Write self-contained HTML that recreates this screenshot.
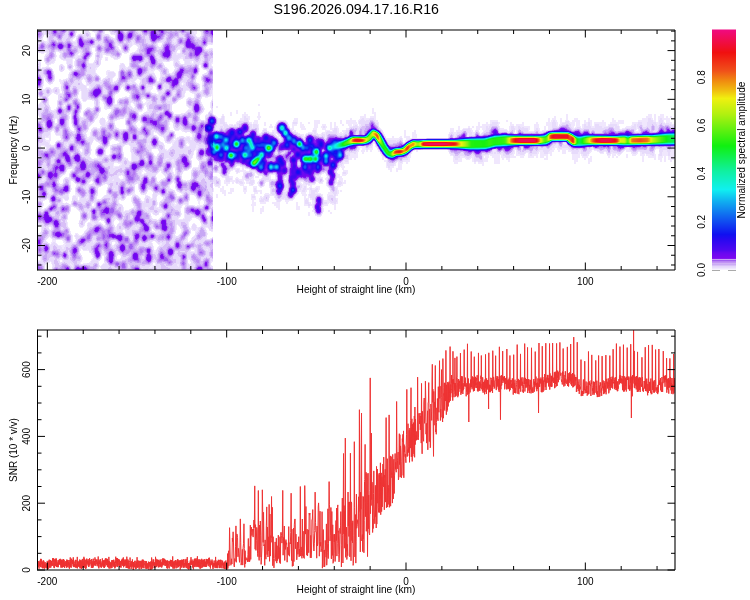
<!DOCTYPE html><html><head><meta charset="utf-8"><style>html,body{margin:0;padding:0;background:#fff;width:750px;height:600px;overflow:hidden}svg{display:block}text{font-family:'Liberation Sans',Arial,Helvetica,sans-serif;font-size:10px;fill:#000}</style></head><body>
<svg xmlns="http://www.w3.org/2000/svg" width="750" height="600" viewBox="0 0 750 600">
<rect width="750" height="600" fill="#fff"/>
<text transform="translate(356.2,13.9) scale(1,1.07)" text-anchor="middle" style="font-size:14.2px">S196.2026.094.17.16.R16</text>
<g clip-path="url(#c1)"><defs><filter id="fn" filterUnits="userSpaceOnUse" x="30" y="24" width="186" height="252" color-interpolation-filters="sRGB"><feGaussianBlur stdDeviation="0.8"/><feComponentTransfer><feFuncR type="table" tableValues="1 1 1 1 1 1 1 1 1 1 1 1 1 1 1 1 1 0.9412 0.9412 0.9412 0.9412 0.9412 0.9412 0.9098 0.9098 0.9098 0.9098 0.9098 0.9098 0.9098 0.9098 0.9098 0.9098 0.9098 0.9098 0.9098 0.9098 0.9098 0.9098 0.9098 0.9098 0.9098 0.8471 0.8471 0.8471 0.8471 0.8471 0.8471 0.8471 0.8471 0.8471 0.8471 0.8471 0.8471 0.8471 0.8471 0.8471 0.7843 0.7843 0.7843 0.7843 0.7843 0.7843 0.7843 0.7843 0.7843 0.7843 0.7843 0.7843 0.7843 0.7843 0.7529 0.7529 0.7529 0.7529 0.7529 0.7529 0.7529 0.7529 0.7529 0.7529 0.7529 0.7529 0.7529 0.7529 0.7059 0.7059 0.7059 0.7059 0.7059 0.7059 0.7059 0.7059 0.7059 0.6275 0.6275 0.6275 0.6275 0.6275 0.6275 0.6275 0.6275 0.6275 0.6275 0.6275 0.6275 0.6275 0.6275 0.6275 0.6275 0.6275 0.5451 0.5412 0.5373 0.5333 0.5294 0.5255 0.5216 0.5176 0.5137 0.5098 0.5059 0.502 0.498 0.498 0.4941 0.4902 0.4863 0.4824 0.4784 0.4745 0.4745 0.4745 0.4706 0.4706 0.4667 0.4667 0.4667 0.4627 0.4627 0.4588 0.4588 0.4588 0.4549 0.4549 0.451 0.451 0.451 0.4471 0.4471 0.4431 0.4431 0.4392 0.4392 0.4392 0.4353 0.4353 0.4314 0.4314 0.4314 0.4275 0.4275 0.4235 0.4235 0.4235 0.4196 0.4196 0.4157 0.4157 0.4157 0.4118 0.4118 0.4078 0.4078 0.4039 0.4 0.3961 0.3922 0.3882 0.3843 0.3804 0.3765 0.3725 0.3686 0.3647 0.3608 0.3569 0.3569 0.3529 0.349 0.3451 0.3412 0.3373 0.3333 0.3294 0.3255 0.3216 0.3176 0.3137 0.3137 0.3098 0.3098 0.3098 0.3059 0.3059 0.302 0.302 0.302 0.298 0.298 0.2941 0.2941 0.2941 0.2902 0.2902 0.2902 0.2863 0.2863 0.2824 0.2824 0.2824 0.2784 0.2784 0.2745 0.2745 0.2745 0.2706 0.2706 0.2706 0.2667 0.2667 0.2627 0.2627 0.2627 0.2588 0.2588 0.2588 0.2549 0.2549 0.251 0.251 0.251 0.2471 0.2471 0.2431 0.2431 0.2431 0.2392 0.2392 0.2392 0.2353 0.2353 0.2314 0.2314 0.2314 0.2275"/><feFuncG type="table" tableValues="1 1 1 1 1 1 1 1 1 1 1 1 1 1 1 1 1 0.9098 0.9098 0.9098 0.9098 0.9098 0.9098 0.8627 0.8627 0.8627 0.8627 0.8627 0.8627 0.8627 0.8627 0.8627 0.8627 0.8627 0.8627 0.8627 0.8627 0.8627 0.8627 0.8627 0.8627 0.8627 0.7529 0.7529 0.7529 0.7529 0.7529 0.7529 0.7529 0.7529 0.7529 0.7529 0.7529 0.7529 0.7529 0.7529 0.7529 0.6588 0.6588 0.6588 0.6588 0.6588 0.6588 0.6588 0.6588 0.6588 0.6588 0.6588 0.6588 0.6588 0.6588 0.5647 0.5647 0.5647 0.5647 0.5647 0.5647 0.5647 0.5647 0.5647 0.5647 0.5647 0.5647 0.5647 0.5647 0.4863 0.4863 0.4863 0.4863 0.4863 0.4863 0.4863 0.4863 0.4863 0.3765 0.3765 0.3765 0.3765 0.3765 0.3765 0.3765 0.3765 0.3765 0.3765 0.3765 0.3765 0.3765 0.3765 0.3765 0.3765 0.3765 0.1216 0.1176 0.1098 0.1059 0.102 0.0941 0.0902 0.0863 0.0784 0.0745 0.0706 0.0667 0.0588 0.0549 0.051 0.0431 0.0392 0.0353 0.0314 0.0314 0.0314 0.0314 0.0314 0.0314 0.0314 0.0314 0.0314 0.0314 0.0314 0.0314 0.0314 0.0314 0.0314 0.0314 0.0314 0.0314 0.0314 0.0314 0.0314 0.0314 0.0314 0.0314 0.0314 0.0314 0.0314 0.0314 0.0314 0.0314 0.0314 0.0314 0.0314 0.0314 0.0314 0.0314 0.0314 0.0314 0.0314 0.0314 0.0314 0.0314 0.0314 0.0314 0.0314 0.0314 0.0314 0.0314 0.0314 0.0314 0.0314 0.0314 0.0314 0.0314 0.0314 0.0314 0.0314 0.0314 0.0314 0.0314 0.0314 0.0314 0.0314 0.0314 0.0314 0.0314 0.0314 0.0314 0.0314 0.0314 0.0314 0.0314 0.0314 0.0314 0.0314 0.0314 0.0314 0.0314 0.0314 0.0314 0.0314 0.0314 0.0314 0.0314 0.0314 0.0314 0.0314 0.0314 0.0314 0.0314 0.0314 0.0314 0.0314 0.0314 0.0314 0.0314 0.0314 0.0314 0.0314 0.0314 0.0314 0.0314 0.0314 0.0314 0.0314 0.0314 0.0314 0.0314 0.0314 0.0314 0.0314 0.0314 0.0314 0.0314 0.0314 0.0314 0.0314 0.0314 0.0314 0.0314 0.0314 0.0314 0.0314 0.0314 0.0314 0.0314 0.0314"/><feFuncB type="table" tableValues="1 1 1 1 1 1 1 1 1 1 1 1 1 1 1 1 1 0.9922 0.9922 0.9922 0.9922 0.9922 0.9922 0.9882 0.9882 0.9882 0.9882 0.9882 0.9882 0.9882 0.9882 0.9882 0.9882 0.9882 0.9882 0.9882 0.9882 0.9882 0.9882 0.9882 0.9882 0.9882 0.9725 0.9725 0.9725 0.9725 0.9725 0.9725 0.9725 0.9725 0.9725 0.9725 0.9725 0.9725 0.9725 0.9725 0.9725 0.9569 0.9569 0.9569 0.9569 0.9569 0.9569 0.9569 0.9569 0.9569 0.9569 0.9569 0.9569 0.9569 0.9569 0.9569 0.9569 0.9569 0.9569 0.9569 0.9569 0.9569 0.9569 0.9569 0.9569 0.9569 0.9569 0.9569 0.9569 0.949 0.949 0.949 0.949 0.949 0.949 0.949 0.949 0.949 0.9412 0.9412 0.9412 0.9412 0.9412 0.9412 0.9412 0.9412 0.9412 0.9412 0.9412 0.9412 0.9412 0.9412 0.9412 0.9412 0.9412 0.9412 0.9412 0.9412 0.9412 0.9412 0.9412 0.9412 0.9412 0.9412 0.9412 0.9412 0.9412 0.9412 0.9412 0.9412 0.9412 0.9412 0.9412 0.9412 0.9412 0.9412 0.9412 0.9412 0.9412 0.9412 0.9412 0.9412 0.9412 0.9412 0.9412 0.9412 0.9412 0.9412 0.9412 0.9412 0.9412 0.9412 0.9412 0.9412 0.9412 0.9412 0.9412 0.9412 0.9412 0.9412 0.9412 0.9412 0.9412 0.9412 0.9412 0.9412 0.9412 0.9412 0.9412 0.9412 0.9412 0.9412 0.9412 0.9412 0.9412 0.9412 0.9412 0.9412 0.9412 0.9412 0.9412 0.9412 0.9412 0.9412 0.9412 0.9412 0.9412 0.9412 0.9412 0.9412 0.9412 0.9412 0.9412 0.9412 0.9412 0.9412 0.9412 0.9412 0.9412 0.9412 0.9412 0.9412 0.9412 0.9412 0.9412 0.9412 0.9412 0.9412 0.9412 0.9412 0.9412 0.9412 0.9412 0.9412 0.9412 0.9412 0.9412 0.9412 0.9412 0.9412 0.9412 0.9412 0.9412 0.9412 0.9412 0.9412 0.9412 0.9412 0.9412 0.9412 0.9412 0.9412 0.9412 0.9412 0.9412 0.9412 0.9412 0.9412 0.9412 0.9412 0.9412 0.9412 0.9412 0.9412 0.9412 0.9412 0.9412 0.9412 0.9412 0.9412 0.9412 0.9412 0.9412 0.9412 0.9412 0.9412 0.9412 0.9412 0.9412 0.9412"/></feComponentTransfer></filter><clipPath id="cn"><rect x="38" y="30" width="175" height="240"/></clipPath><filter id="fb" filterUnits="userSpaceOnUse" x="200" y="60" width="490" height="200" color-interpolation-filters="sRGB"><feGaussianBlur stdDeviation="1.25"/><feComponentTransfer><feFuncR type="table" tableValues="1 0.9412 0.9098 0.9098 0.8471 0.7843 0.7843 0.7529 0.7059 0.6275 0.6275 0.5373 0.5059 0.4745 0.4588 0.4471 0.4314 0.4157 0.3961 0.3608 0.3255 0.3059 0.2902 0.2784 0.2627 0.251 0.2392 0.2235 0.2118 0.1961 0.1843 0.1686 0.1529 0.1373 0.1176 0.102 0.0824 0.0667 0.0627 0.0627 0.0627 0.0627 0.0627 0.0627 0.0627 0.0627 0.0627 0.0627 0.0627 0.0627 0.0627 0.0627 0.0627 0.0627 0.0627 0.0627 0.0627 0.0627 0.0627 0.0627 0.0627 0.0627 0.0627 0.0627 0.0627 0.0627 0.0627 0.0627 0.0627 0.0627 0.0627 0.0627 0.0627 0.0627 0.0627 0.0627 0.0627 0.0627 0.0627 0.0627 0.0627 0.0627 0.0627 0.0627 0.0627 0.0627 0.0627 0.0627 0.0627 0.0627 0.0627 0.0627 0.0627 0.0627 0.0627 0.0627 0.0627 0.0627 0.0627 0.0627 0.0627 0.0627 0.0627 0.0627 0.0627 0.0627 0.0627 0.0627 0.0627 0.0627 0.0627 0.0627 0.0627 0.0627 0.0627 0.0627 0.0627 0.0627 0.0627 0.0627 0.0627 0.0627 0.0627 0.0627 0.0627 0.0627 0.0627 0.0627 0.0627 0.0627 0.0627 0.0627 0.0745 0.0941 0.1137 0.1333 0.149 0.1686 0.1882 0.2078 0.2235 0.2431 0.2627 0.2824 0.298 0.3176 0.3373 0.3569 0.3725 0.3922 0.4118 0.4314 0.451 0.4667 0.4863 0.5059 0.5255 0.5451 0.5647 0.5804 0.6 0.6196 0.6392 0.6588 0.6745 0.6941 0.7098 0.7255 0.7373 0.7529 0.7686 0.7843 0.7961 0.8118 0.8275 0.8431 0.8588 0.8706 0.8863 0.902 0.9176 0.9294 0.9412 0.9412 0.9412 0.9412 0.9412 0.9412 0.9412 0.9412 0.9412 0.9412 0.9412 0.9412 0.9412 0.9412 0.9412 0.9412 0.9412 0.9412 0.9412 0.9412 0.9412 0.9412 0.9412 0.9412 0.9412 0.9412 0.9412 0.9412 0.9412 0.9412 0.9412 0.9412 0.9412 0.9412 0.9412 0.9412 0.9412 0.9412 0.9412 0.9412 0.9412 0.9412 0.9412 0.9412 0.9412 0.9412 0.9412 0.9412 0.9412 0.9412 0.9412 0.9412 0.9412 0.9412 0.9412 0.9412 0.9412 0.9412 0.9412 0.9412 0.9412 0.9412 0.9412 0.9412 0.9412 0.9412 0.9412 0.9412 0.9412 0.9412 0.9412 0.9412 0.9412 0.9412"/><feFuncG type="table" tableValues="1 0.9098 0.8627 0.8627 0.7529 0.6588 0.6588 0.5647 0.4863 0.3765 0.3765 0.1137 0.0667 0.0314 0.0314 0.0314 0.0314 0.0314 0.0314 0.0314 0.0314 0.0314 0.0314 0.0314 0.0314 0.0314 0.0314 0.0314 0.0314 0.0314 0.0314 0.0314 0.0353 0.0392 0.0471 0.051 0.0549 0.0627 0.0745 0.0941 0.1098 0.1294 0.1451 0.1647 0.1804 0.1961 0.2157 0.2314 0.251 0.2667 0.2863 0.302 0.3176 0.3373 0.3529 0.3725 0.3882 0.4078 0.4235 0.4392 0.4588 0.4784 0.4941 0.5137 0.5333 0.549 0.5686 0.5882 0.6039 0.6235 0.6431 0.6588 0.6784 0.698 0.7176 0.7373 0.7569 0.7804 0.8 0.8196 0.8392 0.8627 0.8824 0.902 0.9216 0.9412 0.9412 0.9412 0.9412 0.9412 0.9412 0.9412 0.9412 0.9412 0.9412 0.9412 0.9412 0.9412 0.9412 0.9412 0.9412 0.9412 0.9412 0.9412 0.9412 0.9412 0.9412 0.9412 0.9412 0.9412 0.9412 0.9412 0.9412 0.9412 0.9412 0.9412 0.9412 0.9412 0.9412 0.9412 0.9412 0.9412 0.9412 0.9412 0.9412 0.9412 0.9412 0.9412 0.9412 0.9412 0.9412 0.9412 0.9412 0.9412 0.9412 0.9412 0.9412 0.9412 0.9412 0.9412 0.9412 0.9412 0.9412 0.9412 0.9412 0.9412 0.9412 0.9412 0.9412 0.9412 0.9412 0.9412 0.9412 0.9412 0.9412 0.9412 0.9412 0.9412 0.9412 0.9412 0.9412 0.9412 0.9412 0.9412 0.9412 0.9412 0.9412 0.9412 0.9412 0.9412 0.9412 0.9412 0.9412 0.9412 0.9412 0.9412 0.9412 0.9412 0.9412 0.9412 0.9412 0.9412 0.9333 0.9098 0.8863 0.8627 0.8392 0.8157 0.7922 0.7686 0.749 0.7294 0.7098 0.6902 0.6706 0.651 0.6314 0.6118 0.5922 0.5725 0.5529 0.5294 0.5098 0.4902 0.4667 0.4471 0.4235 0.4039 0.3804 0.3608 0.3373 0.3176 0.302 0.2902 0.2784 0.2627 0.251 0.2392 0.2235 0.2118 0.2 0.1843 0.1725 0.1608 0.149 0.1333 0.1216 0.1098 0.0941 0.0824 0.0706 0.0627 0.0627 0.0588 0.0588 0.0588 0.0588 0.0549 0.0549 0.0549 0.0549 0.051 0.051 0.051 0.051 0.0471 0.0471 0.0471 0.0471 0.0431 0.0431 0.0431 0.0431 0.0392 0.0392 0.0392"/><feFuncB type="table" tableValues="1 0.9922 0.9882 0.9882 0.9725 0.9569 0.9569 0.9569 0.949 0.9412 0.9412 0.9412 0.9412 0.9412 0.9412 0.9412 0.9412 0.9412 0.9412 0.9412 0.9412 0.9412 0.9412 0.9412 0.9412 0.9412 0.9412 0.9412 0.9412 0.9412 0.9412 0.9412 0.9412 0.9412 0.9412 0.9412 0.9412 0.9412 0.9412 0.9412 0.9412 0.9412 0.9412 0.9412 0.9412 0.9412 0.9412 0.9412 0.9412 0.9412 0.9412 0.9412 0.9412 0.9412 0.9412 0.9412 0.9412 0.9412 0.9412 0.9412 0.9412 0.9412 0.9412 0.9412 0.9412 0.9412 0.9412 0.9412 0.9412 0.9412 0.9412 0.9412 0.9412 0.9412 0.9412 0.9412 0.9412 0.9412 0.9412 0.9412 0.9412 0.9412 0.9412 0.9412 0.9412 0.9412 0.9255 0.9098 0.8902 0.8745 0.8588 0.8431 0.8275 0.8118 0.7961 0.7804 0.7647 0.749 0.7333 0.7176 0.702 0.6824 0.6667 0.651 0.6353 0.6196 0.5961 0.5765 0.5529 0.5333 0.5137 0.4902 0.4706 0.451 0.4275 0.4078 0.3843 0.3647 0.3451 0.3216 0.302 0.2824 0.2588 0.2392 0.2157 0.1961 0.1765 0.1529 0.1333 0.1137 0.0902 0.0706 0.0627 0.0627 0.0627 0.0627 0.0627 0.0627 0.0627 0.0627 0.0627 0.0627 0.0627 0.0627 0.0627 0.0627 0.0627 0.0627 0.0627 0.0627 0.0627 0.0627 0.0627 0.0627 0.0627 0.0627 0.0627 0.0627 0.0627 0.0627 0.0627 0.0627 0.0627 0.0627 0.0627 0.0627 0.0627 0.0627 0.0627 0.0627 0.0627 0.0627 0.0627 0.0627 0.0627 0.0627 0.0627 0.0627 0.0627 0.0627 0.0627 0.0627 0.0627 0.0627 0.0627 0.0627 0.0627 0.0627 0.0627 0.0627 0.0627 0.0627 0.0627 0.0627 0.0627 0.0627 0.0627 0.0627 0.0627 0.0627 0.0627 0.0667 0.0706 0.0745 0.0745 0.0784 0.0824 0.0863 0.0902 0.0941 0.098 0.102 0.102 0.098 0.098 0.0941 0.0902 0.0902 0.0863 0.0863 0.0824 0.0824 0.0784 0.0784 0.0745 0.0745 0.0706 0.0706 0.0667 0.0667 0.0627 0.0706 0.0902 0.1098 0.1255 0.1451 0.1647 0.1804 0.2 0.2157 0.2353 0.2549 0.2706 0.2902 0.3098 0.3255 0.3451 0.3647 0.3804 0.4 0.4196 0.4353 0.4549 0.4745 0.4902 0.5098"/></feComponentTransfer></filter><linearGradient id="gb" gradientUnits="userSpaceOnUse" x1="331" y1="0" x2="682" y2="0"><stop offset="0.0000" stop-color="#4c4c4c"/><stop offset="0.0114" stop-color="#525252"/><stop offset="0.0256" stop-color="#737373"/><stop offset="0.0370" stop-color="#8c8c8c"/><stop offset="0.0484" stop-color="#949494"/><stop offset="0.0570" stop-color="#b2b2b2"/><stop offset="0.0627" stop-color="#dbdbdb"/><stop offset="0.0741" stop-color="#ededed"/><stop offset="0.0883" stop-color="#e6e6e6"/><stop offset="0.0997" stop-color="#b8b8b8"/><stop offset="0.1083" stop-color="#9e9e9e"/><stop offset="0.1140" stop-color="#a3a3a3"/><stop offset="0.1211" stop-color="#bdbdbd"/><stop offset="0.1282" stop-color="#d1d1d1"/><stop offset="0.1339" stop-color="#e0e0e0"/><stop offset="0.1396" stop-color="#a8a8a8"/><stop offset="0.1453" stop-color="#8f8f8f"/><stop offset="0.1510" stop-color="#858585"/><stop offset="0.1595" stop-color="#8f8f8f"/><stop offset="0.1667" stop-color="#858585"/><stop offset="0.1709" stop-color="#8f8f8f"/><stop offset="0.1766" stop-color="#b8b8b8"/><stop offset="0.1823" stop-color="#e0e0e0"/><stop offset="0.1994" stop-color="#e8e8e8"/><stop offset="0.2080" stop-color="#bdbdbd"/><stop offset="0.2179" stop-color="#e6e6e6"/><stop offset="0.2251" stop-color="#c2c2c2"/><stop offset="0.2350" stop-color="#cccccc"/><stop offset="0.2450" stop-color="#9e9e9e"/><stop offset="0.2536" stop-color="#a8a8a8"/><stop offset="0.2621" stop-color="#ededed"/><stop offset="0.2821" stop-color="#f7f7f7"/><stop offset="0.3248" stop-color="#f7f7f7"/><stop offset="0.3390" stop-color="#ededed"/><stop offset="0.3561" stop-color="#e3e3e3"/><stop offset="0.3618" stop-color="#c9c9c9"/><stop offset="0.3732" stop-color="#b2b2b2"/><stop offset="0.3875" stop-color="#9e9e9e"/><stop offset="0.3989" stop-color="#878787"/><stop offset="0.4387" stop-color="#858585"/><stop offset="0.4530" stop-color="#8c8c8c"/><stop offset="0.4672" stop-color="#878787"/><stop offset="0.4957" stop-color="#8c8c8c"/><stop offset="0.5043" stop-color="#a6a6a6"/><stop offset="0.5128" stop-color="#cccccc"/><stop offset="0.5242" stop-color="#e6e6e6"/><stop offset="0.5385" stop-color="#f5f5f5"/><stop offset="0.5812" stop-color="#f5f5f5"/><stop offset="0.5897" stop-color="#dbdbdb"/><stop offset="0.5983" stop-color="#b2b2b2"/><stop offset="0.6097" stop-color="#8c8c8c"/><stop offset="0.6182" stop-color="#9e9e9e"/><stop offset="0.6239" stop-color="#dbdbdb"/><stop offset="0.6382" stop-color="#f0f0f0"/><stop offset="0.6581" stop-color="#e8e8e8"/><stop offset="0.6752" stop-color="#ededed"/><stop offset="0.6809" stop-color="#c7c7c7"/><stop offset="0.6852" stop-color="#dbdbdb"/><stop offset="0.6909" stop-color="#ededed"/><stop offset="0.6966" stop-color="#9e9e9e"/><stop offset="0.7009" stop-color="#808080"/><stop offset="0.7094" stop-color="#757575"/><stop offset="0.7208" stop-color="#8f8f8f"/><stop offset="0.7322" stop-color="#a8a8a8"/><stop offset="0.7436" stop-color="#cccccc"/><stop offset="0.7550" stop-color="#e6e6e6"/><stop offset="0.7721" stop-color="#f5f5f5"/><stop offset="0.8006" stop-color="#f0f0f0"/><stop offset="0.8148" stop-color="#e0e0e0"/><stop offset="0.8234" stop-color="#b0b0b0"/><stop offset="0.8376" stop-color="#b2b2b2"/><stop offset="0.8462" stop-color="#808080"/><stop offset="0.8547" stop-color="#cccccc"/><stop offset="0.8803" stop-color="#d4d4d4"/><stop offset="0.9031" stop-color="#cccccc"/><stop offset="0.9145" stop-color="#adadad"/><stop offset="0.9373" stop-color="#949494"/><stop offset="0.9601" stop-color="#808080"/><stop offset="0.9829" stop-color="#737373"/><stop offset="1.0000" stop-color="#737373"/></linearGradient><clipPath id="cb2"><rect x="205" y="30" width="470" height="240"/></clipPath></defs><g clip-path="url(#cn)"><g filter="url(#fn)"><rect x="28" y="22" width="190" height="256" fill="#000"/><g transform="translate(28,22) scale(2)" fill="none" stroke-width="1"><path stroke="#010101" d="M31 0.5h1M55 0.5h1M80 0.5h1M91 0.5h1M94 0.5h1M53 1.5h1M55 1.5h1M79 1.5h1M32 6.5h1M94 10.5h1M47 17.5h1M7 18.5h1M31 18.5h2M47 18.5h1M49 18.5h1M7 19.5h1M41 19.5h1M49 19.5h1M37 20.5h1M40 20.5h1M42 20.5h1M49 20.5h1M14 21.5h1M38 21.5h1M41 21.5h1M43 21.5h1M71 21.5h1M94 21.5h1M13 22.5h2M94 22.5h1M14 23.5h1M37 23.5h1M44 23.5h1M86 23.5h1M94 23.5h1M13 24.5h1M19 24.5h1M37 24.5h1M44 24.5h1M71 24.5h1M87 24.5h1M14 25.5h1M18 25.5h1M35 25.5h1M37 25.5h1M37 26.5h1M46 34.5h2M48 35.5h1M12 37.5h1M44 37.5h1M4 38.5h1M4 39.5h1M89 39.5h2M0 40.5h1M3 40.5h1M11 40.5h1M13 40.5h1M30 40.5h2M76 40.5h2M29 41.5h1M32 41.5h1M36 41.5h1M74 41.5h1M2 42.5h1M28 42.5h1M78 42.5h1M76 43.5h3M90 43.5h1M73 44.5h1M89 44.5h1M0 45.5h1M36 45.5h1M36 46.5h1M87 47.5h1M89 48.5h1M45 50.5h1M55 50.5h1M44 51.5h1M71 51.5h1M46 52.5h1M42 59.5h1M33 61.5h1M32 62.5h1M49 62.5h1M32 63.5h1M48 64.5h1M90 64.5h1M32 65.5h1M32 66.5h1M50 66.5h1M82 69.5h2M84 70.5h1M78 75.5h2M65 76.5h1M80 76.5h1M77 77.5h1M80 77.5h1M78 78.5h1M94 78.5h1M16 79.5h1M94 79.5h1M22 81.5h1M72 81.5h1M38 82.5h1M22 83.5h1M36 83.5h1M54 83.5h1M22 84.5h1M38 84.5h1M54 84.5h1M36 85.5h1M61 85.5h1M65 87.5h1M49 88.5h1M65 88.5h1M83 88.5h1M49 89.5h1M81 89.5h1M83 89.5h1M9 90.5h1M83 90.5h1M50 91.5h2M50 92.5h1M24 95.5h1M77 95.5h1M21 96.5h1M20 98.5h1M20 99.5h1M24 99.5h1M24 100.5h1M24 101.5h1M5 104.5h1M22 104.5h1M75 104.5h1M26 105.5h1M93 105.5h2M90 106.5h1M92 106.5h1M90 107.5h1M28 116.5h2M30 117.5h1M10 122.5h1M10 124.5h1M11 125.5h1M36 125.5h1M36 126.5h1M12 127.5h1"/><path stroke="#020202" d="M93 0.5h1M52 1.5h1M80 1.5h1M55 2.5h1M26 4.5h1M85 6.5h1M8 7.5h1M8 8.5h1M94 9.5h1M93 11.5h1M93 12.5h1M52 13.5h1M32 14.5h1M94 14.5h1M47 16.5h1M5 17.5h1M48 17.5h1M15 19.5h1M48 19.5h1M7 20.5h1M14 20.5h2M38 20.5h1M7 21.5h1M39 21.5h2M69 21.5h2M36 22.5h1M38 22.5h1M44 22.5h1M70 22.5h1M43 23.5h1M88 24.5h1M94 24.5h1M19 25.5h1M64 25.5h1M14 26.5h1M85 26.5h1M18 27.5h1M36 27.5h1M84 28.5h1M8 30.5h1M13 30.5h1M86 30.5h1M8 31.5h1M13 31.5h1M48 36.5h1M80 36.5h1M11 37.5h1M5 38.5h1M2 40.5h1M32 40.5h1M36 40.5h1M90 40.5h1M13 41.5h1M27 41.5h1M78 41.5h1M88 41.5h1M12 42.5h1M27 42.5h1M90 42.5h1M27 43.5h1M58 43.5h1M1 44.5h1M75 44.5h1M88 45.5h2M0 46.5h1M26 46.5h1M37 46.5h2M86 47.5h1M89 47.5h1M88 48.5h1M46 49.5h2M89 49.5h2M44 50.5h1M71 50.5h1M21 51.5h1M48 52.5h1M55 52.5h1M71 52.5h1M71 53.5h1M30 55.5h1M13 58.5h3M13 59.5h1M33 60.5h1M41 60.5h1M48 62.5h1M69 62.5h1M32 64.5h1M63 64.5h1M89 64.5h1M50 65.5h1M63 65.5h1M49 66.5h1M89 66.5h1M89 67.5h1M83 68.5h1M84 71.5h1M80 74.5h1M19 76.5h1M66 77.5h1M65 78.5h1M79 78.5h1M37 82.5h1M54 82.5h1M37 85.5h1M54 85.5h1M60 85.5h1M57 88.5h1M81 88.5h1M0 89.5h1M8 90.5h1M49 90.5h1M8 91.5h1M23 93.5h1M77 94.5h1M20 97.5h1M65 97.5h1M84 99.5h1M20 100.5h1M85 101.5h1M5 103.5h1M21 103.5h1M25 103.5h1M25 104.5h1M74 105.5h1M90 105.5h1M93 106.5h2M91 107.5h1M10 109.5h1M37 118.5h1M29 119.5h1M9 122.5h1M9 124.5h1M11 124.5h1M11 127.5h1M35 127.5h1M94 127.5h1"/><path stroke="#030303" d="M20 0.5h1M32 0.5h1M92 0.5h1M54 2.5h1M55 3.5h1M25 4.5h1M32 5.5h1M65 11.5h1M53 12.5h1M51 13.5h1M32 15.5h2M5 16.5h1M32 16.5h1M6 17.5h1M49 17.5h1M6 18.5h1M14 19.5h1M76 19.5h1M43 20.5h1M71 20.5h1M94 20.5h1M49 21.5h1M41 22.5h1M72 23.5h1M35 24.5h1M13 25.5h1M15 25.5h1M44 25.5h1M17 26.5h1M44 26.5h1M65 26.5h1M86 26.5h1M37 27.5h1M44 27.5h1M55 29.5h1M85 29.5h1M9 31.5h1M63 32.5h1M47 33.5h1M63 34.5h1M12 36.5h1M44 36.5h1M49 36.5h1M79 36.5h1M81 36.5h1M4 37.5h1M25 37.5h1M14 38.5h1M3 39.5h1M36 39.5h1M76 39.5h1M87 39.5h1M1 40.5h1M28 41.5h1M73 41.5h1M90 41.5h1M31 42.5h1M2 43.5h1M27 44.5h1M56 45.5h1M21 46.5h1M89 46.5h1M34 49.5h1M45 52.5h1M22 53.5h1M30 54.5h1M12 55.5h1M78 56.5h1M66 58.5h1M41 59.5h1M69 61.5h1M33 62.5h1M89 63.5h1M50 64.5h1M48 65.5h1M89 65.5h1M33 66.5h1M32 67.5h1M50 67.5h1M82 70.5h1M2 71.5h1M20 74.5h1M19 75.5h1M77 78.5h1M39 82.5h1M72 82.5h1M35 83.5h1M35 84.5h1M21 85.5h1M55 86.5h1M49 87.5h2M57 87.5h1M66 87.5h1M81 87.5h1M0 88.5h1M10 90.5h1M51 90.5h1M87 90.5h1M9 91.5h1M32 91.5h1M49 91.5h1M83 91.5h1M49 92.5h1M51 92.5h1M21 95.5h1M90 95.5h1M77 96.5h1M90 96.5h1M62 97.5h1M44 99.5h1M83 99.5h1M20 101.5h1M28 102.5h1M75 103.5h1M21 104.5h1M27 104.5h1M22 105.5h1M75 105.5h1M81 106.5h1M15 110.5h1M63 112.5h1M29 115.5h1M27 116.5h1M30 116.5h1M37 117.5h1M30 118.5h1M27 119.5h1M36 119.5h1M36 120.5h1M10 121.5h1M35 123.5h1M11 126.5h1M35 126.5h1M36 127.5h1"/><path stroke="#040404" d="M52 0.5h1M90 0.5h1M94 1.5h1M25 3.5h1M39 4.5h1M85 5.5h1M90 12.5h1M51 14.5h1M7 17.5h1M41 18.5h1M42 19.5h1M18 20.5h1M68 20.5h1M8 21.5h1M44 21.5h1M68 21.5h1M12 22.5h1M12 23.5h1M35 23.5h1M42 23.5h1M18 24.5h1M64 24.5h1M94 25.5h1M19 26.5h1M84 27.5h1M8 29.5h1M13 29.5h1M27 29.5h1M86 29.5h1M28 30.5h1M63 33.5h1M49 35.5h1M10 37.5h1M45 37.5h1M10 38.5h1M44 38.5h1M87 38.5h2M90 38.5h1M10 39.5h1M75 39.5h1M78 39.5h1M4 40.5h1M78 40.5h1M87 40.5h1M11 41.5h1M18 41.5h1M13 42.5h1M36 42.5h1M72 43.5h1M40 44.5h1M78 44.5h1M37 45.5h1M39 46.5h1M87 46.5h1M38 47.5h1M21 48.5h1M48 48.5h1M45 49.5h1M91 49.5h1M34 50.5h1M35 51.5h1M56 51.5h1M21 52.5h1M35 52.5h1M74 55.5h2M74 56.5h1M67 58.5h1M42 60.5h1M32 61.5h1M34 61.5h1M50 63.5h1M39 64.5h2M64 64.5h1M64 65.5h1M43 71.5h1M82 71.5h2M2 72.5h1M20 75.5h1M66 76.5h1M67 77.5h1M16 78.5h1M21 80.5h2M94 80.5h1M23 81.5h1M71 81.5h1M23 82.5h1M60 84.5h1M22 85.5h1M35 85.5h1M21 86.5h1M36 86.5h1M61 86.5h1M75 86.5h1M51 87.5h1M56 87.5h1M17 89.5h1M20 89.5h1M65 89.5h1M21 90.5h1M47 90.5h2M8 92.5h1M77 93.5h1M24 94.5h1M25 95.5h1M64 97.5h1M25 98.5h1M37 100.5h1M81 100.5h1M84 100.5h1M27 103.5h2M23 104.5h1M82 105.5h1M91 105.5h2M63 111.5h1M63 113.5h1M27 115.5h1M3 116.5h1M16 119.5h1M35 124.5h2M35 125.5h1"/><path stroke="#050505" d="M33 0.5h1M78 0.5h1M55 4.5h1M27 5.5h1M33 5.5h1M23 8.5h1M66 11.5h1M53 13.5h1M46 18.5h1M32 19.5h1M37 19.5h1M47 19.5h1M39 20.5h1M44 20.5h1M13 21.5h1M18 21.5h1M72 22.5h1M86 22.5h1M19 23.5h1M20 24.5h1M87 25.5h1M35 26.5h1M64 26.5h1M14 27.5h1M19 27.5h1M65 27.5h1M54 29.5h1M84 29.5h1M54 30.5h1M14 31.5h1M86 31.5h1M93 31.5h1M79 35.5h1M50 36.5h1M82 36.5h1M79 37.5h1M82 37.5h1M5 39.5h1M14 39.5h1M77 39.5h1M3 41.5h1M52 41.5h1M29 42.5h1M58 42.5h1M72 42.5h1M88 42.5h1M79 43.5h1M26 45.5h1M55 45.5h1M73 45.5h1M94 45.5h1M4 47.5h1M39 48.5h1M39 49.5h1M55 49.5h1M48 51.5h1M21 53.5h1M94 55.5h1M30 56.5h1M75 56.5h1M13 57.5h1M12 60.5h1M43 60.5h1M70 61.5h1M50 62.5h1M40 63.5h1M90 63.5h1M26 64.5h1M62 64.5h1M83 65.5h1M33 67.5h1M83 67.5h1M0 68.5h1M1 70.5h1M77 76.5h1M17 77.5h1M46 77.5h1M16 80.5h1M72 80.5h1M21 81.5h1M71 82.5h1M94 83.5h1M38 85.5h1M55 85.5h1M65 86.5h1M82 87.5h2M9 89.5h1M21 89.5h1M87 89.5h1M48 91.5h1M48 92.5h1M25 96.5h1M25 97.5h1M63 97.5h1M83 98.5h1M44 100.5h1M85 100.5h1M38 101.5h1M74 103.5h1M89 103.5h1M62 104.5h1M74 104.5h1M76 104.5h1M14 109.5h1M22 109.5h1M0 111.5h1M42 111.5h1M3 115.5h1M26 115.5h1M31 117.5h1M37 119.5h1M80 119.5h1M27 120.5h1M11 123.5h1M12 126.5h1"/><path stroke="#060606" d="M22 0.5h1M31 1.5h1M62 1.5h1M80 2.5h1M84 2.5h1M31 4.5h1M24 5.5h1M40 5.5h1M24 6.5h1M94 8.5h1M66 10.5h1M46 13.5h1M33 14.5h1M46 14.5h1M15 15.5h1M4 17.5h1M30 19.5h1M46 19.5h1M17 20.5h1M38 23.5h1M13 26.5h1M17 27.5h1M64 27.5h1M36 28.5h1M43 28.5h1M64 28.5h1M12 31.5h1M12 32.5h1M47 32.5h1M93 32.5h1M46 33.5h1M86 33.5h1M4 34.5h1M16 34.5h1M64 34.5h1M45 35.5h1M64 35.5h1M80 35.5h1M25 36.5h1M14 37.5h1M43 37.5h1M47 37.5h1M43 38.5h1M89 38.5h1M91 38.5h1M30 39.5h1M57 39.5h1M29 40.5h1M43 40.5h1M51 41.5h1M72 41.5h1M32 42.5h1M2 44.5h1M36 44.5h1M57 44.5h1M76 44.5h1M88 44.5h1M39 45.5h1M74 45.5h2M21 47.5h1M35 47.5h1M39 47.5h1M4 48.5h1M86 48.5h2M14 49.5h1M21 49.5h1M20 50.5h2M54 51.5h1M31 53.5h1M46 53.5h1M55 53.5h1M12 54.5h1M63 55.5h1M80 55.5h1M67 59.5h1M44 60.5h1M8 63.5h1M48 66.5h1M83 66.5h1M82 68.5h1M84 69.5h1M2 70.5h1M43 70.5h1M44 71.5h1M81 73.5h1M73 75.5h1M18 76.5h1M47 77.5h1M64 77.5h1M39 81.5h1M29 82.5h1M73 83.5h1M53 85.5h1M20 86.5h1M76 86.5h1M61 87.5h1M17 88.5h1M64 88.5h1M66 88.5h1M8 89.5h1M46 89.5h1M48 89.5h1M51 89.5h1M0 90.5h1M21 91.5h1M48 93.5h1M89 95.5h1M76 97.5h2M30 99.5h1M82 99.5h1M20 102.5h1M74 102.5h1M11 103.5h1M26 103.5h1M24 104.5h1M27 105.5h1M81 105.5h1M74 106.5h1M80 107.5h1M10 108.5h1M9 109.5h1M15 109.5h1M23 109.5h1M14 110.5h1M63 110.5h1M26 114.5h1M28 115.5h1M4 117.5h1M27 117.5h1M30 119.5h1M26 120.5h1M28 120.5h1M35 120.5h1M92 121.5h1M11 122.5h1M37 125.5h1M41 126.5h1M27 127.5h1M93 127.5h1"/><path stroke="#070707" d="M91 1.5h1M8 3.5h1M25 5.5h1M38 5.5h1M8 6.5h1M33 6.5h1M32 7.5h1M43 7.5h1M73 9.5h1M90 11.5h1M92 12.5h1M93 13.5h1M52 14.5h1M75 14.5h1M14 15.5h1M47 15.5h1M50 15.5h1M50 16.5h1M40 17.5h1M3 18.5h1M14 18.5h1M31 19.5h1M76 20.5h2M93 21.5h1M11 22.5h1M39 22.5h2M93 22.5h1M22 23.5h1M41 23.5h1M70 23.5h1M63 24.5h1M17 25.5h1M65 25.5h1M71 25.5h1M15 26.5h2M8 28.5h1M13 28.5h1M44 28.5h1M36 29.5h1M14 30.5h1M8 32.5h1M86 32.5h1M7 33.5h1M93 33.5h1M86 34.5h1M93 34.5h1M50 35.5h1M13 36.5h1M87 37.5h1M78 38.5h1M26 39.5h1M32 39.5h1M43 39.5h1M37 41.5h1M11 42.5h1M28 43.5h1M41 44.5h1M21 45.5h1M93 45.5h1M86 46.5h1M0 47.5h1M35 48.5h1M13 49.5h1M33 50.5h1M34 51.5h1M44 52.5h1M30 53.5h1M72 53.5h1M12 56.5h1M77 56.5h1M94 56.5h1M42 58.5h1M33 59.5h1M68 60.5h1M68 61.5h1M71 61.5h1M79 61.5h1M7 62.5h1M40 62.5h1M70 62.5h1M26 63.5h1M33 63.5h1M91 64.5h1M40 65.5h1M31 66.5h1M63 66.5h1M90 67.5h1M50 68.5h1M72 73.5h1M65 75.5h1M64 76.5h1M68 77.5h1M80 78.5h1M93 79.5h1M94 81.5h1M94 82.5h1M23 85.5h1M37 86.5h1M81 86.5h1M36 87.5h1M51 88.5h1M57 89.5h1M52 92.5h1M50 93.5h1M30 95.5h1M20 96.5h1M62 96.5h1M65 96.5h2M30 98.5h1M32 100.5h1M43 100.5h1M81 101.5h1M86 101.5h1M6 103.5h1M47 104.5h1M89 104.5h1M22 106.5h1M82 106.5h1M81 107.5h1M22 108.5h1M80 108.5h1M11 109.5h1M16 109.5h1M42 110.5h1M3 114.5h1M31 116.5h1M45 117.5h1M5 118.5h1M27 118.5h1M80 120.5h1M92 120.5h1M11 121.5h1M91 121.5h1"/><path stroke="#080808" d="M21 0.5h1M25 2.5h1M53 2.5h1M73 2.5h1M83 2.5h1M7 3.5h1M26 3.5h1M27 4.5h1M31 5.5h1M39 5.5h1M41 6.5h1M42 7.5h1M54 12.5h1M89 12.5h1M25 15.5h1M48 16.5h1M33 17.5h1M15 18.5h1M16 19.5h1M18 19.5h1M40 19.5h1M45 19.5h1M16 20.5h1M45 20.5h1M50 20.5h1M22 21.5h1M36 21.5h1M18 22.5h1M18 23.5h1M45 23.5h1M38 26.5h1M94 26.5h1M86 27.5h1M14 28.5h1M42 28.5h1M65 28.5h1M28 29.5h1M42 29.5h1M64 29.5h1M27 30.5h1M51 30.5h1M55 30.5h1M15 32.5h1M67 34.5h1M16 35.5h1M46 37.5h1M70 38.5h1M0 39.5h1M10 40.5h1M27 40.5h1M37 40.5h1M14 41.5h1M30 42.5h1M12 43.5h1M88 43.5h1M37 44.5h1M58 44.5h1M72 44.5h1M77 44.5h1M38 45.5h1M57 45.5h1M55 46.5h1M90 48.5h1M33 49.5h1M91 50.5h1M29 55.5h1M73 55.5h1M93 55.5h1M64 56.5h1M81 56.5h1M65 57.5h1M34 60.5h1M19 61.5h1M39 63.5h1M69 63.5h1M1 65.5h1M33 65.5h1M0 67.5h1M34 67.5h1M49 67.5h1M1 69.5h1M1 71.5h1M82 72.5h1M81 74.5h1M57 75.5h2M20 76.5h1M7 78.5h1M17 78.5h1M65 79.5h1M31 80.5h2M54 81.5h1M73 82.5h1M0 83.5h1M23 83.5h1M23 84.5h1M61 84.5h1M92 84.5h1M94 84.5h1M35 86.5h1M36 88.5h1M10 89.5h1M73 90.5h1M80 90.5h1M78 91.5h1M81 91.5h1M84 91.5h1M22 92.5h1M77 92.5h1M7 93.5h1M61 95.5h1M65 98.5h1M84 98.5h1M29 100.5h1M28 101.5h1M5 102.5h1M62 103.5h1M63 104.5h1M81 104.5h1M5 105.5h1M21 105.5h1M83 105.5h1M22 107.5h1M62 109.5h1M80 109.5h1M64 111.5h1M0 112.5h1M63 120.5h1M9 121.5h1M21 121.5h1M42 125.5h1"/><path stroke="#090909" d="M20 1.5h1M81 1.5h1M63 2.5h1M30 3.5h1M39 3.5h1M85 4.5h1M86 5.5h1M86 6.5h1M23 7.5h1M7 8.5h1M9 9.5h1M52 9.5h1M44 11.5h1M32 13.5h1M89 13.5h1M8 16.5h1M33 16.5h1M49 16.5h1M46 17.5h1M23 18.5h1M6 19.5h1M22 20.5h1M70 20.5h1M82 20.5h1M15 21.5h1M15 24.5h1M16 25.5h1M88 25.5h1M13 27.5h1M38 27.5h1M17 28.5h1M27 28.5h1M86 28.5h1M14 29.5h1M10 31.5h1M30 32.5h1M3 33.5h1M16 33.5h1M25 35.5h1M72 35.5h1M4 36.5h1M11 36.5h1M6 38.5h1M14 40.5h1M51 40.5h1M52 42.5h1M36 43.5h1M81 43.5h1M90 44.5h1M27 46.5h1M93 46.5h1M26 47.5h1M55 48.5h1M44 49.5h1M48 49.5h1M35 50.5h1M31 52.5h1M34 52.5h1M79 55.5h1M76 56.5h1M56 57.5h1M9 58.5h1M12 59.5h1M66 59.5h1M13 60.5h1M60 60.5h1M12 61.5h1M6 62.5h1M84 63.5h1M83 64.5h1M51 66.5h1M31 67.5h1M72 69.5h1M1 72.5h1M19 74.5h1M58 74.5h1M66 75.5h1M36 82.5h1M93 84.5h1M59 85.5h1M75 85.5h1M51 86.5h1M56 86.5h1M21 87.5h1M21 88.5h1M25 88.5h1M45 89.5h1M86 89.5h1M0 91.5h1M10 91.5h1M52 91.5h1M64 92.5h1M21 94.5h1M89 96.5h1M90 97.5h1M35 99.5h2M43 101.5h1M80 101.5h1M11 102.5h1M25 102.5h1M75 102.5h1M4 103.5h1M81 103.5h1M4 104.5h1M6 104.5h1M90 104.5h1M25 105.5h1M26 106.5h1M75 106.5h1M51 107.5h1M23 108.5h1M43 110.5h1M1 112.5h1M26 113.5h1M89 113.5h1M82 114.5h1M16 118.5h1M80 118.5h1M8 124.5h1M43 124.5h1M76 125.5h1M7 126.5h1M27 126.5h1M41 127.5h1M64 127.5h1"/><path stroke="#0a0a0a" d="M3 0.5h1M78 1.5h1M39 2.5h1M24 4.5h1M26 5.5h1M37 6.5h1M85 7.5h1M36 10.5h1M45 12.5h1M52 12.5h1M91 12.5h1M5 15.5h1M4 16.5h1M25 16.5h1M23 17.5h1M31 17.5h1M38 17.5h1M4 18.5h2M42 18.5h1M22 19.5h1M43 19.5h1M77 19.5h1M0 20.5h1M48 20.5h1M69 20.5h1M72 20.5h1M72 21.5h1M86 21.5h1M23 22.5h1M49 22.5h1M69 22.5h1M23 23.5h1M38 24.5h1M72 24.5h1M89 24.5h1M53 25.5h1M85 25.5h1M93 25.5h1M93 26.5h1M65 29.5h1M64 30.5h1M63 31.5h1M67 33.5h1M14 36.5h1M50 37.5h1M26 38.5h1M36 38.5h1M6 39.5h1M31 39.5h1M44 39.5h1M74 40.5h1M18 42.5h1M79 42.5h1M11 43.5h1M78 45.5h1M35 46.5h1M56 46.5h1M5 47.5h1M27 47.5h1M36 47.5h1M55 47.5h1M3 48.5h1M34 48.5h1M13 50.5h1M43 50.5h1M20 51.5h1M47 53.5h1M73 54.5h1M92 54.5h2M11 55.5h1M12 57.5h1M73 57.5h1M73 58.5h1M0 60.5h1M35 60.5h1M79 60.5h1M35 61.5h1M41 61.5h1M49 61.5h1M68 62.5h1M84 62.5h1M64 63.5h1M1 64.5h1M33 64.5h1M2 65.5h1M39 65.5h1M1 66.5h1M48 67.5h1M51 69.5h1M45 71.5h1M84 72.5h1M22 73.5h1M21 74.5h1M72 74.5h2M79 74.5h1M20 77.5h1M81 77.5h1M46 78.5h1M21 79.5h1M24 81.5h1M38 81.5h1M53 82.5h1M93 83.5h1M0 84.5h1M53 84.5h1M74 84.5h1M74 85.5h1M0 87.5h1M87 88.5h1M18 89.5h1M18 90.5h1M82 91.5h1M86 91.5h1M21 92.5h1M49 93.5h1M59 93.5h1M76 94.5h1M81 99.5h1M38 100.5h1M80 102.5h1M48 104.5h1M93 104.5h2M48 105.5h1M89 107.5h1M16 110.5h1M66 111.5h1M29 114.5h1M63 114.5h1M36 121.5h1M94 121.5h1M75 124.5h1M79 125.5h1"/><path stroke="#0b0b0b" d="M23 1.5h1M84 1.5h1M24 2.5h1M54 3.5h1M84 3.5h1M30 4.5h1M40 4.5h1M84 6.5h1M9 7.5h1M33 7.5h1M22 8.5h1M65 10.5h1M93 10.5h1M53 11.5h1M33 13.5h1M14 14.5h1M53 14.5h1M6 16.5h1M14 16.5h2M38 16.5h1M14 17.5h1M50 17.5h1M22 18.5h1M17 19.5h1M44 19.5h1M50 19.5h1M71 19.5h1M82 19.5h1M86 20.5h1M12 21.5h1M45 21.5h1M6 22.5h1M45 22.5h1M41 24.5h1M60 24.5h1M34 25.5h1M38 25.5h1M63 25.5h1M7 27.5h1M11 31.5h1M11 32.5h1M16 32.5h1M1 33.5h1M12 35.5h1M26 35.5h1M72 36.5h1M81 37.5h1M3 38.5h1M57 38.5h2M28 40.5h1M44 40.5h1M14 42.5h1M37 42.5h1M37 43.5h1M27 45.5h1M40 45.5h1M1 48.5h1M14 48.5h1M35 49.5h1M43 49.5h1M48 50.5h1M54 50.5h1M56 50.5h1M33 51.5h1M75 54.5h1M77 55.5h2M91 55.5h1M15 57.5h1M66 57.5h1M81 57.5h1M12 58.5h1M65 58.5h1M43 59.5h1M0 61.5h1M80 61.5h1M84 64.5h1M91 65.5h1M40 66.5h1M91 67.5h1M1 68.5h1M2 69.5h1M12 69.5h1M18 77.5h1M15 79.5h1M37 81.5h1M73 81.5h1M21 84.5h1M54 86.5h1M60 86.5h1M61 88.5h1M7 89.5h1M20 90.5h1M46 90.5h1M65 90.5h1M64 91.5h1M87 91.5h1M0 92.5h1M9 92.5h1M32 92.5h1M65 92.5h1M0 93.5h1M44 98.5h1M64 98.5h1M75 98.5h2M45 99.5h1M28 100.5h1M80 100.5h1M84 101.5h1M6 102.5h1M81 102.5h1M85 102.5h1M92 107.5h1M10 110.5h1M56 110.5h1M62 110.5h1M65 111.5h1M64 112.5h1M3 113.5h1M81 114.5h1M30 115.5h1M44 117.5h1M80 117.5h1M62 120.5h1M91 120.5h1M35 122.5h1M8 125.5h1M75 125.5h1"/><path stroke="#0c0c0c" d="M56 0.5h1M81 0.5h1M24 3.5h1M19 6.5h1M31 6.5h1M43 6.5h1M31 7.5h1M41 7.5h1M43 8.5h1M52 10.5h1M92 11.5h1M8 15.5h1M74 15.5h1M15 17.5h1M64 17.5h1M2 18.5h1M30 18.5h1M37 18.5h1M45 18.5h1M0 19.5h1M50 21.5h1M91 21.5h2M6 23.5h1M87 23.5h1M93 23.5h1M21 24.5h1M43 24.5h1M65 24.5h1M70 24.5h1M6 25.5h1M55 28.5h1M9 30.5h1M12 30.5h1M85 30.5h1M93 30.5h1M15 31.5h1M29 31.5h1M10 32.5h1M29 32.5h1M21 33.5h1M3 34.5h1M25 34.5h1M61 34.5h2M79 34.5h1M4 35.5h1M62 35.5h1M26 36.5h1M80 43.5h1M91 43.5h1M26 44.5h1M4 46.5h1M94 46.5h1M37 47.5h1M49 47.5h1M14 50.5h1M39 50.5h1M32 51.5h1M22 52.5h1M32 52.5h1M72 52.5h1M35 53.5h1M76 53.5h1M92 53.5h1M76 55.5h1M81 55.5h1M92 55.5h1M29 56.5h1M79 56.5h1M29 57.5h1M78 57.5h1M16 58.5h1M29 58.5h1M60 58.5h1M60 59.5h1M11 60.5h1M47 62.5h1M47 64.5h1M41 65.5h1M38 66.5h1M1 67.5h1M63 67.5h1M88 67.5h1M51 68.5h1M88 68.5h1M72 70.5h1M73 73.5h1M78 74.5h1M77 75.5h1M81 75.5h1M64 78.5h1M66 78.5h1M93 78.5h1M30 80.5h1M21 82.5h1M55 84.5h1M73 84.5h1M11 85.5h1M58 86.5h1M74 86.5h1M25 87.5h1M29 87.5h1M67 87.5h1M56 88.5h1M67 88.5h1M84 89.5h1M33 90.5h1M45 90.5h1M86 90.5h1M47 91.5h1M21 93.5h1M30 94.5h1M12 95.5h1M66 95.5h1M30 96.5h1M30 97.5h1M46 99.5h1M32 101.5h1M29 102.5h1M44 104.5h1M73 106.5h1M9 108.5h1M17 109.5h1M63 109.5h1M11 110.5h1M83 114.5h1M37 116.5h1M45 116.5h1M32 117.5h1M4 118.5h1M36 118.5h1M45 118.5h1M10 120.5h2M8 122.5h1M36 123.5h1M74 125.5h1M42 126.5h1M7 127.5h1"/><path stroke="#0d0d0d" d="M30 0.5h1M61 2.5h1M75 3.5h1M9 8.5h1M46 12.5h1M76 12.5h1M54 13.5h1M4 15.5h1M51 15.5h1M7 16.5h1M24 16.5h1M37 16.5h1M40 18.5h1M50 18.5h1M2 19.5h1M8 20.5h1M32 20.5h1M7 22.5h2M35 22.5h1M85 23.5h1M34 24.5h1M93 24.5h1M70 25.5h1M15 27.5h2M94 27.5h1M76 30.5h2M16 31.5h1M47 31.5h1M9 32.5h1M2 33.5h1M12 33.5h1M25 33.5h1M48 34.5h1M59 34.5h1M26 37.5h1M80 37.5h1M91 37.5h1M2 39.5h1M26 40.5h1M58 41.5h1M22 42.5h1M13 43.5h1M41 43.5h1M39 44.5h1M76 45.5h1M20 49.5h1M49 52.5h1M72 54.5h1M13 56.5h1M8 58.5h1M21 58.5h2M72 59.5h1M32 60.5h1M45 60.5h1M50 61.5h1M31 62.5h1M62 63.5h1M38 65.5h1M2 66.5h1M64 66.5h1M91 66.5h1M51 67.5h1M70 68.5h1M50 69.5h1M63 69.5h1M68 69.5h1M44 70.5h1M85 70.5h1M57 74.5h1M66 74.5h1M73 76.5h1M81 76.5h1M6 79.5h2M64 79.5h1M72 79.5h1M53 81.5h1M29 83.5h1M39 83.5h1M72 83.5h1M62 85.5h1M77 85.5h1M24 86.5h1M34 87.5h2M74 87.5h1M9 88.5h1M34 88.5h1M84 88.5h1M33 89.5h1M64 89.5h1M77 91.5h1M85 91.5h1M33 92.5h1M59 92.5h1M62 98.5h1M82 98.5h1M90 98.5h1M31 99.5h1M43 99.5h1M85 99.5h1M33 100.5h1M82 100.5h1M86 100.5h1M44 101.5h1M74 101.5h1M10 102.5h1M43 102.5h1M29 103.5h1M84 103.5h1M51 106.5h1M10 107.5h1M11 108.5h1M33 109.5h1M59 111.5h1M2 113.5h1M31 118.5h1M44 118.5h1M6 119.5h1M37 120.5h1M81 120.5h1M62 121.5h1M75 122.5h1M38 125.5h1M64 126.5h1M26 127.5h1"/><path stroke="#0e0e0e" d="M19 0.5h1M12 1.5h1M63 1.5h1M52 2.5h1M62 2.5h1M79 2.5h1M20 3.5h1M38 4.5h1M42 6.5h1M8 9.5h1M65 12.5h1M74 14.5h1M3 17.5h1M33 18.5h1M76 18.5h1M1 19.5h1M36 19.5h1M38 19.5h1M67 19.5h1M75 19.5h1M13 20.5h1M30 20.5h1M36 20.5h1M11 21.5h1M19 21.5h1M85 21.5h1M10 22.5h1M85 22.5h1M73 23.5h1M60 25.5h1M50 30.5h1M76 31.5h2M29 33.5h1M29 34.5h1M60 34.5h1M92 34.5h1M15 35.5h1M63 35.5h1M78 37.5h1M25 38.5h1M77 38.5h1M29 39.5h1M58 39.5h1M91 39.5h1M57 40.5h1M43 41.5h1M17 42.5h1M53 42.5h1M53 43.5h1M59 43.5h1M59 44.5h1M48 47.5h1M5 48.5h1M47 48.5h1M72 50.5h1M90 50.5h1M38 51.5h1M72 51.5h1M16 54.5h1M31 54.5h1M70 54.5h1M63 56.5h1M73 56.5h1M80 56.5h1M14 57.5h1M67 57.5h1M74 57.5h1M81 58.5h1M45 59.5h1M71 60.5h1M40 61.5h1M90 62.5h1M38 64.5h1M32 68.5h1M63 68.5h1M68 68.5h1M46 71.5h1M8 72.5h1M21 73.5h1M42 73.5h1M57 76.5h1M67 76.5h1M45 77.5h1M85 78.5h1M17 79.5h1M29 81.5h1M53 83.5h1M80 85.5h1M59 86.5h1M58 87.5h1M33 91.5h1M65 91.5h1M73 91.5h1M7 92.5h1M65 93.5h1M61 96.5h1M19 99.5h1M25 99.5h1M29 99.5h1M37 99.5h1M0 101.5h1M47 103.5h1M76 103.5h1M65 104.5h1M84 104.5h1M63 105.5h1M83 106.5h1M51 108.5h1M81 108.5h1M89 108.5h2M43 109.5h1M15 111.5h2M2 112.5h1M17 112.5h1M17 113.5h1M82 113.5h1M27 114.5h1M89 114.5h1M80 116.5h1M46 117.5h1M91 119.5h1M8 123.5h1M37 124.5h1M39 125.5h1M37 126.5h1M89 127.5h1"/><path stroke="#0f0f0f" d="M39 1.5h1M56 1.5h1M20 2.5h1M23 2.5h1M82 2.5h1M82 3.5h1M24 7.5h1M84 7.5h1M22 9.5h2M60 9.5h1M44 10.5h1M33 12.5h1M31 13.5h1M76 13.5h1M93 14.5h1M37 15.5h1M40 16.5h1M65 17.5h1M3 19.5h1M72 19.5h1M81 19.5h1M86 19.5h1M19 22.5h1M53 24.5h1M43 27.5h1M37 28.5h1M54 28.5h1M43 29.5h1M36 30.5h1M7 32.5h1M13 32.5h1M21 32.5h1M8 33.5h1M38 35.5h1M92 35.5h1M90 37.5h1M92 37.5h1M35 38.5h1M76 38.5h1M60 39.5h1M5 40.5h1M4 41.5h1M87 41.5h1M94 44.5h1M35 45.5h1M20 46.5h1M25 46.5h1M38 48.5h1M88 49.5h1M70 51.5h1M33 52.5h1M23 54.5h1M76 54.5h1M11 56.5h1M14 59.5h1M11 61.5h1M31 61.5h1M60 61.5h1M0 62.5h1M89 62.5h1M47 63.5h1M63 63.5h1M75 64.5h1M31 65.5h1M51 65.5h1M62 65.5h1M65 65.5h1M2 67.5h1M2 68.5h1M35 68.5h1M54 68.5h1M0 69.5h1M22 72.5h1M19 73.5h1M80 73.5h1M47 76.5h1M16 77.5h1M81 78.5h1M32 79.5h1M40 79.5h1M42 79.5h1M79 79.5h1M17 80.5h1M73 80.5h1M16 81.5h1M30 81.5h1M70 82.5h1M10 84.5h1M39 86.5h1M52 86.5h1M17 87.5h1M4 88.5h1M10 88.5h1M35 88.5h1M19 89.5h1M47 89.5h1M17 90.5h1M84 90.5h1M76 93.5h1M11 95.5h1M47 95.5h1M77 98.5h1M36 100.5h1M83 100.5h1M29 101.5h1M23 105.5h1M87 108.5h1M81 109.5h1M72 110.5h1M11 111.5h1M18 111.5h1M42 112.5h1M3 117.5h1M5 117.5h1M6 118.5h1M17 119.5h1M16 120.5h1M25 120.5h1M29 120.5h1M35 121.5h1M63 121.5h1M75 121.5h1M22 122.5h1M44 124.5h1M10 125.5h1M65 125.5h1M65 126.5h1"/><path stroke="#101010" d="M12 0.5h1M22 1.5h1M82 4.5h1M19 5.5h1M40 6.5h1M73 8.5h1M6 9.5h1M91 11.5h1M66 12.5h1M88 13.5h1M90 13.5h1M50 14.5h1M94 15.5h1M26 16.5h1M64 16.5h1M37 17.5h1M77 18.5h1M87 18.5h1M23 19.5h1M6 20.5h1M93 20.5h1M10 21.5h1M23 21.5h1M22 22.5h1M34 23.5h1M39 23.5h2M6 24.5h1M12 24.5h1M61 24.5h1M7 26.5h1M8 27.5h1M39 27.5h1M18 28.5h2M17 29.5h1M42 30.5h1M94 30.5h1M28 31.5h1M54 31.5h2M59 33.5h1M87 33.5h1M92 33.5h1M12 34.5h1M73 34.5h1M80 34.5h1M81 35.5h1M8 36.5h1M88 37.5h1M79 38.5h1M86 38.5h1M53 41.5h1M38 44.5h1M67 44.5h1M77 45.5h1M87 45.5h1M46 48.5h1M71 49.5h1M32 50.5h1M30 52.5h1M45 53.5h1M48 53.5h1M22 54.5h1M13 55.5h1M16 55.5h1M62 56.5h1M65 56.5h1M8 57.5h1M16 57.5h1M33 58.5h1M10 59.5h1M21 59.5h1M20 60.5h1M8 62.5h1M85 62.5h1M88 62.5h1M27 63.5h1M38 63.5h1M26 65.5h1M39 66.5h1M82 67.5h1M3 68.5h1M12 68.5h1M89 68.5h1M42 71.5h1M72 72.5h1M83 72.5h1M20 73.5h1M94 77.5h1M47 78.5h1M22 79.5h1M31 79.5h1M42 83.5h1M0 85.5h1M92 85.5h1M0 86.5h1M22 86.5h1M10 87.5h1M37 87.5h1M1 88.5h1M3 88.5h1M20 88.5h1M45 88.5h1M15 91.5h1M80 91.5h1M5 93.5h1M24 93.5h1M7 94.5h1M25 94.5h1M48 94.5h1M67 95.5h1M90 99.5h1M34 100.5h1M5 101.5h1M37 101.5h1M84 102.5h1M89 102.5h1M10 103.5h1M54 103.5h1M76 105.5h1M25 106.5h1M59 110.5h1M20 111.5h1M58 111.5h1M11 113.5h1M73 116.5h1M8 121.5h1M74 121.5h1M60 122.5h1M43 125.5h1M80 125.5h1M79 126.5h1M34 127.5h1"/><path stroke="#111111" d="M23 0.5h1M82 1.5h1M90 1.5h1M93 1.5h1M31 2.5h1M81 2.5h1M94 2.5h1M31 3.5h1M80 3.5h2M84 4.5h1M84 5.5h1M18 7.5h1M72 9.5h1M64 10.5h1M37 11.5h1M45 11.5h1M25 14.5h1M9 15.5h1M16 15.5h1M75 15.5h1M39 16.5h1M39 17.5h1M66 18.5h1M86 18.5h1M66 19.5h1M1 20.5h1M46 20.5h1M67 20.5h1M78 20.5h1M81 20.5h1M6 21.5h1M50 22.5h1M48 23.5h1M85 24.5h1M94 28.5h1M53 29.5h1M15 30.5h2M87 30.5h1M27 31.5h1M31 32.5h1M62 32.5h1M85 34.5h1M65 35.5h1M43 36.5h1M83 36.5h1M3 37.5h1M82 38.5h1M1 39.5h1M59 39.5h1M86 39.5h1M58 40.5h1M86 40.5h1M3 42.5h1M39 43.5h2M1 45.5h1M73 46.5h1M13 48.5h1M89 50.5h1M36 51.5h1M76 52.5h1M16 53.5h1M49 53.5h1M74 54.5h1M62 55.5h1M64 55.5h1M31 56.5h1M30 57.5h1M75 57.5h1M10 58.5h1M16 59.5h1M7 61.5h1M84 61.5h1M87 61.5h1M87 62.5h1M70 63.5h1M61 64.5h1M73 67.5h1M69 68.5h1M81 68.5h1M50 70.5h1M8 71.5h1M38 71.5h1M45 76.5h1M19 77.5h1M23 80.5h1M65 80.5h1M21 83.5h1M57 86.5h1M20 87.5h1M24 87.5h1M28 88.5h2M1 89.5h1M61 89.5h1M7 90.5h1M64 90.5h1M6 93.5h1M47 94.5h1M61 102.5h1M3 103.5h1M11 104.5h1M28 104.5h1M64 104.5h1M82 104.5h1M25 107.5h1M13 109.5h1M17 110.5h2M72 111.5h1M3 112.5h1M81 113.5h1M20 115.5h1M56 122.5h1M61 122.5h1M57 123.5h1M42 124.5h1M76 126.5h1"/><path stroke="#121212" d="M83 3.5h1M8 4.5h1M8 5.5h1M27 6.5h1M68 7.5h1M68 8.5h1M9 10.5h1M25 13.5h1M45 13.5h1M76 15.5h1M41 17.5h1M77 17.5h1M86 17.5h1M68 19.5h1M80 19.5h1M94 19.5h1M11 20.5h1M9 21.5h1M9 22.5h1M15 22.5h1M42 24.5h1M62 24.5h1M20 25.5h1M66 26.5h1M15 28.5h2M1 32.5h1M59 32.5h1M15 33.5h1M39 35.5h1M61 35.5h1M73 35.5h1M51 39.5h1M35 41.5h1M44 41.5h1M46 42.5h1M32 43.5h1M57 43.5h1M33 48.5h1M45 48.5h1M56 52.5h1M71 54.5h1M69 55.5h1M82 56.5h1M10 57.5h1M94 57.5h1M72 58.5h1M11 59.5h1M44 59.5h1M68 59.5h1M73 59.5h1M79 59.5h1M46 60.5h1M72 60.5h1M25 62.5h1M34 62.5h1M77 64.5h1M0 66.5h1M73 68.5h1M85 69.5h1M46 70.5h1M42 72.5h1M73 72.5h1M2 73.5h1M57 73.5h1M66 73.5h1M41 74.5h1M17 76.5h1M77 79.5h1M4 80.5h1M25 81.5h1M28 82.5h1M35 82.5h1M10 83.5h1M60 83.5h1M69 83.5h1M80 84.5h1M10 85.5h1M39 85.5h1M10 86.5h1M83 86.5h1M45 87.5h1M55 87.5h1M64 87.5h1M24 88.5h1M93 88.5h1M19 90.5h1M32 90.5h1M61 90.5h1M78 92.5h1M29 94.5h1M60 94.5h1M76 95.5h1M78 96.5h1M2 97.5h1M61 97.5h1M66 97.5h1M65 99.5h1M55 101.5h1M88 102.5h1M44 103.5h1M44 105.5h1M33 108.5h1M88 108.5h1M91 108.5h1M78 109.5h1M21 110.5h1M80 110.5h1M14 111.5h1M17 111.5h1M57 111.5h1M11 112.5h1M88 112.5h1M81 115.5h1M4 116.5h1M6 117.5h1M21 120.5h1M26 121.5h1M93 121.5h1M42 122.5h1M75 123.5h1M39 124.5h1M94 126.5h1"/><path stroke="#131313" d="M62 0.5h1M83 1.5h1M92 1.5h1M6 2.5h3M69 2.5h1M72 3.5h1M85 3.5h1M7 4.5h1M56 5.5h1M83 6.5h1M86 7.5h1M33 8.5h1M7 9.5h1M36 9.5h1M64 11.5h1M8 14.5h1M31 14.5h1M72 16.5h1M24 17.5h1M36 18.5h1M65 18.5h1M75 18.5h1M23 20.5h1M57 20.5h1M78 21.5h1M15 23.5h1M60 23.5h1M45 24.5h1M0 26.5h1M39 26.5h1M0 27.5h1M15 29.5h2M44 29.5h1M84 30.5h1M14 32.5h1M61 32.5h1M67 32.5h1M4 33.5h1M11 33.5h1M30 33.5h1M38 34.5h1M17 35.5h1M78 36.5h1M92 36.5h1M48 37.5h1M27 39.5h1M70 39.5h2M52 40.5h1M33 41.5h1M38 41.5h1M42 42.5h1M59 42.5h1M54 44.5h2M79 44.5h1M20 48.5h1M92 48.5h1M3 49.5h1M81 49.5h1M53 51.5h1M91 51.5h1M70 52.5h1M42 57.5h1M57 57.5h1M8 59.5h1M22 59.5h1M65 59.5h1M10 60.5h1M67 60.5h1M69 60.5h1M1 63.5h1M7 63.5h1M31 63.5h1M40 67.5h1M34 68.5h1M17 69.5h1M72 71.5h1M85 71.5h1M3 72.5h1M56 76.5h1M63 76.5h1M68 76.5h1M87 76.5h1M7 77.5h1M60 77.5h1M8 78.5h1M43 78.5h1M68 78.5h1M85 79.5h1M90 80.5h1M43 83.5h1M11 84.5h1M34 86.5h1M4 89.5h1M72 90.5h1M59 94.5h1M62 95.5h1M82 97.5h1M2 98.5h1M35 98.5h1M63 98.5h1M46 100.5h1M44 102.5h1M43 103.5h1M4 105.5h1M89 105.5h1M48 106.5h1M13 108.5h1M60 110.5h1M62 112.5h1M28 114.5h1M46 116.5h1M11 119.5h1M35 119.5h1M92 119.5h1M30 120.5h1M38 120.5h1M64 121.5h1"/><path stroke="#141414" d="M51 1.5h1M51 2.5h1M40 3.5h1M82 5.5h1M7 7.5h1M13 8.5h1M67 9.5h1M67 10.5h1M73 10.5h1M90 10.5h1M52 11.5h1M32 12.5h1M44 12.5h1M76 14.5h1M8 17.5h1M83 20.5h1M92 20.5h1M48 21.5h1M57 21.5h1M63 23.5h1M61 25.5h1M72 25.5h1M7 28.5h1M26 29.5h1M83 29.5h1M53 30.5h1M7 31.5h1M62 31.5h1M68 31.5h1M60 33.5h3M26 34.5h1M67 35.5h1M78 35.5h1M86 35.5h1M24 37.5h1M71 37.5h1M30 38.5h1M92 38.5h1M53 40.5h1M65 40.5h1M59 41.5h1M38 42.5h1M38 43.5h1M12 44.5h1M92 44.5h1M20 47.5h1M91 48.5h1M38 50.5h1M13 51.5h1M43 51.5h1M23 53.5h1M31 55.5h1M16 56.5h1M11 57.5h1M51 57.5h1M9 59.5h1M19 60.5h1M13 61.5h1M51 62.5h1M71 62.5h1M9 63.5h1M68 63.5h1M91 63.5h1M31 64.5h1M76 64.5h1M47 65.5h1M84 65.5h1M21 66.5h1M82 66.5h1M30 67.5h1M81 69.5h1M63 70.5h1M50 71.5h1M43 72.5h1M81 72.5h1M3 73.5h1M77 74.5h1M56 75.5h1M72 75.5h1M76 76.5h1M67 78.5h1M15 80.5h1M34 82.5h1M43 82.5h1M70 83.5h1M59 84.5h1M73 85.5h1M81 85.5h1M19 86.5h1M23 86.5h1M38 86.5h1M77 86.5h1M16 87.5h1M24 89.5h2M28 89.5h1M57 90.5h1M7 91.5h1M47 92.5h1M58 93.5h1M65 95.5h1M76 96.5h1M74 98.5h1M85 98.5h1M31 100.5h1M35 100.5h1M45 100.5h1M25 101.5h1M87 101.5h1M53 102.5h2M43 104.5h1M83 104.5h1M6 105.5h1M64 105.5h1M27 106.5h1M50 106.5h1M11 107.5h1M32 109.5h1M32 110.5h1M41 110.5h1M66 110.5h1M71 110.5h1M79 110.5h1M89 115.5h1M89 116.5h1M46 118.5h1M5 119.5h1M65 124.5h1M13 127.5h1"/><path stroke="#151515" d="M4 0.5h1M34 0.5h1M77 0.5h1M21 1.5h1M73 1.5h1M72 2.5h1M73 3.5h1M55 5.5h1M28 7.5h1M94 7.5h1M5 9.5h1M14 9.5h1M5 10.5h1M35 10.5h1M33 11.5h1M31 12.5h1M51 12.5h1M6 15.5h1M46 15.5h1M49 15.5h1M3 16.5h1M2 17.5h1M38 18.5h1M72 18.5h1M13 19.5h1M87 19.5h1M93 19.5h1M2 20.5h1M31 20.5h1M47 20.5h1M85 20.5h1M91 20.5h1M33 22.5h2M68 22.5h1M62 25.5h1M45 26.5h1M28 28.5h1M78 28.5h1M51 29.5h1M94 29.5h1M92 31.5h1M60 32.5h1M94 34.5h1M8 35.5h1M83 35.5h1M64 36.5h1M5 37.5h1M36 37.5h1M83 37.5h1M71 38.5h1M69 39.5h1M6 40.5h1M59 40.5h1M71 40.5h1M10 41.5h1M22 43.5h1M31 43.5h1M3 44.5h1M60 44.5h1M91 44.5h1M60 45.5h1M76 46.5h1M15 47.5h1M2 48.5h1M26 48.5h1M81 48.5h1M7 51.5h1M31 51.5h1M36 52.5h1M62 54.5h1M77 54.5h1M91 54.5h1M9 57.5h1M82 57.5h1M11 58.5h1M32 58.5h1M1 59.5h1M32 59.5h1M10 61.5h1M88 63.5h1M65 64.5h1M35 67.5h1M31 68.5h1M84 68.5h1M71 69.5h1M40 70.5h1M85 72.5h1M65 74.5h1M21 78.5h1M32 78.5h1M40 78.5h1M41 79.5h1M55 80.5h1M44 83.5h1M55 83.5h1M71 83.5h1M69 85.5h1M76 85.5h1M29 86.5h1M49 86.5h1M80 89.5h1M74 90.5h1M88 90.5h1M23 92.5h1M28 93.5h1M50 94.5h1M2 96.5h1M67 96.5h1M51 97.5h1M81 98.5h1M2 101.5h1M27 102.5h1M38 102.5h1M24 105.5h1M47 105.5h1M73 107.5h1M24 108.5h1M32 108.5h1M79 108.5h1M12 109.5h1M41 109.5h1M72 109.5h1M79 109.5h1M0 110.5h1M22 110.5h1M78 110.5h1M62 111.5h1M26 112.5h1M29 113.5h1M31 115.5h1M49 117.5h1M31 119.5h1M63 119.5h1M75 119.5h1M79 119.5h1M94 120.5h1M39 121.5h1M61 121.5h1M21 122.5h1M38 124.5h1"/><path stroke="#161616" d="M0 0.5h1M2 0.5h1M5 1.5h1M38 1.5h1M40 2.5h1M37 7.5h1M60 8.5h1M74 8.5h1M34 10.5h1M60 10.5h1M77 11.5h1M75 13.5h1M26 15.5h1M74 16.5h1M77 16.5h1M72 17.5h1M58 18.5h1M74 18.5h1M48 22.5h1M92 22.5h1M33 24.5h1M39 24.5h2M89 25.5h1M6 26.5h1M63 26.5h1M93 27.5h1M50 29.5h1M78 29.5h1M31 31.5h1M94 31.5h1M55 32.5h1M68 32.5h1M68 33.5h1M29 35.5h1M91 36.5h1M0 38.5h1M21 39.5h1M65 39.5h1M21 40.5h1M17 41.5h1M91 42.5h1M72 45.5h1M49 46.5h1M85 46.5h1M14 47.5h1M28 47.5h1M40 49.5h1M43 52.5h1M12 53.5h1M70 53.5h1M11 54.5h1M63 54.5h1M50 60.5h1M9 62.5h1M19 62.5h1M78 62.5h3M86 62.5h1M27 64.5h1M41 64.5h1M69 64.5h1M72 68.5h1M59 69.5h1M23 71.5h1M39 71.5h1M82 73.5h1M55 75.5h1M46 76.5h1M48 78.5h1M39 80.5h1M92 83.5h1M18 86.5h1M64 86.5h1M82 86.5h1M48 88.5h1M56 89.5h1M16 90.5h1M79 91.5h1M73 92.5h1M91 92.5h1M47 93.5h1M90 94.5h1M63 96.5h2M43 98.5h1M75 101.5h1M52 102.5h1M53 103.5h1M61 104.5h1M89 106.5h1M23 107.5h1M33 107.5h1M12 108.5h1M8 109.5h1M86 109.5h1M33 110.5h1M44 110.5h1M19 111.5h1M65 112.5h1M83 113.5h1M2 114.5h1M30 114.5h1M2 116.5h1M20 116.5h1M74 117.5h1M75 120.5h1M57 122.5h1M65 122.5h1M42 123.5h1M45 125.5h1M80 126.5h1M90 127.5h1"/><path stroke="#171717" d="M30 2.5h1M1 4.5h1M28 4.5h2M48 5.5h1M23 6.5h1M43 9.5h1M55 12.5h1M77 12.5h1M54 14.5h1M48 15.5h1M52 15.5h1M87 17.5h1M43 18.5h1M39 19.5h1M3 20.5h1M39 25.5h2M34 26.5h1M58 26.5h1M7 30.5h1M23 30.5h1M32 30.5h1M78 30.5h1M32 31.5h1M78 31.5h1M0 32.5h1M87 32.5h1M15 34.5h1M11 35.5h1M82 35.5h1M49 37.5h1M56 39.5h1M91 40.5h1M52 43.5h1M1 49.5h1M37 51.5h1M57 51.5h1M8 52.5h1M92 52.5h1M35 54.5h1M94 54.5h1M28 55.5h1M90 55.5h1M79 57.5h1M53 60.5h1M48 61.5h1M72 61.5h1M75 63.5h1M2 64.5h1M51 64.5h1M45 72.5h1M42 74.5h1M43 77.5h1M86 77.5h1M42 78.5h1M72 78.5h1M89 79.5h1M54 80.5h1M71 80.5h1M33 81.5h1M55 81.5h1M69 84.5h1M4 87.5h1M2 88.5h1M33 88.5h1M85 89.5h1M93 89.5h1M31 92.5h1M51 93.5h1M65 94.5h2M81 96.5h1M83 97.5h1M19 98.5h1M2 99.5h2M2 100.5h1M19 100.5h1M25 100.5h1M1 101.5h1M90 103.5h1M91 104.5h2M72 107.5h1M16 108.5h1M61 110.5h1M64 110.5h1M18 112.5h1M64 113.5h1M37 115.5h1M26 116.5h1M44 116.5h1M32 118.5h1M31 120.5h1M80 121.5h1M36 122.5h1M50 122.5h1M62 122.5h1M82 122.5h1M92 122.5h1M56 123.5h1M79 124.5h1M40 125.5h1M44 125.5h1M63 126.5h1M42 127.5h1M63 127.5h1M73 127.5h1M76 127.5h1"/><path stroke="#181818" d="M13 0.5h1M84 0.5h1M61 1.5h1M26 2.5h1M54 4.5h1M37 5.5h1M17 7.5h1M37 10.5h1M72 10.5h1M92 13.5h1M13 15.5h1M36 15.5h1M53 15.5h1M79 15.5h1M93 15.5h1M73 16.5h1M76 16.5h1M13 18.5h1M16 18.5h1M11 19.5h1M12 20.5h1M82 21.5h1M33 23.5h1M49 23.5h1M56 28.5h1M93 29.5h1M52 30.5h1M56 30.5h1M70 32.5h1M6 33.5h1M26 33.5h1M8 34.5h1M78 34.5h1M3 35.5h1M87 36.5h1M15 38.5h1M22 38.5h1M29 38.5h1M37 39.5h1M26 43.5h1M56 44.5h1M5 46.5h1M90 47.5h1M38 49.5h1M70 50.5h1M39 51.5h1M54 52.5h1M29 54.5h1M46 54.5h1M80 54.5h1M10 56.5h1M68 56.5h1M61 57.5h1M6 61.5h1M74 61.5h1M13 62.5h1M61 62.5h1M72 62.5h1M61 63.5h1M83 63.5h1M29 67.5h1M47 68.5h1M71 68.5h1M7 71.5h1M19 72.5h1M85 73.5h1M59 75.5h1M62 76.5h1M56 77.5h1M93 77.5h1M45 78.5h1M5 79.5h1M92 79.5h1M5 80.5h1M93 80.5h1M0 82.5h1M29 84.5h1M39 84.5h1M20 85.5h1M25 86.5h1M45 86.5h1M62 87.5h1M46 88.5h1M58 88.5h1M73 89.5h1M60 91.5h1M91 93.5h1M91 94.5h1M78 95.5h1M81 97.5h1M47 98.5h1M78 98.5h1M38 99.5h1M42 99.5h1M80 99.5h1M74 100.5h1M0 102.5h1M62 102.5h1M93 103.5h1M43 111.5h1M62 113.5h1M11 114.5h1M90 114.5h1M32 116.5h1M38 117.5h1M90 117.5h1M75 118.5h1M15 119.5h1M18 119.5h1M34 119.5h1M81 119.5h1M9 120.5h1M65 123.5h1M76 124.5h1M7 125.5h1M40 126.5h1"/><path stroke="#191919" d="M24 1.5h1M11 3.5h1M38 3.5h1M34 4.5h1M48 4.5h1M83 4.5h1M28 5.5h1M41 5.5h1M83 5.5h1M9 6.5h1M21 8.5h1M78 8.5h1M48 9.5h1M59 9.5h1M68 9.5h1M74 9.5h1M46 11.5h1M3 15.5h1M7 15.5h1M73 15.5h1M36 16.5h1M76 17.5h1M19 18.5h1M44 18.5h1M64 18.5h1M92 19.5h1M19 20.5h1M29 20.5h1M3 21.5h1M17 21.5h1M33 21.5h1M56 21.5h1M33 25.5h1M43 25.5h1M53 26.5h1M84 26.5h1M0 28.5h1M77 29.5h1M17 30.5h1M33 30.5h1M23 31.5h1M48 31.5h1M85 31.5h1M26 32.5h1M37 33.5h1M37 35.5h1M91 35.5h1M3 36.5h1M15 36.5h1M73 36.5h1M9 37.5h1M77 37.5h1M45 38.5h1M28 39.5h1M18 40.5h1M60 40.5h1M26 41.5h1M79 41.5h1M51 42.5h1M81 42.5h1M93 44.5h1M3 45.5h2M82 45.5h1M90 45.5h1M80 49.5h1M52 50.5h1M30 51.5h1M20 52.5h1M23 55.5h1M7 56.5h1M15 56.5h1M31 57.5h1M68 57.5h1M74 58.5h1M79 58.5h1M0 59.5h1M46 59.5h1M36 60.5h1M70 60.5h1M20 61.5h1M36 61.5h1M44 61.5h1M47 61.5h1M53 61.5h1M59 61.5h1M83 61.5h1M26 62.5h1M74 62.5h1M25 63.5h1M51 63.5h1M3 67.5h1M37 67.5h1M70 67.5h1M33 68.5h1M55 68.5h1M58 68.5h1M80 68.5h1M3 69.5h1M11 69.5h1M8 70.5h1M8 73.5h1M61 76.5h1M31 78.5h1M56 78.5h1M78 79.5h1M90 79.5h1M89 80.5h1M49 81.5h1M11 83.5h1M52 85.5h1M66 86.5h1M15 87.5h1M78 90.5h1M93 90.5h1M61 91.5h1M76 92.5h1M8 93.5h1M53 93.5h1M67 94.5h1M68 95.5h1M11 96.5h2M78 97.5h1M74 99.5h1M79 100.5h1M6 101.5h1M90 101.5h1M2 102.5h1M19 102.5h1M55 102.5h1M90 102.5h1M88 103.5h1M49 105.5h1M73 105.5h1M23 106.5h1M79 107.5h1M82 107.5h1M56 109.5h1M31 110.5h1M67 110.5h1M84 110.5h1M56 111.5h1M67 111.5h1M87 112.5h1M17 114.5h1M73 115.5h1M16 117.5h1M47 118.5h1M20 120.5h1M39 120.5h1M22 121.5h1M31 121.5h1M82 121.5h1M39 122.5h1M39 123.5h1M93 126.5h1M8 127.5h1"/><path stroke="#1a1a1a" d="M73 0.5h1M34 1.5h1M38 2.5h1M56 2.5h1M74 3.5h1M20 4.5h1M86 4.5h1M28 8.5h1M22 10.5h1M51 10.5h1M5 11.5h1M4 14.5h1M2 15.5h1M2 16.5h1M46 16.5h1M36 17.5h1M74 17.5h1M21 18.5h1M8 19.5h1M73 19.5h1M84 20.5h1M32 21.5h1M74 23.5h1M17 24.5h1M1 25.5h1M20 26.5h1M40 26.5h1M43 26.5h1M59 26.5h1M20 27.5h1M54 27.5h1M68 27.5h1M78 27.5h1M7 29.5h1M46 32.5h1M64 33.5h1M7 34.5h1M91 34.5h1M9 36.5h2M65 36.5h1M65 37.5h1M89 37.5h1M35 39.5h1M72 40.5h1M5 41.5h1M45 42.5h1M3 43.5h1M7 43.5h1M6 44.5h1M11 44.5h1M20 45.5h1M58 45.5h1M34 47.5h1M85 47.5h1M93 47.5h1M92 49.5h1M73 53.5h1M21 54.5h1M42 56.5h1M41 58.5h1M15 59.5h1M34 59.5h1M81 59.5h1M40 60.5h1M80 60.5h2M78 63.5h1M25 64.5h1M76 65.5h1M82 65.5h1M54 67.5h1M64 67.5h1M74 67.5h1M49 68.5h1M43 69.5h1M47 69.5h1M47 70.5h1M47 71.5h1M47 72.5h1M0 73.5h1M9 73.5h1M18 75.5h1M20 78.5h1M60 78.5h1M91 79.5h1M27 82.5h1M42 82.5h1M49 82.5h1M55 82.5h1M9 83.5h1M62 84.5h1M91 85.5h1M30 86.5h1M91 86.5h1M3 87.5h1M74 88.5h1M34 89.5h1M66 89.5h1M74 89.5h1M11 90.5h1M72 91.5h1M15 92.5h1M53 92.5h1M63 92.5h1M31 93.5h1M61 94.5h1M26 95.5h1M16 96.5h1M43 97.5h1M78 99.5h1M42 100.5h1M19 101.5h1M61 101.5h1M9 102.5h1M17 103.5h1M60 109.5h1M23 110.5h1M1 111.5h1M30 111.5h1M16 112.5h1M88 113.5h1M20 114.5h1M45 119.5h1M93 120.5h1M65 121.5h1M73 122.5h1M22 123.5h1M34 123.5h1M43 123.5h1M61 123.5h1M71 123.5h1M41 125.5h1M77 125.5h1M34 126.5h1M2 127.5h1M79 127.5h1"/><path stroke="#1b1b1b" d="M5 0.5h1M61 0.5h1M65 0.5h1M30 1.5h1M5 2.5h1M71 3.5h1M56 4.5h1M75 4.5h1M76 6.5h1M19 7.5h1M14 8.5h1M17 8.5h2M24 8.5h1M52 8.5h1M93 9.5h1M43 10.5h1M48 10.5h1M50 11.5h1M88 12.5h1M74 13.5h1M17 14.5h1M79 14.5h1M0 18.5h1M5 19.5h1M29 23.5h1M52 24.5h1M32 25.5h1M59 25.5h1M63 27.5h1M29 30.5h1M30 31.5h1M33 31.5h1M78 32.5h1M92 32.5h1M79 33.5h1M72 34.5h1M27 35.5h1M50 38.5h1M91 41.5h1M13 44.5h1M61 44.5h1M81 44.5h1M25 45.5h1M64 45.5h1M70 49.5h1M72 49.5h1M7 50.5h1M30 50.5h1M32 53.5h1M43 53.5h1M75 53.5h1M65 55.5h1M70 55.5h1M22 57.5h1M64 57.5h1M80 57.5h1M82 59.5h1M5 60.5h1M65 60.5h1M74 60.5h1M42 61.5h1M78 61.5h1M86 61.5h1M60 62.5h1M0 63.5h1M92 63.5h1M70 64.5h1M82 64.5h1M78 65.5h1M73 66.5h1M80 67.5h1M93 69.5h1M45 70.5h1M44 72.5h1M67 72.5h1M1 73.5h1M47 75.5h1M15 78.5h1M41 78.5h1M64 80.5h1M70 81.5h1M40 82.5h1M34 83.5h1M9 84.5h1M29 85.5h1M65 85.5h1M58 89.5h1M27 90.5h1M58 90.5h1M74 91.5h1M93 91.5h1M57 92.5h1M85 92.5h1M6 94.5h1M49 94.5h1M72 97.5h1M26 98.5h1M79 99.5h1M30 100.5h1M90 100.5h1M4 102.5h1M61 103.5h1M85 103.5h1M10 106.5h2M21 106.5h1M80 106.5h1M72 108.5h1M55 111.5h1M18 113.5h1M26 119.5h1M62 119.5h1M19 120.5h1M79 121.5h1M58 122.5h1M50 123.5h1M82 123.5h1M13 126.5h1M84 126.5h2M86 127.5h1"/><path stroke="#1c1c1c" d="M37 1.5h1M70 2.5h1M91 2.5h1M32 4.5h1M7 5.5h1M38 6.5h1M59 7.5h1M83 7.5h1M86 8.5h1M93 8.5h1M23 10.5h1M43 11.5h1M54 11.5h2M3 14.5h1M34 15.5h1M54 15.5h1M23 16.5h1M87 16.5h1M42 17.5h1M92 18.5h1M4 19.5h1M19 19.5h1M30 21.5h1M77 21.5h1M91 22.5h1M52 23.5h1M64 23.5h1M29 24.5h1M12 25.5h1M45 25.5h1M72 26.5h1M66 27.5h1M93 28.5h1M24 29.5h1M56 29.5h1M34 30.5h1M64 31.5h1M69 31.5h1M2 32.5h1M11 34.5h1M28 34.5h1M37 34.5h1M66 34.5h1M44 35.5h1M51 35.5h1M0 36.5h1M17 36.5h1M29 36.5h1M65 38.5h1M69 38.5h1M50 41.5h1M57 41.5h1M80 42.5h1M14 43.5h1M54 43.5h1M66 44.5h1M71 44.5h1M14 46.5h1M36 48.5h1M85 48.5h1M20 53.5h1M15 55.5h1M8 56.5h1M51 56.5h1M77 57.5h1M68 58.5h1M78 58.5h1M8 60.5h1M8 61.5h1M81 61.5h1M54 62.5h1M22 66.5h1M27 66.5h1M27 67.5h1M68 67.5h1M87 68.5h1M84 73.5h1M59 74.5h1M67 75.5h1M72 76.5h1M44 77.5h1M32 81.5h1M52 81.5h1M61 83.5h1M56 85.5h1M64 85.5h1M4 86.5h1M53 86.5h1M22 87.5h1M60 87.5h1M87 87.5h1M94 88.5h1M22 89.5h1M41 89.5h1M85 90.5h1M58 92.5h1M83 92.5h1M75 93.5h1M82 96.5h1M35 97.5h1M75 97.5h1M51 98.5h1M65 100.5h1M53 101.5h1M26 102.5h1M16 103.5h1M48 103.5h1M11 105.5h1M65 105.5h1M24 107.5h1M68 109.5h1M87 109.5h1M13 110.5h1M62 114.5h1M7 115.5h1M64 116.5h1M90 116.5h1M12 117.5h1M75 117.5h1M88 117.5h1M33 118.5h1M91 118.5h1M10 119.5h1M33 119.5h1M12 121.5h1M59 121.5h1M12 122.5h1M59 122.5h1M70 122.5h1M91 122.5h1M60 123.5h1M82 124.5h1M12 125.5h1M86 126.5h1M6 127.5h1M65 127.5h1M92 127.5h1"/><path stroke="#1d1d1d" d="M43 0.5h1M22 2.5h1M85 2.5h1M7 6.5h1M17 9.5h1M21 9.5h1M24 10.5h1M53 10.5h1M18 13.5h1M1 14.5h1M47 14.5h1M63 16.5h1M26 17.5h1M71 18.5h1M74 19.5h1M60 22.5h1M51 23.5h1M90 23.5h1M32 26.5h1M32 27.5h1M42 27.5h1M57 27.5h1M23 29.5h1M35 30.5h1M59 31.5h1M87 31.5h1M85 33.5h1M1 34.5h1M29 37.5h1M32 38.5h1M47 38.5h1M20 39.5h1M33 39.5h1M66 40.5h1M86 41.5h1M42 43.5h1M71 43.5h1M41 45.5h1M92 47.5h1M80 48.5h1M4 49.5h1M85 49.5h2M25 50.5h1M39 52.5h1M8 53.5h1M35 55.5h1M14 56.5h1M35 56.5h1M30 58.5h1M51 58.5h1M80 58.5h1M82 58.5h1M74 59.5h1M80 59.5h1M73 60.5h1M78 60.5h1M5 61.5h1M41 62.5h1M64 62.5h1M47 66.5h1M36 67.5h1M47 67.5h1M3 71.5h1M7 72.5h1M22 74.5h1M56 74.5h1M60 76.5h1M86 76.5h1M8 77.5h1M40 77.5h1M61 77.5h1M76 77.5h1M85 77.5h1M89 78.5h1M45 79.5h1M80 79.5h1M40 80.5h1M31 81.5h1M93 82.5h1M77 84.5h1M73 86.5h1M30 87.5h1M75 87.5h1M22 88.5h1M30 88.5h1M62 88.5h1M86 88.5h1M79 90.5h1M24 92.5h1M86 92.5h1M57 93.5h1M66 93.5h1M70 93.5h1M75 99.5h1M3 102.5h1M20 103.5h1M80 103.5h1M32 107.5h1M42 109.5h1M8 110.5h1M49 111.5h1M71 111.5h1M54 112.5h1M2 115.5h1M25 115.5h1M90 115.5h1M36 117.5h1M64 117.5h1M72 117.5h1M89 117.5h1M11 118.5h1M38 119.5h1M6 120.5h2M40 121.5h1M55 121.5h1M73 121.5h1M81 121.5h1M12 123.5h1M56 124.5h1M74 124.5h1M78 125.5h1M8 126.5h1M19 126.5h1M56 126.5h1M23 127.5h1M80 127.5h1"/><path stroke="#1e1e1e" d="M13 1.5h1M21 2.5h1M41 2.5h1M41 3.5h1M70 3.5h1M82 6.5h1M59 8.5h1M61 10.5h1M34 11.5h1M37 14.5h1M64 15.5h1M72 15.5h1M51 16.5h1M73 17.5h1M8 18.5h1M17 18.5h1M73 18.5h1M82 18.5h1M58 19.5h1M79 20.5h1M73 22.5h1M24 23.5h1M89 23.5h1M32 24.5h1M41 25.5h1M1 31.5h1M67 31.5h1M13 35.5h1M66 35.5h1M93 35.5h1M22 37.5h1M27 38.5h1M17 39.5h1M25 39.5h1M61 39.5h1M9 40.5h1M61 40.5h1M69 40.5h1M7 42.5h1M26 42.5h1M39 42.5h1M86 45.5h1M92 45.5h1M13 47.5h1M26 49.5h1M31 50.5h1M53 50.5h1M93 53.5h1M56 56.5h1M29 59.5h1M78 59.5h1M1 60.5h1M31 60.5h1M43 61.5h1M46 61.5h1M39 62.5h1M78 64.5h1M77 65.5h1M30 66.5h1M52 66.5h1M28 67.5h1M58 67.5h1M73 69.5h1M22 71.5h1M73 71.5h1M77 73.5h1M59 76.5h1M72 77.5h1M30 79.5h1M43 79.5h1M37 80.5h1M44 82.5h1M90 82.5h1M34 84.5h1M62 86.5h1M80 86.5h1M92 86.5h1M9 87.5h1M14 87.5h1M44 89.5h1M67 89.5h1M14 90.5h1M28 90.5h1M31 90.5h1M31 91.5h1M45 91.5h2M57 91.5h1M59 91.5h1M15 93.5h1M73 93.5h1M62 94.5h1M20 95.5h1M47 96.5h1M74 97.5h1M59 99.5h1M62 99.5h1M76 99.5h1M82 101.5h1M16 102.5h1M39 102.5h1M47 102.5h1M49 106.5h1M63 108.5h1M18 109.5h1M61 109.5h1M7 110.5h1M3 111.5h1M29 112.5h2M1 113.5h1M27 113.5h1M30 113.5h1M90 113.5h1M37 114.5h1M63 115.5h2M80 115.5h1M15 118.5h1M87 118.5h1M74 120.5h1M37 121.5h2M42 121.5h1M50 121.5h1M94 122.5h1M62 123.5h1M62 124.5h1M56 125.5h1M71 127.5h1"/><path stroke="#1f1f1f" d="M64 0.5h1M76 0.5h1M32 1.5h1M64 1.5h1M74 2.5h1M6 3.5h1M56 3.5h1M1 5.5h1M18 6.5h1M25 6.5h1M30 7.5h1M24 9.5h1M66 9.5h1M8 10.5h1M64 12.5h1M91 13.5h1M9 14.5h1M15 14.5h1M26 14.5h1M9 16.5h1M16 16.5h1M75 16.5h1M25 17.5h1M75 17.5h1M1 18.5h1M59 18.5h1M33 19.5h1M90 20.5h1M76 21.5h1M5 22.5h1M22 24.5h1M29 25.5h1M31 25.5h1M66 25.5h1M87 26.5h1M28 27.5h1M26 28.5h1M53 28.5h1M43 30.5h1M51 31.5h1M24 32.5h1M37 32.5h1M94 32.5h1M70 33.5h1M94 33.5h1M45 34.5h1M0 35.5h1M17 38.5h1M79 39.5h1M19 40.5h1M6 41.5h1M33 42.5h1M59 45.5h1M65 45.5h1M1 47.5h1M68 47.5h1M72 48.5h1M8 51.5h1M34 53.5h1M40 54.5h1M78 54.5h1M83 56.5h1M55 57.5h1M76 57.5h1M56 58.5h1M61 58.5h1M66 60.5h1M90 61.5h1M83 62.5h1M60 63.5h1M0 65.5h1M92 68.5h1M53 69.5h1M3 70.5h1M12 70.5h1M58 73.5h1M55 74.5h1M71 74.5h1M45 75.5h1M91 83.5h1M3 84.5h1M34 85.5h1M11 86.5h1M40 86.5h1M33 87.5h1M77 87.5h1M26 88.5h1M63 88.5h1M52 90.5h1M58 91.5h1M74 92.5h1M44 93.5h1M28 94.5h1M34 95.5h1M19 96.5h1M52 97.5h1M67 97.5h1M36 98.5h1M28 99.5h1M5 100.5h1M54 101.5h1M73 101.5h1M7 103.5h1M12 103.5h1M10 104.5h1M46 104.5h1M51 105.5h1M5 106.5h1M24 106.5h1M75 107.5h1M83 107.5h1M57 110.5h1M65 110.5h1M29 111.5h1M20 112.5h1M25 112.5h1M83 112.5h1M16 114.5h1M64 114.5h1M73 114.5h1M84 114.5h1M57 117.5h1M73 117.5h1M86 117.5h1M12 118.5h1M48 118.5h1M9 125.5h1M46 126.5h1M74 126.5h1M10 127.5h1"/><path stroke="#202020" d="M53 3.5h1M75 7.5h1M90 9.5h1M24 11.5h1M50 13.5h1M10 14.5h1M55 15.5h1M39 18.5h1M80 18.5h1M60 19.5h1M70 19.5h1M78 19.5h2M75 20.5h1M80 20.5h1M16 21.5h1M46 21.5h1M90 22.5h1M57 26.5h1M45 27.5h1M79 28.5h1M44 30.5h1M68 30.5h1M5 33.5h1M38 33.5h1M27 34.5h1M84 35.5h1M77 36.5h1M0 37.5h1M17 37.5h1M82 39.5h1M8 41.5h1M42 41.5h1M45 41.5h1M57 42.5h1M72 46.5h1M75 46.5h1M72 47.5h1M0 48.5h1M10 55.5h1M18 60.5h1M1 62.5h1M10 62.5h1M66 64.5h1M68 64.5h1M22 65.5h1M69 67.5h1M52 69.5h1M86 69.5h1M88 69.5h1M59 70.5h1M50 72.5h1M41 73.5h1M47 73.5h1M64 75.5h1M74 75.5h1M26 76.5h1M88 77.5h1M8 79.5h1M46 79.5h1M45 81.5h1M90 81.5h1M30 82.5h1M4 83.5h1M39 87.5h1M41 87.5h1M26 89.5h2M28 92.5h1M44 92.5h1M75 92.5h1M74 93.5h1M78 93.5h1M48 95.5h1M60 95.5h1M91 95.5h1M72 96.5h1M47 97.5h1M16 99.5h1M34 99.5h1M64 99.5h1M86 99.5h1M4 100.5h1M7 100.5h1M11 101.5h1M42 101.5h1M76 102.5h1M66 105.5h1M4 106.5h1M84 109.5h1M12 110.5h1M29 110.5h1M21 111.5h1M32 111.5h1M60 111.5h1M87 111.5h1M72 112.5h1M43 113.5h1M54 113.5h1M51 115.5h1M58 115.5h1M83 115.5h2M87 117.5h1M79 118.5h1M74 122.5h1M79 122.5h1M38 123.5h1M68 123.5h1M73 123.5h1M62 125.5h1"/><path stroke="#212121" d="M39 0.5h1M3 1.5h1M75 2.5h1M23 5.5h1M87 5.5h1M57 6.5h1M6 8.5h1M15 9.5h1M44 9.5h1M89 11.5h1M45 14.5h1M90 14.5h1M13 16.5h1M13 17.5h1M35 18.5h1M12 19.5h1M67 21.5h1M11 23.5h1M69 23.5h1M30 24.5h1M73 24.5h1M69 26.5h1M77 28.5h1M76 29.5h1M0 31.5h1M85 32.5h1M78 33.5h1M80 33.5h1M39 34.5h1M51 34.5h1M77 35.5h1M51 38.5h1M75 38.5h1M17 40.5h1M35 40.5h1M73 40.5h1M87 42.5h1M6 43.5h1M18 43.5h1M32 44.5h1M65 44.5h1M90 46.5h1M43 48.5h1M2 49.5h1M19 50.5h1M22 51.5h1M76 51.5h1M39 53.5h1M83 55.5h1M88 55.5h1M46 56.5h1M7 57.5h1M32 57.5h1M60 57.5h1M20 59.5h1M40 59.5h1M7 60.5h1M82 60.5h1M85 61.5h1M59 62.5h1M21 65.5h1M13 67.5h1M48 68.5h1M8 69.5h1M68 70.5h1M87 77.5h1M86 78.5h1M20 80.5h1M53 80.5h1M51 81.5h1M80 83.5h1M72 84.5h1M63 85.5h1M50 86.5h1M23 87.5h1M94 87.5h1M27 88.5h1M6 89.5h1M36 89.5h1M70 92.5h1M70 94.5h1M7 101.5h1M83 101.5h1M12 102.5h1M51 103.5h1M49 104.5h1M85 104.5h1M50 105.5h1M94 107.5h1M14 108.5h1M17 108.5h1M9 110.5h1M36 110.5h1M68 110.5h1M78 111.5h1M15 112.5h1M62 115.5h1M38 116.5h1M74 116.5h1M74 118.5h1M32 119.5h1M43 119.5h1M34 120.5h1M32 121.5h1M64 122.5h1M71 122.5h1M72 123.5h1M34 124.5h1M34 125.5h1M64 125.5h1M2 126.5h1M6 126.5h1M77 127.5h1"/><path stroke="#222222" d="M9 3.5h1M49 4.5h1M43 5.5h1M76 5.5h1M11 6.5h1M28 6.5h1M39 6.5h1M57 7.5h1M90 8.5h1M16 9.5h1M18 9.5h1M33 10.5h1M22 12.5h1M50 12.5h1M8 13.5h1M14 13.5h1M6 14.5h1M16 17.5h1M18 18.5h1M20 18.5h1M65 19.5h1M21 20.5h1M2 21.5h1M46 22.5h1M16 24.5h1M78 26.5h1M23 28.5h1M0 29.5h1M9 29.5h1M52 29.5h1M10 30.5h1M24 30.5h1M70 31.5h1M25 32.5h1M54 32.5h1M76 32.5h1M55 33.5h1M17 34.5h1M21 34.5h1M56 34.5h1M28 35.5h1M74 39.5h1M20 40.5h1M71 41.5h1M6 42.5h1M7 44.5h1M28 44.5h1M87 44.5h1M40 46.5h1M64 46.5h1M27 48.5h1M49 48.5h1M42 49.5h1M54 49.5h1M77 53.5h1M66 56.5h1M93 56.5h1M9 60.5h1M9 61.5h1M52 61.5h1M61 61.5h1M73 61.5h1M73 62.5h1M81 62.5h1M6 63.5h1M65 63.5h1M74 63.5h1M27 65.5h1M66 65.5h1M70 65.5h1M70 66.5h1M75 67.5h1M36 68.5h1M59 68.5h1M94 68.5h1M31 69.5h1M44 69.5h1M69 69.5h1M47 74.5h1M25 76.5h1M48 77.5h1M1 79.5h1M45 80.5h1M26 81.5h1M66 82.5h1M59 83.5h1M44 84.5h1M75 84.5h1M78 84.5h1M15 86.5h1M48 86.5h1M23 88.5h1M41 88.5h1M1 90.5h1M53 91.5h1M76 91.5h1M92 91.5h1M84 92.5h1M87 92.5h1M9 93.5h1M75 94.5h1M88 95.5h1M68 96.5h1M80 96.5h1M91 96.5h1M15 98.5h1M42 98.5h1M3 100.5h1M6 100.5h1M75 100.5h1M39 101.5h1M1 102.5h1M0 103.5h1M82 103.5h1M0 104.5h1M84 105.5h1M9 107.5h1M74 107.5h1M86 110.5h1M7 111.5h1M59 112.5h1M74 114.5h1M76 114.5h1M16 115.5h1M44 115.5h2M74 115.5h1M6 116.5h1M84 116.5h1M20 117.5h1M17 118.5h1M86 118.5h1M68 120.5h1M20 121.5h1M37 123.5h1M80 124.5h1M18 125.5h1M26 126.5h1M31 127.5h1M37 127.5h1M46 127.5h1"/><path stroke="#232323" d="M42 0.5h1M47 0.5h1M25 1.5h1M85 1.5h1M42 2.5h1M27 3.5h1M10 6.5h1M87 6.5h1M60 7.5h1M30 8.5h1M33 9.5h1M51 9.5h1M86 9.5h1M10 10.5h1M51 11.5h1M37 12.5h1M55 13.5h1M0 15.5h1M86 16.5h1M69 19.5h1M55 20.5h1M29 22.5h1M32 22.5h1M63 22.5h1M67 22.5h1M32 23.5h1M42 25.5h1M58 27.5h1M38 28.5h2M80 28.5h1M12 29.5h1M37 29.5h1M11 30.5h1M26 30.5h1M41 30.5h1M24 31.5h1M32 32.5h1M27 36.5h1M6 37.5h1M2 38.5h1M33 40.5h1M5 45.5h1M13 45.5h1M77 46.5h1M94 47.5h1M28 48.5h1M37 48.5h1M67 49.5h1M81 50.5h1M85 50.5h1M84 51.5h1M60 52.5h1M44 53.5h1M13 54.5h1M79 54.5h1M89 55.5h1M1 58.5h1M30 59.5h1M83 60.5h1M65 61.5h1M77 63.5h1M82 63.5h1M0 64.5h1M69 65.5h1M75 65.5h1M79 65.5h1M34 66.5h1M79 66.5h1M84 66.5h1M14 67.5h1M64 68.5h1M54 69.5h1M0 70.5h1M18 70.5h1M41 71.5h1M67 71.5h1M11 72.5h1M54 74.5h1M73 77.5h1M4 79.5h1M48 79.5h1M42 80.5h1M4 81.5h1M43 81.5h1M16 82.5h1M24 82.5h1M60 82.5h1M74 83.5h1M12 85.5h1M41 86.5h1M69 86.5h1M5 89.5h1M16 91.5h1M18 91.5h1M64 93.5h1M78 94.5h1M73 97.5h1M89 97.5h1M46 101.5h1M7 102.5h1M31 102.5h2M86 102.5h2M88 104.5h1M93 107.5h1M44 109.5h1M71 109.5h1M85 109.5h1M83 110.5h1M92 111.5h1M43 112.5h1M0 113.5h1M12 113.5h1M75 114.5h1M2 117.5h1M4 119.5h1M46 119.5h1M12 120.5h1M15 120.5h1M32 120.5h1M79 120.5h1M16 121.5h1M68 121.5h1"/><path stroke="#242424" d="M44 0.5h1M57 0.5h1M82 0.5h1M76 1.5h2M79 3.5h1M41 4.5h1M81 4.5h1M54 5.5h1M56 6.5h1M68 6.5h1M78 7.5h1M37 8.5h1M10 9.5h1M34 9.5h1M37 9.5h1M49 10.5h1M86 10.5h1M24 12.5h1M26 13.5h1M44 13.5h1M64 13.5h1M89 14.5h1M65 16.5h1M34 18.5h1M83 19.5h1M56 20.5h1M7 23.5h1M20 23.5h1M46 23.5h1M66 24.5h1M27 27.5h1M53 27.5h1M35 29.5h1M20 30.5h1M21 31.5h2M58 31.5h1M60 31.5h1M3 32.5h1M0 33.5h1M31 33.5h1M90 36.5h1M27 37.5h1M61 38.5h1M64 40.5h1M79 40.5h1M82 40.5h1M10 42.5h1M50 42.5h1M6 45.5h1M12 45.5h1M13 46.5h1M56 47.5h1M6 49.5h1M87 49.5h1M36 50.5h1M92 50.5h1M10 54.5h1M27 55.5h1M82 55.5h1M9 56.5h1M75 58.5h1M50 59.5h1M21 60.5h1M59 60.5h1M84 60.5h1M1 61.5h1M25 61.5h1M51 61.5h1M67 61.5h1M12 62.5h1M18 62.5h1M14 64.5h1M74 64.5h1M52 65.5h1M14 66.5h1M84 67.5h1M40 69.5h1M11 70.5h1M51 70.5h1M73 70.5h1M37 71.5h1M43 73.5h1M56 73.5h1M65 73.5h1M90 74.5h1M61 75.5h1M69 75.5h1M86 75.5h1M16 76.5h1M40 76.5h1M29 80.5h1M89 81.5h1M91 84.5h1M58 85.5h1M54 87.5h1M59 87.5h1M85 88.5h1M88 89.5h1M28 91.5h1M75 91.5h1M69 94.5h1M7 95.5h1M42 97.5h1M31 98.5h1M16 100.5h1M88 101.5h1M51 102.5h1M29 104.5h1M45 104.5h1M10 105.5h1M28 105.5h1M36 109.5h1M30 110.5h1M85 110.5h1M31 111.5h1M14 112.5h1M49 112.5h1M14 113.5h1M16 113.5h1M37 113.5h1M82 115.5h1M51 116.5h1M58 116.5h1M79 116.5h1M11 117.5h1M21 117.5h1M20 119.5h1M22 120.5h1M86 120.5h1M72 122.5h1M76 122.5h1M58 123.5h1M73 124.5h1M77 126.5h1M55 127.5h1"/><path stroke="#252525" d="M1 0.5h1M2 3.5h1M23 3.5h1M19 4.5h1M30 5.5h1M34 5.5h1M77 6.5h1M77 7.5h1M84 8.5h1M74 10.5h1M22 11.5h1M67 11.5h1M65 13.5h1M0 14.5h1M64 14.5h1M90 17.5h1M21 19.5h1M33 20.5h1M64 20.5h1M29 21.5h1M47 21.5h1M55 21.5h1M75 21.5h1M30 22.5h1M21 23.5h1M30 23.5h1M92 23.5h1M30 25.5h1M1 26.5h1M62 26.5h1M67 26.5h1M41 28.5h1M25 29.5h1M0 30.5h1M83 30.5h1M26 31.5h1M65 34.5h1M14 35.5h1M7 37.5h1M23 37.5h1M31 38.5h1M93 38.5h1M7 41.5h1M62 41.5h1M71 42.5h1M29 43.5h1M14 45.5h1M61 45.5h1M63 47.5h1M44 48.5h1M8 50.5h1M19 51.5h1M92 51.5h1M0 52.5h1M59 52.5h1M91 52.5h1M8 54.5h1M8 55.5h1M57 56.5h1M69 56.5h1M46 57.5h1M45 58.5h1M36 59.5h1M35 62.5h1M41 63.5h1M67 63.5h1M72 63.5h1M79 63.5h1M8 64.5h1M73 65.5h1M3 66.5h1M26 66.5h1M53 66.5h1M21 67.5h1M81 67.5h1M37 70.5h1M67 73.5h1M9 74.5h1M67 74.5h1M41 75.5h1M62 75.5h1M69 76.5h1M33 77.5h1M44 78.5h1M14 79.5h1M56 79.5h1M84 79.5h1M38 80.5h1M50 81.5h1M65 81.5h1M50 82.5h1M90 83.5h1M24 85.5h1M7 88.5h1M18 88.5h1M37 88.5h1M80 88.5h1M41 90.5h1M60 92.5h1M52 93.5h1M63 93.5h1M13 95.5h1M16 95.5h1M18 95.5h1M50 95.5h1M68 97.5h1M71 98.5h1M18 99.5h1M27 99.5h1M32 99.5h1M47 99.5h1M4 101.5h1M31 101.5h1M56 101.5h1M83 103.5h1M20 105.5h1M52 107.5h1M78 108.5h1M51 109.5h1M70 110.5h1M10 111.5h1M12 111.5h1M61 111.5h1M43 114.5h1M4 115.5h1M76 115.5h1M16 116.5h1M25 116.5h1M12 119.5h1M21 119.5h1M24 119.5h1M74 119.5h1M72 121.5h1M83 121.5h1M63 122.5h1M83 122.5h1M57 124.5h1M63 125.5h1M28 126.5h1M45 126.5h1M78 127.5h1"/><path stroke="#262626" d="M69 1.5h1M78 2.5h1M0 3.5h1M68 3.5h1M78 5.5h1M48 6.5h1M75 6.5h1M5 8.5h1M42 8.5h1M85 8.5h1M18 10.5h1M47 10.5h1M9 13.5h1M22 13.5h1M55 14.5h1M1 15.5h1M43 17.5h1M12 18.5h1M64 19.5h1M91 19.5h1M60 20.5h1M31 21.5h1M31 24.5h1M48 24.5h1M40 27.5h2M32 29.5h1M41 29.5h1M49 30.5h1M77 32.5h1M77 34.5h1M87 34.5h1M43 35.5h1M16 36.5h1M16 38.5h1M28 38.5h1M81 38.5h1M62 43.5h1M21 44.5h1M82 44.5h1M49 45.5h1M67 45.5h1M79 45.5h1M57 46.5h1M56 49.5h1M26 50.5h1M1 51.5h1M38 52.5h1M61 53.5h1M74 53.5h1M4 55.5h1M7 55.5h1M21 57.5h1M87 60.5h1M18 61.5h1M28 62.5h1M3 65.5h1M68 65.5h1M68 66.5h2M80 66.5h1M88 66.5h1M17 68.5h1M40 68.5h1M52 68.5h2M38 70.5h1M41 70.5h2M11 71.5h1M46 72.5h1M48 72.5h1M10 73.5h1M0 74.5h1M54 75.5h1M68 75.5h1M18 78.5h1M84 78.5h1M40 81.5h1M93 81.5h1M45 82.5h1M1 84.5h1M42 84.5h1M45 84.5h1M79 84.5h1M1 87.5h1M92 87.5h1M3 89.5h1M20 91.5h1M4 94.5h1M13 94.5h1M13 96.5h1M51 96.5h1M72 98.5h1M1 100.5h1M37 102.5h1M73 102.5h1M0 107.5h1M87 107.5h1M21 109.5h1M2 111.5h1M91 111.5h1M41 112.5h1M20 113.5h1M25 113.5h1M28 113.5h1M31 114.5h1M44 114.5h1M78 114.5h1M80 114.5h1M50 116.5h1M56 118.5h2M19 119.5h1M33 120.5h1M52 120.5h1M56 121.5h1M59 123.5h1M88 123.5h1M45 124.5h1M89 126.5h1M68 127.5h1"/><path stroke="#272727" d="M14 0.5h1M45 0.5h1M89 0.5h1M19 1.5h1M26 1.5h1M89 1.5h1M5 3.5h1M11 5.5h1M12 7.5h1M48 8.5h1M36 11.5h1M4 12.5h1M74 12.5h1M7 14.5h1M16 14.5h1M18 14.5h1M88 14.5h1M27 15.5h1M87 15.5h1M78 16.5h2M0 17.5h1M66 17.5h1M85 19.5h1M87 20.5h1M90 21.5h1M47 22.5h1M50 23.5h1M88 23.5h1M5 25.5h1M7 25.5h1M52 27.5h1M32 28.5h1M17 31.5h1M36 31.5h1M27 32.5h1M68 34.5h1M56 35.5h1M15 37.5h1M57 37.5h2M86 37.5h1M59 38.5h1M38 40.5h1M9 41.5h1M47 41.5h1M66 41.5h1M5 42.5h1M94 43.5h1M62 44.5h1M1 46.5h1M92 46.5h1M33 47.5h1M68 48.5h1M91 53.5h1M27 54.5h1M22 55.5h1M61 56.5h1M43 58.5h1M46 58.5h1M59 58.5h1M80 63.5h1M92 64.5h1M62 66.5h1M65 66.5h1M11 68.5h1M29 68.5h1M67 70.5h1M40 71.5h1M45 73.5h1M71 73.5h1M44 76.5h1M73 79.5h1M81 79.5h1M7 80.5h1M43 80.5h1M86 80.5h1M88 81.5h1M11 82.5h1M1 83.5h1M89 83.5h1M3 85.5h2M3 86.5h1M18 87.5h1M48 87.5h1M52 87.5h1M84 87.5h1M2 89.5h1M71 91.5h1M30 93.5h1M5 94.5h1M27 94.5h1M88 94.5h1M3 96.5h1M31 96.5h1M15 97.5h1M44 97.5h1M80 98.5h1M77 99.5h1M73 100.5h1M3 101.5h1M16 101.5h1M82 102.5h1M17 104.5h1M77 104.5h1M64 106.5h1M19 110.5h1M76 110.5h1M41 111.5h1M93 111.5h1M78 113.5h1M25 114.5h1M68 114.5h1M36 115.5h1M3 118.5h1M14 118.5h1M20 118.5h1M43 118.5h1M92 118.5h1M53 120.5h1M82 120.5h1M53 121.5h1M60 121.5h1M69 122.5h1M21 123.5h1M44 123.5h1M78 126.5h1M28 127.5h1M56 127.5h1"/><path stroke="#282828" d="M38 0.5h1M59 0.5h1M42 1.5h2M61 3.5h1M69 3.5h1M11 4.5h1M33 4.5h1M75 5.5h1M20 7.5h1M12 8.5h1M72 8.5h1M50 10.5h1M86 11.5h1M75 12.5h1M13 14.5h1M10 15.5h1M20 17.5h1M90 18.5h1M59 19.5h1M35 21.5h1M60 21.5h1M64 21.5h1M75 22.5h1M21 25.5h1M89 26.5h1M20 28.5h1M87 29.5h1M47 30.5h1M13 33.5h1M51 36.5h1M62 36.5h1M66 36.5h1M42 37.5h1M76 37.5h1M56 38.5h1M66 39.5h1M22 41.5h1M35 42.5h1M50 43.5h1M10 44.5h1M80 44.5h1M60 46.5h1M74 46.5h1M40 48.5h1M29 49.5h1M13 52.5h1M19 52.5h1M3 53.5h1M54 53.5h1M69 54.5h1M42 55.5h1M54 55.5h1M31 58.5h1M17 59.5h1M71 59.5h1M24 62.5h1M37 62.5h1M71 63.5h1M67 64.5h1M14 65.5h1M74 65.5h1M55 67.5h1M41 68.5h1M22 69.5h1M32 69.5h1M49 71.5h1M49 72.5h1M89 72.5h1M11 73.5h1M40 73.5h1M48 73.5h1M40 74.5h1M70 74.5h1M85 74.5h1M42 75.5h1M60 75.5h1M20 79.5h1M55 79.5h1M86 79.5h1M59 82.5h1M30 83.5h1M45 83.5h1M89 84.5h1M30 85.5h1M83 85.5h1M40 87.5h1M88 87.5h1M5 88.5h1M8 88.5h1M42 88.5h1M40 89.5h1M60 90.5h1M0 94.5h1M46 94.5h1M58 94.5h1M68 94.5h1M31 95.5h1M57 97.5h1M4 99.5h1M17 99.5h1M26 99.5h1M45 101.5h1M62 101.5h1M30 102.5h1M52 103.5h1M72 106.5h1M15 108.5h1M52 108.5h1M0 109.5h1M77 110.5h1M94 111.5h1M89 112.5h1M68 113.5h1M11 116.5h1M36 116.5h1M81 116.5h1M47 117.5h1M56 117.5h1M72 118.5h1M25 119.5h1M87 119.5h1M49 120.5h1M7 121.5h1M29 121.5h1M14 122.5h1M38 122.5h1M40 122.5h1M43 122.5h1M66 123.5h1M76 123.5h1M79 123.5h1M73 126.5h1"/><path stroke="#292929" d="M63 0.5h1M83 0.5h1M0 1.5h1M41 1.5h1M94 3.5h1M59 6.5h2M13 7.5h1M59 10.5h1M23 11.5h1M76 11.5h1M37 13.5h1M38 15.5h1M0 16.5h1M24 18.5h1M10 20.5h1M65 20.5h1M81 21.5h1M53 23.5h1M28 26.5h2M5 34.5h1M85 35.5h1M35 37.5h1M51 37.5h1M85 38.5h1M7 40.5h1M62 40.5h1M82 41.5h1M43 42.5h1M17 43.5h1M60 43.5h1M67 43.5h1M50 44.5h1M19 45.5h1M3 47.5h1M69 47.5h1M12 48.5h1M36 49.5h1M73 52.5h1M62 53.5h1M20 54.5h1M28 56.5h1M35 59.5h1M22 60.5h1M27 62.5h1M52 62.5h1M81 63.5h1M79 64.5h1M75 66.5h1M30 68.5h1M37 68.5h1M36 69.5h1M64 69.5h1M70 69.5h1M22 70.5h1M39 70.5h1M83 73.5h1M91 73.5h1M61 74.5h1M21 75.5h1M40 75.5h1M58 76.5h1M32 77.5h1M42 77.5h1M89 77.5h1M4 82.5h1M89 82.5h1M90 85.5h1M68 86.5h1M38 87.5h1M46 87.5h1M80 87.5h1M93 87.5h1M77 90.5h1M6 92.5h1M29 93.5h1M54 93.5h1M60 93.5h1M67 93.5h1M1 94.5h1M26 94.5h1M29 95.5h1M16 97.5h1M80 97.5h1M1 98.5h1M16 98.5h1M29 98.5h1M62 100.5h1M10 101.5h1M33 101.5h1M50 103.5h1M73 103.5h1M51 104.5h1M60 105.5h2M73 108.5h1M82 108.5h1M24 109.5h1M64 109.5h1M82 109.5h1M55 110.5h1M58 110.5h1M84 111.5h1M27 112.5h1M55 112.5h1M77 115.5h1M50 117.5h1M13 118.5h1M86 119.5h1M8 120.5h1M49 121.5h1M22 124.5h1M83 125.5h1"/><path stroke="#2a2a2a" d="M16 0.5h1M2 1.5h1M6 1.5h1M11 2.5h2M68 2.5h1M29 3.5h1M42 5.5h1M29 7.5h1M40 7.5h1M76 7.5h1M83 8.5h1M1 9.5h1M83 9.5h1M91 10.5h1M66 13.5h1M24 15.5h1M41 16.5h1M92 17.5h1M51 19.5h1M73 20.5h1M1 21.5h1M4 21.5h1M58 21.5h1M79 21.5h1M59 22.5h1M78 22.5h1M52 25.5h1M71 26.5h1M56 27.5h1M92 27.5h1M51 28.5h1M66 28.5h1M29 29.5h1M90 31.5h1M28 32.5h1M64 32.5h1M73 33.5h1M2 34.5h1M55 34.5h1M71 34.5h1M28 36.5h1M64 37.5h1M1 38.5h1M80 38.5h1M64 39.5h1M70 40.5h1M4 42.5h1M87 43.5h1M92 43.5h1M22 44.5h1M42 44.5h1M34 46.5h1M82 46.5h1M81 47.5h1M6 48.5h1M69 48.5h1M82 50.5h1M56 53.5h1M55 54.5h1M88 54.5h1M46 55.5h1M87 55.5h1M83 57.5h1M31 59.5h1M52 60.5h1M65 62.5h1M82 62.5h1M34 63.5h1M73 63.5h1M9 64.5h1M42 65.5h1M41 66.5h1M81 66.5h1M52 67.5h2M57 67.5h1M72 67.5h1M39 72.5h1M45 74.5h1M82 74.5h1M27 75.5h1M34 75.5h1M87 75.5h1M6 78.5h1M9 78.5h1M76 78.5h1M82 78.5h1M66 79.5h1M14 80.5h1M91 80.5h1M4 84.5h1M51 85.5h1M94 85.5h1M88 86.5h1M26 87.5h1M28 87.5h1M63 87.5h1M16 88.5h1M11 91.5h1M91 91.5h1M93 92.5h1M25 93.5h1M35 96.5h1M79 96.5h1M79 98.5h1M76 100.5h1M27 101.5h1M83 102.5h1M93 102.5h1M9 103.5h1M30 103.5h1M28 106.5h1M50 107.5h1M0 108.5h1M8 108.5h1M73 109.5h1M20 110.5h1M87 110.5h1M83 111.5h1M78 112.5h1M65 113.5h1M87 113.5h1M19 114.5h1M36 114.5h1M77 114.5h1M78 115.5h2M7 116.5h1M48 117.5h1M38 118.5h1M5 120.5h1M67 120.5h1M13 122.5h1M80 122.5h1M49 124.5h1M66 124.5h1M81 124.5h1M2 125.5h1M75 126.5h1M19 127.5h1M91 127.5h1"/><path stroke="#2b2b2b" d="M7 1.5h1M72 4.5h1M79 4.5h1M26 6.5h1M78 6.5h1M27 7.5h1M58 7.5h1M73 7.5h1M8 11.5h2M2 14.5h1M90 16.5h1M1 17.5h1M29 19.5h1M90 19.5h1M4 20.5h1M20 20.5h1M58 20.5h1M24 22.5h1M74 22.5h1M61 23.5h1M66 23.5h1M67 27.5h1M72 27.5h1M77 27.5h1M80 27.5h1M83 28.5h1M20 29.5h1M69 32.5h1M27 33.5h1M69 33.5h1M74 33.5h1M91 33.5h1M94 35.5h1M7 36.5h1M42 36.5h1M28 37.5h1M83 38.5h1M54 40.5h1M14 44.5h1M22 45.5h1M25 47.5h1M76 47.5h1M5 49.5h1M22 49.5h1M41 49.5h1M37 50.5h1M84 50.5h1M52 51.5h1M1 52.5h1M7 52.5h1M37 52.5h1M75 52.5h1M36 53.5h1M39 54.5h1M14 55.5h1M67 56.5h1M49 60.5h1M58 61.5h1M67 62.5h1M59 63.5h1M60 64.5h1M73 64.5h1M43 65.5h1M74 66.5h1M13 68.5h1M37 69.5h1M23 70.5h1M81 70.5h1M19 71.5h1M48 71.5h1M81 71.5h1M23 72.5h1M38 72.5h1M89 73.5h1M44 74.5h1M76 75.5h1M55 76.5h1M88 78.5h1M44 79.5h1M80 82.5h1M28 83.5h1M76 87.5h1M88 88.5h1M15 90.5h1M26 96.5h1M26 97.5h1M85 97.5h1M61 98.5h1M41 101.5h1M79 101.5h1M8 102.5h1M63 103.5h1M3 104.5h1M66 104.5h1M73 104.5h1M76 106.5h1M26 107.5h1M61 112.5h1M90 112.5h1M10 115.5h1M32 115.5h1M10 118.5h1M19 118.5h1M63 118.5h1M24 120.5h1M66 120.5h1M13 121.5h1M15 121.5h1M69 121.5h1M1 124.5h1M10 126.5h1M43 126.5h1M72 127.5h1"/><path stroke="#2c2c2c" d="M18 0.5h1M33 1.5h1M36 1.5h1M37 2.5h1M60 2.5h1M51 3.5h1M69 6.5h1M48 7.5h1M29 8.5h1M58 10.5h1M63 11.5h1M73 11.5h1M87 12.5h1M90 15.5h1M26 18.5h1M78 18.5h2M5 21.5h1M8 23.5h1M25 23.5h1M47 23.5h1M42 26.5h1M68 26.5h1M80 26.5h1M33 27.5h1M35 27.5h1M79 27.5h1M52 28.5h1M58 30.5h1M65 30.5h1M92 30.5h1M37 31.5h1M42 31.5h1M61 31.5h1M75 31.5h1M84 31.5h1M79 32.5h1M30 34.5h1M39 36.5h1M63 36.5h1M30 37.5h1M46 38.5h1M68 40.5h1M34 41.5h1M10 43.5h1M2 45.5h1M6 46.5h1M48 46.5h1M6 47.5h1M1 50.5h1M29 50.5h1M57 50.5h1M76 50.5h1M88 50.5h1M61 52.5h1M64 54.5h1M22 56.5h1M87 56.5h1M7 58.5h1M7 59.5h1M51 59.5h1M86 60.5h1M54 61.5h1M89 61.5h1M53 62.5h1M75 62.5h1M5 63.5h1M53 65.5h1M58 66.5h1M5 67.5h1M38 67.5h1M92 69.5h1M93 70.5h1M41 72.5h1M77 72.5h1M6 73.5h1M61 73.5h1M2 74.5h1M60 74.5h1M26 75.5h1M8 76.5h1M57 77.5h1M69 77.5h1M29 79.5h1M49 80.5h1M79 80.5h1M48 84.5h1M9 85.5h1M45 85.5h1M78 85.5h1M68 87.5h1M39 88.5h1M44 88.5h1M60 88.5h1M92 90.5h1M48 96.5h1M19 97.5h1M79 97.5h1M72 99.5h1M78 100.5h1M76 101.5h1M55 103.5h1M7 104.5h1M50 104.5h1M45 105.5h1M88 107.5h1M66 109.5h1M34 110.5h1M69 110.5h1M15 113.5h1M93 114.5h1M21 116.5h1M57 116.5h1M13 117.5h1M21 118.5h1M9 119.5h1M56 119.5h1M72 120.5h1M25 121.5h1M30 121.5h1M41 122.5h1M12 124.5h1M38 126.5h1"/><path stroke="#2d2d2d" d="M4 1.5h1M42 3.5h1M49 5.5h1M60 5.5h1M14 10.5h1M47 11.5h1M74 11.5h1M8 12.5h1M4 13.5h1M10 13.5h1M17 15.5h1M35 15.5h1M1 16.5h1M93 16.5h1M91 18.5h1M80 21.5h1M17 22.5h1M33 26.5h1M52 26.5h1M1 27.5h1M45 28.5h1M33 29.5h1M66 29.5h1M79 29.5h1M66 30.5h1M56 31.5h1M9 33.5h2M28 33.5h1M0 34.5h1M81 34.5h1M24 36.5h1M37 36.5h1M86 36.5h1M88 36.5h1M50 40.5h1M60 41.5h1M41 42.5h1M62 42.5h1M5 44.5h1M16 46.5h1M45 47.5h1M47 47.5h1M15 48.5h1M1 53.5h1M33 53.5h1M9 54.5h1M9 55.5h1M91 56.5h1M62 57.5h1M6 60.5h1M88 61.5h1M5 62.5h1M11 62.5h1M2 63.5h1M61 65.5h1M67 65.5h1M57 66.5h1M71 67.5h1M91 68.5h1M35 69.5h1M49 69.5h1M49 70.5h1M90 73.5h1M3 74.5h1M5 74.5h1M43 74.5h1M33 76.5h1M42 76.5h1M85 76.5h1M15 77.5h1M31 77.5h1M63 77.5h1M6 80.5h1M18 80.5h1M36 81.5h1M42 81.5h1M87 81.5h1M90 84.5h1M89 85.5h1M30 89.5h1M27 91.5h1M44 91.5h1M46 92.5h1M80 92.5h1M62 93.5h1M34 94.5h1M3 95.5h1M14 97.5h1M37 98.5h1M73 98.5h1M0 100.5h1M8 101.5h1M2 103.5h1M46 103.5h1M33 106.5h1M18 108.5h1M31 109.5h1M77 109.5h1M24 110.5h1M12 112.5h1M67 112.5h1M42 113.5h1M49 113.5h1M7 114.5h1M18 114.5h1M11 115.5h1M5 116.5h1M49 116.5h1M43 117.5h1M62 118.5h1M44 119.5h1M19 121.5h1M27 121.5h1M58 121.5h1M66 121.5h1M74 123.5h1M30 125.5h1M73 125.5h1"/><path stroke="#2e2e2e" d="M37 0.5h1M51 0.5h1M60 1.5h1M90 2.5h1M1 3.5h1M63 3.5h1M87 4.5h1M94 6.5h1M10 7.5h1M69 7.5h1M36 8.5h1M38 11.5h1M92 14.5h1M78 17.5h2M20 19.5h1M82 22.5h1M17 23.5h1M5 26.5h1M31 26.5h1M54 26.5h1M1 28.5h1M31 30.5h1M48 33.5h1M76 33.5h1M60 38.5h1M50 39.5h1M52 39.5h1M46 43.5h1M69 43.5h1M31 44.5h1M54 45.5h1M42 50.5h1M29 51.5h1M12 52.5h1M77 52.5h1M45 54.5h1M81 54.5h1M6 57.5h1M55 58.5h1M54 59.5h1M23 60.5h1M24 61.5h1M82 61.5h1M76 63.5h1M15 64.5h1M54 66.5h1M67 66.5h1M4 68.5h1M24 71.5h1M63 71.5h1M6 72.5h1M9 72.5h1M21 72.5h1M44 73.5h1M1 74.5h1M41 77.5h1M0 79.5h1M60 79.5h1M1 80.5h1M92 80.5h1M15 81.5h1M17 81.5h1M62 81.5h1M26 82.5h1M48 82.5h1M30 84.5h1M9 86.5h1M33 86.5h1M77 88.5h1M14 89.5h1M44 90.5h1M45 92.5h1M72 92.5h1M12 94.5h1M2 95.5h1M19 95.5h1M12 97.5h1M30 101.5h1M17 102.5h1M77 103.5h1M91 103.5h2M62 105.5h1M68 105.5h1M35 106.5h1M56 108.5h1M34 109.5h1M37 110.5h1M13 111.5h1M27 111.5h1M7 112.5h1M31 112.5h1M94 112.5h1M31 113.5h1M76 113.5h1M43 115.5h1M81 118.5h1M68 122.5h1M71 124.5h1M33 127.5h1M84 127.5h1"/><path stroke="#2f2f2f" d="M36 0.5h1M14 7.5h1M58 8.5h1M53 9.5h1M56 10.5h1M92 10.5h1M4 11.5h1M60 11.5h1M85 11.5h1M56 12.5h1M57 15.5h1M63 15.5h1M93 18.5h1M73 21.5h1M31 22.5h1M5 23.5h1M31 23.5h1M62 23.5h1M7 24.5h1M69 25.5h1M22 32.5h1M33 32.5h1M74 32.5h1M71 33.5h1M58 34.5h1M74 34.5h1M87 35.5h1M56 36.5h1M70 37.5h1M34 38.5h1M74 38.5h1M92 39.5h1M65 41.5h1M16 42.5h1M61 43.5h1M17 45.5h1M34 45.5h1M61 46.5h1M12 49.5h1M19 49.5h1M30 49.5h1M80 50.5h1M73 51.5h1M60 53.5h1M28 54.5h1M20 55.5h1M68 55.5h1M54 56.5h2M58 57.5h1M5 59.5h1M17 60.5h1M51 60.5h1M91 62.5h1M13 63.5h1M7 64.5h1M20 65.5h1M29 66.5h1M12 67.5h1M39 67.5h1M29 69.5h1M46 69.5h1M87 69.5h1M29 70.5h1M60 73.5h1M43 76.5h1M75 76.5h1M26 77.5h1M61 78.5h1M59 81.5h1M48 83.5h1M62 83.5h1M77 83.5h1M82 85.5h1M14 88.5h1M29 89.5h1M42 89.5h1M4 90.5h1M62 92.5h1M4 95.5h1M43 96.5h1M52 98.5h1M58 98.5h1M33 99.5h1M73 99.5h1M27 100.5h1M47 100.5h1M47 101.5h1M52 101.5h1M89 101.5h1M18 102.5h1M46 102.5h1M70 102.5h1M94 103.5h1M52 104.5h1M84 108.5h1M86 108.5h1M68 111.5h1M92 112.5h1M84 113.5h1M58 117.5h1M85 117.5h1M49 118.5h1M71 118.5h1M13 120.5h1M51 121.5h1M86 121.5h1M31 122.5h1M66 122.5h1M80 123.5h1M6 125.5h1M20 127.5h1M25 127.5h1"/><path stroke="#303030" d="M66 0.5h1M35 1.5h1M40 1.5h1M67 2.5h1M47 3.5h1M47 4.5h1M50 4.5h1M70 4.5h1M44 5.5h1M30 6.5h1M36 6.5h1M20 8.5h1M41 8.5h1M71 9.5h1M75 11.5h1M9 12.5h1M23 12.5h1M1 13.5h1M3 13.5h1M30 13.5h1M34 14.5h1M44 14.5h1M44 17.5h2M11 18.5h1M5 20.5h1M51 20.5h1M79 22.5h1M88 26.5h1M59 27.5h1M50 28.5h1M37 30.5h1M14 33.5h1M17 33.5h1M77 33.5h1M13 34.5h1M61 36.5h1M53 39.5h1M69 41.5h1M53 44.5h1M64 44.5h1M42 45.5h1M15 46.5h1M37 49.5h1M26 51.5h1M23 56.5h1M92 56.5h1M45 61.5h1M38 62.5h1M62 62.5h1M10 63.5h1M20 64.5h1M80 64.5h1M58 65.5h1M80 65.5h1M67 67.5h1M8 68.5h1M74 68.5h1M30 69.5h1M41 69.5h1M40 72.5h1M1 75.5h1M44 75.5h1M46 75.5h1M74 76.5h1M22 78.5h1M47 79.5h1M33 82.5h1M77 82.5h1M14 86.5h1M63 86.5h1M91 87.5h1M6 88.5h1M19 88.5h1M56 90.5h1M71 90.5h1M41 91.5h1M46 93.5h1M56 93.5h1M49 95.5h1M17 96.5h1M34 96.5h1M48 97.5h1M50 98.5h1M41 100.5h1M60 101.5h1M67 105.5h1M68 106.5h1M75 108.5h1M83 108.5h1M83 109.5h1M91 109.5h1M93 112.5h1M73 113.5h1M9 116.5h1M43 116.5h1M24 118.5h1M64 118.5h1M90 118.5h1M7 119.5h1M13 119.5h1M72 119.5h1M94 119.5h1M50 120.5h1M73 120.5h1M54 121.5h1M90 122.5h1M64 123.5h1M92 123.5h1M0 124.5h1M64 124.5h1M66 126.5h1M74 127.5h1"/><path stroke="#313131" d="M6 0.5h1M85 0.5h1M0 2.5h1M71 2.5h1M10 3.5h1M21 3.5h1M50 3.5h1M0 4.5h1M60 4.5h1M29 5.5h1M67 8.5h1M69 9.5h1M78 9.5h1M71 10.5h1M30 11.5h1M67 12.5h1M5 14.5h1M73 14.5h1M17 17.5h1M60 18.5h1M57 19.5h1M66 20.5h1M21 21.5h1M49 24.5h1M22 27.5h1M29 27.5h1M29 28.5h1M57 28.5h2M19 29.5h1M82 29.5h1M48 30.5h1M57 30.5h1M84 34.5h1M22 36.5h1M72 37.5h1M23 38.5h1M63 40.5h1M19 41.5h1M8 42.5h1M44 42.5h1M79 46.5h1M40 47.5h1M40 50.5h1M15 51.5h1M13 53.5h1M15 54.5h1M39 55.5h1M6 56.5h1M34 57.5h1M2 61.5h1M85 63.5h1M58 64.5h1M88 64.5h1M59 67.5h1M34 69.5h1M30 70.5h1M4 74.5h1M85 75.5h1M41 76.5h1M54 79.5h1M33 80.5h1M88 80.5h1M44 81.5h1M41 82.5h1M69 82.5h1M87 82.5h1M70 84.5h1M48 85.5h1M90 86.5h1M2 87.5h1M55 88.5h1M60 89.5h1M25 90.5h1M5 92.5h1M37 92.5h1M71 92.5h1M14 93.5h1M45 93.5h1M72 95.5h1M41 98.5h1M58 99.5h1M8 103.5h1M20 104.5h1M42 104.5h1M54 104.5h1M6 106.5h1M21 107.5h1M68 108.5h1M7 109.5h1M52 109.5h1M81 110.5h1M44 111.5h1M28 112.5h1M32 112.5h1M68 112.5h1M62 116.5h2M79 117.5h1M58 118.5h1M73 118.5h1M76 118.5h1M17 120.5h1M64 120.5h1M45 123.5h1M67 123.5h1"/><path stroke="#323232" d="M17 0.5h1M46 0.5h1M60 0.5h1M2 2.5h1M76 2.5h1M86 3.5h1M19 8.5h1M58 9.5h1M1 10.5h1M63 10.5h1M56 11.5h1M11 14.5h1M43 16.5h1M57 16.5h1M63 17.5h1M35 19.5h1M20 21.5h1M59 21.5h1M67 23.5h1M90 24.5h1M28 25.5h1M41 26.5h1M81 29.5h1M25 30.5h1M59 30.5h1M17 32.5h1M75 32.5h1M49 34.5h1M76 35.5h1M56 37.5h1M24 38.5h1M64 38.5h1M49 42.5h1M4 44.5h1M52 44.5h1M63 44.5h1M18 45.5h1M46 47.5h1M91 47.5h1M8 49.5h1M82 49.5h1M22 50.5h1M83 50.5h1M49 51.5h1M75 51.5h1M9 53.5h1M41 54.5h1M61 54.5h1M61 55.5h1M40 58.5h1M61 59.5h1M16 64.5h1M52 64.5h1M81 64.5h1M81 65.5h1M37 66.5h1M67 68.5h1M58 72.5h1M30 73.5h1M74 74.5h1M86 74.5h1M63 75.5h1M90 75.5h1M82 77.5h1M30 78.5h1M73 78.5h1M92 78.5h1M39 79.5h1M0 81.5h1M61 82.5h1M91 82.5h1M3 83.5h1M2 84.5h1M79 85.5h1M40 90.5h1M66 90.5h1M1 91.5h1M37 91.5h1M4 93.5h1M15 94.5h1M35 94.5h1M73 94.5h1M15 96.5h1M50 96.5h1M59 100.5h1M91 100.5h1M91 102.5h1M0 105.5h1M58 105.5h1M34 106.5h1M56 106.5h1M59 106.5h1M4 107.5h1M41 108.5h1M28 111.5h1M58 112.5h1M66 112.5h1M91 112.5h1M10 116.5h1M10 117.5h1M26 117.5h1M33 117.5h1M18 120.5h1M87 120.5h1M67 121.5h1M16 122.5h1M81 122.5h1M93 122.5h1M40 124.5h1M27 125.5h1M29 125.5h1M87 127.5h1"/><path stroke="#333333" d="M29 0.5h1M58 0.5h1M34 3.5h1M60 3.5h1M23 4.5h1M17 6.5h1M74 7.5h1M10 8.5h1M77 8.5h1M65 9.5h1M45 10.5h1M11 13.5h1M31 16.5h1M94 16.5h1M19 17.5h1M30 17.5h1M9 20.5h1M1 24.5h1M69 24.5h1M8 26.5h1M60 26.5h1M21 27.5h1M55 27.5h1M62 27.5h1M1 30.5h1M40 30.5h1M25 31.5h1M91 31.5h1M48 32.5h1M80 32.5h1M2 37.5h1M61 37.5h1M69 37.5h1M61 41.5h1M15 42.5h1M82 42.5h1M30 43.5h1M51 43.5h1M32 45.5h1M66 45.5h1M85 45.5h1M91 45.5h1M3 46.5h1M12 46.5h1M19 46.5h1M76 48.5h1M17 53.5h1M65 54.5h1M5 56.5h1M28 57.5h1M52 59.5h1M69 59.5h1M61 60.5h1M85 60.5h1M17 62.5h1M20 62.5h1M24 63.5h1M28 63.5h1M24 64.5h1M44 64.5h1M4 67.5h1M87 67.5h1M85 68.5h1M93 68.5h1M42 69.5h1M58 69.5h1M67 69.5h1M89 69.5h1M25 71.5h1M66 72.5h1M31 74.5h1M84 74.5h1M93 76.5h1M29 78.5h1M87 78.5h1M90 78.5h1M88 79.5h1M0 80.5h1M25 80.5h1M80 80.5h1M28 81.5h1M8 83.5h1M43 84.5h1M71 84.5h1M57 85.5h1M88 85.5h1M93 85.5h1M19 87.5h1M92 88.5h1M16 89.5h1M70 89.5h1M59 90.5h1M89 90.5h1M17 91.5h1M66 92.5h1M94 92.5h1M34 93.5h1M35 95.5h1M63 95.5h2M73 96.5h1M31 97.5h1M84 97.5h1M34 101.5h1M45 103.5h1M53 104.5h1M57 105.5h1M86 105.5h1M65 106.5h1M8 107.5h1M55 109.5h1M59 109.5h1M45 110.5h1M91 110.5h1M24 111.5h1M45 111.5h1M21 112.5h1M94 113.5h1M45 114.5h1M65 114.5h1M79 114.5h1M68 115.5h1M84 117.5h1M58 119.5h1M82 119.5h1M23 121.5h1M28 121.5h1M71 121.5h1M15 122.5h1M70 123.5h1M7 124.5h1M52 125.5h1M66 125.5h1M30 126.5h1M83 126.5h1M1 127.5h1M88 127.5h1"/><path stroke="#343434" d="M34 2.5h1M73 4.5h1M0 5.5h1M1 6.5h1M44 8.5h1M6 10.5h1M77 10.5h1M32 11.5h1M72 11.5h1M25 12.5h1M57 12.5h1M57 13.5h1M58 17.5h1M91 17.5h1M83 18.5h1M94 18.5h1M64 22.5h1M67 30.5h1M20 31.5h1M90 32.5h1M24 33.5h1M50 34.5h1M1 35.5h1M7 35.5h1M15 39.5h1M56 40.5h1M60 42.5h1M69 42.5h1M5 43.5h1M82 43.5h1M49 44.5h1M81 45.5h1M29 48.5h1M76 49.5h1M73 50.5h1M14 51.5h1M81 51.5h1M85 51.5h1M84 52.5h1M27 53.5h1M41 55.5h1M57 58.5h1M83 59.5h1M30 60.5h1M17 61.5h1M36 62.5h1M23 63.5h1M52 63.5h1M5 64.5h1M20 72.5h1M21 77.5h1M19 78.5h1M46 80.5h1M63 80.5h1M60 81.5h1M88 82.5h1M65 84.5h1M87 86.5h1M35 89.5h1M39 89.5h1M26 90.5h1M22 91.5h1M39 91.5h1M70 91.5h1M88 91.5h1M59 95.5h1M63 99.5h1M53 100.5h1M64 100.5h1M26 101.5h1M36 101.5h1M45 102.5h1M79 102.5h1M7 105.5h1M52 105.5h1M0 106.5h1M64 107.5h1M69 109.5h1M60 112.5h1M84 112.5h1M21 113.5h1M93 113.5h1M4 114.5h1M52 114.5h1M54 114.5h1M39 115.5h1M88 116.5h1M26 118.5h1M88 118.5h1M14 119.5h1M56 120.5h1M45 122.5h1M63 123.5h1M69 123.5h1M63 124.5h1M14 126.5h1M31 126.5h1M39 126.5h1M52 126.5h1M71 126.5h1M54 127.5h1"/><path stroke="#353535" d="M37 4.5h1M64 4.5h1M80 4.5h1M81 6.5h1M90 7.5h1M1 8.5h1M84 9.5h1M28 12.5h1M71 17.5h1M59 20.5h1M34 21.5h1M48 25.5h1M12 26.5h1M21 26.5h1M79 26.5h1M40 28.5h1M58 29.5h1M80 29.5h1M79 31.5h1M6 32.5h1M22 33.5h1M32 33.5h1M76 34.5h1M71 36.5h1M66 37.5h1M21 38.5h1M33 38.5h1M86 42.5h1M70 43.5h1M73 47.5h1M2 53.5h1M29 53.5h1M78 53.5h1M80 53.5h1M33 57.5h1M28 58.5h1M83 58.5h1M18 59.5h1M59 59.5h1M57 60.5h1M23 61.5h1M66 63.5h1M30 65.5h1M92 67.5h1M86 70.5h1M68 71.5h1M31 73.5h1M79 73.5h1M9 79.5h1M44 80.5h1M48 81.5h1M62 82.5h1M78 83.5h1M40 88.5h1M52 89.5h1M92 89.5h1M24 91.5h1M40 91.5h1M1 93.5h1M86 93.5h1M53 94.5h1M57 94.5h1M13 97.5h1M17 98.5h1M17 100.5h1M40 101.5h1M1 103.5h1M16 104.5h1M46 105.5h1M56 107.5h1M64 108.5h1M65 109.5h1M70 111.5h1M57 112.5h1M76 112.5h1M4 113.5h1M36 113.5h1M23 119.5h1M48 119.5h1M76 119.5h1M69 120.5h1M84 121.5h1M94 125.5h1M22 127.5h1"/><path stroke="#363636" d="M47 1.5h1M3 2.5h1M52 3.5h1M9 4.5h1M18 5.5h1M70 6.5h1M53 7.5h1M53 8.5h1M11 9.5h1M64 9.5h1M17 10.5h1M84 10.5h1M67 13.5h1M65 14.5h1M65 15.5h1M10 16.5h1M65 23.5h1M59 24.5h1M0 25.5h1M2 26.5h1M26 27.5h1M18 29.5h1M79 30.5h1M46 31.5h1M52 34.5h1M36 36.5h1M45 39.5h1M42 40.5h1M67 40.5h1M15 41.5h1M47 42.5h1M68 43.5h1M18 44.5h1M63 45.5h1M17 46.5h1M12 47.5h1M56 48.5h1M93 48.5h1M32 49.5h1M69 51.5h1M50 55.5h1M94 58.5h1M16 60.5h1M66 61.5h1M2 62.5h1M14 63.5h1M23 64.5h1M42 64.5h1M72 64.5h1M57 65.5h1M86 68.5h1M9 69.5h1M48 69.5h1M7 70.5h1M13 70.5h1M48 70.5h1M76 71.5h1M89 71.5h1M33 75.5h1M1 78.5h1M24 80.5h1M48 80.5h1M77 80.5h1M66 83.5h1M1 85.5h1M42 85.5h1M1 86.5h1M17 86.5h1M89 86.5h1M59 88.5h1M73 88.5h1M23 89.5h1M68 89.5h1M10 92.5h1M92 92.5h1M31 94.5h1M74 94.5h1M58 95.5h1M60 98.5h1M1 99.5h1M52 99.5h1M18 100.5h1M55 100.5h1M61 100.5h1M49 103.5h1M65 103.5h1M21 108.5h1M25 108.5h1M35 109.5h1M40 109.5h1M67 109.5h1M48 110.5h1M69 111.5h1M76 111.5h1M19 112.5h1M92 113.5h1M93 115.5h1M76 116.5h1M62 117.5h2M81 117.5h1M49 119.5h1M73 119.5h1M61 120.5h1M94 123.5h1M41 124.5h1M77 124.5h2M83 124.5h1M30 127.5h1"/><path stroke="#373737" d="M42 4.5h2M9 5.5h1M58 6.5h1M40 15.5h1M56 15.5h1M51 17.5h1M67 18.5h1M85 18.5h1M2 22.5h1M16 22.5h1M16 23.5h1M58 25.5h1M68 28.5h1M22 30.5h1M69 30.5h1M4 32.5h1M38 32.5h1M1 37.5h1M22 39.5h1M21 41.5h1M46 41.5h1M86 44.5h1M9 45.5h1M29 47.5h1M64 47.5h1M3 52.5h1M42 54.5h1M56 54.5h1M26 55.5h1M5 57.5h1M17 58.5h1M75 59.5h1M54 60.5h1M53 63.5h1M28 64.5h1M53 64.5h1M23 65.5h1M55 66.5h1M11 67.5h1M26 67.5h1M90 68.5h1M94 69.5h1M30 72.5h1M74 72.5h1M54 76.5h1M53 79.5h1M85 80.5h1M80 81.5h1M67 82.5h1M92 82.5h1M73 87.5h1M47 88.5h1M32 89.5h1M13 90.5h1M62 91.5h1M90 91.5h1M4 92.5h1M61 92.5h1M51 94.5h1M71 95.5h1M52 96.5h1M50 97.5h1M38 98.5h1M48 98.5h1M59 98.5h1M50 99.5h1M69 99.5h1M71 99.5h1M77 100.5h1M91 101.5h1M42 102.5h1M77 102.5h1M38 103.5h1M70 103.5h1M76 109.5h1M22 111.5h1M77 111.5h1M88 111.5h1M69 113.5h1M19 115.5h1M46 115.5h1M69 116.5h1M51 117.5h1M71 117.5h1M2 118.5h1M83 120.5h1M37 122.5h1M15 123.5h1M81 123.5h1M21 124.5h1M68 124.5h1M62 126.5h1M70 127.5h1"/><path stroke="#383838" d="M15 0.5h1M64 2.5h1M53 6.5h1M56 9.5h1M62 11.5h1M47 13.5h1M57 14.5h1M80 14.5h1M62 15.5h1M68 18.5h1M54 19.5h1M51 22.5h1M80 22.5h1M10 23.5h1M73 25.5h1M83 26.5h1M57 29.5h1M63 30.5h1M23 32.5h1M14 34.5h1M67 36.5h1M76 36.5h1M16 37.5h1M84 37.5h1M81 41.5h1M49 43.5h1M70 44.5h1M11 45.5h1M58 46.5h1M63 46.5h1M25 49.5h1M3 50.5h1M58 51.5h1M2 52.5h1M15 52.5h1M27 52.5h1M74 52.5h1M63 53.5h1M4 54.5h1M21 55.5h1M52 55.5h1M36 56.5h1M1 57.5h1M6 58.5h1M34 58.5h1M6 59.5h1M23 59.5h1M92 62.5h1M15 65.5h1M44 65.5h1M60 65.5h1M28 66.5h1M72 66.5h1M55 69.5h1M62 69.5h1M17 70.5h1M18 71.5h1M0 72.5h1M74 73.5h1M91 74.5h1M43 75.5h1M71 75.5h1M75 75.5h1M15 76.5h1M83 78.5h1M18 79.5h1M23 79.5h1M37 79.5h1M68 79.5h1M34 81.5h1M68 82.5h1M68 88.5h1M31 89.5h1M63 94.5h1M89 94.5h1M1 95.5h1M46 95.5h1M45 98.5h1M70 99.5h1M92 102.5h1M18 103.5h1M31 103.5h1M85 105.5h1M32 106.5h1M47 106.5h1M52 106.5h1M84 106.5h1M47 109.5h1M75 109.5h1M4 112.5h1M69 112.5h1M7 113.5h1M13 113.5h1M67 113.5h1M77 113.5h1M10 114.5h1M32 114.5h1M38 115.5h1M39 116.5h1M93 116.5h1M87 121.5h1M90 121.5h1M44 122.5h1M93 125.5h1M20 126.5h1M40 127.5h1M69 127.5h1M83 127.5h1"/><path stroke="#393939" d="M7 0.5h1M24 0.5h1M35 0.5h1M45 1.5h1M47 2.5h1M3 3.5h1M71 4.5h1M15 5.5h1M52 7.5h1M91 7.5h1M32 8.5h1M56 8.5h1M91 8.5h1M1 11.5h1M3 12.5h1M27 13.5h1M43 14.5h1M72 14.5h1M91 14.5h1M22 17.5h1M81 18.5h1M35 20.5h1M74 20.5h1M84 21.5h1M87 22.5h1M68 23.5h1M70 26.5h1M6 27.5h1M30 30.5h1M34 31.5h1M36 32.5h1M1 36.5h1M58 36.5h1M38 39.5h1M47 39.5h1M55 40.5h1M48 41.5h1M67 41.5h1M40 42.5h1M61 42.5h1M4 43.5h1M25 44.5h1M33 46.5h1M7 49.5h1M3 54.5h1M56 55.5h1M30 62.5h1M44 62.5h1M16 63.5h1M20 63.5h1M54 63.5h1M71 64.5h1M30 71.5h1M82 75.5h1M11 80.5h1M87 80.5h1M79 81.5h1M5 84.5h1M18 85.5h2M52 88.5h1M24 90.5h1M63 91.5h1M1 92.5h1M87 93.5h1M64 94.5h1M14 96.5h1M71 97.5h1M41 99.5h1M26 100.5h1M69 100.5h1M12 101.5h1M17 101.5h2M63 106.5h1M66 106.5h1M90 109.5h1M53 112.5h1M44 113.5h1M15 114.5h1M88 114.5h1M9 117.5h1M9 118.5h1M57 119.5h1M83 119.5h1M24 121.5h1M32 122.5h1M83 123.5h1M22 125.5h1M9 127.5h1M32 127.5h1"/><path stroke="#3a3a3a" d="M70 5.5h1M81 5.5h1M14 6.5h1M44 6.5h1M4 8.5h1M0 9.5h1M24 13.5h1M43 13.5h1M71 13.5h1M27 14.5h1M19 15.5h1M23 15.5h1M92 16.5h1M84 19.5h1M57 22.5h1M9 23.5h1M26 23.5h1M5 24.5h1M30 26.5h1M83 27.5h1M9 28.5h1M68 29.5h1M51 33.5h1M90 33.5h1M59 35.5h1M90 35.5h1M9 38.5h1M66 38.5h1M94 38.5h1M45 40.5h1M23 42.5h1M8 43.5h1M50 45.5h1M78 46.5h1M81 46.5h1M84 46.5h1M52 49.5h1M6 50.5h1M93 52.5h1M43 54.5h1M47 54.5h1M54 54.5h1M27 56.5h1M70 56.5h1M63 57.5h1M47 59.5h1M47 60.5h1M10 64.5h1M43 64.5h1M25 65.5h1M75 68.5h1M88 70.5h1M94 72.5h1M46 73.5h1M33 74.5h1M9 75.5h1M90 76.5h1M3 80.5h1M52 80.5h1M52 82.5h1M79 83.5h1M13 86.5h1M5 87.5h1M94 89.5h1M39 90.5h1M19 91.5h1M81 92.5h1M80 95.5h1M60 96.5h1M39 97.5h1M6 99.5h1M77 101.5h1M48 102.5h1M55 104.5h1M70 104.5h1M36 106.5h1M89 109.5h1M33 111.5h1M37 111.5h1M86 111.5h1M70 112.5h2M91 113.5h1M3 119.5h1M23 120.5h1M54 120.5h1M40 123.5h1M58 124.5h1"/><path stroke="#3b3b3b" d="M93 2.5h1M28 3.5h1M87 3.5h1M68 4.5h2M54 6.5h1M22 7.5h1M20 9.5h1M35 9.5h1M68 10.5h1M85 10.5h1M28 11.5h1M58 11.5h1M47 12.5h1M41 14.5h1M41 15.5h1M58 15.5h1M17 16.5h1M58 16.5h1M59 17.5h1M51 18.5h1M89 18.5h1M54 20.5h1M0 21.5h1M59 23.5h1M91 23.5h1M74 24.5h1M57 25.5h1M12 28.5h1M24 28.5h1M59 28.5h1M40 29.5h1M39 33.5h1M93 37.5h1M48 38.5h1M84 38.5h1M85 39.5h1M70 41.5h1M93 43.5h1M80 47.5h1M67 50.5h1M90 51.5h1M94 53.5h1M50 54.5h1M50 56.5h1M90 56.5h1M87 57.5h1M5 58.5h1M71 58.5h1M19 63.5h1M88 65.5h1M5 66.5h1M71 66.5h1M41 67.5h1M65 67.5h1M6 68.5h1M28 68.5h1M64 70.5h1M12 71.5h1M64 71.5h1M92 72.5h1M23 73.5h1M32 73.5h1M15 74.5h1M51 74.5h1M15 75.5h1M28 75.5h1M48 76.5h1M88 76.5h1M55 78.5h1M91 78.5h1M87 79.5h1M5 85.5h1M72 85.5h1M59 89.5h1M70 90.5h1M14 91.5h1M56 92.5h1M72 93.5h1M72 94.5h1M17 95.5h1M57 96.5h1M56 97.5h1M60 97.5h1M87 100.5h1M89 100.5h1M50 102.5h1M86 106.5h1M74 108.5h1M88 109.5h1M53 111.5h2M37 112.5h1M77 112.5h1M32 113.5h1M40 113.5h1M7 117.5h1M91 117.5h1M93 119.5h1M46 120.5h1M51 120.5h1M52 121.5h1M57 121.5h1M70 121.5h1M60 124.5h1M1 125.5h1M28 125.5h1M71 125.5h1M67 126.5h1M24 127.5h1M60 127.5h1"/><path stroke="#3c3c3c" d="M37 3.5h1M53 4.5h1M68 5.5h2M11 7.5h1M36 7.5h1M89 7.5h1M57 8.5h1M69 8.5h1M62 10.5h1M35 11.5h1M34 12.5h1M78 12.5h1M19 14.5h1M31 15.5h1M43 15.5h1M92 15.5h1M42 16.5h1M34 17.5h1M82 17.5h1M83 21.5h1M4 22.5h1M79 23.5h1M67 28.5h1M1 29.5h1M45 29.5h1M59 29.5h1M45 33.5h1M20 34.5h1M89 36.5h1M93 36.5h1M42 38.5h1M9 39.5h1M34 39.5h1M64 41.5h1M80 41.5h1M9 42.5h1M10 45.5h1M22 46.5h1M30 46.5h1M62 47.5h1M66 50.5h1M16 52.5h1M50 52.5h1M32 54.5h1M87 54.5h1M0 58.5h1M87 59.5h1M48 60.5h1M28 61.5h1M93 63.5h1M72 65.5h1M13 66.5h1M76 66.5h1M5 68.5h1M18 69.5h1M71 70.5h1M0 71.5h1M10 72.5h1M65 72.5h1M76 72.5h1M23 74.5h1M70 75.5h1M82 76.5h1M55 77.5h1M84 77.5h1M10 79.5h1M51 80.5h1M20 81.5h1M91 81.5h1M44 85.5h1M87 85.5h1M42 87.5h1M77 89.5h1M4 91.5h1M66 91.5h1M79 92.5h1M61 93.5h1M53 95.5h1M72 100.5h1M79 103.5h1M59 105.5h1M80 105.5h1M34 107.5h1M68 107.5h1M84 107.5h1M37 109.5h1M52 110.5h1M51 114.5h1M8 115.5h1M75 116.5h1M1 117.5h1M55 117.5h1M22 119.5h1M58 120.5h1M49 122.5h1M0 123.5h1M18 124.5h1M72 124.5h1M44 126.5h1M68 126.5h1"/><path stroke="#3d3d3d" d="M1 1.5h1M14 1.5h1M4 3.5h1M19 3.5h1M15 4.5h1M74 4.5h1M29 6.5h1M19 9.5h1M61 11.5h1M1 12.5h1M43 12.5h1M0 13.5h1M56 13.5h1M78 15.5h1M27 16.5h1M85 17.5h1M24 19.5h1M26 19.5h1M53 20.5h1M92 26.5h1M91 27.5h1M21 30.5h1M58 33.5h1M88 33.5h1M82 34.5h1M58 35.5h1M73 37.5h1M47 40.5h1M63 41.5h1M54 42.5h1M55 43.5h1M7 45.5h2M43 47.5h1M19 48.5h1M2 51.5h1M53 52.5h1M21 56.5h1M50 58.5h1M84 59.5h1M66 62.5h1M94 63.5h1M3 64.5h1M46 64.5h1M59 64.5h1M92 65.5h1M62 67.5h1M94 67.5h1M33 69.5h1M31 70.5h1M62 70.5h1M77 71.5h1M93 71.5h1M61 72.5h1M68 72.5h1M78 73.5h1M46 74.5h1M64 74.5h1M35 75.5h1M67 79.5h1M41 80.5h1M60 80.5h1M11 81.5h1M14 81.5h1M10 82.5h1M79 82.5h1M27 83.5h1M56 84.5h1M70 85.5h1M27 87.5h1M43 89.5h1M43 92.5h1M27 93.5h1M43 93.5h1M71 93.5h1M10 94.5h1M14 94.5h1M45 94.5h1M73 95.5h1M71 96.5h1M3 98.5h1M46 98.5h1M61 99.5h1M60 100.5h1M70 100.5h1M35 105.5h1M69 105.5h1M18 107.5h1M28 107.5h1M43 108.5h1M29 109.5h1M49 110.5h1M39 114.5h1M65 115.5h1M68 116.5h1M7 118.5h1M14 121.5h1M41 121.5h1M26 122.5h1M87 122.5h1M49 123.5h1M61 124.5h1M46 125.5h1M1 126.5h1M75 127.5h1"/><path stroke="#3e3e3e" d="M19 2.5h1M64 3.5h1M6 4.5h1M10 4.5h1M10 5.5h1M64 5.5h1M72 7.5h1M81 7.5h1M92 8.5h1M55 10.5h1M84 11.5h1M30 12.5h1M73 12.5h1M12 14.5h1M93 17.5h1M25 18.5h1M52 20.5h1M61 26.5h1M77 26.5h1M23 27.5h1M22 28.5h1M63 28.5h1M81 28.5h1M39 29.5h1M67 29.5h1M45 32.5h1M18 34.5h1M9 35.5h2M30 35.5h1M30 36.5h1M70 42.5h1M8 44.5h1M35 44.5h1M33 45.5h1M91 46.5h1M82 47.5h1M54 48.5h1M0 51.5h1M3 51.5h1M74 51.5h1M29 52.5h1M42 53.5h1M59 53.5h1M36 54.5h1M49 54.5h1M44 58.5h1M77 58.5h1M56 59.5h1M58 60.5h1M75 61.5h1M23 62.5h1M46 62.5h1M63 62.5h1M18 63.5h1M10 69.5h1M58 71.5h1M59 73.5h1M8 74.5h1M18 74.5h1M92 74.5h1M0 75.5h1M1 76.5h1M32 76.5h1M90 77.5h1M71 79.5h1M76 79.5h1M8 80.5h1M66 81.5h1M86 81.5h1M78 82.5h1M84 83.5h1M12 84.5h1M46 86.5h1M94 86.5h1M91 88.5h1M62 89.5h1M78 89.5h1M34 92.5h1M71 94.5h1M51 95.5h1M41 97.5h1M49 98.5h1M66 98.5h1M9 101.5h1M40 102.5h1M13 103.5h1M80 104.5h1M43 105.5h1M56 105.5h1M48 107.5h1M50 110.5h1M85 111.5h1M56 112.5h1M81 112.5h2M19 113.5h1M75 115.5h1M47 119.5h1M85 121.5h1M23 122.5h1M41 123.5h1M22 126.5h1M90 126.5h1"/><path stroke="#3f3f3f" d="M13 2.5h1M94 4.5h1M53 5.5h1M44 7.5h1M87 7.5h1M13 9.5h1M49 9.5h1M85 9.5h1M73 13.5h1M87 14.5h1M34 16.5h1M66 16.5h1M21 17.5h1M24 21.5h1M74 21.5h1M1 22.5h1M80 25.5h1M92 28.5h1M91 32.5h1M6 34.5h1M83 34.5h1M68 36.5h1M84 36.5h1M8 37.5h1M85 40.5h1M67 42.5h1M86 43.5h1M17 44.5h1M33 44.5h1M45 46.5h1M19 47.5h1M27 49.5h1M51 49.5h1M15 50.5h1M51 50.5h1M23 52.5h1M69 52.5h1M45 57.5h1M37 61.5h1M28 65.5h1M71 65.5h1M21 68.5h1M26 68.5h1M29 71.5h1M4 73.5h1M25 75.5h1M53 77.5h1M61 79.5h1M19 80.5h1M70 80.5h1M81 84.5h1M69 87.5h1M20 94.5h1M10 95.5h1M42 96.5h1M49 96.5h1M91 99.5h1M56 102.5h1M86 107.5h1M66 108.5h1M71 108.5h1M44 112.5h1M53 113.5h1M91 114.5h1M48 115.5h1M61 115.5h1M8 116.5h1M47 116.5h1M94 117.5h1M31 123.5h1M59 124.5h1M89 125.5h1M29 126.5h1M3 127.5h1M51 127.5h1"/><path stroke="#404040" d="M69 0.5h1M57 1.5h1M4 4.5h1M65 5.5h1M72 5.5h1M0 6.5h1M1 7.5h1M6 7.5h1M0 8.5h1M16 8.5h1M40 8.5h1M18 11.5h1M14 12.5h1M63 12.5h1M21 13.5h1M36 14.5h1M56 14.5h1M66 14.5h1M28 15.5h1M80 17.5h1M27 19.5h1M34 19.5h1M75 23.5h1M26 24.5h1M25 28.5h1M49 29.5h1M45 31.5h1M80 31.5h1M89 31.5h1M51 32.5h1M89 32.5h1M75 33.5h1M5 36.5h1M55 39.5h1M25 40.5h1M39 41.5h1M49 41.5h1M94 42.5h1M31 45.5h1M59 46.5h1M28 49.5h1M17 55.5h1M32 56.5h1M39 56.5h1M60 56.5h1M59 57.5h1M93 57.5h1M70 59.5h1M58 62.5h1M30 63.5h1M94 64.5h1M5 65.5h1M7 65.5h1M44 68.5h1M13 69.5h1M4 72.5h1M60 72.5h1M5 73.5h1M28 74.5h1M48 74.5h1M76 74.5h1M24 76.5h1M9 77.5h1M49 79.5h1M15 82.5h1M65 82.5h1M52 84.5h1M38 88.5h1M72 89.5h1M53 90.5h1M67 90.5h1M87 94.5h1M14 98.5h1M18 98.5h1M52 100.5h1M70 101.5h1M72 102.5h1M15 103.5h1M36 105.5h1M72 105.5h1M9 106.5h1M19 106.5h1M65 107.5h1M14 114.5h1M58 114.5h1M69 114.5h1M48 116.5h1M24 117.5h1M70 118.5h1M52 119.5h1M7 122.5h1M51 122.5h1M67 124.5h1M31 125.5h1M45 127.5h1M53 127.5h1"/><path stroke="#414141" d="M88 1.5h1M14 3.5h1M94 5.5h1M88 6.5h1M38 7.5h1M11 8.5h1M71 8.5h1M28 9.5h1M54 10.5h1M89 10.5h1M57 11.5h1M5 12.5h1M18 12.5h1M79 13.5h1M24 14.5h1M30 14.5h1M63 14.5h1M82 14.5h1M10 17.5h1M88 18.5h1M25 22.5h2M24 24.5h1M67 25.5h1M78 25.5h1M42 39.5h1M81 39.5h1M93 39.5h1M9 44.5h1M62 45.5h1M63 48.5h1M82 48.5h1M0 49.5h1M15 49.5h1M66 49.5h1M68 49.5h1M12 51.5h1M60 51.5h1M0 53.5h1M40 53.5h1M36 55.5h1M89 56.5h1M35 57.5h1M50 57.5h1M19 59.5h1M29 60.5h1M77 62.5h1M17 63.5h1M16 65.5h1M56 65.5h1M59 66.5h1M7 68.5h1M62 68.5h1M76 68.5h1M25 70.5h1M57 72.5h1M29 73.5h1M16 75.5h2M94 76.5h1M27 81.5h1M92 81.5h1M9 82.5h1M17 82.5h1M51 82.5h1M68 83.5h1M84 84.5h1M87 84.5h1M13 85.5h1M5 86.5h1M16 86.5h1M71 89.5h1M12 90.5h1M75 90.5h1M16 92.5h1M54 92.5h1M57 95.5h1M81 95.5h1M36 97.5h1M69 98.5h1M86 98.5h1M11 100.5h1M35 101.5h1M69 104.5h1M77 105.5h1M12 107.5h1M60 108.5h1M65 108.5h1M70 109.5h1M41 113.5h1M45 113.5h1M79 113.5h1M38 114.5h1M1 116.5h1M24 116.5h1M85 116.5h1M76 117.5h1M92 117.5h1M35 118.5h1M50 118.5h1M2 119.5h1M55 120.5h1M43 121.5h1M76 121.5h1M31 124.5h1M20 125.5h1M23 126.5h1"/><path stroke="#424242" d="M48 3.5h1M62 3.5h1M91 3.5h1M36 5.5h1M19 10.5h1M46 10.5h1M17 13.5h1M87 13.5h1M77 15.5h1M25 24.5h1M90 26.5h1M9 27.5h1M87 27.5h1M33 28.5h1M22 29.5h1M80 30.5h1M83 31.5h1M53 34.5h1M90 34.5h1M22 35.5h1M24 35.5h1M42 35.5h1M38 36.5h1M83 39.5h1M62 46.5h1M65 46.5h1M50 47.5h1M50 48.5h1M84 49.5h1M12 50.5h1M25 51.5h1M59 51.5h1M68 51.5h1M34 54.5h1M23 57.5h1M20 58.5h1M58 58.5h1M75 60.5h1M42 62.5h1M58 63.5h1M6 66.5h1M92 66.5h1M80 69.5h1M32 70.5h1M58 70.5h1M76 70.5h1M6 71.5h1M63 72.5h1M7 73.5h1M1 77.5h1M66 80.5h1M8 82.5h1M24 83.5h1M87 83.5h1M2 85.5h1M2 86.5h1M42 86.5h1M53 87.5h1M43 88.5h1M69 89.5h1M25 92.5h1M27 92.5h1M82 92.5h1M6 95.5h1M15 95.5h1M29 96.5h1M53 96.5h1M58 96.5h1M83 96.5h1M29 97.5h1M49 97.5h1M58 97.5h1M34 98.5h1M72 101.5h1M78 101.5h1M32 103.5h1M7 106.5h1M79 106.5h1M63 107.5h1M3 110.5h1M28 110.5h1M66 113.5h1M1 114.5h1M55 116.5h1M72 116.5h1M70 117.5h1M18 118.5h1M94 118.5h1M43 120.5h1M5 121.5h1M46 124.5h1M29 127.5h1M52 127.5h1"/><path stroke="#434343" d="M66 1.5h1M35 2.5h1M56 7.5h1M61 9.5h1M57 10.5h1M3 11.5h1M78 13.5h1M49 14.5h1M82 15.5h1M61 22.5h1M54 23.5h1M81 25.5h1M41 31.5h1M42 32.5h1M32 37.5h1M8 40.5h1M22 40.5h1M54 41.5h1M64 43.5h1M32 46.5h1M27 51.5h1M62 52.5h1M4 53.5h1M11 53.5h1M15 53.5h1M24 55.5h1M51 55.5h1M88 56.5h1M69 57.5h1M64 58.5h1M76 58.5h1M87 58.5h1M30 61.5h1M4 64.5h1M30 64.5h1M45 69.5h1M36 70.5h1M31 72.5h1M56 72.5h1M80 72.5h1M91 72.5h1M32 74.5h1M62 74.5h1M31 75.5h1M51 75.5h1M34 76.5h1M62 77.5h1M53 78.5h1M18 81.5h1M2 83.5h1M65 83.5h1M24 84.5h1M76 84.5h1M26 86.5h1M6 87.5h1M44 87.5h1M63 89.5h1M56 91.5h1M40 92.5h1M92 93.5h1M16 94.5h1M43 94.5h1M69 95.5h1M1 97.5h1M89 98.5h1M30 104.5h1M29 105.5h1M13 107.5h1M36 108.5h1M50 109.5h1M35 110.5h1M25 111.5h1M10 112.5h1M13 112.5h1M55 113.5h1M86 113.5h1M6 115.5h1M9 115.5h1M56 116.5h1M50 119.5h1M78 119.5h1M14 120.5h1M34 122.5h1M67 122.5h1M91 123.5h1M51 124.5h1M88 124.5h1M85 127.5h1"/><path stroke="#444444" d="M48 0.5h1M86 0.5h1M44 1.5h1M46 1.5h1M4 2.5h1M14 2.5h1M86 2.5h1M92 2.5h1M20 5.5h1M57 5.5h1M79 5.5h1M12 6.5h1M73 6.5h1M7 10.5h1M38 10.5h1M29 11.5h1M31 11.5h1M29 13.5h1M81 14.5h1M12 15.5h1M12 17.5h1M60 17.5h1M94 17.5h1M56 22.5h1M80 23.5h1M82 25.5h1M4 26.5h1M48 26.5h1M81 26.5h1M12 27.5h1M31 27.5h1M21 28.5h1M31 29.5h1M92 29.5h1M46 30.5h1M88 30.5h1M43 31.5h1M53 31.5h1M52 35.5h1M60 35.5h1M74 37.5h1M49 38.5h1M68 39.5h1M92 42.5h1M9 43.5h1M63 43.5h1M19 44.5h1M8 48.5h1M25 48.5h1M18 52.5h1M69 53.5h1M84 53.5h1M17 54.5h1M60 54.5h1M84 54.5h1M54 58.5h1M53 59.5h1M57 59.5h1M26 61.5h1M55 63.5h1M4 66.5h1M66 66.5h1M6 67.5h1M56 67.5h1M9 70.5h1M9 71.5h1M15 71.5h1M92 73.5h1M84 75.5h1M21 76.5h1M81 80.5h1M5 81.5h1M46 81.5h1M77 81.5h1M86 83.5h1M6 85.5h1M28 86.5h1M84 86.5h1M25 91.5h1M43 95.5h1M74 96.5h1M91 97.5h1M7 99.5h1M93 101.5h1M37 103.5h1M20 106.5h1M39 108.5h1M67 114.5h1M83 116.5h1M19 117.5h1M7 123.5h1M33 123.5h1M50 124.5h1M81 125.5h1M33 126.5h1"/><path stroke="#454545" d="M8 1.5h1M74 1.5h1M1 2.5h1M46 3.5h1M5 4.5h1M16 5.5h1M70 7.5h1M27 8.5h1M89 9.5h1M2 11.5h1M49 11.5h1M11 12.5h1M13 13.5h1M71 14.5h1M19 16.5h1M91 16.5h1M83 17.5h1M24 20.5h1M52 22.5h1M90 25.5h1M70 30.5h1M82 30.5h1M35 31.5h1M49 31.5h1M22 34.5h1M24 34.5h1M53 35.5h1M68 35.5h1M57 36.5h1M94 48.5h1M51 51.5h1M17 52.5h1M50 53.5h1M48 54.5h1M90 54.5h1M5 55.5h1M55 55.5h1M66 55.5h1M17 57.5h1M27 57.5h1M23 58.5h1M86 59.5h1M39 61.5h1M91 61.5h1M16 62.5h1M55 62.5h1M13 64.5h1M93 64.5h1M4 65.5h1M59 65.5h1M11 66.5h1M77 66.5h1M65 68.5h1M16 70.5h1M6 74.5h1M0 78.5h1M54 78.5h1M28 84.5h1M88 84.5h1M15 85.5h1M70 88.5h1M22 90.5h1M30 92.5h1M0 98.5h1M12 98.5h1M60 99.5h1M65 101.5h1M87 105.5h1M18 106.5h1M6 107.5h1M36 107.5h1M66 107.5h1M45 112.5h1M75 113.5h1M80 113.5h1M85 113.5h1M92 114.5h1M88 115.5h1M15 117.5h1M25 117.5h1M8 119.5h1M64 119.5h1M78 122.5h1M51 123.5h1M92 124.5h1M3 125.5h1M18 126.5h1M72 126.5h1M0 127.5h1"/><path stroke="#464646" d="M41 0.5h1M2 4.5h1M78 4.5h1M67 7.5h1M93 7.5h1M2 8.5h1M70 9.5h1M77 9.5h1M21 10.5h1M14 11.5h1M72 12.5h1M34 13.5h1M63 13.5h1M66 15.5h1M80 15.5h1M91 15.5h1M9 17.5h1M89 19.5h1M54 22.5h1M81 22.5h1M78 23.5h1M51 24.5h1M67 24.5h1M92 24.5h1M73 26.5h1M69 27.5h1M75 30.5h1M81 30.5h1M10 34.5h1M2 35.5h1M71 35.5h1M74 35.5h1M62 37.5h1M37 38.5h1M62 39.5h1M80 39.5h1M34 40.5h1M51 44.5h1M80 45.5h1M9 46.5h1M50 46.5h1M22 48.5h1M18 49.5h1M18 50.5h1M68 50.5h1M80 51.5h1M88 51.5h2M52 52.5h1M88 53.5h1M20 56.5h1M34 56.5h1M41 57.5h1M4 61.5h1M64 61.5h1M43 62.5h1M44 63.5h1M10 65.5h1M29 65.5h1M16 68.5h1M31 71.5h1M25 72.5h1M90 72.5h1M93 72.5h1M33 73.5h1M39 73.5h1M55 73.5h1M76 73.5h1M86 73.5h1M83 74.5h1M32 75.5h1M7 76.5h1M9 76.5h1M31 76.5h1M54 77.5h1M11 79.5h1M61 81.5h1M88 83.5h1M49 85.5h1M66 85.5h1M55 89.5h1M79 89.5h1M3 90.5h1M20 92.5h1M94 93.5h1M74 95.5h2M86 95.5h1M7 96.5h1M17 97.5h1M15 99.5h1M89 99.5h1M92 101.5h1M39 103.5h1M78 103.5h1M87 103.5h1M9 104.5h1M14 104.5h1M3 105.5h1M1 106.5h1M8 106.5h1M60 106.5h1M87 106.5h1M35 107.5h1M31 108.5h1M85 108.5h1M23 111.5h1M6 112.5h1M86 112.5h1M69 115.5h1M84 118.5h1M59 120.5h1M6 121.5h1M33 122.5h1M77 122.5h1M89 123.5h1M49 125.5h1"/><path stroke="#474747" d="M11 1.5h1M77 5.5h1M72 6.5h1M5 7.5h1M47 9.5h1M91 9.5h1M83 10.5h1M39 11.5h1M22 14.5h1M39 15.5h1M35 17.5h1M34 20.5h1M58 22.5h1M28 24.5h1M80 24.5h1M87 28.5h1M21 29.5h1M38 29.5h1M50 31.5h1M84 32.5h1M9 34.5h1M55 35.5h1M2 36.5h1M92 40.5h1M48 42.5h1M64 42.5h1M33 43.5h1M42 46.5h1M54 46.5h1M2 47.5h1M16 47.5h1M64 48.5h1M69 49.5h1M41 50.5h1M36 57.5h1M36 58.5h1M57 61.5h1M56 66.5h1M78 66.5h1M22 68.5h1M56 68.5h1M29 72.5h1M32 72.5h1M62 73.5h1M84 76.5h1M19 79.5h1M47 80.5h1M50 80.5h1M56 80.5h1M8 81.5h1M25 82.5h1M15 83.5h1M33 83.5h1M20 84.5h1M12 86.5h1M67 86.5h1M54 88.5h1M11 89.5h1M89 89.5h1M2 90.5h1M26 91.5h1M38 91.5h1M55 93.5h1M86 94.5h1M27 95.5h1M87 95.5h1M42 103.5h1M71 106.5h1M78 107.5h1M46 110.5h1M82 110.5h1M36 111.5h1M61 113.5h1M21 114.5h1M53 114.5h1M55 115.5h1M57 115.5h1M94 116.5h1M39 117.5h1M1 118.5h1M25 118.5h1M65 120.5h1M55 122.5h1M16 123.5h1M47 124.5h2M94 124.5h1M0 125.5h1M19 125.5h1M61 126.5h1M62 127.5h1"/><path stroke="#484848" d="M75 1.5h1M88 2.5h1M32 3.5h1M73 5.5h1M55 6.5h1M89 6.5h1M82 7.5h1M34 8.5h1M2 10.5h1M11 10.5h1M71 12.5h1M72 13.5h1M77 13.5h1M58 14.5h1M10 19.5h1M88 19.5h1M26 20.5h1M3 22.5h1M1 23.5h1M2 25.5h1M49 27.5h1M39 32.5h1M58 32.5h1M20 33.5h1M88 35.5h1M52 38.5h1M81 40.5h1M94 40.5h1M63 42.5h1M18 46.5h1M83 46.5h1M60 47.5h1M79 47.5h1M80 52.5h1M79 53.5h1M40 55.5h1M29 62.5h1M76 67.5h1M89 70.5h1M86 71.5h1M34 74.5h1M8 75.5h1M27 76.5h1M71 76.5h1M89 76.5h1M36 78.5h1M63 78.5h1M31 82.5h1M30 90.5h1M29 92.5h1M27 98.5h1M86 103.5h1M60 104.5h1M5 107.5h1M26 111.5h1M66 114.5h1M17 115.5h1M69 117.5h1M90 120.5h1M46 123.5h1M3 126.5h1M21 127.5h1M43 127.5h1"/><path stroke="#494949" d="M25 0.5h1M86 1.5h1M45 4.5h1M35 5.5h1M20 6.5h1M49 6.5h1M52 6.5h1M66 8.5h1M89 8.5h1M50 9.5h1M28 10.5h1M69 10.5h1M59 11.5h1M87 11.5h1M67 14.5h1M89 15.5h1M71 16.5h1M53 22.5h1M62 22.5h1M26 25.5h1M5 32.5h1M31 34.5h1M57 34.5h1M88 34.5h1M85 37.5h1M94 39.5h1M56 43.5h1M8 46.5h1M8 47.5h1M32 47.5h1M67 48.5h1M71 48.5h1M19 53.5h1M38 53.5h1M68 54.5h1M6 55.5h1M2 56.5h1M69 58.5h1M93 58.5h1M17 64.5h1M57 68.5h1M6 69.5h1M6 70.5h1M54 70.5h1M51 71.5h1M64 72.5h1M51 73.5h1M30 74.5h1M88 74.5h1M48 75.5h1M28 77.5h1M62 80.5h1M41 81.5h1M41 83.5h1M49 83.5h1M6 86.5h1M44 86.5h1M93 86.5h1M62 90.5h1M94 91.5h1M14 92.5h1M26 93.5h1M39 96.5h1M13 98.5h1M0 99.5h1M71 102.5h1M88 105.5h1M40 110.5h1M73 110.5h1M85 112.5h1M65 116.5h1M85 118.5h1M84 120.5h1M53 122.5h1M90 123.5h1M5 124.5h1M52 124.5h1M67 125.5h1M55 126.5h1M49 127.5h1"/><path stroke="#4a4a4a" d="M32 2.5h1M46 2.5h1M15 3.5h1M22 3.5h1M78 3.5h1M90 3.5h1M14 5.5h1M75 8.5h1M71 11.5h1M38 12.5h1M35 16.5h1M70 18.5h1M65 21.5h1M23 24.5h1M54 25.5h1M73 27.5h1M35 28.5h1M49 28.5h1M6 31.5h1M84 33.5h1M31 37.5h1M7 38.5h1M54 39.5h1M41 46.5h1M47 46.5h1M30 48.5h1M32 48.5h1M42 48.5h1M70 48.5h1M3 55.5h1M1 56.5h1M55 59.5h1M22 61.5h1M12 63.5h1M6 64.5h1M13 65.5h1M34 65.5h1M46 65.5h1M7 67.5h1M4 69.5h1M38 69.5h1M76 69.5h1M36 76.5h1M71 77.5h1M63 79.5h1M58 84.5h1M25 85.5h1M42 90.5h1M54 91.5h1M69 93.5h1M44 94.5h1M82 95.5h1M3 97.5h1M63 100.5h1M67 106.5h1M50 108.5h1M62 108.5h1M52 113.5h1M13 114.5h1M82 116.5h1M87 116.5h1M93 117.5h1M22 118.5h1M90 119.5h1M57 120.5h1M46 121.5h1M17 124.5h1M72 125.5h1"/><path stroke="#4b4b4b" d="M28 0.5h1M87 2.5h1M34 6.5h1M90 6.5h1M0 7.5h1M31 8.5h1M39 12.5h1M58 12.5h1M19 13.5h1M63 21.5h1M82 23.5h1M68 25.5h1M2 27.5h1M34 29.5h1M45 30.5h1M88 32.5h1M54 33.5h1M18 37.5h1M94 41.5h1M34 42.5h1M43 43.5h1M83 45.5h1M67 46.5h1M27 50.5h1M69 50.5h1M45 55.5h1M72 55.5h1M54 57.5h1M56 60.5h1M46 63.5h1M87 63.5h1M7 69.5h1M16 69.5h1M74 69.5h1M59 71.5h1M64 73.5h1M88 73.5h1M87 74.5h1M92 75.5h1M39 78.5h1M71 78.5h1M26 80.5h1M69 80.5h1M40 83.5h1M69 88.5h1M29 90.5h1M42 91.5h1M36 92.5h1M4 96.5h1M75 96.5h1M88 96.5h1M12 99.5h1M49 99.5h1M94 99.5h1M8 100.5h1M63 102.5h1M87 104.5h1M18 105.5h1M32 105.5h1M70 105.5h1M76 107.5h1M61 108.5h1M30 109.5h1M74 109.5h1M47 110.5h1M81 111.5h1M58 113.5h1M0 114.5h1M65 117.5h1M17 123.5h1M93 123.5h1M30 124.5h1M92 126.5h1"/><path stroke="#4c4c4c" d="M74 0.5h1M44 4.5h1M87 8.5h1M42 9.5h1M75 10.5h1M2 13.5h1M38 14.5h1M84 18.5h1M8 24.5h1M31 28.5h1M75 29.5h1M5 35.5h1M63 37.5h1M7 39.5h1M16 39.5h1M72 39.5h1M80 40.5h1M45 43.5h1M29 44.5h1M24 46.5h1M80 46.5h1M17 47.5h1M30 47.5h1M7 48.5h1M0 50.5h1M2 50.5h1M28 50.5h1M18 51.5h1M42 51.5h1M57 52.5h1M32 55.5h1M84 55.5h1M17 56.5h1M72 57.5h1M24 65.5h1M79 67.5h1M74 71.5h1M5 72.5h1M75 72.5h1M70 73.5h1M29 74.5h1M70 76.5h1M92 77.5h1M36 79.5h1M2 80.5h1M35 81.5h1M69 81.5h1M1 82.5h1M32 82.5h1M12 83.5h1M80 93.5h1M3 94.5h1M79 95.5h1M18 96.5h1M92 100.5h1M78 102.5h1M19 103.5h1M8 104.5h1M78 104.5h1M42 105.5h1M10 113.5h1M50 113.5h1M47 115.5h1M83 118.5h1M85 120.5h1M21 125.5h1M9 126.5h1M53 126.5h1"/><path stroke="#4d4d4d" d="M25 7.5h1M39 7.5h1M2 9.5h1M12 9.5h1M27 9.5h1M57 9.5h1M82 9.5h1M6 13.5h1M23 13.5h1M42 14.5h1M54 16.5h1M29 18.5h1M61 21.5h1M66 22.5h1M78 24.5h1M9 26.5h1M91 30.5h1M81 33.5h1M21 35.5h1M57 35.5h1M18 36.5h1M94 37.5h1M63 39.5h1M83 40.5h1M7 46.5h1M11 46.5h1M28 46.5h1M7 47.5h1M78 52.5h1M64 53.5h1M7 54.5h1M26 56.5h1M14 60.5h1M24 60.5h1M34 64.5h1M15 66.5h1M85 67.5h1M27 68.5h1M38 68.5h1M62 71.5h1M50 73.5h1M0 76.5h1M36 77.5h1M14 78.5h1M23 78.5h1M57 78.5h1M38 79.5h1M74 82.5h1M51 84.5h1M55 90.5h1M94 90.5h1M18 92.5h1M41 92.5h1M90 93.5h1M2 94.5h1M10 96.5h1M37 97.5h1M63 101.5h1M72 103.5h1M86 104.5h1M92 108.5h1M88 110.5h1M35 113.5h1M40 114.5h1M34 118.5h1M65 118.5h1M93 118.5h1M67 119.5h1M46 122.5h1M52 122.5h1M93 124.5h1M60 126.5h1M61 127.5h1"/><path stroke="#4e4e4e" d="M50 2.5h1M16 4.5h1M21 4.5h1M74 6.5h1M4 9.5h1M0 10.5h1M10 11.5h1M42 11.5h1M19 12.5h1M28 13.5h1M80 13.5h1M28 14.5h1M42 15.5h1M82 16.5h1M57 17.5h1M10 18.5h1M54 21.5h1M84 22.5h1M49 25.5h1M90 27.5h1M39 31.5h1M73 32.5h1M53 33.5h1M40 34.5h1M23 36.5h1M20 38.5h1M15 40.5h1M16 41.5h1M54 47.5h1M11 48.5h1M53 49.5h1M93 49.5h1M86 50.5h1M60 55.5h1M4 60.5h1M42 63.5h1M7 66.5h1M15 67.5h1M39 69.5h1M65 69.5h1M19 70.5h1M32 71.5h1M88 71.5h1M86 72.5h1M38 73.5h1M88 75.5h1M6 77.5h1M26 78.5h1M63 81.5h1M14 82.5h1M28 85.5h1M84 85.5h1M86 87.5h1M6 90.5h1M63 90.5h1M67 91.5h1M67 92.5h1M83 93.5h1M14 95.5h1M38 96.5h1M86 96.5h1M34 97.5h1M38 97.5h1M70 98.5h1M69 101.5h1M57 102.5h1M64 103.5h1M12 104.5h2M57 104.5h1M9 105.5h1M39 105.5h1M71 105.5h1M40 112.5h1M12 114.5h1M50 114.5h1M51 118.5h1M88 119.5h1M30 122.5h1M89 124.5h1M5 125.5h1M60 125.5h2M68 125.5h1"/><path stroke="#4f4f4f" d="M75 0.5h1M50 1.5h1M87 1.5h1M51 4.5h1M16 6.5h1M71 7.5h1M92 7.5h1M40 9.5h1M4 10.5h1M78 10.5h1M0 12.5h1M29 12.5h1M36 12.5h1M5 13.5h1M88 15.5h1M26 21.5h1M87 21.5h1M77 22.5h1M79 24.5h1M76 28.5h1M39 30.5h1M52 31.5h1M34 32.5h1M18 33.5h1M94 36.5h1M53 38.5h1M92 41.5h1M23 43.5h1M47 43.5h1M84 47.5h1M4 50.5h1M24 54.5h1M53 55.5h1M43 57.5h1M25 60.5h1M55 61.5h1M44 66.5h1M17 67.5h1M86 67.5h1M71 72.5h1M10 74.5h1M75 74.5h1M28 76.5h1M39 76.5h1M0 77.5h1M49 78.5h1M1 81.5h1M52 83.5h1M70 86.5h1M75 88.5h1M26 92.5h1M38 92.5h1M18 94.5h1M52 94.5h1M54 94.5h1M5 99.5h1M57 103.5h1M66 103.5h1M88 106.5h1M16 107.5h1M31 107.5h1M7 108.5h1M67 108.5h1M77 108.5h1M48 111.5h1M72 113.5h1M55 114.5h1M87 114.5h1M94 114.5h1M50 115.5h1M33 116.5h1M86 116.5h1M14 117.5h1M45 121.5h1M78 123.5h1M84 125.5h1"/><path stroke="#505050" d="M59 1.5h1M72 1.5h1M29 2.5h1M14 4.5h1M76 4.5h1M51 8.5h1M81 13.5h1M48 14.5h1M71 15.5h1M27 18.5h1M69 18.5h1M53 21.5h1M54 24.5h1M68 24.5h1M8 25.5h1M3 26.5h1M72 28.5h1M48 29.5h1M90 30.5h1M18 35.5h1M85 36.5h1M68 41.5h1M11 47.5h1M49 49.5h1M28 51.5h1M81 52.5h1M65 53.5h1M81 53.5h1M70 57.5h1M47 58.5h1M77 59.5h1M29 61.5h1M12 66.5h1M46 68.5h1M28 69.5h1M87 70.5h1M54 73.5h1M26 74.5h1M6 75.5h1M6 76.5h1M51 76.5h1M83 77.5h1M83 79.5h1M47 81.5h1M63 84.5h1M26 85.5h1M20 93.5h1M33 93.5h1M80 94.5h1M1 96.5h1M94 100.5h1M32 104.5h1M41 104.5h1M72 104.5h1M71 107.5h1M36 112.5h1M48 114.5h1M85 114.5h1M1 115.5h1M8 117.5h1M89 118.5h1M51 119.5h1M84 119.5h1M76 120.5h1M33 121.5h1M77 123.5h1M2 124.5h1"/><path stroke="#515151" d="M27 2.5h1M17 5.5h1M71 5.5h1M74 5.5h1M80 5.5h1M90 5.5h1M15 10.5h1M70 10.5h1M10 12.5h1M58 13.5h1M18 17.5h1M66 21.5h1M20 22.5h1M55 22.5h1M30 27.5h1M30 29.5h1M19 30.5h1M71 32.5h1M41 33.5h1M62 38.5h1M46 44.5h1M30 45.5h1M45 45.5h1M46 46.5h1M44 47.5h1M40 51.5h1M93 51.5h1M37 53.5h1M89 54.5h1M41 56.5h1M15 63.5h1M29 63.5h1M37 63.5h1M6 65.5h1M14 68.5h1M39 68.5h1M24 70.5h1M49 73.5h1M89 74.5h1M20 82.5h1M14 85.5h1M72 86.5h1M78 86.5h1M34 90.5h1M30 91.5h1M28 95.5h1M28 98.5h1M12 100.5h1M14 103.5h1M38 104.5h1M39 106.5h1M73 112.5h1M57 113.5h1M21 115.5h1M91 116.5h1M29 122.5h1M52 123.5h1M33 124.5h1M33 125.5h1M51 125.5h1M21 126.5h1M5 127.5h1"/><path stroke="#525252" d="M11 11.5h1M48 11.5h1M38 13.5h1M44 15.5h1M52 16.5h1M89 17.5h1M51 21.5h1M21 22.5h1M79 25.5h1M49 26.5h1M51 27.5h1M81 27.5h1M47 29.5h1M41 32.5h1M37 37.5h1M24 39.5h1M19 43.5h1M18 48.5h1M6 51.5h1M7 53.5h1M20 57.5h1M58 59.5h1M89 60.5h1M3 61.5h1M57 62.5h1M43 63.5h1M86 63.5h1M26 69.5h1M4 71.5h1M24 72.5h1M4 75.5h1M24 75.5h1M39 77.5h1M59 77.5h1M13 79.5h1M74 80.5h1M78 80.5h1M81 81.5h1M86 82.5h1M33 84.5h1M83 84.5h1M11 87.5h1M70 87.5h1M16 93.5h1M4 98.5h1M50 101.5h1M41 102.5h1M30 105.5h1M4 108.5h1M52 111.5h1M38 113.5h1M91 115.5h1M8 118.5h1M23 118.5h1M66 119.5h1M45 120.5h1M17 121.5h1M78 121.5h1M32 123.5h1M29 124.5h1M86 125.5h1M0 126.5h1M32 126.5h1M57 127.5h1M66 127.5h1"/><path stroke="#535353" d="M6 5.5h1M49 8.5h1M61 15.5h1M20 16.5h1M80 16.5h1M27 24.5h1M57 24.5h1M27 25.5h1M38 31.5h1M42 33.5h1M52 33.5h1M48 45.5h1M18 47.5h1M62 48.5h1M84 48.5h1M73 49.5h1M24 52.5h1M42 52.5h1M52 53.5h1M52 54.5h1M34 55.5h1M45 56.5h1M76 62.5h1M29 64.5h1M60 66.5h1M66 68.5h1M12 72.5h1M62 72.5h1M25 74.5h1M52 74.5h1M12 78.5h2M33 78.5h1M37 78.5h1M36 80.5h1M61 80.5h1M91 90.5h1M29 91.5h1M36 93.5h1M8 94.5h1M54 100.5h1M94 101.5h1M31 104.5h1M38 105.5h1M85 106.5h1M49 107.5h1M38 109.5h1M19 116.5h1M82 118.5h1M39 119.5h1M85 119.5h1M18 121.5h1M34 121.5h1M87 123.5h1M90 124.5h1M85 125.5h1"/><path stroke="#545454" d="M49 3.5h1M6 6.5h1M21 7.5h1M88 7.5h1M70 8.5h1M39 10.5h1M42 10.5h1M0 11.5h1M78 11.5h1M2 12.5h1M23 14.5h1M12 16.5h1M56 16.5h1M76 22.5h1M83 22.5h1M81 24.5h1M81 31.5h1M56 33.5h1M19 34.5h1M39 37.5h1M46 39.5h1M67 39.5h1M84 39.5h1M23 41.5h1M2 46.5h1M41 48.5h1M83 49.5h1M5 50.5h1M58 50.5h1M50 51.5h1M26 52.5h1M10 53.5h1M87 53.5h1M92 57.5h1M27 58.5h1M35 58.5h1M85 59.5h1M66 67.5h1M10 68.5h1M18 68.5h1M10 70.5h1M10 71.5h1M88 72.5h1M63 73.5h1M75 73.5h1M35 74.5h1M63 74.5h1M2 75.5h1M37 76.5h1M82 79.5h1M68 80.5h1M68 81.5h1M26 83.5h1M75 83.5h1M43 85.5h1M71 85.5h1M47 87.5h1M37 89.5h1M69 90.5h1M59 96.5h1M36 104.5h1M8 105.5h1M7 107.5h1M27 107.5h1M59 107.5h2M6 108.5h1M42 108.5h1M19 109.5h1M6 111.5h1M8 111.5h1M90 111.5h1M57 114.5h1M5 115.5h1M71 119.5h1M4 120.5h1M48 120.5h1"/><path stroke="#555555" d="M59 5.5h1M81 8.5h1M30 9.5h1M18 15.5h1M57 18.5h1M9 19.5h1M81 23.5h1M50 24.5h1M82 24.5h1M92 25.5h1M22 26.5h1M10 29.5h1M89 33.5h1M32 34.5h1M68 42.5h1M47 45.5h1M61 47.5h1M51 48.5h1M85 52.5h1M88 52.5h1M18 53.5h1M4 56.5h1M28 59.5h1M88 60.5h1M22 64.5h1M16 66.5h1M9 68.5h1M66 69.5h1M74 70.5h1M53 74.5h1M92 76.5h1M4 78.5h1M28 78.5h1M66 84.5h1M47 86.5h1M15 88.5h1M53 89.5h1M89 91.5h1M70 95.5h1M41 96.5h1M44 96.5h1M40 97.5h1M59 97.5h1M94 102.5h1M71 103.5h1M19 105.5h1M31 106.5h1M44 106.5h1M47 107.5h1M67 107.5h1M47 108.5h1M76 108.5h1M51 110.5h1M40 111.5h1M89 111.5h1M68 117.5h1M83 117.5h1M6 124.5h1"/><path stroke="#565656" d="M89 2.5h1M12 3.5h1M47 5.5h1M91 6.5h1M81 9.5h1M29 14.5h1M84 17.5h1M25 19.5h1M46 24.5h1M26 26.5h1M11 29.5h1M18 30.5h1M71 30.5h1M88 31.5h1M72 33.5h1M42 34.5h2M54 35.5h1M19 42.5h1M21 43.5h1M47 44.5h1M46 45.5h1M73 48.5h1M63 52.5h1M53 53.5h1M1 54.5h1M57 55.5h1M67 55.5h1M18 58.5h1M70 58.5h1M84 58.5h1M2 60.5h1M11 63.5h1M23 66.5h1M16 67.5h1M22 67.5h1M93 67.5h1M75 69.5h1M66 71.5h1M5 75.5h1M52 75.5h1M91 75.5h1M34 77.5h1M69 78.5h1M64 81.5h1M67 81.5h1M84 82.5h1M90 90.5h1M55 92.5h1M32 93.5h1M35 93.5h1M45 95.5h1M52 95.5h1M91 98.5h1M51 99.5h1M50 100.5h1M18 104.5h1M39 107.5h1M1 110.5h1M77 119.5h1M40 120.5h1M5 122.5h1M87 124.5h1M26 125.5h1M90 125.5h1M49 126.5h1M18 127.5h1"/><path stroke="#575757" d="M65 1.5h1M71 6.5h1M49 7.5h1M30 10.5h1M55 16.5h1M27 17.5h1M25 21.5h1M2 23.5h1M28 23.5h1M57 23.5h1M46 27.5h1M60 30.5h1M57 31.5h1M71 31.5h1M89 35.5h1M63 38.5h1M24 40.5h1M35 43.5h1M44 43.5h1M93 50.5h1M61 51.5h1M68 52.5h1M44 54.5h1M47 56.5h1M58 56.5h1M26 58.5h1M55 60.5h1M77 61.5h1M85 66.5h1M4 70.5h1M34 70.5h1M13 71.5h1M21 71.5h1M59 72.5h1M25 73.5h1M83 75.5h1M91 77.5h1M5 78.5h1M15 84.5h1M54 90.5h1M6 91.5h1M37 93.5h1M48 99.5h1M71 100.5h1M93 100.5h1M48 101.5h1M66 101.5h1M15 102.5h1M49 102.5h1M3 107.5h1M85 107.5h1M55 108.5h1M59 108.5h1M4 111.5h1M24 112.5h1M61 114.5h1M92 116.5h1M17 117.5h1M88 122.5h1M15 124.5h1M17 125.5h1M82 125.5h1M87 126.5h1M67 127.5h1"/><path stroke="#585858" d="M60 12.5h1M78 14.5h1M88 17.5h1M89 20.5h1M65 22.5h1M24 27.5h1M30 28.5h1M38 30.5h1M18 31.5h1M40 31.5h1M44 31.5h1M23 33.5h1M46 40.5h1M20 44.5h1M68 44.5h1M10 46.5h1M75 50.5h1M66 51.5h1M77 51.5h1M40 52.5h1M92 58.5h1M45 64.5h1M56 64.5h1M14 70.5h1M53 70.5h1M60 71.5h1M75 71.5h1M18 72.5h1M11 74.5h2M39 74.5h1M12 75.5h1M52 76.5h1M69 79.5h1M51 83.5h1M53 88.5h1M91 89.5h1M33 96.5h1M3 106.5h1M57 106.5h1M50 111.5h1M22 112.5h1M52 112.5h1M42 114.5h1M15 115.5h1M52 115.5h1M59 115.5h1M92 115.5h1M42 120.5h1M89 122.5h1M18 123.5h1M48 123.5h1M57 125.5h1M51 126.5h1M16 127.5h1"/><path stroke="#595959" d="M27 0.5h1M29 1.5h1M76 3.5h1M46 4.5h1M52 4.5h1M79 7.5h1M15 8.5h1M28 19.5h1M84 25.5h1M36 33.5h1M75 37.5h1M72 38.5h1M48 40.5h1M93 42.5h1M85 44.5h1M24 47.5h1M49 50.5h1M83 51.5h1M26 54.5h1M33 54.5h1M45 62.5h1M23 69.5h1M33 72.5h1M51 72.5h1M70 77.5h1M12 79.5h1M10 80.5h1M67 80.5h1M16 83.5h1M64 84.5h1M37 90.5h1M76 90.5h1M43 91.5h1M90 92.5h1M5 95.5h1M86 97.5h1M1 104.5h2M71 104.5h1M29 106.5h1M38 106.5h1M38 108.5h1M20 109.5h1M6 114.5h1M17 122.5h1M5 123.5h1M30 123.5h1M88 126.5h1M14 127.5h1"/><path stroke="#5a5a5a" d="M27 1.5h1M9 2.5h1M35 4.5h1M90 4.5h1M5 5.5h1M52 5.5h1M3 10.5h1M27 12.5h1M36 13.5h1M46 26.5h1M46 29.5h1M2 31.5h1M81 32.5h1M54 34.5h1M35 36.5h1M73 39.5h1M43 46.5h1M68 46.5h1M79 48.5h1M31 49.5h1M64 49.5h1M62 51.5h1M94 52.5h1M28 53.5h1M83 54.5h1M2 57.5h1M47 57.5h1M16 61.5h1M56 63.5h1M61 66.5h1M55 70.5h1M71 71.5h1M18 73.5h1M94 73.5h1M38 75.5h2M83 76.5h1M37 77.5h1M51 77.5h1M3 79.5h1M51 79.5h1M57 79.5h1M7 81.5h1M33 85.5h1M90 87.5h1M43 90.5h1M85 93.5h1M19 94.5h1M40 95.5h1M94 98.5h1M10 100.5h1M49 100.5h1M60 102.5h1M77 106.5h1M29 108.5h1M34 108.5h1M6 113.5h1M49 114.5h1M18 122.5h1M5 126.5h1M50 127.5h1"/><path stroke="#5b5b5b" d="M70 1.5h1M5 6.5h1M34 7.5h1M82 8.5h1M41 9.5h1M89 16.5h1M9 18.5h1M22 25.5h1M34 27.5h1M88 29.5h1M62 30.5h1M18 32.5h1M20 32.5h1M35 32.5h1M40 33.5h1M68 37.5h1M48 39.5h1M85 41.5h1M75 47.5h1M77 47.5h1M4 52.5h1M9 52.5h1M41 53.5h1M14 54.5h1M38 56.5h1M39 57.5h1M28 60.5h1M44 67.5h1M60 68.5h1M33 70.5h1M52 70.5h1M92 70.5h1M15 73.5h1M93 75.5h1M35 76.5h1M12 77.5h1M25 77.5h1M27 77.5h1M41 85.5h1M79 86.5h1M7 87.5h1M43 87.5h1M89 87.5h1M90 89.5h1M42 92.5h1M79 93.5h1M41 95.5h1M40 96.5h1M71 101.5h1M65 102.5h1M39 104.5h1M31 105.5h1M33 105.5h1M38 107.5h1M0 115.5h1M49 115.5h1M87 115.5h1M82 117.5h1M55 118.5h1M1 123.5h1M47 123.5h1M70 124.5h1"/><path stroke="#5c5c5c" d="M45 3.5h1M4 7.5h1M54 7.5h1M38 8.5h1M3 9.5h1M55 9.5h1M92 9.5h1M35 14.5h1M63 29.5h1M74 36.5h1M21 37.5h1M93 40.5h1M30 44.5h1M52 45.5h1M71 45.5h1M31 46.5h1M87 50.5h1M79 52.5h1M26 57.5h1M77 60.5h1M19 64.5h1M5 69.5h1M69 70.5h1M49 77.5h1M52 79.5h1M9 80.5h1M56 83.5h1M85 83.5h1M6 84.5h1M26 84.5h2M27 86.5h1M32 88.5h1M13 93.5h1M68 98.5h1M36 102.5h1M67 104.5h1M16 105.5h1M53 105.5h1M26 108.5h1M90 110.5h1M73 111.5h1M79 111.5h1M74 113.5h1M53 119.5h1M69 124.5h1"/><path stroke="#5d5d5d" d="M40 0.5h1M45 2.5h1M16 3.5h1M22 4.5h1M61 4.5h1M66 6.5h2M38 9.5h1M19 11.5h1M40 13.5h1M25 20.5h1M61 20.5h1M88 27.5h1M75 34.5h1M6 36.5h1M66 43.5h1M29 46.5h1M24 53.5h1M68 53.5h1M43 55.5h1M18 56.5h1M57 64.5h1M66 70.5h1M94 71.5h1M37 72.5h1M38 74.5h1M3 75.5h1M89 75.5h1M53 76.5h1M2 79.5h1M26 79.5h1M10 81.5h1M3 82.5h1M14 83.5h1M76 83.5h1M68 85.5h1M31 88.5h1M78 88.5h1M13 89.5h1M54 89.5h1M55 91.5h1M32 98.5h1M40 103.5h1M37 104.5h1M40 108.5h1M39 109.5h1M53 110.5h1M89 110.5h1M85 115.5h1M15 116.5h1M22 116.5h1M61 116.5h1M65 119.5h1M69 119.5h1M20 122.5h1M84 122.5h1M4 124.5h1M32 124.5h1M32 125.5h1M59 125.5h1"/><path stroke="#5e5e5e" d="M49 0.5h1M33 3.5h1M67 3.5h1M87 9.5h1M13 12.5h1M77 14.5h1M11 15.5h1M44 16.5h1M52 19.5h1M25 27.5h1M89 34.5h1M40 36.5h1M28 45.5h1M67 47.5h1M24 48.5h1M60 50.5h1M33 56.5h1M52 56.5h1M35 66.5h2M18 67.5h1M14 71.5h1M12 73.5h1M93 73.5h1M14 74.5h1M27 74.5h1M50 79.5h1M40 85.5h1M85 87.5h1M5 90.5h1M68 90.5h1M3 91.5h1M66 102.5h1M15 104.5h1M56 104.5h1M1 105.5h1M55 105.5h1M1 107.5h1M48 109.5h1M54 110.5h1M5 112.5h1M39 113.5h1M24 115.5h1M0 118.5h1M61 119.5h1M87 125.5h1M70 126.5h1M38 127.5h1"/><path stroke="#5f5f5f" d="M33 2.5h1M36 2.5h1M80 7.5h1M59 12.5h1M62 14.5h1M86 15.5h1M11 17.5h1M58 24.5h1M25 25.5h1M74 25.5h1M31 35.5h1M31 36.5h1M53 36.5h1M55 41.5h1M21 42.5h1M9 47.5h1M22 47.5h1M59 47.5h1M9 48.5h1M9 49.5h1M94 49.5h1M47 55.5h1M91 60.5h1M21 61.5h1M18 64.5h1M75 70.5h1M20 71.5h1M65 71.5h1M23 75.5h1M91 76.5h1M9 81.5h1M78 81.5h1M7 84.5h1M13 84.5h1M90 88.5h1M2 91.5h1M36 96.5h1M56 98.5h1M33 102.5h1M56 103.5h1M9 111.5h1M50 112.5h1M86 114.5h1M60 120.5h1M4 125.5h1M88 125.5h1M92 125.5h1M69 126.5h1M44 127.5h1"/><path stroke="#606060" d="M67 1.5h1M64 6.5h1M66 7.5h1M29 9.5h1M54 9.5h1M68 11.5h1M88 11.5h1M21 12.5h1M7 13.5h1M40 14.5h1M6 28.5h1M66 33.5h1M38 38.5h1M55 42.5h1M41 47.5h2M60 48.5h1M59 50.5h1M65 50.5h1M58 52.5h1M19 55.5h1M0 57.5h1M2 58.5h1M52 58.5h1M85 64.5h1M12 65.5h1M54 65.5h1M93 65.5h1M8 67.5h1M36 71.5h1M92 71.5h1M3 81.5h1M5 83.5h1M31 86.5h1M34 91.5h1M93 93.5h1M79 94.5h1M6 98.5h1M49 101.5h1M64 101.5h1M17 107.5h1M41 107.5h1M56 113.5h1M22 117.5h1M68 119.5h1M71 120.5h1M91 124.5h1"/><path stroke="#616161" d="M50 0.5h1M87 0.5h1M57 2.5h1M16 7.5h1M88 8.5h1M12 13.5h1M21 14.5h1M45 15.5h1M53 16.5h1M29 17.5h1M89 27.5h1M89 30.5h1M53 32.5h1M19 37.5h1M41 41.5h1M10 47.5h1M83 47.5h1M38 54.5h1M86 55.5h1M90 60.5h1M92 61.5h1M12 64.5h1M46 66.5h1M68 74.5h1M17 83.5h1M43 86.5h1M89 88.5h1M75 89.5h1M3 93.5h1M4 97.5h1M88 100.5h1M13 116.5h1M70 119.5h1M25 122.5h1M15 126.5h1"/><path stroke="#626262" d="M77 2.5h1M88 5.5h1M13 6.5h1M3 8.5h1M50 8.5h1M6 11.5h1M25 11.5h1M20 15.5h1M88 16.5h1M63 18.5h1M52 21.5h1M27 26.5h1M50 27.5h1M41 34.5h1M52 36.5h1M52 37.5h1M56 41.5h1M84 45.5h1M31 47.5h1M86 58.5h1M2 59.5h1M76 59.5h1M14 62.5h1M57 63.5h1M11 65.5h1M37 65.5h1M21 69.5h1M56 81.5h1M74 81.5h1M13 83.5h1M49 84.5h1M32 86.5h1M15 89.5h1M36 90.5h1M19 92.5h1M2 93.5h1M10 93.5h1M18 93.5h1M68 93.5h1M67 98.5h1M53 99.5h1M39 100.5h1M48 100.5h1M57 109.5h1M14 115.5h1M12 116.5h1M54 119.5h1M23 123.5h1M4 127.5h1"/><path stroke="#636363" d="M26 0.5h1M16 1.5h1M57 4.5h1M91 4.5h1M75 9.5h1M59 16.5h1M62 16.5h1M27 23.5h1M56 32.5h1M40 35.5h1M75 35.5h1M32 36.5h1M18 39.5h1M84 40.5h1M93 41.5h1M48 43.5h1M43 44.5h1M52 48.5h1M65 49.5h1M94 51.5h1M6 52.5h1M64 52.5h1M0 54.5h1M1 55.5h1M4 63.5h1M19 65.5h1M20 66.5h1M94 66.5h1M46 67.5h1M35 70.5h1M33 71.5h1M34 73.5h1M69 74.5h1M38 76.5h1M24 77.5h1M51 78.5h1M62 78.5h1M17 85.5h1M50 85.5h1M40 93.5h1M56 94.5h1M44 95.5h1M32 96.5h1M87 99.5h1M15 100.5h1M13 102.5h1M37 105.5h1M40 105.5h1M79 105.5h1M82 111.5h1M33 112.5h1M35 114.5h1M56 115.5h1M78 120.5h1M6 122.5h1"/><path stroke="#646464" d="M35 3.5h1M91 5.5h1M80 6.5h1M2 7.5h1M64 8.5h1M45 9.5h1M16 10.5h1M81 10.5h1M58 23.5h1M56 26.5h1M91 28.5h1M49 40.5h1M51 45.5h1M83 48.5h1M14 52.5h1M28 52.5h1M19 54.5h1M38 55.5h1M71 55.5h1M18 57.5h1M89 57.5h1M49 59.5h1M64 59.5h1M3 63.5h1M45 65.5h1M10 66.5h1M5 71.5h1M87 73.5h1M12 76.5h1M52 77.5h1M10 78.5h1M20 83.5h1M8 84.5h1M78 87.5h1M12 91.5h1M41 103.5h1M35 104.5h1M79 104.5h1M2 105.5h1M41 105.5h1M29 107.5h1M28 108.5h1M6 109.5h1M47 120.5h1M15 125.5h1M23 125.5h1M47 125.5h1"/><path stroke="#656565" d="M43 2.5h1M48 2.5h1M18 4.5h1M26 7.5h1M76 8.5h1M18 16.5h1M61 16.5h1M40 32.5h1M53 37.5h1M49 39.5h1M39 40.5h1M25 43.5h1M53 45.5h1M67 51.5h1M79 51.5h1M51 54.5h1M66 54.5h1M85 54.5h1M3 56.5h1M43 56.5h1M92 59.5h1M37 60.5h1M64 60.5h1M56 61.5h1M93 66.5h1M65 70.5h1M35 73.5h1M22 75.5h1M53 75.5h1M50 78.5h1M62 79.5h1M57 84.5h1M27 85.5h1M32 87.5h1M41 93.5h1M42 95.5h1M6 96.5h1M51 101.5h1M54 105.5h1M25 126.5h1M59 127.5h1"/><path stroke="#666666" d="M48 1.5h1M68 1.5h1M43 3.5h1M29 10.5h1M82 10.5h1M84 12.5h1M15 13.5h1M28 20.5h1M2 24.5h1M47 24.5h1M71 27.5h1M74 27.5h1M62 28.5h1M82 31.5h1M36 35.5h1M21 36.5h1M68 38.5h1M19 39.5h1M66 42.5h1M65 43.5h1M48 44.5h1M10 48.5h1M77 48.5h1M51 52.5h1M37 56.5h1M88 57.5h1M62 58.5h1M27 61.5h1M60 67.5h1M94 70.5h1M54 71.5h1M87 71.5h1M24 73.5h1M24 74.5h1M50 77.5h1M59 80.5h1M5 82.5h1M31 87.5h1M3 92.5h1M36 94.5h1M0 95.5h1M18 97.5h1M88 97.5h1M17 105.5h1M19 107.5h1M35 108.5h1M48 108.5h1M53 108.5h1M69 108.5h1M6 110.5h1M40 118.5h1M2 120.5h1M77 121.5h1M48 122.5h1M58 125.5h1"/><path stroke="#676767" d="M58 1.5h1M66 5.5h1M79 6.5h1M76 10.5h1M17 11.5h1M62 12.5h1M85 16.5h1M60 27.5h1M82 28.5h1M61 30.5h1M66 31.5h1M69 34.5h2M44 46.5h1M94 50.5h1M65 52.5h1M85 53.5h1M40 57.5h1M71 57.5h1M26 59.5h1M4 62.5h1M45 63.5h1M54 64.5h1M93 74.5h1M85 81.5h1M50 83.5h1M71 86.5h1M71 88.5h1M79 88.5h1M5 91.5h1M2 92.5h1M9 94.5h1M83 95.5h1M37 108.5h1M75 110.5h1M14 116.5h1M52 118.5h1M78 118.5h1M48 121.5h1M13 123.5h1M59 126.5h1"/><path stroke="#686868" d="M72 0.5h1M12 5.5h1M54 8.5h2M61 8.5h1M83 11.5h1M4 25.5h1M25 26.5h1M2 28.5h1M33 33.5h1M73 38.5h1M23 39.5h1M43 45.5h1M65 47.5h1M60 49.5h1M4 51.5h1M26 53.5h1M3 62.5h1M5 70.5h1M55 72.5h1M19 81.5h1M11 88.5h1M41 94.5h1M11 97.5h1M55 99.5h1M36 103.5h1M4 109.5h1M25 109.5h1M45 109.5h1M55 119.5h1M6 123.5h1M29 123.5h1M91 126.5h1"/><path stroke="#696969" d="M4 5.5h1M15 6.5h1M39 8.5h1M20 10.5h1M25 10.5h1M41 13.5h1M55 19.5h1M88 20.5h1M9 24.5h1M75 24.5h1M51 25.5h1M91 26.5h1M46 28.5h1M71 29.5h1M6 30.5h1M23 35.5h1M55 38.5h1M74 50.5h1M37 54.5h1M58 55.5h1M84 56.5h1M38 61.5h1M35 63.5h1M11 64.5h1M8 65.5h1M94 65.5h1M60 69.5h1M27 78.5h1M33 79.5h1M34 80.5h1M23 91.5h1M88 93.5h1M92 94.5h1M27 96.5h1M37 96.5h1M27 97.5h1M15 101.5h1M59 101.5h1M4 110.5h1M27 110.5h1M34 111.5h1M51 113.5h1M23 116.5h1M14 123.5h1M17 126.5h1M17 127.5h1M58 127.5h1"/><path stroke="#6a6a6a" d="M18 1.5h1M88 3.5h1M63 4.5h1M47 8.5h1M39 9.5h1M75 28.5h1M34 33.5h1M6 35.5h1M32 35.5h1M34 37.5h1M16 40.5h1M25 41.5h1M56 42.5h1M90 52.5h1M58 54.5h1M18 55.5h1M25 55.5h1M33 55.5h1M26 60.5h1M62 61.5h1M76 61.5h1M10 67.5h1M61 68.5h1M21 70.5h1M15 72.5h1M75 77.5h1M52 78.5h1M56 82.5h1M12 93.5h1M11 94.5h1M83 94.5h1M53 97.5h1M33 98.5h1M60 103.5h1M69 103.5h1M30 106.5h1M69 106.5h1M37 107.5h1M30 108.5h1M53 109.5h1M5 114.5h1M54 115.5h1M67 115.5h1M39 118.5h1M42 119.5h1M4 126.5h1M57 126.5h1"/><path stroke="#6b6b6b" d="M39 13.5h1M68 14.5h1M88 28.5h1M19 31.5h1M66 46.5h1M66 48.5h1M55 65.5h1M45 68.5h1M79 68.5h1M70 70.5h1M87 72.5h1M38 78.5h1M13 87.5h1M7 98.5h1M58 100.5h1M58 104.5h1M34 105.5h1M12 106.5h1M20 107.5h1M28 109.5h1M54 109.5h1M5 113.5h1M56 114.5h1M33 115.5h1M86 115.5h1M0 116.5h1M17 116.5h1M70 116.5h1M78 116.5h1M42 118.5h1M70 125.5h1M39 127.5h1"/><path stroke="#6c6c6c" d="M58 5.5h1M65 8.5h1M79 8.5h1M63 9.5h1M13 10.5h1M6 12.5h1M70 12.5h1M86 12.5h1M83 13.5h1M84 23.5h1M82 26.5h1M5 27.5h1M3 31.5h1M82 33.5h1M23 34.5h1M44 34.5h1M20 35.5h1M41 36.5h1M74 47.5h1M41 51.5h1M64 51.5h2M37 55.5h1M93 62.5h1M43 68.5h1M34 71.5h1M79 72.5h1M81 83.5h1M17 84.5h1M84 93.5h1M40 94.5h1M36 95.5h1M7 97.5h1M66 99.5h1M2 106.5h1M13 106.5h1M37 106.5h1M61 106.5h1M38 110.5h1M38 112.5h1M22 113.5h1M40 119.5h1M0 122.5h1M69 125.5h1"/><path stroke="#6d6d6d" d="M22 5.5h1M65 6.5h1M35 12.5h1M83 12.5h1M81 17.5h1M51 26.5h1M74 31.5h1M52 32.5h1M19 36.5h1M55 36.5h1M38 37.5h1M67 37.5h1M34 44.5h1M45 44.5h1M82 51.5h1M66 52.5h1M57 54.5h1M84 57.5h1M39 60.5h1M56 62.5h1M9 65.5h1M61 67.5h1M15 68.5h1M42 68.5h1M55 71.5h1M54 72.5h1M35 78.5h1M81 82.5h1M58 83.5h1M13 91.5h1M35 92.5h1M19 93.5h1M38 95.5h1M45 96.5h1M85 96.5h1M45 97.5h1M57 98.5h1M8 99.5h1M35 102.5h1M41 106.5h1M45 106.5h1M58 106.5h1M19 108.5h1M3 109.5h1M25 110.5h1M80 111.5h1M35 112.5h1M48 113.5h1M94 115.5h1M23 117.5h1M77 118.5h1"/><path stroke="#6e6e6e" d="M28 2.5h1M66 2.5h1M57 3.5h1M70 11.5h1M17 12.5h1M20 14.5h1M60 16.5h1M67 17.5h2M53 19.5h1M11 24.5h1M74 26.5h1M39 38.5h1M51 47.5h1M59 48.5h1M59 49.5h1M24 51.5h1M90 53.5h1M82 54.5h1M93 59.5h1M76 60.5h1M85 65.5h1M34 72.5h1M36 72.5h1M26 73.5h1M50 76.5h1M35 77.5h1M11 78.5h1M28 80.5h1M14 84.5h1M68 84.5h1M71 87.5h1M79 87.5h1M76 88.5h1M94 97.5h1M19 104.5h1M40 104.5h1M77 107.5h1M59 113.5h1M70 120.5h1M15 127.5h1"/><path stroke="#6f6f6f" d="M88 0.5h1M12 4.5h1M69 11.5h1M81 12.5h1M61 14.5h1M11 16.5h1M45 16.5h1M46 25.5h1M44 44.5h1M57 47.5h1M51 53.5h1M91 57.5h1M4 59.5h1M89 59.5h1M74 77.5h1M37 94.5h1M54 96.5h1M39 98.5h1M53 106.5h1M48 112.5h1M22 115.5h1M0 117.5h1"/><path stroke="#707070" d="M70 13.5h1M77 25.5h1M91 29.5h1M4 31.5h1M65 42.5h1M18 54.5h1M88 59.5h1M21 64.5h1M37 64.5h1M79 69.5h1M6 81.5h1M8 87.5h1M54 95.5h1M6 97.5h1M69 97.5h1M57 101.5h1M12 105.5h2M3 108.5h1M66 115.5h1M72 115.5h1M13 125.5h1"/><path stroke="#717171" d="M17 4.5h1M65 4.5h1M26 12.5h1M61 12.5h1M62 21.5h1M47 26.5h1M48 28.5h1M75 36.5h1M85 42.5h1M29 45.5h1M70 45.5h1M58 47.5h1M62 49.5h1M5 51.5h1M86 51.5h1M14 53.5h1M53 54.5h1M9 67.5h1M14 77.5h1M38 77.5h1M12 82.5h1M86 84.5h1M17 92.5h1M46 96.5h1M56 96.5h1M34 102.5h1M14 107.5h1M75 112.5h1M40 115.5h1M77 116.5h1M67 118.5h1M89 119.5h1M53 123.5h1M23 124.5h1"/><path stroke="#727272" d="M2 5.5h1M40 12.5h1M49 13.5h1M28 16.5h1M9 25.5h1M59 37.5h1M85 43.5h1M51 46.5h1M31 48.5h1M64 50.5h1M17 51.5h1M41 52.5h1M2 54.5h1M59 54.5h1M86 54.5h1M24 56.5h1M44 57.5h1M55 64.5h1M20 70.5h1M14 73.5h1M14 75.5h1M58 77.5h1M57 80.5h1M41 84.5h1M16 85.5h1M69 96.5h1M66 100.5h1M69 102.5h1M55 107.5h1M20 108.5h1M34 112.5h1M24 113.5h1M70 113.5h1M54 122.5h1M20 124.5h1M14 125.5h1M53 125.5h1"/><path stroke="#737373" d="M47 6.5h1M61 6.5h1M61 7.5h1M12 12.5h1M49 12.5h1M59 13.5h1M39 14.5h1M81 15.5h1M61 19.5h1M27 20.5h1M90 28.5h1M82 32.5h1M41 37.5h1M16 45.5h1M44 45.5h1M57 49.5h1M86 52.5h1M66 53.5h1M0 56.5h1M40 56.5h1M19 58.5h1M94 62.5h1M13 72.5h1M68 73.5h1M94 75.5h1M49 76.5h1M23 77.5h1M2 78.5h1M2 82.5h1M85 82.5h1M82 84.5h1M36 91.5h1M92 96.5h1M46 97.5h1M56 100.5h1M30 107.5h1M5 108.5h1M26 110.5h1M46 114.5h1M19 122.5h1M47 122.5h1"/><path stroke="#747474" d="M8 0.5h1M88 4.5h1M22 6.5h1M25 8.5h1M41 10.5h1M48 27.5h1M6 29.5h1M72 29.5h1M86 53.5h1M0 55.5h1M48 59.5h1M25 66.5h1M77 70.5h1M61 71.5h1M50 74.5h1M58 81.5h1M11 92.5h1M42 93.5h1M37 95.5h1M28 96.5h1M28 97.5h1M68 104.5h1M43 106.5h1M78 106.5h1M53 107.5h1M92 110.5h1M24 114.5h1M24 122.5h1M55 123.5h1M50 125.5h1M47 127.5h1"/><path stroke="#757575" d="M15 1.5h1M17 1.5h1M16 2.5h1M66 4.5h1M50 5.5h1M89 5.5h1M4 6.5h1M64 7.5h1M35 8.5h1M21 11.5h1M83 14.5h1M22 16.5h1M89 22.5h1M55 26.5h1M74 28.5h1M36 34.5h1M54 38.5h1M85 55.5h1M59 56.5h1M86 56.5h1M88 58.5h1M24 59.5h1M94 59.5h1M92 60.5h1M69 72.5h1M69 73.5h1M13 82.5h1M25 83.5h1M40 84.5h1M12 92.5h1M39 92.5h1M16 106.5h1M55 106.5h1M2 110.5h1M94 110.5h1M38 111.5h1M22 114.5h1M59 116.5h1M3 120.5h1M47 121.5h1M16 124.5h1M55 125.5h1M54 126.5h1M58 126.5h1"/><path stroke="#767676" d="M70 0.5h1M28 1.5h1M59 2.5h1M13 3.5h1M68 12.5h1M83 15.5h1M91 24.5h1M33 37.5h1M20 41.5h1M40 41.5h1M52 46.5h1M61 48.5h1M2 76.5h1M30 77.5h1M2 81.5h1M25 84.5h1M0 97.5h1M32 97.5h1M44 108.5h1M46 111.5h1M23 112.5h1M8 114.5h1M72 114.5h1M71 116.5h1M69 118.5h1M1 119.5h1M59 119.5h1M77 120.5h1"/><path stroke="#777777" d="M3 4.5h1M40 10.5h1M42 13.5h1M62 13.5h1M68 13.5h1M63 20.5h1M11 26.5h1M19 35.5h1M67 38.5h1M39 39.5h1M23 40.5h1M16 43.5h1M61 50.5h1M5 52.5h1M89 58.5h1M77 67.5h1M25 69.5h1M27 69.5h1M28 70.5h1M16 71.5h1M74 79.5h1M38 89.5h1M69 91.5h1M88 92.5h1M42 94.5h1M55 97.5h1M64 102.5h1M51 111.5h1M66 118.5h1M47 126.5h1"/><path stroke="#787878" d="M36 4.5h1M59 4.5h1M45 5.5h1M55 7.5h1M7 11.5h1M13 11.5h1M22 15.5h1M30 16.5h1M56 19.5h1M24 26.5h1M61 27.5h1M8 38.5h1M24 43.5h1M24 44.5h1M52 47.5h1M65 48.5h1M79 49.5h1M79 50.5h1M25 52.5h1M89 52.5h1M57 53.5h1M67 54.5h1M25 59.5h1M17 65.5h1M87 66.5h1M80 70.5h1M80 71.5h1M91 71.5h1M78 72.5h1M13 74.5h1M13 77.5h1M75 79.5h1M31 83.5h1M72 88.5h1M33 97.5h1M35 103.5h1M26 109.5h1M46 109.5h1M49 109.5h1M39 110.5h1M5 111.5h1M60 115.5h1M61 117.5h1M48 125.5h1"/><path stroke="#797979" d="M11 0.5h1M49 1.5h1M49 2.5h1M93 3.5h1M88 9.5h1M35 13.5h1M67 15.5h1M4 23.5h1M50 25.5h1M10 26.5h1M72 30.5h1M41 35.5h1M54 36.5h1M55 37.5h1M25 42.5h1M24 45.5h1M58 49.5h1M62 50.5h1M19 56.5h1M72 56.5h1M86 57.5h1M37 59.5h1M15 60.5h1M17 66.5h1M26 70.5h1M7 74.5h1M49 74.5h1M13 75.5h1M22 77.5h1M3 78.5h1M67 83.5h1M46 106.5h1M70 108.5h1M58 109.5h1M39 112.5h1M41 114.5h1M61 118.5h1M68 118.5h1M84 124.5h1M24 126.5h1M81 126.5h1"/><path stroke="#7a7a7a" d="M9 0.5h1M66 3.5h1M35 6.5h1M85 12.5h1M21 16.5h1M70 17.5h1M4 27.5h1M90 29.5h1M8 39.5h1M50 49.5h1M77 49.5h1M77 50.5h1M91 69.5h1M28 73.5h1M29 77.5h1M35 79.5h1M7 83.5h1M16 84.5h1M72 87.5h1M53 98.5h1M9 100.5h1M26 123.5h1"/><path stroke="#7b7b7b" d="M47 7.5h1M3 25.5h1M11 25.5h1M24 25.5h1M76 27.5h1M65 33.5h1M83 41.5h1M24 49.5h1M9 50.5h1M9 51.5h1M52 57.5h1M39 58.5h1M79 70.5h1M35 80.5h1M5 98.5h1M94 108.5h1M40 117.5h1"/><path stroke="#7c7c7c" d="M46 9.5h1M27 10.5h1M87 10.5h1M41 12.5h1M16 13.5h1M2 30.5h1M20 37.5h1M17 48.5h1M11 52.5h1M89 53.5h1M36 63.5h1M45 66.5h1M60 70.5h1M13 73.5h1M94 74.5h1M58 82.5h1M76 82.5h1M86 86.5h1M81 93.5h1M17 94.5h1M51 100.5h1M78 105.5h1M61 107.5h1M69 107.5h1M33 113.5h1M3 124.5h1M91 125.5h1M50 126.5h1"/><path stroke="#7d7d7d" d="M89 3.5h1M15 7.5h1M81 11.5h1M60 13.5h1M59 15.5h1M83 16.5h1M28 22.5h1M56 23.5h1M50 26.5h1M18 38.5h1M24 41.5h1M87 52.5h1M37 57.5h1M63 58.5h1M20 69.5h1M14 76.5h1M76 80.5h1M63 82.5h1M38 90.5h1M13 92.5h1M70 106.5h1M51 112.5h1M2 123.5h1"/><path stroke="#7e7e7e" d="M15 2.5h1M2 6.5h1M62 9.5h1M12 10.5h1M32 10.5h1M77 23.5h1M59 36.5h1M83 44.5h1M66 47.5h1M11 49.5h1M16 51.5h1M25 54.5h1M19 66.5h1M45 67.5h1M17 71.5h1M28 79.5h1M83 80.5h1M46 82.5h1M32 83.5h1M63 83.5h1M8 97.5h1M8 98.5h1M87 98.5h1M17 106.5h1M40 106.5h1M75 111.5h1M23 115.5h1M52 116.5h1M35 117.5h1M27 122.5h1M84 123.5h1"/><path stroke="#7f7f7f" d="M9 1.5h1M61 5.5h1M25 9.5h1M76 9.5h1M42 12.5h1M29 16.5h1M82 27.5h1M47 28.5h1M73 31.5h1M53 48.5h1M67 52.5h1M37 58.5h1M86 66.5h1M50 75.5h1M2 77.5h1M81 94.5h1M94 94.5h1M14 102.5h1M43 107.5h1M33 114.5h1M13 115.5h1M18 115.5h1M42 115.5h1M54 118.5h1M85 122.5h1"/><path stroke="#808080" d="M63 19.5h1M47 25.5h1M10 28.5h1M71 28.5h1M60 29.5h1M5 31.5h1M83 32.5h1M83 33.5h1M69 36.5h1M61 49.5h1M87 51.5h1M5 54.5h1M3 76.5h1M33 95.5h1M10 97.5h1M55 98.5h1M49 108.5h1M93 108.5h1M39 111.5h1M67 116.5h1M88 120.5h1M16 126.5h1"/><path stroke="#818181" d="M41 11.5h1M61 13.5h1M82 13.5h1M81 16.5h1M83 25.5h1M70 27.5h1M11 28.5h1M70 36.5h1M60 37.5h1M19 38.5h1M69 44.5h1M15 45.5h1M44 55.5h1M85 58.5h1M14 61.5h1M63 61.5h1M14 69.5h1M69 71.5h1M35 72.5h1M16 74.5h1M82 80.5h1M7 82.5h1M76 89.5h1M38 93.5h1M5 96.5h1M84 96.5h1M2 107.5h1M86 122.5h1M81 127.5h1"/><path stroke="#828282" d="M32 9.5h1M7 12.5h1M48 12.5h1M48 13.5h1M59 14.5h1M21 15.5h1M68 15.5h1M69 17.5h1M39 59.5h1M43 66.5h1M23 68.5h1M78 71.5h1M83 83.5h1M31 85.5h1M23 90.5h1M92 95.5h1M34 113.5h1M40 116.5h1M20 123.5h1"/><path stroke="#838383" d="M36 3.5h1M93 6.5h1M65 7.5h1M79 9.5h1M29 15.5h1M47 27.5h1M23 46.5h1M2 55.5h1M22 62.5h1M42 66.5h1M35 71.5h1M50 84.5h1M87 96.5h1M33 104.5h1M15 107.5h1M40 107.5h1M9 114.5h1M67 117.5h1M89 120.5h1M4 121.5h1M27 124.5h1M53 124.5h1"/><path stroke="#848484" d="M59 3.5h1M69 12.5h1M30 15.5h1M28 21.5h1M76 23.5h1M3 27.5h1M65 31.5h1M35 33.5h1M54 37.5h1M69 46.5h1M4 57.5h1M8 66.5h1M10 75.5h1M37 75.5h1M49 75.5h1M13 76.5h1M27 80.5h1M74 110.5h1M12 115.5h1M52 117.5h1"/><path stroke="#858585" d="M51 5.5h1M40 11.5h1M79 12.5h1M20 13.5h1M0 24.5h1M60 28.5h1M43 32.5h1M72 32.5h1M20 36.5h1M15 43.5h1M50 50.5h1M63 51.5h1M67 53.5h1M49 55.5h1M38 57.5h1M70 72.5h1M59 78.5h1M47 82.5h1M46 83.5h1M85 84.5h1M13 88.5h1M0 96.5h1M33 103.5h1M79 112.5h1"/><path stroke="#868686" d="M89 4.5h1M84 24.5h1M91 25.5h1M2 29.5h1M49 33.5h1M68 45.5h1M5 53.5h1M59 55.5h1M19 57.5h1M7 75.5h1M4 76.5h1M4 77.5h1M64 82.5h1M7 85.5h1M70 97.5h1M54 108.5h1M93 110.5h1M66 116.5h1M0 119.5h1M55 124.5h1"/><path stroke="#878787" d="M92 3.5h1M67 16.5h2M54 18.5h1M76 25.5h1M73 28.5h1M72 31.5h1M19 33.5h1M75 49.5h1M79 71.5h1M34 78.5h1M75 78.5h1M12 80.5h2M64 83.5h1M18 84.5h1M46 84.5h1M82 93.5h1M56 95.5h1M40 100.5h1M57 100.5h1M8 112.5h1M4 123.5h1M26 124.5h1"/><path stroke="#888888" d="M69 13.5h1M60 15.5h1M34 28.5h1M23 44.5h1M16 48.5h1M44 56.5h1M24 58.5h1M9 66.5h1M17 74.5h1M3 77.5h1M32 85.5h1M32 95.5h1M70 96.5h1M39 99.5h1M66 117.5h1M16 125.5h1"/><path stroke="#898989" d="M67 0.5h1M67 4.5h1M67 5.5h1M80 8.5h1M12 11.5h1M85 15.5h1M0 22.5h1M62 29.5h1M75 48.5h1M91 59.5h1M56 71.5h1M26 72.5h1M36 75.5h1M86 85.5h1M5 109.5h1M71 113.5h1M88 121.5h1M19 124.5h1"/><path stroke="#8a8a8a" d="M10 2.5h1M13 5.5h1M50 7.5h1M27 22.5h1M77 24.5h1M66 32.5h1M50 33.5h1M40 37.5h1M23 45.5h1M71 47.5h1M78 47.5h1M63 49.5h1M23 51.5h1M6 54.5h1M24 57.5h1M27 59.5h1M22 63.5h1M78 70.5h1M23 76.5h1M7 86.5h1M67 101.5h1M14 105.5h1M5 110.5h1M34 114.5h1M53 115.5h1M42 117.5h1M89 121.5h1"/><path stroke="#8b8b8b" d="M20 12.5h1M28 18.5h1M76 26.5h1M10 27.5h1M89 28.5h1M89 29.5h1M24 42.5h1M53 46.5h1M70 47.5h1M90 57.5h1M4 58.5h1M23 67.5h1M15 70.5h1M90 71.5h1M5 76.5h1M58 80.5h1M69 92.5h1M38 94.5h1M82 94.5h1M5 97.5h1M14 99.5h1M78 117.5h1M28 122.5h1"/><path stroke="#8c8c8c" d="M35 7.5h1M60 14.5h1M4 24.5h1M11 27.5h1M43 33.5h1M34 43.5h1M25 53.5h1M18 66.5h1M5 77.5h1M74 78.5h1M18 82.5h1M47 83.5h1M57 83.5h1M35 90.5h1M94 96.5h1M11 99.5h1"/><path stroke="#8d8d8d" d="M62 4.5h1M80 12.5h1M84 16.5h1M88 22.5h1M3 23.5h1M3 30.5h1M60 36.5h1M78 51.5h1M58 53.5h1M78 67.5h1M28 71.5h1M57 71.5h1M28 72.5h1M59 79.5h1M84 80.5h1M31 84.5h1M47 84.5h1M8 95.5h1M59 104.5h1M47 114.5h1M59 114.5h1M44 121.5h1"/><path stroke="#8e8e8e" d="M14 72.5h1M12 89.5h1M92 99.5h2M70 107.5h1M1 109.5h1M74 112.5h1"/><path stroke="#8f8f8f" d="M58 2.5h1M65 2.5h1M63 5.5h1M45 8.5h1M76 24.5h1M24 50.5h1M83 52.5h1M83 53.5h1M48 55.5h1M62 59.5h1M87 64.5h1M56 69.5h1M90 69.5h1M26 71.5h1M25 79.5h1"/><path stroke="#909090" d="M68 0.5h1M21 5.5h1M55 23.5h1M41 40.5h1M23 48.5h1M6 53.5h1M24 66.5h1M20 67.5h1M19 69.5h1M70 71.5h1M11 75.5h1M30 75.5h1M22 76.5h1M10 77.5h1M19 84.5h1M85 86.5h1M17 93.5h1M88 98.5h1M13 99.5h1M68 101.5h1M42 116.5h1M34 117.5h1M25 123.5h1"/><path stroke="#919191" d="M13 4.5h1M58 4.5h1M92 6.5h1M26 8.5h1M27 21.5h1M3 28.5h1M49 32.5h1M27 60.5h1M62 60.5h1M61 69.5h1M6 83.5h1M47 111.5h1M23 113.5h1M60 113.5h1M77 117.5h1M44 120.5h1M28 124.5h1M48 127.5h1"/><path stroke="#929292" d="M18 3.5h1M46 5.5h1M56 25.5h1M61 29.5h1M35 35.5h1M71 46.5h1M53 47.5h1M12 81.5h2M57 81.5h1M55 94.5h1M54 99.5h1M1 108.5h1M18 117.5h1M25 125.5h1"/><path stroke="#939393" d="M77 4.5h1M63 6.5h1M57 48.5h1M53 56.5h1M27 79.5h1M32 84.5h1M39 95.5h1M88 99.5h1M13 101.5h1M58 102.5h1M57 107.5h1M35 111.5h1M23 114.5h1M59 117.5h1M41 118.5h1M59 118.5h1M48 126.5h1M82 126.5h1"/><path stroke="#949494" d="M18 2.5h1M84 13.5h1M28 17.5h1M61 17.5h1M69 28.5h1M50 32.5h1M70 46.5h1M58 48.5h1M10 52.5h1M49 58.5h1M93 61.5h1M15 62.5h1M24 69.5h1M57 69.5h1M29 75.5h1M70 79.5h1M83 82.5h1M68 91.5h1M85 94.5h1M67 103.5h1M54 106.5h1M92 109.5h1M9 112.5h1M8 113.5h1M35 115.5h1M54 116.5h1"/><path stroke="#959595" d="M15 11.5h1M70 14.5h1M85 56.5h1M93 60.5h1M53 73.5h1M24 79.5h1M19 82.5h1M87 97.5h1M58 103.5h1"/><path stroke="#969696" d="M53 58.5h1M86 64.5h1M20 68.5h1M46 85.5h1M34 104.5h1M27 108.5h1"/><path stroke="#979797" d="M65 3.5h1M21 6.5h1M52 17.5h1M69 29.5h1M10 49.5h1M23 49.5h1M3 57.5h1M76 81.5h1M83 81.5h1M40 98.5h1M34 103.5h1M45 108.5h1M60 116.5h1M4 122.5h1"/><path stroke="#989898" d="M83 23.5h1M61 28.5h1M70 29.5h1M34 34.5h1M16 44.5h1M85 57.5h1M91 58.5h1M27 73.5h1M52 73.5h1M6 82.5h1M8 96.5h1M92 97.5h1M56 99.5h1M14 101.5h1M57 108.5h1"/><path stroke="#999999" d="M71 1.5h1M27 11.5h1M89 21.5h1M4 28.5h1M3 29.5h1M84 41.5h1M71 56.5h1M82 81.5h1M57 82.5h1M80 112.5h1M70 115.5h1M60 119.5h1M1 120.5h1M19 123.5h1"/><path stroke="#9a9a9a" d="M45 6.5h1M51 7.5h1M26 9.5h1M82 11.5h1M70 16.5h1M62 17.5h1M61 18.5h1M75 25.5h1M83 42.5h1M78 48.5h1M74 49.5h1M38 60.5h1M94 61.5h1M25 67.5h1M53 71.5h1M70 78.5h1M94 95.5h1M74 111.5h1M54 117.5h1"/><path stroke="#9b9b9b" d="M58 3.5h1M63 8.5h1M80 9.5h1M31 10.5h1M88 10.5h1M56 24.5h1M75 27.5h1M69 35.5h2M41 38.5h1M83 43.5h1M74 48.5h1M25 58.5h1M3 60.5h1M94 60.5h1M18 65.5h1M25 68.5h1M37 73.5h1M10 76.5h1M54 97.5h1M93 97.5h1M10 99.5h1M62 106.5h1M46 113.5h1M82 127.5h1"/><path stroke="#9c9c9c" d="M52 18.5h1M84 44.5h1M11 77.5h1M47 85.5h1M85 85.5h1M89 93.5h1M85 95.5h1M46 112.5h1M13 124.5h1M85 124.5h1"/><path stroke="#9d9d9d" d="M17 3.5h1M69 14.5h1M34 36.5h1M17 50.5h1M3 58.5h1M91 70.5h1M52 71.5h1M9 97.5h1M15 105.5h1M27 109.5h1M53 118.5h1"/><path stroke="#9e9e9e" d="M77 3.5h1M50 6.5h1M26 10.5h1M15 12.5h1M86 14.5h1M54 17.5h1M3 24.5h1M4 30.5h1M57 33.5h1M77 69.5h1M35 91.5h1M33 94.5h1M35 116.5h1M0 121.5h1M14 124.5h1M86 124.5h1"/><path stroke="#9f9f9f" d="M17 2.5h1M31 9.5h1M20 11.5h1M77 68.5h1M75 80.5h1M75 82.5h1M8 85.5h1M12 87.5h1M67 102.5h1M44 107.5h1M2 121.5h1"/><path stroke="#a0a0a0" d="M3 7.5h1M17 49.5h1M11 51.5h1M87 65.5h1M42 106.5h1M9 113.5h1M70 114.5h1M41 120.5h1"/><path stroke="#a1a1a1" d="M10 24.5h1M74 30.5h1M19 32.5h1M35 34.5h1M11 50.5h1M49 57.5h1M36 73.5h1M34 79.5h1M25 124.5h1"/><path stroke="#a2a2a2" d="M93 4.5h1M45 7.5h1M82 12.5h1M70 15.5h1M69 16.5h1M23 26.5h1M33 34.5h1M30 76.5h1M67 85.5h1M67 99.5h1M54 107.5h1"/><path stroke="#a3a3a3" d="M86 13.5h1M84 15.5h1M63 50.5h1M36 65.5h1M8 86.5h1M93 94.5h1M9 99.5h1M68 99.5h1"/><path stroke="#a4a4a4" d="M56 17.5h1M5 28.5h1M70 28.5h1M74 29.5h1M41 39.5h1M43 67.5h1M25 78.5h1M55 96.5h1M46 107.5h1M46 108.5h1M41 115.5h1"/><path stroke="#a5a5a5" d="M55 25.5h1M44 32.5h1M21 62.5h1M86 65.5h1M42 67.5h1M11 98.5h1M14 106.5h1M2 122.5h1"/><path stroke="#a6a6a6" d="M93 5.5h1M84 14.5h1M62 18.5h1M62 20.5h1M48 58.5h1M90 59.5h1M61 70.5h1M11 76.5h1M29 76.5h1M9 95.5h1M0 120.5h1M24 123.5h1M27 123.5h1"/><path stroke="#a7a7a7" d="M79 10.5h1M55 18.5h1M20 43.5h1M15 44.5h1M82 52.5h1M82 53.5h1M49 56.5h1M63 59.5h1M35 65.5h1M16 72.5h1M32 94.5h1M67 100.5h2M59 102.5h1M45 107.5h1M34 115.5h1"/><path stroke="#a8a8a8" d="M63 7.5h1M40 40.5h1M25 56.5h1M38 58.5h1M1 122.5h1M24 125.5h1"/><path stroke="#a9a9a9" d="M0 23.5h1M75 26.5h1M65 32.5h1M33 36.5h1M63 60.5h1M27 70.5h1M56 70.5h1M54 98.5h1M94 109.5h1"/><path stroke="#aaaaaa" d="M44 2.5h1M46 8.5h1M69 15.5h1M53 17.5h1M4 29.5h1M16 50.5h1M3 59.5h1M16 73.5h1M37 74.5h1M84 94.5h1M9 98.5h1M57 99.5h1M18 116.5h1"/><path stroke="#ababab" d="M44 3.5h1M34 35.5h1M35 64.5h1M24 78.5h1M89 92.5h1M14 100.5h1M54 123.5h1"/><path stroke="#acacac" d="M79 11.5h1M44 33.5h1M21 63.5h1M36 64.5h1M68 92.5h1M42 107.5h1M3 121.5h1"/><path stroke="#adadad" d="M16 11.5h1M55 17.5h1M55 24.5h1M16 49.5h1M23 50.5h1M18 83.5h1M62 107.5h1M54 125.5h1"/><path stroke="#aeaeae" d="M10 0.5h1M51 6.5h1M62 8.5h1M85 14.5h1M62 19.5h1M38 59.5h1M57 70.5h1M17 72.5h1M58 78.5h1M84 81.5h1M93 96.5h1M10 98.5h1M58 107.5h1M85 123.5h1"/><path stroke="#afafaf" d="M3 5.5h1M62 6.5h1M80 10.5h1M53 18.5h1M23 25.5h1M5 30.5h1M19 67.5h1M36 74.5h1M82 83.5h1M41 117.5h1M3 123.5h1"/><path stroke="#b0b0b0" d="M10 25.5h1M53 72.5h1M82 82.5h1M39 93.5h1M13 100.5h1M68 103.5h1M34 116.5h1"/><path stroke="#b1b1b1" d="M92 4.5h1M57 32.5h1M48 56.5h1M17 73.5h1M84 95.5h1M9 96.5h1M92 98.5h2M40 99.5h1M93 109.5h1M71 115.5h1"/><path stroke="#b2b2b2" d="M62 5.5h1M85 13.5h1M56 18.5h1M88 21.5h1M40 38.5h1M48 57.5h1M90 70.5h1M58 108.5h1M60 114.5h1M1 121.5h1M86 123.5h1"/><path stroke="#b3b3b3" d="M10 1.5h1M83 24.5h1M73 30.5h1M20 42.5h1M52 72.5h1M2 109.5h1"/><path stroke="#b4b4b4" d="M92 5.5h1M80 11.5h1M23 47.5h1M78 49.5h1M78 50.5h1M90 58.5h1M58 101.5h1M41 116.5h1M28 123.5h1"/><path stroke="#b5b5b5" d="M46 6.5h1M53 57.5h1M19 68.5h1M78 69.5h1M58 79.5h1M19 83.5h1M60 117.5h1M60 118.5h1"/><path stroke="#b6b6b6" d="M26 11.5h1M16 12.5h1M73 29.5h1M69 45.5h1M78 68.5h1M15 69.5h1M2 108.5h1M47 113.5h1M53 116.5h1M24 124.5h1"/><path stroke="#b7b7b7" d="M33 35.5h1M24 67.5h1M67 84.5h1M11 93.5h1M15 106.5h1M47 112.5h1M71 114.5h1M41 119.5h1"/><path stroke="#b8b8b8" d="M71 0.5h1M84 42.5h1M84 43.5h1M10 50.5h1M10 51.5h1M15 61.5h1M24 68.5h1M27 72.5h1M68 102.5h1"/><path stroke="#b9b9b9" d="M62 7.5h1M5 29.5h1M75 81.5h1M39 94.5h1M59 103.5h1"/><path stroke="#bababa" d="M40 39.5h1M25 57.5h1M12 88.5h1"/><path stroke="#bbbbbb" d="M3 6.5h1M46 7.5h1M55 95.5h1M53 117.5h1"/><path stroke="#bcbcbc" d="M27 71.5h1M93 95.5h1"/><path stroke="#bdbdbd" d="M3 122.5h1M54 124.5h1"/></g></g></g><g clip-path="url(#cb2)" style="mix-blend-mode:multiply"><g filter="url(#fb)"><rect x="195" y="55" width="500" height="210" fill="#000"/><g transform="translate(204,84) scale(2)" fill="none" stroke-width="1"><path stroke="#010101" d="M27 10.5h1M6 11.5h1M84 12.5h1M16 13.5h1M84 13.5h1M238 13.5h1M2 14.5h1M13 14.5h1M16 14.5h1M20 14.5h1M27 14.5h1M84 14.5h2M238 14.5h1M1 15.5h1M3 15.5h2M9 15.5h1M13 15.5h1M19 15.5h3M27 15.5h1M80 15.5h1M85 15.5h1M181 15.5h1M222 15.5h2M225 15.5h1M228 15.5h2M238 15.5h1M19 16.5h1M21 16.5h2M78 16.5h3M83 16.5h3M175 16.5h1M181 16.5h1M221 16.5h3M225 16.5h1M227 16.5h3M231 16.5h1M233 16.5h1M236 16.5h3M18 17.5h2M22 17.5h1M27 17.5h1M45 17.5h2M73 17.5h1M78 17.5h1M80 17.5h3M85 17.5h1M172 17.5h1M174 17.5h2M178 17.5h1M181 17.5h1M185 17.5h2M192 17.5h1M204 17.5h1M219 17.5h3M225 17.5h1M227 17.5h1M229 17.5h4M236 17.5h1M19 18.5h1M25 18.5h2M37 18.5h4M46 18.5h1M55 18.5h3M68 18.5h1M71 18.5h5M77 18.5h1M80 18.5h1M82 18.5h1M86 18.5h1M143 18.5h4M151 18.5h1M172 18.5h1M178 18.5h1M184 18.5h4M190 18.5h1M192 18.5h2M199 18.5h1M204 18.5h2M207 18.5h3M217 18.5h5M224 18.5h2M227 18.5h1M229 18.5h1M231 18.5h2M0 19.5h1M16 19.5h1M22 19.5h2M26 19.5h1M30 19.5h1M36 19.5h1M41 19.5h1M44 19.5h1M46 19.5h1M48 19.5h1M52 19.5h1M55 19.5h3M63 19.5h1M65 19.5h1M68 19.5h1M71 19.5h4M77 19.5h1M85 19.5h1M137 19.5h1M141 19.5h1M143 19.5h1M147 19.5h1M153 19.5h1M159 19.5h1M166 19.5h1M171 19.5h2M176 19.5h1M178 19.5h3M183 19.5h1M186 19.5h2M190 19.5h2M193 19.5h1M195 19.5h6M203 19.5h7M214 19.5h3M219 19.5h3M226 19.5h2M231 19.5h3M235 19.5h1M9 20.5h1M11 20.5h1M15 20.5h2M24 20.5h1M30 20.5h1M33 20.5h1M44 20.5h1M48 20.5h2M55 20.5h2M59 20.5h2M63 20.5h1M65 20.5h1M69 20.5h1M72 20.5h2M76 20.5h1M137 20.5h1M139 20.5h4M153 20.5h2M156 20.5h4M165 20.5h1M171 20.5h2M176 20.5h1M183 20.5h1M186 20.5h2M189 20.5h1M191 20.5h1M193 20.5h1M195 20.5h1M197 20.5h4M202 20.5h1M214 20.5h1M216 20.5h1M220 20.5h2M226 20.5h2M236 20.5h1M9 21.5h1M12 21.5h1M16 21.5h1M24 21.5h1M44 21.5h1M48 21.5h1M55 21.5h2M63 21.5h1M65 21.5h2M74 21.5h1M127 21.5h1M132 21.5h1M134 21.5h1M136 21.5h1M140 21.5h1M142 21.5h1M147 21.5h1M155 21.5h2M158 21.5h5M165 21.5h1M170 21.5h1M172 21.5h1M176 21.5h2M183 21.5h2M186 21.5h1M189 21.5h1M193 21.5h3M199 21.5h3M205 21.5h1M207 21.5h1M211 21.5h3M216 21.5h1M219 21.5h2M5 22.5h1M10 22.5h1M23 22.5h1M44 22.5h1M50 22.5h1M59 22.5h2M63 22.5h2M71 22.5h1M123 22.5h2M127 22.5h1M131 22.5h1M133 22.5h1M136 22.5h2M139 22.5h2M142 22.5h1M147 22.5h3M155 22.5h1M162 22.5h1M165 22.5h1M167 22.5h1M170 22.5h1M172 22.5h1M184 22.5h2M193 22.5h1M195 22.5h1M205 22.5h1M207 22.5h1M209 22.5h2M217 22.5h1M226 22.5h1M29 23.5h1M34 23.5h1M43 23.5h1M45 23.5h1M54 23.5h1M62 23.5h1M64 23.5h1M69 23.5h2M72 23.5h1M79 23.5h1M100 23.5h1M105 23.5h1M123 23.5h2M126 23.5h3M142 23.5h1M147 23.5h1M151 23.5h1M165 23.5h1M167 23.5h1M169 23.5h1M172 23.5h1M188 23.5h1M195 23.5h1M215 23.5h1M226 23.5h1M36 24.5h1M46 24.5h1M52 24.5h2M59 24.5h1M64 24.5h1M68 24.5h1M100 24.5h1M104 24.5h2M135 24.5h1M139 24.5h1M152 24.5h1M164 24.5h1M167 24.5h1M171 24.5h1M224 24.5h2M28 25.5h1M35 25.5h1M37 25.5h1M48 25.5h2M58 25.5h1M72 25.5h1M100 25.5h1M104 25.5h1M122 25.5h1M125 25.5h1M135 25.5h1M167 25.5h1M224 25.5h1M36 26.5h1M38 26.5h1M50 26.5h1M67 26.5h1M69 26.5h1M79 26.5h1M90 26.5h1M94 26.5h1M98 26.5h1M100 26.5h3M104 26.5h1M122 26.5h1M125 26.5h1M138 26.5h1M199 26.5h1M209 26.5h1M37 27.5h1M49 27.5h1M60 27.5h1M91 27.5h7M101 27.5h1M122 27.5h1M179 27.5h1M71 28.5h1M91 28.5h1M96 28.5h1M179 28.5h1M99 29.5h1M102 29.5h1M179 29.5h1M91 30.5h1M100 30.5h1M158 30.5h1M179 30.5h1M181 30.5h1M0 31.5h1M82 31.5h1M86 31.5h1M91 31.5h1M100 31.5h1M106 31.5h1M155 31.5h1M170 31.5h1M175 31.5h1M179 31.5h1M181 31.5h1M185 31.5h1M211 31.5h1M226 31.5h1M77 32.5h1M79 32.5h1M106 32.5h1M167 32.5h1M173 32.5h1M178 32.5h2M191 32.5h1M210 32.5h3M225 32.5h1M229 32.5h1M231 32.5h1M235 32.5h1M81 33.5h1M83 33.5h1M87 33.5h1M102 33.5h1M106 33.5h1M122 33.5h1M145 33.5h1M156 33.5h1M168 33.5h2M172 33.5h3M177 33.5h1M179 33.5h2M182 33.5h1M187 33.5h2M193 33.5h1M200 33.5h2M203 33.5h1M209 33.5h1M211 33.5h3M217 33.5h1M229 33.5h3M238 33.5h1M35 34.5h1M38 34.5h2M73 34.5h2M76 34.5h1M79 34.5h1M88 34.5h1M103 34.5h1M129 34.5h1M134 34.5h1M144 34.5h1M146 34.5h1M148 34.5h2M156 34.5h1M160 34.5h1M162 34.5h1M164 34.5h1M168 34.5h2M172 34.5h2M179 34.5h2M187 34.5h2M192 34.5h1M198 34.5h2M201 34.5h1M204 34.5h3M208 34.5h1M216 34.5h1M218 34.5h1M220 34.5h1M230 34.5h2M233 34.5h2M236 34.5h1M73 35.5h4M123 35.5h2M129 35.5h1M140 35.5h1M143 35.5h5M153 35.5h2M156 35.5h3M162 35.5h1M164 35.5h3M168 35.5h4M173 35.5h1M184 35.5h4M204 35.5h2M207 35.5h1M211 35.5h1M214 35.5h2M218 35.5h1M221 35.5h3M225 35.5h1M227 35.5h1M230 35.5h2M233 35.5h3M237 35.5h2M0 36.5h1M72 36.5h5M89 36.5h1M128 36.5h3M133 36.5h1M144 36.5h4M150 36.5h1M153 36.5h3M158 36.5h2M162 36.5h3M166 36.5h1M168 36.5h2M171 36.5h1M184 36.5h4M189 36.5h3M193 36.5h1M202 36.5h1M204 36.5h1M206 36.5h1M211 36.5h1M219 36.5h1M222 36.5h4M227 36.5h1M230 36.5h1M232 36.5h4M237 36.5h2M1 37.5h1M70 37.5h1M72 37.5h2M75 37.5h1M89 37.5h1M99 37.5h1M102 37.5h1M127 37.5h2M131 37.5h2M134 37.5h1M139 37.5h3M145 37.5h3M149 37.5h1M151 37.5h2M170 37.5h2M184 37.5h3M190 37.5h1M192 37.5h2M219 37.5h1M225 37.5h1M227 37.5h2M230 37.5h1M232 37.5h3M47 38.5h1M69 38.5h2M90 38.5h2M96 38.5h2M100 38.5h3M126 38.5h3M134 38.5h1M136 38.5h1M139 38.5h3M145 38.5h3M152 38.5h1M185 38.5h2M192 38.5h2M219 38.5h1M228 38.5h1M230 38.5h1M233 38.5h1M2 39.5h1M4 39.5h1M69 39.5h2M91 39.5h1M95 39.5h1M97 39.5h1M101 39.5h1M125 39.5h2M135 39.5h1M137 39.5h3M145 39.5h3M185 39.5h1M192 39.5h1M0 40.5h1M7 40.5h1M16 40.5h2M41 40.5h1M47 40.5h1M67 40.5h1M69 40.5h1M91 40.5h1M95 40.5h1M97 40.5h2M139 40.5h1M0 41.5h1M7 41.5h1M19 41.5h2M67 41.5h1M91 41.5h1M93 41.5h2M97 41.5h2M0 42.5h2M17 42.5h1M19 42.5h1M61 42.5h1M69 42.5h1M92 42.5h2M96 42.5h3M1 43.5h1M19 43.5h2M23 43.5h1M25 43.5h1M71 43.5h1M93 43.5h1M96 43.5h1M0 44.5h1M12 44.5h1M16 44.5h1M26 44.5h1M59 44.5h1M69 44.5h1M71 44.5h1M0 45.5h1M8 45.5h1M27 45.5h3M32 45.5h1M41 45.5h1M55 45.5h1M61 45.5h1M66 45.5h2M69 45.5h2M0 46.5h1M9 46.5h2M12 46.5h1M19 46.5h1M24 46.5h1M40 46.5h1M57 46.5h1M67 46.5h2M2 47.5h1M4 47.5h1M7 47.5h1M19 47.5h2M23 47.5h2M3 48.5h2M10 48.5h1M13 48.5h2M17 48.5h1M19 48.5h1M21 48.5h2M32 48.5h1M35 48.5h1M41 48.5h1M47 48.5h3M61 48.5h1M67 48.5h1M70 48.5h1M4 49.5h1M10 49.5h3M14 49.5h1M16 49.5h2M21 49.5h2M40 49.5h2M46 49.5h2M55 49.5h1M61 49.5h1M65 49.5h1M70 49.5h1M5 50.5h1M11 50.5h1M18 50.5h2M40 50.5h1M46 50.5h1M52 50.5h1M61 50.5h1M7 51.5h1M9 51.5h1M28 51.5h1M40 51.5h1M53 51.5h1M56 51.5h2M62 51.5h1M65 51.5h2M0 52.5h1M4 52.5h1M8 52.5h2M13 52.5h2M33 52.5h1M40 52.5h2M48 52.5h2M52 52.5h1M57 52.5h1M66 52.5h1M4 53.5h1M8 53.5h3M13 53.5h2M26 53.5h3M40 53.5h1M48 53.5h1M63 53.5h1M68 53.5h1M2 54.5h1M9 54.5h2M12 54.5h2M20 54.5h1M25 54.5h2M28 54.5h1M33 54.5h1M35 54.5h1M39 54.5h1M50 54.5h1M55 54.5h2M62 54.5h3M1 55.5h2M6 55.5h1M10 55.5h1M30 55.5h1M32 55.5h4M49 55.5h1M52 55.5h1M55 55.5h1M63 55.5h2M66 55.5h1M1 56.5h1M6 56.5h1M25 56.5h1M28 56.5h1M32 56.5h1M35 56.5h1M50 56.5h1M52 56.5h1M55 56.5h1M65 56.5h1M25 57.5h1M39 57.5h2M44 57.5h1M50 57.5h1M53 57.5h1M55 57.5h1M59 57.5h1M66 57.5h1M24 58.5h1M30 58.5h1M36 58.5h1M50 58.5h1M54 58.5h2M59 58.5h4M66 58.5h1M24 59.5h2M28 59.5h3M34 59.5h4M41 59.5h1M46 59.5h1M50 59.5h1M54 59.5h2M59 59.5h1M63 59.5h1M66 59.5h1M25 60.5h1M35 60.5h3M46 60.5h1M50 60.5h2M53 60.5h1M59 60.5h3M65 60.5h1M24 61.5h1M29 61.5h1M36 61.5h2M46 61.5h2M52 61.5h1M65 61.5h1M24 62.5h1M28 62.5h2M37 62.5h1M46 62.5h2M65 62.5h1M24 63.5h1M28 63.5h2M54 63.5h1M62 63.5h1M28 64.5h1M52 64.5h1M55 64.5h1M63 64.5h1M52 65.5h1M58 65.5h1"/><path stroke="#020202" d="M20 16.5h1M27 16.5h1M6 17.5h1M8 17.5h1M20 17.5h2M79 17.5h1M83 17.5h2M222 17.5h2M228 17.5h1M237 17.5h2M0 18.5h2M6 18.5h1M18 18.5h1M20 18.5h1M45 18.5h1M81 18.5h1M174 18.5h2M181 18.5h1M222 18.5h1M236 18.5h1M238 18.5h1M1 19.5h1M6 19.5h1M9 19.5h2M25 19.5h1M75 19.5h1M80 19.5h1M82 19.5h1M86 19.5h1M144 19.5h3M175 19.5h1M182 19.5h1M184 19.5h1M192 19.5h1M217 19.5h2M224 19.5h2M229 19.5h1M236 19.5h1M6 20.5h1M8 20.5h1M13 20.5h1M18 20.5h1M22 20.5h2M26 20.5h1M45 20.5h1M75 20.5h1M78 20.5h1M143 20.5h1M145 20.5h2M166 20.5h1M175 20.5h1M178 20.5h1M180 20.5h1M184 20.5h1M190 20.5h1M192 20.5h1M203 20.5h4M215 20.5h1M230 20.5h1M232 20.5h2M5 21.5h1M10 21.5h1M23 21.5h1M33 21.5h1M49 21.5h1M59 21.5h2M73 21.5h1M137 21.5h1M139 21.5h1M141 21.5h1M153 21.5h2M157 21.5h1M166 21.5h1M187 21.5h1M190 21.5h2M197 21.5h2M202 21.5h1M204 21.5h1M215 21.5h1M221 21.5h1M223 21.5h1M226 21.5h1M234 21.5h1M9 22.5h1M30 22.5h1M49 22.5h1M55 22.5h1M65 22.5h2M87 22.5h1M130 22.5h1M132 22.5h1M141 22.5h1M153 22.5h1M158 22.5h1M160 22.5h2M166 22.5h1M189 22.5h1M199 22.5h1M212 22.5h2M215 22.5h1M219 22.5h1M223 22.5h1M225 22.5h1M236 22.5h1M7 23.5h1M22 23.5h1M61 23.5h1M66 23.5h1M71 23.5h1M77 23.5h1M129 23.5h1M131 23.5h1M133 23.5h1M140 23.5h1M148 23.5h2M153 23.5h1M160 23.5h1M170 23.5h1M197 23.5h1M205 23.5h1M223 23.5h1M225 23.5h1M22 24.5h1M26 24.5h1M29 24.5h1M32 24.5h1M44 24.5h2M63 24.5h1M66 24.5h1M70 24.5h1M72 24.5h1M123 24.5h2M126 24.5h3M131 24.5h2M142 24.5h1M147 24.5h1M160 24.5h1M168 24.5h1M195 24.5h1M217 24.5h2M20 25.5h1M27 25.5h1M47 25.5h1M51 25.5h1M54 25.5h2M89 25.5h1M105 25.5h1M124 25.5h1M126 25.5h1M142 25.5h1M149 25.5h1M193 25.5h1M195 25.5h1M199 25.5h1M1 26.5h1M57 26.5h2M77 26.5h1M105 26.5h1M124 26.5h1M155 26.5h1M213 26.5h1M218 26.5h1M1 27.5h1M50 27.5h1M90 27.5h1M102 27.5h1M104 27.5h1M37 28.5h1M50 28.5h1M85 28.5h1M92 28.5h4M101 28.5h2M76 29.5h1M91 29.5h1M163 30.5h1M165 30.5h1M174 30.5h2M180 30.5h1M185 30.5h1M193 30.5h2M234 30.5h1M77 31.5h1M79 31.5h1M123 31.5h1M158 31.5h2M167 31.5h1M173 31.5h2M227 31.5h1M230 31.5h1M0 32.5h1M83 32.5h1M122 32.5h1M145 32.5h2M156 32.5h1M168 32.5h3M174 32.5h1M177 32.5h1M180 32.5h1M182 32.5h2M185 32.5h1M187 32.5h2M201 32.5h1M222 32.5h1M230 32.5h1M0 33.5h1M40 33.5h1M59 33.5h1M76 33.5h1M79 33.5h1M88 33.5h1M134 33.5h1M146 33.5h1M149 33.5h1M154 33.5h1M161 33.5h2M164 33.5h2M185 33.5h1M197 33.5h1M199 33.5h1M204 33.5h1M206 33.5h1M216 33.5h1M218 33.5h2M233 33.5h1M235 33.5h1M70 34.5h3M75 34.5h1M124 34.5h1M139 34.5h1M142 34.5h1M145 34.5h1M154 34.5h1M157 34.5h1M165 34.5h2M170 34.5h2M185 34.5h2M190 34.5h1M214 34.5h1M219 34.5h1M221 34.5h2M232 34.5h1M235 34.5h1M238 34.5h1M72 35.5h1M89 35.5h1M128 35.5h1M141 35.5h1M149 35.5h2M152 35.5h1M159 35.5h1M163 35.5h1M189 35.5h3M202 35.5h1M219 35.5h1M224 35.5h1M232 35.5h1M70 36.5h1M102 36.5h1M127 36.5h1M141 36.5h1M149 36.5h1M151 36.5h2M228 36.5h1M33 37.5h1M101 37.5h1M125 37.5h2M135 37.5h1M125 38.5h1M135 38.5h1M137 38.5h1M5 39.5h1M15 39.5h1M41 39.5h1M71 39.5h1M98 39.5h1M11 40.5h1M18 40.5h1M68 40.5h1M93 40.5h2M4 41.5h1M69 41.5h1M92 41.5h1M8 42.5h1M13 42.5h2M16 42.5h1M66 42.5h1M0 43.5h1M8 43.5h1M61 43.5h1M65 43.5h1M70 43.5h1M8 44.5h1M20 44.5h1M24 44.5h1M35 44.5h1M58 44.5h1M61 44.5h1M57 45.5h1M3 46.5h1M5 46.5h1M13 46.5h1M20 46.5h1M26 46.5h1M30 46.5h1M32 46.5h1M62 46.5h1M3 47.5h1M6 47.5h1M12 47.5h1M22 47.5h1M31 47.5h2M47 47.5h1M68 47.5h1M11 48.5h2M18 48.5h1M23 48.5h1M57 48.5h1M65 48.5h1M68 48.5h1M0 49.5h1M5 49.5h1M19 49.5h1M27 49.5h1M50 49.5h1M58 49.5h1M0 50.5h1M7 50.5h1M23 50.5h1M48 50.5h1M50 50.5h1M68 50.5h1M0 51.5h1M20 51.5h1M25 51.5h1M35 51.5h1M42 51.5h1M46 51.5h1M35 52.5h1M55 52.5h2M20 53.5h1M35 53.5h1M39 53.5h1M49 53.5h2M53 53.5h4M66 53.5h1M40 54.5h2M46 54.5h1M49 54.5h1M53 54.5h1M66 54.5h1M24 55.5h1M39 55.5h3M45 55.5h1M50 55.5h1M56 55.5h3M62 55.5h1M65 55.5h1M30 56.5h1M40 56.5h1M53 56.5h1M24 57.5h1M28 57.5h3M36 57.5h1M38 57.5h1M42 57.5h1M51 57.5h1M54 57.5h1M65 57.5h1M29 58.5h1M31 58.5h1M41 58.5h1M52 59.5h1M60 59.5h2M64 59.5h2M24 60.5h1M52 60.5h1M55 63.5h1M56 65.5h1"/><path stroke="#030303" d="M0 16.5h2M9 16.5h1M0 17.5h2M9 18.5h1M21 18.5h1M78 18.5h2M223 18.5h1M228 18.5h1M237 18.5h1M8 19.5h1M17 19.5h3M45 19.5h1M78 19.5h1M174 19.5h1M222 19.5h1M10 20.5h1M25 20.5h1M36 20.5h1M41 20.5h1M80 20.5h1M82 20.5h1M144 20.5h1M179 20.5h1M182 20.5h1M196 20.5h1M217 20.5h1M223 20.5h1M225 20.5h1M6 21.5h1M8 21.5h1M13 21.5h2M17 21.5h2M22 21.5h1M25 21.5h1M75 21.5h2M78 21.5h1M143 21.5h1M174 21.5h2M192 21.5h1M206 21.5h1M214 21.5h1M217 21.5h1M225 21.5h1M227 21.5h1M233 21.5h1M22 22.5h1M24 22.5h2M74 22.5h1M79 22.5h1M159 22.5h1M186 22.5h1M191 22.5h2M194 22.5h1M197 22.5h2M200 22.5h1M206 22.5h1M211 22.5h1M220 22.5h1M222 22.5h1M233 22.5h1M5 23.5h1M10 23.5h1M26 23.5h1M36 23.5h1M55 23.5h1M65 23.5h1M76 23.5h1M88 23.5h1M150 23.5h1M159 23.5h1M161 23.5h1M184 23.5h1M198 23.5h1M206 23.5h2M230 23.5h1M0 24.5h2M21 24.5h1M34 24.5h1M55 24.5h1M61 24.5h2M71 24.5h1M148 24.5h2M165 24.5h1M181 24.5h1M197 24.5h2M231 24.5h1M26 25.5h1M46 25.5h1M56 25.5h1M61 25.5h1M66 25.5h1M137 25.5h1M144 25.5h1M148 25.5h1M160 25.5h1M162 25.5h1M225 25.5h1M35 26.5h1M61 26.5h1M72 26.5h1M126 26.5h1M193 26.5h1M39 27.5h1M98 27.5h1M105 27.5h1M124 27.5h1M133 27.5h1M60 28.5h1M97 28.5h1M104 28.5h1M176 28.5h1M37 29.5h1M92 29.5h3M96 29.5h1M174 29.5h1M222 29.5h1M0 30.5h2M92 30.5h1M159 30.5h1M177 30.5h1M83 31.5h1M146 31.5h1M165 31.5h1M177 31.5h1M180 31.5h1M193 31.5h1M229 31.5h1M237 31.5h1M76 32.5h1M81 32.5h1M87 32.5h1M130 32.5h1M158 32.5h2M165 32.5h1M193 32.5h1M195 32.5h2M200 32.5h1M213 32.5h1M219 32.5h1M233 32.5h1M236 32.5h1M41 33.5h1M71 33.5h2M74 33.5h2M129 33.5h1M158 33.5h1M160 33.5h1M170 33.5h2M184 33.5h1M186 33.5h1M191 33.5h2M220 33.5h3M232 33.5h1M236 33.5h1M40 34.5h1M90 34.5h1M101 34.5h1M128 34.5h1M140 34.5h1M143 34.5h1M147 34.5h1M150 34.5h1M158 34.5h1M184 34.5h1M189 34.5h1M191 34.5h1M207 34.5h1M215 34.5h1M223 34.5h2M0 35.5h1M35 35.5h2M39 35.5h1M43 35.5h1M70 35.5h1M101 35.5h2M127 35.5h1M133 35.5h1M228 35.5h1M101 36.5h1M125 36.5h2M131 36.5h2M135 36.5h1M137 36.5h1M40 37.5h1M42 37.5h1M97 37.5h1M100 37.5h1M136 37.5h2M4 38.5h1M35 38.5h1M42 38.5h1M71 38.5h1M95 38.5h1M138 38.5h1M6 39.5h1M42 39.5h1M67 39.5h2M93 39.5h1M3 40.5h1M5 40.5h2M20 40.5h1M92 40.5h1M42 41.5h1M23 42.5h1M42 42.5h1M12 43.5h1M16 43.5h2M42 43.5h1M34 44.5h1M42 44.5h1M70 44.5h1M11 45.5h1M20 45.5h1M56 45.5h1M11 46.5h1M36 46.5h1M11 47.5h1M13 47.5h1M29 47.5h2M36 47.5h1M39 47.5h1M49 47.5h1M57 47.5h1M61 47.5h2M5 48.5h1M24 48.5h1M30 48.5h1M33 48.5h1M40 48.5h1M18 49.5h1M23 49.5h2M51 49.5h1M53 49.5h1M67 49.5h2M6 50.5h1M29 50.5h1M41 50.5h1M67 50.5h1M33 51.5h2M41 51.5h1M48 51.5h1M50 51.5h1M63 51.5h1M20 52.5h1M47 52.5h1M50 52.5h1M53 52.5h1M63 52.5h1M65 52.5h1M25 53.5h1M65 53.5h1M54 54.5h1M65 54.5h1M31 55.5h1M53 55.5h1M24 56.5h1M39 56.5h1M41 56.5h1M54 56.5h1M62 56.5h3M41 57.5h1M43 57.5h1M62 57.5h1M28 58.5h1M37 58.5h1M63 58.5h1M65 58.5h1M51 59.5h1M58 61.5h1M57 65.5h1"/><path stroke="#040404" d="M2 16.5h1M5 16.5h1M9 17.5h1M8 18.5h1M79 19.5h1M81 19.5h1M181 19.5h1M223 19.5h1M228 19.5h1M237 19.5h2M0 20.5h1M5 20.5h1M79 20.5h1M85 20.5h2M174 20.5h1M218 20.5h1M222 20.5h1M224 20.5h1M229 20.5h1M231 20.5h1M235 20.5h1M237 20.5h1M11 21.5h1M15 21.5h1M26 21.5h1M79 21.5h2M82 21.5h1M145 21.5h2M196 21.5h1M203 21.5h1M222 21.5h1M230 21.5h1M237 21.5h1M42 22.5h1M75 22.5h2M154 22.5h1M157 22.5h1M174 22.5h2M183 22.5h1M190 22.5h1M196 22.5h1M201 22.5h1M0 23.5h1M4 23.5h1M6 23.5h1M132 23.5h1M136 23.5h1M141 23.5h1M158 23.5h1M166 23.5h1M189 23.5h1M192 23.5h1M196 23.5h1M199 23.5h1M208 23.5h1M210 23.5h1M31 24.5h1M65 24.5h1M77 24.5h1M133 24.5h1M140 24.5h1M151 24.5h1M154 24.5h1M159 24.5h1M163 24.5h1M169 24.5h1M188 24.5h1M196 24.5h1M199 24.5h1M216 24.5h1M223 24.5h1M226 24.5h1M1 25.5h1M21 25.5h1M33 25.5h2M38 25.5h1M59 25.5h1M62 25.5h1M65 25.5h1M68 25.5h1M70 25.5h2M75 25.5h1M77 25.5h1M127 25.5h1M133 25.5h1M139 25.5h1M198 25.5h1M28 26.5h1M133 26.5h1M156 26.5h1M167 26.5h1M198 26.5h1M214 26.5h1M61 27.5h1M90 28.5h1M105 28.5h1M122 28.5h1M60 29.5h1M78 29.5h1M95 29.5h1M101 29.5h1M183 29.5h1M199 29.5h1M234 29.5h1M37 30.5h1M76 30.5h1M80 30.5h1M82 30.5h1M94 30.5h1M166 30.5h2M170 30.5h1M173 30.5h1M223 30.5h1M238 30.5h1M168 31.5h2M178 31.5h1M182 31.5h1M188 31.5h2M225 31.5h1M228 31.5h1M231 31.5h1M233 31.5h1M235 31.5h1M36 32.5h1M104 32.5h1M154 32.5h1M164 32.5h1M171 32.5h2M197 32.5h1M204 32.5h1M206 32.5h1M218 32.5h1M221 32.5h1M228 32.5h1M35 33.5h1M159 33.5h1M166 33.5h1M189 33.5h1M198 33.5h1M205 33.5h1M208 33.5h1M0 34.5h1M41 34.5h1M102 34.5h1M123 34.5h1M127 34.5h1M152 34.5h2M159 34.5h1M228 34.5h1M44 35.5h1M125 35.5h2M130 35.5h1M135 35.5h1M151 35.5h1M1 36.5h1M99 36.5h1M7 39.5h1M48 39.5h1M92 39.5h1M94 39.5h1M12 40.5h1M15 40.5h1M41 41.5h1M60 41.5h2M4 42.5h1M11 44.5h1M21 44.5h2M27 44.5h1M29 44.5h1M32 44.5h1M55 44.5h1M24 45.5h1M42 45.5h1M22 46.5h2M31 46.5h1M39 46.5h1M55 46.5h1M16 47.5h1M21 47.5h1M65 47.5h1M7 48.5h1M55 48.5h1M7 49.5h1M35 49.5h1M52 49.5h1M54 49.5h1M34 50.5h1M42 50.5h1M25 52.5h1M34 54.5h1M36 55.5h1M38 55.5h1M54 55.5h1M36 56.5h1M58 56.5h1M63 57.5h2M51 58.5h1M64 58.5h1M58 64.5h1"/><path stroke="#050505" d="M84 18.5h1M37 19.5h1M40 19.5h1M17 20.5h1M81 20.5h1M181 20.5h1M238 20.5h1M81 21.5h1M144 21.5h1M182 21.5h1M232 21.5h1M8 22.5h1M12 22.5h1M15 22.5h1M80 22.5h2M176 22.5h2M187 22.5h1M202 22.5h1M204 22.5h1M227 22.5h1M230 22.5h1M237 22.5h1M30 23.5h1M154 23.5h1M209 23.5h1M213 23.5h1M218 23.5h1M222 23.5h1M30 24.5h1M37 24.5h1M75 24.5h1M83 24.5h1M141 24.5h1M161 24.5h1M170 24.5h1M45 25.5h1M64 25.5h1M123 25.5h1M128 25.5h1M141 25.5h1M154 25.5h1M168 25.5h1M171 25.5h1M48 26.5h1M59 26.5h1M74 26.5h1M89 26.5h1M202 26.5h2M206 26.5h1M69 27.5h1M83 27.5h1M39 28.5h1M98 28.5h1M97 29.5h1M201 29.5h1M86 30.5h1M93 30.5h1M99 30.5h1M182 30.5h1M188 30.5h1M213 30.5h1M230 30.5h1M1 31.5h1M72 31.5h1M76 31.5h1M92 31.5h1M163 31.5h1M171 31.5h1M183 31.5h1M192 31.5h1M206 31.5h1M210 31.5h1M236 31.5h1M72 32.5h1M134 32.5h1M149 32.5h1M162 32.5h1M189 32.5h1M192 32.5h1M199 32.5h1M216 32.5h2M38 33.5h2M73 33.5h1M127 33.5h1M148 33.5h1M157 33.5h1M190 33.5h1M214 33.5h1M223 33.5h2M228 33.5h1M44 34.5h1M89 34.5h1M125 34.5h1M138 34.5h1M163 34.5h1M71 35.5h1M131 35.5h2M137 35.5h1M42 36.5h1M92 36.5h1M97 36.5h1M2 37.5h1M32 37.5h1M63 37.5h1M71 37.5h1M92 37.5h1M2 38.5h1M33 38.5h2M68 38.5h1M92 38.5h1M98 38.5h1M10 39.5h1M17 39.5h1M19 40.5h1M42 40.5h1M48 40.5h1M12 41.5h1M21 41.5h2M47 41.5h1M5 43.5h2M11 43.5h1M26 43.5h1M58 43.5h1M60 43.5h1M33 44.5h1M65 44.5h1M9 45.5h1M22 45.5h1M40 45.5h1M5 47.5h1M48 47.5h1M6 48.5h1M16 48.5h1M29 48.5h1M39 48.5h1M46 48.5h1M50 48.5h2M33 49.5h1M42 49.5h1M35 50.5h1M34 52.5h1M42 52.5h1M46 52.5h1M42 53.5h1M46 53.5h1M64 53.5h1M31 56.5h1M38 56.5h1M31 57.5h1M37 57.5h1"/><path stroke="#060606" d="M83 18.5h1M20 19.5h2M228 20.5h1M86 21.5h1M180 21.5h2M229 21.5h1M235 21.5h1M238 21.5h1M11 22.5h1M26 22.5h1M73 22.5h1M143 22.5h1M214 22.5h1M221 22.5h1M9 23.5h1M23 23.5h1M25 23.5h1M74 23.5h2M81 23.5h1M130 23.5h1M200 23.5h2M219 23.5h1M224 23.5h1M227 23.5h1M233 23.5h1M20 24.5h1M129 24.5h1M182 24.5h1M201 24.5h1M206 24.5h1M230 24.5h1M22 25.5h1M52 25.5h2M63 25.5h1M164 25.5h1M201 25.5h1M206 25.5h1M55 26.5h1M71 26.5h1M141 26.5h1M160 26.5h1M210 26.5h1M36 27.5h1M72 27.5h1M125 27.5h1M1 28.5h1M55 29.5h1M175 29.5h1M177 29.5h1M197 29.5h1M205 29.5h1M79 30.5h1M83 30.5h1M95 30.5h1M183 30.5h1M192 30.5h1M197 30.5h2M206 30.5h1M36 31.5h1M81 31.5h1M97 31.5h1M122 31.5h1M164 31.5h1M166 31.5h1M197 31.5h1M201 31.5h1M213 31.5h1M221 31.5h1M88 32.5h1M91 32.5h1M184 32.5h1M186 32.5h1M220 32.5h1M232 32.5h1M60 33.5h1M70 33.5h1M101 33.5h1M124 33.5h1M215 33.5h1M126 34.5h1M141 34.5h1M202 34.5h1M37 35.5h2M97 35.5h1M2 36.5h1M4 36.5h1M40 36.5h1M136 36.5h1M4 37.5h1M34 37.5h1M64 37.5h1M15 38.5h1M93 38.5h1M3 39.5h1M11 39.5h1M16 39.5h1M46 39.5h1M10 40.5h1M59 40.5h1M11 41.5h1M12 42.5h1M24 42.5h2M31 42.5h1M28 44.5h1M36 44.5h1M41 44.5h1M36 45.5h1M39 45.5h1M54 45.5h1M42 46.5h1M51 47.5h2M58 47.5h1M28 48.5h1M34 48.5h1M36 48.5h1M52 48.5h1M29 49.5h1M33 50.5h1M47 50.5h1M62 50.5h1M64 50.5h1M37 56.5h1M44 56.5h1M56 56.5h1M55 60.5h1M55 62.5h1"/><path stroke="#070707" d="M36 21.5h1M41 21.5h1M178 21.5h2M218 21.5h1M224 21.5h1M36 22.5h1M78 22.5h1M144 22.5h1M182 22.5h1M203 22.5h1M234 22.5h1M80 23.5h1M83 23.5h1M87 23.5h1M157 23.5h1M175 23.5h1M182 23.5h2M191 23.5h1M194 23.5h1M202 23.5h1M212 23.5h1M214 23.5h1M153 24.5h1M158 24.5h1M166 24.5h1M183 24.5h2M192 24.5h1M238 24.5h1M74 25.5h1M80 25.5h1M140 25.5h1M147 25.5h1M152 25.5h1M165 25.5h1M196 25.5h2M209 25.5h1M232 25.5h1M46 26.5h2M56 26.5h1M65 26.5h1M59 27.5h1M129 27.5h1M176 27.5h1M55 28.5h1M124 28.5h1M70 29.5h1M81 29.5h1M204 29.5h1M72 30.5h1M97 30.5h1M189 30.5h1M201 30.5h1M218 30.5h1M226 30.5h1M2 31.5h1M37 31.5h1M87 31.5h1M95 31.5h1M172 31.5h1M204 31.5h1M218 31.5h2M223 31.5h1M232 31.5h1M46 32.5h1M59 32.5h1M123 32.5h1M127 32.5h1M161 32.5h1M163 32.5h1M166 32.5h1M198 32.5h1M209 32.5h1M214 32.5h1M42 33.5h1M125 33.5h2M140 33.5h1M143 33.5h1M153 33.5h1M163 33.5h1M207 33.5h1M131 34.5h1M151 34.5h1M136 35.5h1M138 35.5h1M34 36.5h1M71 36.5h1M93 36.5h1M100 36.5h1M31 37.5h1M35 37.5h1M47 37.5h1M138 37.5h1M31 38.5h2M8 39.5h1M12 39.5h1M58 39.5h1M66 39.5h1M31 40.5h1M46 40.5h1M8 41.5h1M48 41.5h1M52 41.5h1M59 41.5h1M62 41.5h1M66 41.5h1M23 44.5h1M10 45.5h1M47 46.5h1M51 46.5h1M55 47.5h1M45 48.5h1M58 48.5h1M6 49.5h1M64 51.5h1M58 62.5h1"/><path stroke="#080808" d="M228 21.5h1M16 22.5h1M82 22.5h2M86 22.5h1M146 22.5h1M181 22.5h1M218 22.5h1M224 22.5h1M238 22.5h1M8 23.5h1M174 23.5h1M185 23.5h1M190 23.5h1M231 23.5h1M4 24.5h1M43 24.5h1M74 24.5h1M81 24.5h1M88 24.5h1M205 24.5h1M214 24.5h1M227 24.5h1M19 25.5h1M29 25.5h1M32 25.5h1M44 25.5h1M217 25.5h1M68 26.5h1M80 26.5h1M142 26.5h1M215 26.5h1M49 28.5h1M61 28.5h1M0 29.5h2M39 29.5h1M50 29.5h1M173 29.5h1M202 29.5h1M96 30.5h1M149 30.5h1M169 30.5h1M171 30.5h1M224 30.5h1M43 31.5h1M94 31.5h1M104 31.5h1M127 31.5h1M149 31.5h1M187 31.5h1M199 31.5h1M216 31.5h1M74 32.5h2M129 32.5h1M205 32.5h1M208 32.5h1M215 32.5h1M223 32.5h2M43 33.5h1M58 33.5h1M123 33.5h1M128 33.5h1M130 33.5h1M142 33.5h1M150 33.5h1M152 33.5h1M202 33.5h1M34 34.5h1M37 34.5h1M130 34.5h1M98 35.5h1M10 36.5h1M18 37.5h1M30 37.5h1M69 37.5h1M93 37.5h1M96 37.5h1M9 38.5h1M14 41.5h1M31 41.5h1M43 41.5h1M46 41.5h1M6 42.5h1M11 42.5h1M62 42.5h1M57 44.5h1M23 45.5h1M62 45.5h1M65 46.5h1M42 47.5h1M34 49.5h1M39 49.5h1M47 51.5h1M36 52.5h1M39 52.5h1M34 53.5h1M37 55.5h1M58 63.5h1"/><path stroke="#090909" d="M83 19.5h1M85 21.5h1M84 22.5h1M229 22.5h1M235 22.5h1M143 23.5h1M181 23.5h1M203 23.5h2M220 23.5h1M237 23.5h2M80 24.5h1M136 24.5h1M144 24.5h1M175 24.5h1M189 24.5h1M202 24.5h1M207 24.5h1M209 24.5h1M222 24.5h1M11 25.5h1M143 25.5h1M161 25.5h1M170 25.5h1M183 25.5h2M188 25.5h1M202 25.5h1M214 25.5h1M227 25.5h1M39 26.5h1M51 26.5h1M54 26.5h1M62 26.5h2M66 26.5h1M70 26.5h1M143 26.5h1M200 26.5h1M28 27.5h1M56 27.5h1M71 27.5h1M86 27.5h1M89 27.5h1M126 27.5h1M83 28.5h1M123 28.5h1M174 28.5h1M83 29.5h1M86 29.5h1M98 29.5h1M182 29.5h1M70 30.5h1M81 30.5h1M157 30.5h1M168 30.5h1M172 30.5h1M178 30.5h1M199 30.5h1M231 30.5h1M156 31.5h1M198 31.5h1M224 31.5h1M35 32.5h1M71 32.5h1M98 32.5h1M131 32.5h1M157 32.5h1M160 32.5h1M89 33.5h2M131 33.5h1M138 33.5h1M147 33.5h1M52 34.5h1M132 34.5h2M135 34.5h1M91 35.5h1M33 36.5h1M35 36.5h2M39 36.5h1M98 36.5h1M138 36.5h1M95 37.5h1M98 37.5h1M3 38.5h1M5 38.5h1M40 38.5h2M18 39.5h1M62 40.5h1M66 40.5h1M5 41.5h2M59 42.5h1M31 43.5h1M59 43.5h1M31 45.5h1M51 45.5h1M28 50.5h1M58 60.5h1"/><path stroke="#0a0a0a" d="M83 21.5h1M231 21.5h1M228 22.5h1M11 23.5h1M78 23.5h1M86 23.5h1M144 23.5h1M186 23.5h1M236 23.5h1M2 24.5h1M9 24.5h2M78 24.5h1M130 24.5h1M150 24.5h1M213 24.5h1M169 25.5h1M17 26.5h1M64 26.5h1M123 26.5h1M127 26.5h1M168 26.5h1M201 26.5h1M55 27.5h1M58 27.5h1M178 28.5h1M82 29.5h1M178 29.5h1M231 29.5h1M71 30.5h1M101 30.5h1M150 30.5h1M204 30.5h2M228 30.5h1M232 30.5h1M99 31.5h1M186 31.5h1M200 31.5h1M217 31.5h1M220 31.5h1M18 32.5h1M40 32.5h1M42 32.5h1M60 32.5h1M92 32.5h1M95 32.5h1M132 32.5h1M153 32.5h1M202 32.5h1M58 34.5h2M3 35.5h1M34 35.5h1M3 36.5h1M43 36.5h1M46 37.5h1M8 38.5h1M10 38.5h1M63 38.5h1M94 38.5h1M31 39.5h1M43 39.5h1M43 40.5h1M13 41.5h1M48 42.5h1M60 42.5h1M65 42.5h1M64 43.5h1M38 44.5h1M21 45.5h1M30 45.5h1M21 46.5h1M49 46.5h1M62 48.5h1M64 52.5h1M42 56.5h1M56 59.5h1M55 61.5h1M56 64.5h1"/><path stroke="#0b0b0b" d="M84 19.5h1M83 20.5h1M0 21.5h1M4 21.5h1M0 22.5h1M4 22.5h1M145 22.5h1M187 23.5h1M229 23.5h1M11 24.5h1M86 24.5h1M143 24.5h1M157 24.5h1M174 24.5h1M200 24.5h1M210 24.5h1M233 24.5h1M78 25.5h1M151 25.5h1M20 26.5h1M34 26.5h1M75 26.5h1M128 26.5h1M139 26.5h1M190 26.5h1M197 26.5h1M48 27.5h1M64 27.5h1M85 27.5h1M138 27.5h1M7 28.5h1M25 28.5h1M86 28.5h1M38 29.5h1M206 29.5h1M43 30.5h1M60 30.5h1M221 30.5h1M233 30.5h1M93 31.5h1M157 31.5h1M162 31.5h1M205 31.5h1M214 31.5h2M13 32.5h1M43 32.5h1M89 32.5h1M96 32.5h1M124 32.5h1M126 32.5h1M148 32.5h1M190 32.5h1M207 32.5h1M10 35.5h1M40 35.5h1M31 36.5h1M10 37.5h1M6 38.5h1M12 38.5h1M46 38.5h1M5 42.5h1M41 42.5h1M55 43.5h1M56 44.5h1M38 45.5h1M65 45.5h1M42 48.5h1"/><path stroke="#0c0c0c" d="M3 16.5h2M38 19.5h2M4 20.5h1M19 20.5h1M21 20.5h1M231 22.5h2M21 23.5h1M176 23.5h2M211 23.5h1M221 23.5h1M3 24.5h1M38 24.5h1M203 24.5h1M208 24.5h1M237 24.5h1M88 25.5h1M159 25.5h1M166 25.5h1M200 25.5h1M203 25.5h1M210 25.5h1M213 25.5h1M223 25.5h1M26 26.5h1M88 26.5h1M162 26.5h1M169 26.5h1M196 26.5h1M123 27.5h1M130 27.5h1M174 27.5h1M89 28.5h1M51 29.5h1M79 29.5h1M167 29.5h1M172 29.5h1M187 30.5h1M219 30.5h1M225 30.5h1M229 30.5h1M18 31.5h1M145 31.5h1M47 32.5h1M58 32.5h1M14 33.5h1M37 33.5h1M47 33.5h1M132 33.5h1M139 33.5h1M151 33.5h1M10 34.5h1M43 34.5h1M1 35.5h1M41 37.5h1M22 38.5h1M48 38.5h1M8 40.5h1M55 40.5h1M58 40.5h1M40 41.5h1M9 42.5h1M26 42.5h1M30 42.5h1M58 42.5h1M30 43.5h1M52 46.5h1M50 47.5h1M64 48.5h1M64 49.5h1M38 54.5h1M44 55.5h1M57 56.5h1M58 57.5h1M58 58.5h1M58 59.5h1"/><path stroke="#0d0d0d" d="M13 22.5h2M85 22.5h1M24 23.5h1M42 23.5h1M235 23.5h1M87 24.5h1M194 24.5h1M81 25.5h1M129 25.5h1M136 25.5h1M130 26.5h1M14 27.5h1M62 27.5h2M67 27.5h1M141 27.5h1M6 28.5h1M173 28.5h1M90 29.5h1M171 29.5h1M98 30.5h1M164 30.5h1M216 30.5h1M45 31.5h1M71 31.5h1M96 31.5h1M124 31.5h1M196 31.5h1M15 32.5h1M37 32.5h1M69 32.5h1M73 32.5h1M52 33.5h1M45 34.5h1M137 34.5h1M25 35.5h1M41 35.5h1M45 36.5h1M63 36.5h2M3 37.5h1M7 38.5h1M18 38.5h1M9 39.5h1M40 40.5h1M9 41.5h1M38 41.5h1M41 43.5h1M9 44.5h1M63 46.5h1M46 47.5h1M28 49.5h1M62 49.5h1M43 51.5h1M45 51.5h1M36 54.5h1M45 54.5h1"/><path stroke="#0e0e0e" d="M2 17.5h1M5 17.5h1M2 19.5h1M5 19.5h1M84 20.5h1M84 21.5h1M180 22.5h1M12 23.5h1M15 23.5h1M82 23.5h1M146 23.5h1M204 24.5h1M82 25.5h1M130 25.5h1M14 26.5h1M154 26.5h1M165 26.5h1M184 26.5h1M57 27.5h1M65 27.5h1M178 27.5h1M62 28.5h1M177 28.5h1M89 29.5h1M232 29.5h1M18 30.5h2M87 30.5h1M155 30.5h1M162 30.5h1M210 30.5h1M220 30.5h1M236 30.5h1M60 31.5h1M88 31.5h1M98 31.5h1M126 31.5h1M154 31.5h1M1 32.5h1M26 32.5h1M94 32.5h1M140 32.5h1M143 32.5h1M150 32.5h1M46 33.5h1M11 34.5h1M136 34.5h1M2 35.5h1M42 35.5h1M67 38.5h1M20 39.5h1M52 42.5h1M9 43.5h1M49 44.5h1M53 48.5h1M39 50.5h1M43 50.5h1M63 50.5h1M36 51.5h1M39 51.5h1"/><path stroke="#0f0f0f" d="M179 22.5h1M73 23.5h1M219 24.5h1M229 24.5h1M16 25.5h1M150 25.5h1M189 25.5h1M27 26.5h1M129 26.5h1M140 26.5h1M40 27.5h1M127 27.5h1M28 28.5h1M125 28.5h1M182 28.5h1M80 29.5h1M230 29.5h1M238 29.5h1M2 30.5h1M227 30.5h1M44 31.5h1M184 31.5h1M190 31.5h1M195 31.5h1M202 31.5h1M207 31.5h2M28 32.5h2M99 32.5h1M152 32.5h1M1 34.5h1M50 34.5h1M6 35.5h1M100 35.5h1M21 38.5h1M32 39.5h1M34 39.5h2M40 39.5h1M39 41.5h1M38 42.5h1M32 43.5h1M34 43.5h2M31 44.5h1M64 44.5h1M49 45.5h1M45 49.5h1M45 50.5h1M38 53.5h1"/><path stroke="#101010" d="M1 20.5h1M3 20.5h1M1 23.5h1M3 23.5h1M7 24.5h1M23 24.5h1M25 24.5h1M190 24.5h1M220 24.5h1M204 25.5h1M216 25.5h1M25 26.5h1M136 26.5h1M161 26.5h1M2 27.5h1M35 27.5h1M47 27.5h1M68 27.5h1M88 27.5h1M13 28.5h1M40 28.5h1M54 29.5h1M56 29.5h1M62 29.5h1M56 30.5h1M235 30.5h1M35 31.5h1M153 31.5h1M17 32.5h1M41 32.5h1M125 32.5h1M50 33.5h1M33 34.5h1M53 34.5h1M99 35.5h1M24 36.5h1M41 36.5h1M36 37.5h1M39 37.5h1M36 38.5h1M64 38.5h1M57 39.5h1M23 41.5h1M26 41.5h1M30 41.5h1M55 42.5h1M49 43.5h1M48 46.5h1M37 47.5h1M36 53.5h1M56 57.5h1M56 58.5h1M57 64.5h1"/><path stroke="#111111" d="M41 22.5h1M178 22.5h1M234 23.5h1M82 24.5h1M146 24.5h1M187 24.5h1M221 24.5h1M15 25.5h1M192 25.5h1M78 26.5h1M137 26.5h1M145 26.5h1M152 26.5h1M51 27.5h1M54 27.5h1M70 27.5h1M139 27.5h1M51 28.5h1M54 28.5h1M127 28.5h1M175 28.5h1M61 29.5h1M39 30.5h1M55 30.5h1M202 30.5h1M214 30.5h1M237 30.5h1M74 31.5h1M160 31.5h1M16 32.5h1M27 32.5h1M38 32.5h2M70 32.5h1M92 33.5h1M133 33.5h1M135 33.5h1M48 34.5h2M100 34.5h1M33 35.5h1M45 35.5h1M5 36.5h1M18 36.5h1M95 36.5h1M59 37.5h1M62 37.5h1M17 38.5h1M59 39.5h1M62 39.5h1M14 40.5h1M55 41.5h1M58 41.5h1M45 42.5h1M45 43.5h1M54 43.5h1M45 44.5h1M54 44.5h1M52 45.5h1M63 45.5h1M44 47.5h1M42 54.5h1"/><path stroke="#121212" d="M85 23.5h1M228 23.5h1M8 24.5h1M176 24.5h1M212 24.5h1M2 25.5h1M87 25.5h1M163 25.5h1M207 25.5h1M29 26.5h1M32 26.5h1M81 26.5h1M194 26.5h1M204 26.5h1M219 26.5h1M221 26.5h1M25 27.5h1M29 27.5h1M46 27.5h1M36 28.5h1M82 28.5h1M43 29.5h1M36 30.5h1M190 30.5h1M217 30.5h1M150 31.5h1M14 32.5h1M128 32.5h1M1 33.5h1M15 33.5h2M45 33.5h1M94 33.5h1M2 34.5h1M6 36.5h1M44 36.5h1M48 36.5h1M5 37.5h1M15 37.5h1M48 37.5h1M52 40.5h1M10 41.5h1M27 43.5h1M29 43.5h1M50 46.5h1M54 46.5h1M38 47.5h1M63 47.5h1M54 48.5h1M43 49.5h1M43 56.5h1"/><path stroke="#131313" d="M17 22.5h2M16 23.5h1M19 23.5h1M232 23.5h1M12 24.5h1M15 24.5h2M19 24.5h1M180 24.5h1M232 24.5h1M17 25.5h2M145 25.5h2M157 25.5h2M205 25.5h1M230 25.5h1M33 26.5h1M166 26.5h1M188 26.5h2M175 27.5h1M8 28.5h1M26 28.5h1M126 28.5h1M25 29.5h1M87 29.5h1M38 30.5h1M207 30.5h1M57 31.5h1M59 31.5h1M75 31.5h1M161 31.5h1M209 31.5h1M2 32.5h1M147 32.5h1M53 33.5h1M31 34.5h1M42 34.5h1M49 35.5h1M30 36.5h1M45 39.5h1M49 39.5h1M10 43.5h1M36 43.5h1M38 43.5h1M10 44.5h1M37 44.5h1M39 44.5h2M37 45.5h1M43 45.5h2M53 46.5h1M45 47.5h1"/><path stroke="#141414" d="M37 20.5h1M40 20.5h1M37 23.5h1M42 24.5h1M30 25.5h2M190 25.5h1M194 25.5h1M221 25.5h1M73 26.5h1M217 26.5h1M128 27.5h1M136 27.5h1M30 28.5h2M56 28.5h1M59 28.5h1M69 28.5h1M55 31.5h1M66 32.5h1M93 32.5h1M151 32.5h1M13 33.5h1M44 33.5h1M61 33.5h1M69 33.5h1M141 33.5h1M69 34.5h1M31 35.5h1M48 35.5h1M69 36.5h1M43 37.5h1M16 38.5h1M43 38.5h1M44 39.5h1M13 40.5h1M60 40.5h2M39 42.5h1M63 42.5h1M48 43.5h1M30 44.5h1M43 44.5h1M48 44.5h1M50 44.5h1M50 45.5h1M46 46.5h1M64 47.5h1M36 49.5h1"/><path stroke="#151515" d="M2 18.5h1M5 18.5h1M20 20.5h1M19 21.5h1M21 21.5h1M19 22.5h1M21 22.5h1M20 23.5h1M180 23.5h1M186 24.5h1M191 24.5h1M235 24.5h1M187 25.5h1M222 25.5h1M2 26.5h1M18 26.5h1M164 26.5h1M4 27.5h1M32 27.5h1M27 29.5h1M32 29.5h1M49 29.5h1M221 29.5h1M233 29.5h1M186 30.5h1M208 30.5h1M148 31.5h1M53 32.5h1M65 32.5h1M133 32.5h1M135 32.5h1M48 33.5h1M93 33.5h1M32 36.5h1M6 37.5h2M19 37.5h1M23 37.5h1M30 38.5h1M65 38.5h1M9 40.5h1M21 40.5h1M53 41.5h1M43 42.5h1M46 42.5h2M64 42.5h1M43 43.5h1M53 43.5h1M53 44.5h1M46 45.5h2M37 46.5h1M42 55.5h1M56 60.5h2M57 61.5h1M56 62.5h1"/><path stroke="#161616" d="M185 24.5h1M236 24.5h1M23 25.5h1M25 25.5h1M208 25.5h1M226 25.5h1M44 26.5h2M17 27.5h1M177 27.5h1M236 29.5h1M44 30.5h2M88 30.5h1M147 30.5h1M156 30.5h1M200 30.5h1M68 32.5h1M138 32.5h1M142 32.5h1M12 33.5h1M25 33.5h1M27 33.5h1M34 33.5h1M3 34.5h1M6 34.5h1M62 34.5h1M96 36.5h1M94 37.5h1M11 38.5h1M14 39.5h1M22 40.5h1M44 40.5h1M57 43.5h1M62 43.5h1M51 44.5h1M62 44.5h1M53 47.5h1M37 48.5h1M44 48.5h1M56 63.5h1"/><path stroke="#171717" d="M145 23.5h1M179 23.5h1M153 25.5h1M219 25.5h1M40 26.5h1M207 26.5h2M66 27.5h1M128 28.5h1M172 28.5h1M13 29.5h1M63 29.5h1M160 30.5h1M46 31.5h1M51 33.5h1M51 34.5h1M58 35.5h1M37 36.5h2M47 36.5h1M21 37.5h2M58 38.5h1M19 39.5h1M37 39.5h1M30 40.5h1M39 43.5h1M38 46.5h1"/><path stroke="#181818" d="M179 24.5h1M4 25.5h1M52 26.5h2M13 27.5h1M27 28.5h1M46 28.5h1M57 29.5h1M67 30.5h1M73 31.5h1M45 32.5h1M30 33.5h1M95 35.5h1M17 37.5h1M67 37.5h2M39 38.5h1M59 38.5h1M62 38.5h1M13 39.5h1M44 41.5h1M10 42.5h1M44 42.5h1M44 43.5h1M48 45.5h1M53 45.5h1M63 48.5h1M44 54.5h1"/><path stroke="#191919" d="M5 24.5h1M205 26.5h1M34 27.5h1M14 28.5h1M32 28.5h1M235 29.5h1M90 30.5h1M184 30.5h1M67 31.5h1M147 31.5h1M152 31.5h1M2 33.5h1M24 34.5h1M11 35.5h1M18 35.5h1M26 35.5h1M9 37.5h1M65 37.5h1M36 39.5h1M44 44.5h1M45 45.5h1M64 46.5h1"/><path stroke="#1a1a1a" d="M2 20.5h1M2 23.5h1M21 26.5h1M23 26.5h1M192 26.5h1M2 28.5h1M63 28.5h1M87 28.5h1M12 29.5h1M200 29.5h1M13 31.5h2M19 31.5h1M38 31.5h1M56 31.5h1M143 31.5h1M137 33.5h1M25 34.5h1M17 35.5h1M30 35.5h1M59 35.5h1M46 36.5h1M59 36.5h1M62 36.5h1M57 38.5h1M54 39.5h1M38 48.5h1M36 50.5h1M57 59.5h1M57 62.5h1"/><path stroke="#1b1b1b" d="M178 23.5h1M73 24.5h1M145 24.5h1M220 25.5h1M33 27.5h1M29 28.5h1M33 29.5h1M36 29.5h1M50 30.5h2M39 31.5h1M65 33.5h1M16 37.5h1M63 39.5h1M65 39.5h1M45 40.5h1M53 40.5h1M63 41.5h1M65 41.5h1M53 42.5h1M28 43.5h1M50 43.5h1M37 49.5h2M44 51.5h1M37 52.5h2"/><path stroke="#1c1c1c" d="M177 24.5h1M3 25.5h1M146 26.5h1M20 27.5h1M3 28.5h1M58 28.5h1M40 29.5h1M42 29.5h1M57 30.5h1M59 30.5h1M75 30.5h1M40 31.5h1M42 31.5h1M44 32.5h1M18 33.5h1M20 38.5h1M66 38.5h1M21 39.5h1M54 41.5h1M51 43.5h1M56 43.5h1M44 46.5h1"/><path stroke="#1d1d1d" d="M12 25.5h1M19 26.5h1M212 26.5h1M26 27.5h1M5 28.5h1M70 28.5h1M59 29.5h1M215 30.5h1M26 31.5h1M52 31.5h1M151 31.5h1M7 34.5h1M9 34.5h1M62 35.5h1M66 35.5h1M69 35.5h1M7 36.5h1M9 36.5h1M12 37.5h1M45 37.5h1M28 39.5h1M33 39.5h1M38 40.5h1M49 40.5h1M51 40.5h1M49 42.5h1M51 42.5h1M33 43.5h1M43 47.5h1M37 54.5h1"/><path stroke="#1e1e1e" d="M211 24.5h1M9 25.5h1M43 25.5h1M73 25.5h1M186 25.5h1M229 25.5h1M4 26.5h1M157 26.5h1M159 26.5h1M16 27.5h1M140 27.5h1M41 28.5h1M43 28.5h1M74 29.5h1M74 30.5h1M209 30.5h1M3 33.5h1M16 34.5h1M4 35.5h2M96 35.5h1M11 36.5h1M29 37.5h1M22 39.5h1M40 42.5h1M45 46.5h1M54 47.5h1M43 54.5h1"/><path stroke="#1f1f1f" d="M24 24.5h1M228 24.5h1M10 25.5h1M16 26.5h1M24 26.5h1M85 26.5h1M187 26.5h1M216 26.5h1M7 27.5h1M24 27.5h1M57 28.5h1M68 28.5h1M53 29.5h1M68 29.5h2M75 29.5h1M153 30.5h1M196 30.5h1M125 31.5h1M3 32.5h2M8 32.5h1M8 33.5h1M49 33.5h1M63 35.5h1M8 37.5h1M20 37.5h1M37 40.5h1M45 41.5h1M37 42.5h1M63 49.5h1"/><path stroke="#202020" d="M6 24.5h1M212 25.5h1M33 28.5h1M31 29.5h1M237 29.5h1M151 30.5h1M68 31.5h1M70 31.5h1M19 33.5h1M29 33.5h1M66 33.5h1M136 33.5h1M47 34.5h1M51 35.5h2M45 38.5h1M56 39.5h1M54 40.5h1M43 46.5h1M43 52.5h1M45 52.5h1M43 53.5h1M45 53.5h1"/><path stroke="#212121" d="M13 23.5h2M13 25.5h2M39 25.5h1M3 27.5h1M15 27.5h1M20 28.5h1M24 28.5h1M2 29.5h1M25 30.5h1M161 30.5h1M128 31.5h1M142 31.5h1M19 32.5h1M65 34.5h2M64 35.5h1M94 36.5h1M14 38.5h1M19 38.5h1M30 39.5h1M52 44.5h1M64 45.5h1M57 57.5h1M57 58.5h1M57 63.5h1"/><path stroke="#222222" d="M228 25.5h1M15 26.5h1M13 30.5h1M20 30.5h2M57 32.5h1M23 33.5h1M28 33.5h1M50 35.5h1M57 35.5h1M16 36.5h2M13 38.5h1M29 38.5h1M38 39.5h1M50 39.5h1M37 43.5h1"/><path stroke="#232323" d="M185 25.5h1M12 26.5h1M64 28.5h1M20 29.5h1M52 29.5h1M196 29.5h1M73 30.5h1M66 31.5h1M54 32.5h1M30 34.5h1M60 34.5h2M39 40.5h1M54 42.5h1M40 43.5h1M56 61.5h1"/><path stroke="#242424" d="M178 24.5h1M220 26.5h1M27 27.5h1M17 28.5h1M66 28.5h1M18 29.5h1M67 29.5h1M195 30.5h1M17 31.5h1M58 31.5h1M9 32.5h1M52 32.5h1M137 32.5h1M17 33.5h1M20 33.5h1M32 34.5h1M28 38.5h1M63 43.5h1M63 44.5h1M44 49.5h1M44 50.5h1"/><path stroke="#252525" d="M222 26.5h1M9 27.5h1M12 27.5h1M9 28.5h1M12 28.5h1M7 29.5h1M14 29.5h1M30 29.5h1M14 30.5h1M18 34.5h1M46 34.5h1M63 34.5h1M63 40.5h1M65 40.5h1M43 48.5h1"/><path stroke="#262626" d="M13 26.5h1M185 26.5h1M211 26.5h1M4 28.5h1M12 30.5h1M67 32.5h1M9 33.5h1M24 35.5h1M65 36.5h2M37 53.5h1"/><path stroke="#272727" d="M20 21.5h1M20 22.5h1M22 26.5h1M191 26.5h1M40 30.5h1M42 30.5h1M61 30.5h1M152 30.5h1M154 30.5h1M69 31.5h1M48 32.5h1M50 32.5h1M32 35.5h1M44 37.5h1M44 38.5h1M43 55.5h1"/><path stroke="#282828" d="M234 24.5h1M10 26.5h2M153 26.5h1M11 29.5h1M69 30.5h1M7 33.5h1M26 33.5h1M23 34.5h1M64 34.5h1M47 35.5h1M24 41.5h2"/><path stroke="#292929" d="M3 17.5h2M3 19.5h2M26 29.5h1M28 29.5h2M58 29.5h1M53 30.5h1M68 30.5h1M28 31.5h2M25 36.5h1M11 37.5h1M39 39.5h1M55 39.5h1M52 43.5h1"/><path stroke="#2a2a2a" d="M37 21.5h1M40 21.5h1M37 22.5h1M40 22.5h1M191 25.5h1M3 26.5h1M30 26.5h2M158 26.5h1M30 27.5h2M6 29.5h1M8 29.5h1M10 29.5h1M54 30.5h1M10 33.5h1M27 34.5h1M37 37.5h2M37 38.5h2M27 40.5h1M29 40.5h1M56 40.5h2M49 41.5h1M51 41.5h1M27 42.5h1M29 42.5h1M56 42.5h2M46 43.5h2M46 44.5h2"/><path stroke="#2b2b2b" d="M1 21.5h1M3 21.5h1M1 22.5h1M3 22.5h1M24 25.5h1M67 28.5h1M41 29.5h1M148 30.5h1M41 31.5h1M53 31.5h1M68 33.5h1M16 35.5h1M58 36.5h1M14 37.5h1M58 37.5h1M64 39.5h1M32 40.5h1M34 40.5h1M64 41.5h1M32 42.5h1M34 42.5h1"/><path stroke="#2c2c2c" d="M211 25.5h1M9 26.5h1M186 26.5h1M24 33.5h1M52 39.5h1"/><path stroke="#2d2d2d" d="M163 26.5h1M48 28.5h1M52 30.5h1M25 32.5h1M141 32.5h1M54 35.5h1M57 36.5h1M24 37.5h1M27 39.5h1"/><path stroke="#2e2e2e" d="M13 24.5h2M42 25.5h1M42 28.5h1M3 29.5h1M5 29.5h1M33 30.5h1M3 31.5h1M30 31.5h1M48 31.5h1M50 31.5h1M30 32.5h1M139 32.5h1M21 33.5h1M33 33.5h1M46 35.5h1M57 37.5h1"/><path stroke="#2f2f2f" d="M17 23.5h2M17 24.5h2M8 34.5h1M7 35.5h1M9 35.5h1M53 35.5h1M8 36.5h1M23 36.5h1M53 39.5h1"/><path stroke="#303030" d="M7 25.5h1M52 27.5h2M52 28.5h2M21 29.5h1M62 30.5h2M12 31.5h1M27 31.5h1M54 31.5h1M12 32.5h1M62 33.5h1M17 34.5h1M26 34.5h1M13 37.5h1M66 37.5h1M51 39.5h1M37 41.5h1"/><path stroke="#313131" d="M5 27.5h1M8 30.5h1M10 30.5h1M22 35.5h1M23 38.5h1M23 40.5h1M26 40.5h1"/><path stroke="#323232" d="M19 29.5h1M22 31.5h1M64 31.5h1M61 32.5h1M64 32.5h1M63 33.5h1M37 50.5h2M37 51.5h2"/><path stroke="#333333" d="M38 20.5h2M38 23.5h2M39 24.5h1M34 28.5h2M34 30.5h2M58 30.5h1M8 31.5h1M61 31.5h1M22 32.5h1M136 32.5h1M15 34.5h1M15 36.5h1"/><path stroke="#343434" d="M9 31.5h1M34 31.5h1M34 32.5h1"/><path stroke="#353535" d="M8 25.5h1M8 27.5h1M18 27.5h1M11 30.5h1M25 31.5h1M11 33.5h1M65 35.5h1M22 36.5h1M35 40.5h1M50 40.5h1M35 42.5h1M50 42.5h1"/><path stroke="#363636" d="M49 30.5h1"/><path stroke="#373737" d="M44 27.5h2M44 29.5h2M27 30.5h1"/><path stroke="#383838" d="M41 26.5h1M43 26.5h1M41 27.5h1M43 27.5h1M137 27.5h1M22 34.5h1M29 39.5h1M27 41.5h1M29 41.5h1"/><path stroke="#393939" d="M26 30.5h1M12 34.5h1M14 34.5h1M60 37.5h2M60 39.5h2M44 52.5h1M44 53.5h1"/><path stroke="#3a3a3a" d="M28 30.5h2M51 31.5h1M27 35.5h1M56 41.5h2"/><path stroke="#3b3b3b" d="M15 28.5h1M46 29.5h1M30 30.5h1M46 30.5h1M15 31.5h1"/><path stroke="#3c3c3c" d="M7 26.5h1M41 30.5h1M64 33.5h1M67 33.5h1M28 37.5h1M64 40.5h1"/><path stroke="#3d3d3d" d="M24 29.5h1M22 30.5h1M32 41.5h1M34 41.5h1"/><path stroke="#3e3e3e" d="M41 23.5h1M41 25.5h1M6 27.5h1M65 28.5h1M65 31.5h1M51 32.5h1M54 34.5h1M23 35.5h1"/><path stroke="#3f3f3f" d="M3 18.5h2M47 28.5h1M20 31.5h2M47 31.5h1M20 32.5h2M19 34.5h1M21 34.5h1M19 36.5h1M21 36.5h1"/><path stroke="#404040" d="M18 28.5h1M28 40.5h1M28 42.5h1"/><path stroke="#414141" d="M55 32.5h1M57 33.5h1M57 34.5h1M55 35.5h1M49 36.5h1M49 38.5h1"/><path stroke="#424242" d="M67 34.5h2M67 36.5h2"/><path stroke="#434343" d="M3 30.5h1M5 30.5h1M4 33.5h2M4 34.5h2"/><path stroke="#444444" d="M2 21.5h1M2 22.5h1M31 30.5h1M31 33.5h1M54 36.5h1M54 38.5h1"/><path stroke="#464646" d="M7 30.5h1M24 30.5h1M36 40.5h1M36 42.5h1"/><path stroke="#474747" d="M9 29.5h1M54 33.5h1M29 34.5h1M29 36.5h1M23 39.5h1"/><path stroke="#484848" d="M21 27.5h1M23 27.5h1M64 29.5h1M66 29.5h1M64 30.5h1M66 30.5h1M15 35.5h1"/><path stroke="#494949" d="M19 27.5h1M22 29.5h1"/><path stroke="#4a4a4a" d="M44 28.5h2M6 33.5h1"/><path stroke="#4b4b4b" d="M16 28.5h1M34 29.5h2M16 31.5h1M23 32.5h1"/><path stroke="#4c4c4c" d="M8 26.5h1M17 29.5h1M17 30.5h1M8 35.5h1M50 41.5h1"/><path stroke="#4d4d4d" d="M5 25.5h1M49 32.5h1"/><path stroke="#4e4e4e" d="M22 33.5h1"/><path stroke="#505050" d="M60 38.5h2"/><path stroke="#525252" d="M5 32.5h1M7 32.5h1M35 41.5h1"/><path stroke="#535353" d="M9 30.5h1"/><path stroke="#545454" d="M32 30.5h1M10 31.5h1M10 32.5h1M32 33.5h1M33 40.5h1M33 42.5h1"/><path stroke="#555555" d="M40 23.5h1M40 25.5h1M28 41.5h1"/><path stroke="#565656" d="M42 26.5h1M42 27.5h1"/><path stroke="#575757" d="M10 27.5h2M10 28.5h2"/><path stroke="#585858" d="M19 28.5h1M4 29.5h1M4 31.5h1M23 31.5h1"/><path stroke="#595959" d="M21 28.5h1M23 28.5h1M56 32.5h1M56 35.5h1"/><path stroke="#5a5a5a" d="M12 36.5h1M14 36.5h1"/><path stroke="#5b5b5b" d="M49 31.5h1M60 35.5h2M56 36.5h1M60 36.5h2M56 38.5h1"/><path stroke="#5c5c5c" d="M19 35.5h1M21 35.5h1M67 35.5h2M26 36.5h2M27 38.5h1"/><path stroke="#5e5e5e" d="M5 31.5h1M7 31.5h1M28 34.5h1M28 36.5h1M54 37.5h1"/><path stroke="#5f5f5f" d="M13 34.5h1"/><path stroke="#606060" d="M41 24.5h1M5 26.5h1M24 32.5h1M20 34.5h1M20 36.5h1"/><path stroke="#616161" d="M6 25.5h1M49 37.5h1"/><path stroke="#646464" d="M29 35.5h1"/><path stroke="#676767" d="M51 36.5h2M51 38.5h2"/><path stroke="#686868" d="M38 21.5h2M38 22.5h2"/><path stroke="#6b6b6b" d="M36 41.5h1"/><path stroke="#6f6f6f" d="M22 27.5h1M33 31.5h1M33 32.5h1"/><path stroke="#707070" d="M11 31.5h1M11 32.5h1"/><path stroke="#717171" d="M24 31.5h1M12 35.5h1M14 35.5h1M25 37.5h1M26 39.5h1"/><path stroke="#727272" d="M6 30.5h1M50 36.5h1M50 38.5h1"/><path stroke="#747474" d="M48 29.5h1M48 30.5h1M55 36.5h1M55 38.5h1"/><path stroke="#767676" d="M23 29.5h1M23 30.5h1"/><path stroke="#777777" d="M62 31.5h2M62 32.5h2M24 38.5h1M24 40.5h2M33 41.5h1"/><path stroke="#787878" d="M6 26.5h1"/><path stroke="#7b7b7b" d="M55 33.5h1M55 34.5h1M53 36.5h1M53 38.5h1"/><path stroke="#7c7c7c" d="M15 29.5h1M15 30.5h1"/><path stroke="#808080" d="M65 29.5h1M4 30.5h1M65 30.5h1M56 37.5h1"/><path stroke="#838383" d="M40 24.5h1M28 35.5h1"/><path stroke="#898989" d="M22 28.5h1M31 31.5h1M31 32.5h1"/><path stroke="#8c8c8c" d="M20 35.5h1"/><path stroke="#949494" d="M13 36.5h1"/><path stroke="#979797" d="M26 37.5h2"/><path stroke="#989898" d="M6 32.5h1M51 37.5h2"/><path stroke="#9e9e9e" d="M16 29.5h1M16 30.5h1"/><path stroke="#9f9f9f" d="M25 38.5h2"/><path stroke="#a3a3a3" d="M47 29.5h1M47 30.5h1"/><path stroke="#a5a5a5" d="M55 37.5h1"/><path stroke="#aaaaaa" d="M32 31.5h1M32 32.5h1M56 33.5h1M56 34.5h1M50 37.5h1M53 37.5h1"/><path stroke="#ababab" d="M24 39.5h2"/><path stroke="#afafaf" d="M6 31.5h1"/><path stroke="#bababa" d="M13 35.5h1"/></g><path d="M329.9 143.5L333.9 142.4L338.9 140.9L342.7 140.0L346.4 138.6L349.5 137.2L352.6 136.4L357.0 136.4L361.9 136.5L365.0 136.5L366.4 135.7L368.0 133.2L372.8 128.9L378.6 131.8L381.0 134.8L383.2 138.1L385.2 141.7L387.1 145.3L389.9 149.4L391.8 151.5L390.1 151.2L390.9 150.5L394.2 148.4L400.6 148.0L402.1 147.7L405.0 145.2L407.8 142.8L412.5 140.4L417.0 140.2L419.9 140.1L422.9 140.3L430.0 140.2L445.0 140.2L450.0 139.9L456.0 139.4L458.0 139.1L462.0 138.6L467.0 138.0L470.9 137.6L484.5 137.3L488.4 136.2L494.2 134.8L504.7 134.1L507.9 134.6L510.8 135.0L514.9 135.1L520.0 135.1L535.0 135.2L537.9 135.2L540.7 135.0L543.6 134.4L545.0 134.0L548.5 131.7L554.9 131.3L562.0 131.2L568.7 131.3L573.5 133.5L575.0 135.2L575.5 135.0L576.8 135.1L577.5 135.2L579.7 135.4L583.3 134.8L587.7 134.6L592.0 134.8L596.0 135.0L602.0 135.0L612.0 135.1L617.0 135.1L620.0 134.6L625.4 134.5L628.0 135.2L630.6 134.7L639.9 134.4L647.9 134.1L651.7 134.0L659.6 133.0L667.7 132.2L675.9 131.7L682.0 131.6L682.0 145.2L676.1 145.1L668.3 145.1L660.4 145.2L652.2 145.3L648.1 145.2L640.1 145.3L631.3 145.4L628.0 146.2L624.6 145.7L620.0 145.5L617.0 145.1L612.0 145.1L602.0 145.2L596.0 145.2L592.0 145.4L588.3 145.7L584.7 146.3L580.3 146.9L576.5 146.7L574.3 146.4L571.6 145.4L568.3 143.4L566.8 141.1L567.4 141.1L562.0 141.1L555.1 141.1L551.4 141.1L550.8 142.6L546.3 145.2L541.3 145.2L538.1 145.2L535.0 145.2L520.0 145.3L515.1 145.4L511.1 145.7L508.1 146.3L505.3 146.8L495.8 147.4L491.6 148.5L485.5 150.0L471.1 150.2L467.0 149.8L462.0 149.2L458.0 148.7L456.0 148.4L450.0 148.0L445.0 147.7L430.0 147.7L423.1 147.8L420.1 148.1L417.0 148.0L414.4 147.9L412.1 149.1L409.8 151.0L405.8 154.2L401.4 155.4L395.7 155.4L395.0 156.4L391.9 158.2L387.3 157.1L384.2 153.7L381.0 149.0L378.9 145.2L377.0 141.8L375.2 139.1L373.5 137.0L374.2 136.1L373.8 137.7L371.4 141.1L366.9 143.7L362.1 144.0L357.0 144.1L353.4 144.1L352.4 144.4L349.5 145.9L345.2 147.6L341.0 148.8L336.1 150.3L332.1 151.4Z" fill="#191919"/><path d="M330.1 144.4L334.1 143.2L339.2 141.9L343.0 140.9L346.8 139.5L349.8 138.1L352.7 137.3L357.0 137.3L361.9 137.4L365.2 137.3L367.0 136.3L368.7 133.7L372.9 129.7L378.0 132.4L380.3 135.3L382.5 138.5L384.5 142.1L386.5 145.7L389.3 149.8L391.3 152.1L390.3 152.0L391.3 151.1L394.4 149.2L400.7 148.8L402.5 148.4L405.5 145.8L408.3 143.4L412.7 141.1L417.0 141.0L419.9 140.9L422.9 140.9L430.0 140.8L445.0 140.8L450.0 140.8L456.0 140.8L458.0 140.5L462.0 140.0L467.0 139.4L470.9 139.0L484.6 138.8L488.7 137.7L494.4 136.2L504.8 135.6L507.9 136.1L510.9 136.5L515.0 136.6L520.0 136.7L535.0 136.8L537.9 136.8L540.8 136.6L544.0 135.9L545.9 135.4L549.0 133.2L554.9 132.9L562.0 132.9L568.5 132.9L572.4 134.8L573.9 136.5L574.9 136.6L576.5 136.8L577.4 136.9L579.8 137.1L583.5 136.5L587.8 136.3L592.0 136.6L596.0 136.8L602.0 136.8L612.0 136.9L617.0 136.9L620.0 136.5L625.3 136.3L628.0 137.0L630.7 136.6L639.9 136.3L647.9 136.0L651.8 135.9L659.7 135.0L667.8 134.1L675.9 133.7L682.0 133.6L682.0 144.0L676.1 143.9L668.2 143.9L660.3 144.0L652.2 144.1L648.1 144.0L640.1 144.1L631.3 144.2L628.0 145.0L624.7 144.5L620.0 144.3L617.0 143.9L612.0 143.9L602.0 144.0L596.0 144.0L592.0 144.2L588.2 144.5L584.5 145.1L580.2 145.7L576.6 145.5L574.5 145.2L572.1 144.2L569.1 142.5L567.6 140.2L567.5 139.9L562.0 139.9L555.1 139.9L551.0 140.0L550.1 141.6L546.0 144.1L541.2 144.0L538.1 144.0L535.0 144.0L520.0 144.1L515.0 144.2L511.1 144.5L508.1 145.1L505.2 145.6L495.6 146.2L491.3 147.3L485.4 148.8L471.1 149.0L467.0 148.6L462.0 148.0L458.0 147.5L456.0 147.2L450.0 147.2L445.0 147.2L430.0 147.2L423.1 147.3L420.1 147.5L417.0 147.4L414.3 147.3L411.7 148.6L409.5 150.6L405.5 153.6L401.3 154.8L395.6 154.8L394.7 155.9L391.7 157.6L387.7 156.7L384.7 153.4L381.5 148.7L379.5 144.9L377.5 141.5L375.7 138.7L374.0 136.6L374.1 135.5L373.3 137.3L371.0 140.7L366.8 143.1L362.1 143.4L357.0 143.5L353.3 143.5L352.2 143.9L349.2 145.3L345.0 147.1L340.8 148.1L335.9 149.6L331.9 150.6Z" fill="url(#gb)"/></g></g></g>
<g clip-path="url(#c2)"><path d="M37.50 566.0 37.63 560.8 37.76 565.8 37.89 561.2 38.02 566.5 38.15 566.9 38.28 566.2 38.41 565.8 38.54 566.6 38.67 561.2 38.80 564.4 38.93 564.9 39.06 568.7 39.19 562.5 39.32 565.7 39.45 565.9 39.58 565.2 39.71 562.2 39.84 562.9 39.97 560.6 40.10 565.8 40.23 563.7 40.36 567.0 40.49 564.6 40.62 558.9 40.75 562.6 40.88 567.2 41.01 565.4 41.14 558.9 41.27 564.3 41.40 561.2 41.53 559.5 41.66 560.4 41.79 561.8 41.92 567.5 42.05 565.6 42.18 565.4 42.31 564.0 42.44 561.6 42.57 568.2 42.70 567.4 42.83 566.0 42.96 565.1 43.09 568.3 43.22 560.6 43.35 567.5 43.48 563.2 43.61 560.5 43.74 562.9 43.87 563.9 44 562.2 44.13 561.6 44.26 562.5 44.39 568.7 44.52 562.9 44.65 566.2 44.78 565.6 44.91 565.8 45.04 566.6 45.17 562.1 45.30 566.4 45.43 566.4 45.56 566.8 45.69 564.6 45.82 567.1 45.95 568.2 46.08 565.0 46.21 567.5 46.34 568.2 46.47 563.4 46.60 564.5 46.73 564.1 46.86 567.5 46.99 567.6 47.12 564.3 47.25 560.9 47.38 566.8 47.51 562.7 47.64 569.4 47.77 568.6 47.90 567.5 48.03 569.1 48.16 565.4 48.29 565.5 48.42 562.8 48.55 568.7 48.68 566.5 48.81 560.7 48.94 566.5 49.07 566.2 49.20 559.7 49.33 562.8 49.46 567.5 49.59 564.5 49.72 564.7 49.85 559.9 49.98 566.2 50.11 567.7 50.24 566.6 50.37 562.4 50.50 560.1 50.63 560.9 50.76 563.5 50.89 567.5 51.02 562.0 51.15 563.2 51.28 564.9 51.41 563.0 51.54 560.8 51.67 565.9 51.80 565.9 51.93 564.8 52.06 563.4 52.19 565.6 52.32 562.4 52.45 561.1 52.58 558.2 52.71 560.9 52.84 565.8 52.97 564.1 53.10 564.8 53.23 562.5 53.36 559.9 53.49 558.2 53.62 561.5 53.75 562.5 53.88 567.6 54.01 565.2 54.14 559.9 54.27 565.7 54.40 568.1 54.53 565.2 54.66 564.0 54.79 559.3 54.92 560.3 55.05 561.3 55.18 558.7 55.31 559.3 55.44 566.2 55.57 560.6 55.70 560.1 55.83 565.9 55.96 564.3 56.09 558.7 56.22 560.8 56.35 558.6 56.48 560.3 56.61 567.0 56.74 564.6 56.87 565.5 57 566.7 57.13 562.7 57.26 567.2 57.39 563.5 57.52 562.7 57.65 567.0 57.78 566.1 57.91 560.3 58.04 560.5 58.17 561.7 58.30 567.2 58.43 564.7 58.56 560.5 58.69 565.0 58.82 562.9 58.95 563.5 59.08 560.7 59.21 564.7 59.34 559.4 59.47 563.7 59.60 559.7 59.73 561.4 59.86 559.6 59.99 564.1 60.12 562.0 60.25 558.8 60.38 562.1 60.51 562.5 60.64 565.3 60.77 559.9 60.90 567.6 61.03 560.2 61.16 562.5 61.29 560.6 61.42 559.7 61.55 567.1 61.68 563.6 61.81 562.5 61.94 567.3 62.07 561.8 62.20 567.6 62.33 560.3 62.46 564.8 62.59 563.8 62.72 566.9 62.85 559.4 62.98 559.4 63.11 566.5 63.24 566.8 63.37 567.0 63.50 559.0 63.63 563.8 63.76 562.7 63.89 561.6 64.02 566.9 64.15 559.8 64.28 565.4 64.41 567.7 64.54 566.0 64.67 567.9 64.80 562.3 64.93 563.2 65.06 565.1 65.19 564.9 65.32 565.4 65.45 565.9 65.58 564.9 65.71 561.2 65.84 562.0 65.97 563.1 66.10 565.8 66.23 566.6 66.36 561.0 66.49 566.9 66.62 567.7 66.75 564.0 66.88 559.5 67.01 567.3 67.14 560.2 67.27 560.6 67.40 564.1 67.53 562.5 67.66 560.4 67.79 567.0 67.92 561.0 68.05 561.2 68.18 560.0 68.31 562.0 68.44 565.3 68.57 562.1 68.70 564.5 68.83 564.3 68.96 567.5 69.09 567.8 69.22 562.8 69.35 568.8 69.48 568.7 69.61 564.2 69.74 566.2 69.87 560.0 70 564.0 70.13 564.5 70.26 557.4 70.39 567.1 70.52 567.0 70.65 559.9 70.78 567.0 70.91 560.5 71.04 562.8 71.17 567.8 71.30 565.2 71.43 560.4 71.56 558.7 71.69 559.6 71.82 560.7 71.95 560.8 72.08 561.9 72.21 562.7 72.34 559.9 72.47 561.1 72.60 564.0 72.73 564.0 72.86 562.0 72.99 561.2 73.12 565.8 73.25 557.3 73.38 567.1 73.51 558.8 73.64 563.6 73.77 565.7 73.90 563.5 74.03 563.5 74.16 565.4 74.29 564.1 74.42 565.2 74.55 564.3 74.68 567.0 74.81 563.8 74.94 561.7 75.07 563.4 75.20 560.4 75.33 567.7 75.46 564.1 75.59 564.7 75.72 559.8 75.85 566.9 75.98 560.0 76.11 566.9 76.24 565.9 76.37 564.5 76.50 565.2 76.63 567.3 76.76 565.9 76.89 566.3 77.02 568.1 77.15 564.9 77.28 556.9 77.41 568.3 77.54 561.6 77.67 565.5 77.80 565.6 77.93 561.4 78.06 564.7 78.19 562.1 78.32 566.1 78.45 564.8 78.58 566.7 78.71 564.8 78.84 565.3 78.97 564.9 79.10 560.8 79.23 563.7 79.36 566.1 79.49 564.3 79.62 567.3 79.75 559.5 79.88 567.6 80.01 568.4 80.14 568.1 80.27 562.7 80.40 560.7 80.53 565.0 80.66 568.2 80.79 562.8 80.92 560.1 81.05 567.1 81.18 560.6 81.31 561.2 81.44 565.0 81.57 568.9 81.70 562.3 81.83 564.4 81.96 562.2 82.09 567.9 82.22 559.4 82.35 567.3 82.48 567.9 82.61 559.1 82.74 558.9 82.87 562.8 83 564.7 83.13 563.8 83.26 561.6 83.39 565.3 83.52 567.4 83.65 562.6 83.78 565.1 83.91 556.8 84.04 563.1 84.17 558.4 84.30 566.7 84.43 563.4 84.56 565.2 84.69 567.7 84.82 559.6 84.95 559.3 85.08 567.5 85.21 560.0 85.34 564.9 85.47 565.5 85.60 564.4 85.73 569.0 85.86 565.8 85.99 564.0 86.12 568.1 86.25 567.0 86.38 560.3 86.51 559.2 86.64 563.9 86.77 558.6 86.90 563.9 87.03 562.6 87.16 560.6 87.29 560.7 87.42 562.9 87.55 561.1 87.68 562.0 87.81 561.1 87.94 565.4 88.07 559.2 88.20 563.9 88.33 561.6 88.46 566.6 88.59 562.9 88.72 564.5 88.85 567.0 88.98 563.9 89.11 559.3 89.24 560.9 89.37 564.6 89.50 558.4 89.63 558.1 89.76 559.9 89.89 565.6 90.02 563.0 90.15 560.9 90.28 560.8 90.41 560.8 90.54 559.9 90.67 561.7 90.80 562.9 90.93 563.9 91.06 561.9 91.19 562.4 91.32 567.9 91.45 567.7 91.58 559.3 91.71 560.6 91.84 559.4 91.97 565.2 92.10 563.7 92.23 564.2 92.36 568.0 92.49 563.2 92.62 568.0 92.75 561.2 92.88 566.5 93.01 564.7 93.14 567.4 93.27 558.7 93.40 561.5 93.53 563.1 93.66 563.0 93.79 565.6 93.92 564.3 94.05 561.8 94.18 561.0 94.31 562.8 94.44 564.5 94.57 561.0 94.70 565.4 94.83 564.8 94.96 557.4 95.09 560.0 95.22 559.4 95.35 560.5 95.48 562.4 95.61 565.7 95.74 560.0 95.87 561.9 96 559.6 96.13 561.2 96.26 561.9 96.39 560.2 96.52 560.5 96.65 559.6 96.78 564.3 96.91 562.3 97.04 562.0 97.17 566.2 97.30 563.6 97.43 561.8 97.56 562.0 97.69 564.0 97.82 564.4 97.95 559.5 98.08 564.5 98.21 556.5 98.34 566.6 98.47 567.5 98.60 564.4 98.73 563.4 98.86 568.4 98.99 566.4 99.12 562.8 99.25 561.0 99.38 563.4 99.51 562.9 99.64 563.7 99.77 561.4 99.90 559.8 100.03 563.4 100.16 566.9 100.29 559.1 100.42 560.2 100.55 565.5 100.68 563.1 100.81 562.9 100.94 563.3 101.07 567.3 101.20 563.6 101.33 567.8 101.46 567.3 101.59 566.9 101.72 565.3 101.85 566.8 101.98 561.4 102.11 564.8 102.24 559.2 102.37 558.4 102.50 562.5 102.63 564.5 102.76 561.7 102.89 566.3 103.02 564.5 103.15 561.2 103.28 565.2 103.41 565.1 103.54 560.4 103.67 567.3 103.80 560.6 103.93 563.3 104.06 561.8 104.19 568.0 104.32 564.5 104.45 567.6 104.58 563.8 104.71 559.8 104.84 560.6 104.97 562.7 105.10 566.7 105.23 564.3 105.36 558.5 105.49 561.6 105.62 563.6 105.75 563.0 105.88 558.3 106.01 562.4 106.14 565.2 106.27 564.6 106.40 565.1 106.53 560.4 106.66 561.6 106.79 558.6 106.92 562.2 107.05 559.1 107.18 559.5 107.31 564.4 107.44 566.9 107.57 559.2 107.70 567.1 107.83 561.0 107.96 567.0 108.09 560.7 108.22 561.2 108.35 562.0 108.48 564.7 108.61 567.0 108.74 567.6 108.87 556.9 109 563.2 109.13 568.6 109.26 561.6 109.39 565.0 109.52 562.7 109.65 561.4 109.78 563.4 109.91 565.1 110.04 567.2 110.17 568.4 110.30 563.5 110.43 566.6 110.56 562.5 110.69 563.5 110.82 564.1 110.95 562.6 111.08 563.6 111.21 568.2 111.34 562.9 111.47 563.1 111.60 567.0 111.73 560.2 111.86 563.5 111.99 567.7 112.12 567.9 112.25 565.9 112.38 564.7 112.51 562.3 112.64 560.3 112.77 562.4 112.90 565.6 113.03 561.1 113.16 560.0 113.29 562.1 113.42 565.2 113.55 561.4 113.68 566.7 113.81 559.7 113.94 560.1 114.07 564.8 114.20 561.9 114.33 561.8 114.46 567.2 114.59 562.8 114.72 564.5 114.85 568.4 114.98 567.3 115.11 564.6 115.24 567.4 115.37 563.8 115.50 561.3 115.63 562.7 115.76 556.7 115.89 562.5 116.02 562.7 116.15 566.6 116.28 562.3 116.41 561.3 116.54 559.3 116.67 558.2 116.80 563.4 116.93 558.0 117.06 562.7 117.19 565.7 117.32 558.3 117.45 567.0 117.58 562.6 117.71 561.6 117.84 561.0 117.97 558.9 118.10 562.1 118.23 560.9 118.36 562.2 118.49 559.2 118.62 564.0 118.75 565.6 118.88 565.6 119.01 563.2 119.14 566.1 119.27 566.2 119.40 562.0 119.53 559.6 119.66 565.4 119.79 567.1 119.92 565.0 120.05 567.2 120.18 562.5 120.31 566.8 120.44 564.4 120.57 561.4 120.70 566.5 120.83 561.1 120.96 566.1 121.09 567.7 121.22 565.1 121.35 560.2 121.48 559.8 121.61 562.6 121.74 562.1 121.87 564.1 122 563.0 122.13 564.4 122.26 558.8 122.39 562.7 122.52 561.9 122.65 565.8 122.78 559.2 122.91 564.3 123.04 558.7 123.17 561.6 123.30 557.4 123.43 560.6 123.56 567.3 123.69 564.8 123.82 559.2 123.95 562.9 124.08 564.0 124.21 562.8 124.34 566.1 124.47 563.2 124.60 560.6 124.73 566.1 124.86 563.2 124.99 562.0 125.12 559.6 125.25 565.4 125.38 563.7 125.51 563.1 125.64 561.3 125.77 559.9 125.90 563.9 126.03 563.3 126.16 568.0 126.29 559.3 126.42 560.1 126.55 567.1 126.68 567.9 126.81 556.7 126.94 560.1 127.07 560.4 127.20 563.7 127.33 565.7 127.46 561.6 127.59 567.8 127.72 564.7 127.85 559.3 127.98 567.6 128.11 564.8 128.24 568.5 128.37 560.5 128.50 564.0 128.63 561.4 128.76 564.6 128.89 568.3 129.02 567.7 129.15 566.1 129.28 568.8 129.41 566.5 129.54 568.1 129.67 562.2 129.80 561.1 129.93 562.0 130.06 557.5 130.19 559.9 130.32 562.7 130.45 565.4 130.58 566.7 130.71 564.3 130.84 566.3 130.97 562.0 131.10 569.0 131.23 567.9 131.36 562.0 131.49 566.3 131.62 567.3 131.75 561.1 131.88 562.2 132.01 564.7 132.14 565.5 132.27 564.2 132.40 559.4 132.53 566.0 132.66 564.9 132.79 564.3 132.92 567.2 133.05 561.9 133.18 569.7 133.31 564.9 133.44 562.1 133.57 569.7 133.70 567.0 133.83 562.7 133.96 567.4 134.09 564.6 134.22 565.9 134.35 567.0 134.48 565.6 134.61 564.6 134.74 560.8 134.87 566.2 135 563.6 135.13 564.0 135.26 567.6 135.39 566.7 135.52 569.1 135.65 568.6 135.78 565.1 135.91 560.8 136.04 568.8 136.17 569.0 136.30 564.6 136.43 562.0 136.56 563.0 136.69 567.3 136.82 562.1 136.95 565.2 137.08 557.2 137.21 567.2 137.34 561.9 137.47 562.2 137.60 567.7 137.73 560.2 137.86 562.0 137.99 565.0 138.12 560.9 138.25 567.4 138.38 566.8 138.51 566.9 138.64 564.6 138.77 565.6 138.90 562.0 139.03 560.7 139.16 569.3 139.29 562.4 139.42 561.5 139.55 562.4 139.68 561.1 139.81 561.9 139.94 563.4 140.07 567.4 140.20 564.3 140.33 566.3 140.46 562.2 140.59 562.9 140.72 560.8 140.85 561.7 140.98 564.1 141.11 569.0 141.24 561.0 141.37 561.7 141.50 562.4 141.63 568.8 141.76 565.8 141.89 562.2 142.02 568.1 142.15 559.8 142.28 564.2 142.41 562.9 142.54 567.2 142.67 560.8 142.80 566.9 142.93 559.5 143.06 566.5 143.19 561.5 143.32 561.9 143.45 560.4 143.58 563.8 143.71 568.0 143.84 567.3 143.97 568.3 144.10 566.0 144.23 564.6 144.36 565.0 144.49 564.7 144.62 562.4 144.75 560.9 144.88 560.9 145.01 563.7 145.14 566.1 145.27 566.5 145.40 567.1 145.53 563.5 145.66 561.2 145.79 568.6 145.92 568.1 146.05 564.0 146.18 564.7 146.31 569.0 146.44 567.9 146.57 561.2 146.70 565.0 146.83 564.7 146.96 568.2 147.09 565.6 147.22 565.0 147.35 565.8 147.48 563.9 147.61 568.6 147.74 564.1 147.87 562.9 148 567.3 148.13 568.1 148.26 565.0 148.39 565.5 148.52 567.2 148.65 561.6 148.78 564.9 148.91 569.7 149.04 565.4 149.17 562.4 149.30 564.3 149.43 562.0 149.56 564.1 149.69 562.4 149.82 566.1 149.95 565.3 150.08 567.2 150.21 563.0 150.34 562.3 150.47 567.5 150.60 569.6 150.73 564.1 150.86 561.3 150.99 565.6 151.12 567.0 151.25 569.4 151.38 567.1 151.51 564.4 151.64 557.5 151.77 565.7 151.90 566.6 152.03 569.2 152.16 566.1 152.29 561.8 152.42 564.0 152.55 567.7 152.68 562.6 152.81 568.2 152.94 564.0 153.07 559.4 153.20 562.5 153.33 561.6 153.46 562.4 153.59 565.3 153.72 559.6 153.85 563.9 153.98 563.3 154.11 565.9 154.24 562.8 154.37 567.8 154.50 566.3 154.63 563.5 154.76 562.2 154.89 562.5 155.02 567.7 155.15 564.5 155.28 562.9 155.41 564.6 155.54 556.8 155.67 562.5 155.80 562.1 155.93 565.8 156.06 558.8 156.19 565.4 156.32 564.4 156.45 561.0 156.58 567.1 156.71 559.8 156.84 560.4 156.97 565.1 157.10 561.1 157.23 563.9 157.36 565.7 157.49 559.6 157.62 564.0 157.75 563.8 157.88 562.3 158.01 561.6 158.14 560.1 158.27 567.3 158.40 560.9 158.53 560.1 158.66 559.8 158.79 564.1 158.92 567.3 159.05 565.7 159.18 566.3 159.31 560.8 159.44 563.8 159.57 566.5 159.70 564.7 159.83 566.0 159.96 561.1 160.09 559.7 160.22 560.3 160.35 566.1 160.48 559.8 160.61 566.6 160.74 562.2 160.87 566.1 161 565.6 161.13 561.9 161.26 563.6 161.39 567.4 161.52 563.5 161.65 565.9 161.78 563.4 161.91 567.3 162.04 559.0 162.17 559.5 162.30 559.7 162.43 565.2 162.56 565.0 162.69 561.5 162.82 565.4 162.95 558.1 163.08 561.3 163.21 563.2 163.34 564.3 163.47 559.4 163.60 564.1 163.73 558.9 163.86 565.1 163.99 564.7 164.12 558.7 164.25 560.4 164.38 559.3 164.51 559.8 164.64 562.9 164.77 561.0 164.90 563.9 165.03 565.9 165.16 561.8 165.29 559.7 165.42 564.4 165.55 565.7 165.68 560.7 165.81 562.1 165.94 560.6 166.07 562.8 166.20 560.7 166.33 560.8 166.46 562.3 166.59 565.3 166.72 561.5 166.85 568.0 166.98 564.3 167.11 562.2 167.24 568.4 167.37 568.7 167.50 564.6 167.63 560.3 167.76 565.0 167.89 564.6 168.02 566.7 168.15 561.0 168.28 563.5 168.41 564.8 168.54 564.1 168.67 563.9 168.80 566.7 168.93 567.6 169.06 566.6 169.19 568.5 169.32 561.5 169.45 561.9 169.58 563.7 169.71 563.6 169.84 561.6 169.97 562.6 170.10 561.1 170.23 566.2 170.36 559.8 170.49 566.2 170.62 564.3 170.75 566.0 170.88 560.3 171.01 562.4 171.14 560.1 171.27 562.1 171.40 561.6 171.53 563.5 171.66 566.8 171.79 561.8 171.92 560.8 172.05 565.5 172.18 560.1 172.31 561.7 172.44 563.6 172.57 567.0 172.70 556.4 172.83 568.5 172.96 567.6 173.09 562.2 173.22 562.0 173.35 563.2 173.48 565.1 173.61 561.7 173.74 561.4 173.87 567.9 174 568.7 174.13 563.8 174.26 568.3 174.39 563.0 174.52 567.0 174.65 567.2 174.78 561.1 174.91 567.4 175.04 566.7 175.17 561.5 175.30 560.0 175.43 562.7 175.56 561.8 175.69 563.1 175.82 565.3 175.95 560.4 176.08 568.4 176.21 566.8 176.34 565.7 176.47 562.9 176.60 564.4 176.73 564.2 176.86 561.8 176.99 561.5 177.12 567.9 177.25 559.9 177.38 564.6 177.51 563.2 177.64 566.0 177.77 559.0 177.90 566.6 178.03 562.1 178.16 565.0 178.29 562.6 178.42 561.5 178.55 567.2 178.68 565.9 178.81 564.4 178.94 560.0 179.07 563.1 179.20 560.8 179.33 564.2 179.46 566.2 179.59 565.0 179.72 560.9 179.85 565.1 179.98 564.4 180.11 564.0 180.24 569.4 180.37 567.6 180.50 566.6 180.63 560.2 180.76 566.0 180.89 561.8 181.02 561.5 181.15 567.5 181.28 560.5 181.41 559.7 181.54 564.7 181.67 567.4 181.80 562.1 181.93 563.8 182.06 561.0 182.19 560.7 182.32 564.3 182.45 561.2 182.58 560.3 182.71 564.9 182.84 560.0 182.97 566.4 183.10 559.4 183.23 567.7 183.36 563.3 183.49 560.6 183.62 560.6 183.75 562.9 183.88 559.1 184.01 567.9 184.14 564.1 184.27 563.0 184.40 565.5 184.53 566.6 184.66 566.3 184.79 565.6 184.92 566.1 185.05 565.7 185.18 562.9 185.31 559.7 185.44 564.7 185.57 560.4 185.70 566.3 185.83 566.2 185.96 567.6 186.09 558.9 186.22 564.6 186.35 564.3 186.48 566.0 186.61 562.7 186.74 568.1 186.87 565.5 187 565.0 187.13 564.4 187.26 557.1 187.39 563.3 187.52 562.5 187.65 561.1 187.78 568.8 187.91 564.2 188.04 564.8 188.17 567.8 188.30 564.2 188.43 564.8 188.56 563.1 188.69 569.4 188.82 563.2 188.95 569.3 189.08 568.0 189.21 567.0 189.34 563.5 189.47 568.1 189.60 566.4 189.73 566.5 189.86 566.5 189.99 562.5 190.12 567.4 190.25 560.5 190.38 563.3 190.51 562.6 190.64 564.2 190.77 560.5 190.90 559.0 191.03 557.2 191.16 562.7 191.29 565.1 191.42 562.9 191.55 563.1 191.68 560.8 191.81 563.2 191.94 563.0 192.07 559.5 192.20 561.1 192.33 561.7 192.46 563.4 192.59 567.3 192.72 561.4 192.85 563.8 192.98 563.5 193.11 568.3 193.24 568.4 193.37 561.7 193.50 569.3 193.63 567.2 193.76 561.2 193.89 562.6 194.02 560.0 194.15 559.4 194.28 562.1 194.41 561.1 194.54 558.8 194.67 566.9 194.80 562.6 194.93 558.8 195.06 564.7 195.19 560.5 195.32 565.5 195.45 558.8 195.58 563.1 195.71 562.2 195.84 562.6 195.97 567.1 196.10 562.5 196.23 558.4 196.36 559.7 196.49 560.0 196.62 564.1 196.75 565.2 196.88 566.4 197.01 565.2 197.14 561.2 197.27 566.5 197.40 556.3 197.53 566.5 197.66 564.4 197.79 564.9 197.92 565.9 198.05 559.1 198.18 559.4 198.31 564.6 198.44 562.4 198.57 566.8 198.70 560.9 198.83 560.7 198.96 567.3 199.09 560.2 199.22 565.8 199.35 566.1 199.48 562.4 199.61 566.6 199.74 559.3 199.87 568.2 200 568.7 200.13 567.9 200.26 562.3 200.39 566.8 200.52 567.9 200.65 568.5 200.78 559.8 200.91 561.7 201.04 567.1 201.17 568.0 201.30 560.1 201.43 563.6 201.56 564.2 201.69 558.8 201.82 563.0 201.95 559.7 202.08 567.6 202.21 562.4 202.34 561.5 202.47 561.0 202.60 565.8 202.73 567.2 202.86 564.1 202.99 559.8 203.12 563.9 203.25 566.1 203.38 560.0 203.51 561.0 203.64 559.8 203.77 566.6 203.90 562.4 204.03 563.8 204.16 565.4 204.29 559.5 204.42 566.3 204.55 566.5 204.68 559.3 204.81 563.4 204.94 566.5 205.07 566.4 205.20 562.5 205.33 565.3 205.46 562.0 205.59 564.5 205.72 566.8 205.85 564.2 205.98 561.3 206.11 566.7 206.24 558.9 206.37 566.8 206.50 561.1 206.63 559.3 206.76 561.3 206.89 564.8 207.02 559.2 207.15 563.8 207.28 561.8 207.41 559.6 207.54 560.7 207.67 561.4 207.80 562.6 207.93 560.6 208.06 563.8 208.19 566.2 208.32 559.0 208.45 562.8 208.58 563.2 208.71 558.1 208.84 557.9 208.97 564.4 209.10 565.4 209.23 564.8 209.36 557.7 209.49 563.0 209.62 562.1 209.75 559.2 209.88 565.4 210.01 567.0 210.14 562.9 210.27 563.8 210.40 568.5 210.53 564.2 210.66 566.1 210.79 564.6 210.92 560.5 211.05 564.2 211.18 563.1 211.31 561.7 211.44 564.3 211.57 561.7 211.70 564.7 211.83 563.9 211.96 559.5 212.09 559.6 212.22 561.7 212.35 563.7 212.48 564.3 212.61 567.2 212.74 561.5 212.87 568.6 213 567.8 213.13 568.7 213.26 567.5 213.39 567.0 213.52 563.2 213.65 563.3 213.78 565.5 213.91 567.1 214.04 565.4 214.17 560.5 214.30 562.4 214.43 565.4 214.56 563.0 214.69 565.3 214.82 564.4 214.95 565.8 215.08 568.1 215.21 564.3 215.34 562.2 215.47 564.4 215.60 556.9 215.73 567.5 215.86 560.3 215.99 563.5 216.12 564.1 216.25 567.3 216.38 564.3 216.51 563.2 216.64 563.1 216.77 568.0 216.90 562.3 217.03 565.4 217.16 568.2 217.29 561.5 217.42 564.3 217.55 566.9 217.68 567.6 217.81 562.1 217.94 560.9 218.07 563.6 218.20 564.7 218.33 559.8 218.46 564.6 218.59 560.5 218.72 565.2 218.85 564.2 218.98 563.0 219.11 566.9 219.24 567.9 219.37 564.9 219.50 568.1 219.63 564.4 219.76 559.9 219.89 561.8 220.02 567.0 220.15 567.3 220.28 562.7 220.41 559.8 220.54 563.1 220.67 561.3 220.80 560.2 220.93 568.1 221.06 559.9 221.19 563.1 221.32 564.2 221.45 563.2 221.58 565.3 221.71 562.8 221.84 567.7 221.97 568.3 222.10 568.2 222.23 562.9 222.36 561.2 222.49 565.3 222.62 560.6 222.75 561.6 222.88 564.3 223.01 562.6 223.14 564.3 223.27 563.1 223.40 568.4 223.53 564.1 223.66 566.7 223.79 564.9 223.92 564.9 224.05 564.5 224.18 563.2 224.32 562.2 224.46 568.9 224.62 563.5 224.77 562.3 224.94 561.4 225.11 566.6 225.29 569.1 225.48 563.1 225.68 562.1 225.88 560.5 226.10 566.3 226.32 566.4 226.55 565.0 226.80 569.3 227.05 563.1 227.32 567.2 227.60 553.6 227.89 568.5 228.20 558.8 228.52 550.8 228.85 566.1 229.20 562.1 229.56 527.7 229.94 546.0 230.34 564.6 230.74 565.2 231.14 565.1 231.54 558.8 231.94 564.0 232.34 538.1 232.74 541.6 233.14 531.8 233.54 545.0 233.94 565.1 234.34 567.0 234.74 558.6 235.14 561.3 235.54 546.3 235.94 525.9 236.34 562.3 236.74 534.1 237.14 534.1 237.54 537.3 237.94 556.8 238.34 548.3 238.74 553.8 239.14 557.7 239.54 562.3 239.94 547.9 240.34 518.9 240.74 542.8 241.14 565.1 241.54 562.4 241.94 556.1 242.34 549.4 242.74 565.1 243.14 547.8 243.54 543.7 243.94 523.8 244.34 548.6 244.74 567.4 245.14 550.7 245.54 563.8 245.94 557.5 246.34 559.8 246.74 559.5 247.14 558.5 247.54 561.8 247.94 554.7 248.34 538.5 248.74 561.7 249.14 546.4 249.54 561.8 249.94 560.6 250.34 525.1 250.74 559.4 251.14 532.5 251.54 527.2 251.94 535.6 252.34 529.6 252.74 529.0 253.14 537.1 253.54 528.5 253.94 520.0 254.34 527.6 254.74 485.9 255.14 549.2 255.54 524.7 255.94 550.4 256.34 540.3 256.74 527.4 257.14 529.7 257.54 553.6 257.94 556.7 258.34 490.5 258.74 550.5 259.14 560.4 259.54 525.1 259.94 557.2 260.34 521.0 260.74 535.8 261.14 564.4 261.54 557.3 261.94 546.7 262.34 489.8 262.74 512.9 263.14 542.4 263.54 512.3 263.94 546.0 264.34 544.5 264.74 565.4 265.14 539.9 265.54 555.9 265.94 559.2 266.34 525.5 266.74 506.9 267.14 554.6 267.54 527.0 267.94 557.0 268.34 536.8 268.74 551.0 269.14 504.4 269.54 561.3 269.94 514.0 270.34 556.1 270.74 535.6 271.14 537.8 271.54 496.5 271.94 542.3 272.34 507.3 272.74 565.7 273.14 536.7 273.54 558.7 273.94 567.9 274.34 559.0 274.74 558.5 275.14 541.9 275.54 557.2 275.94 561.2 276.34 538.2 276.74 563.1 277.14 545.7 277.54 560.6 277.94 558.0 278.34 535.2 278.74 558.6 279.14 547.5 279.54 562.5 279.94 536.7 280.34 563.6 280.74 532.7 281.14 532.2 281.54 535.4 281.94 543.1 282.34 538.3 282.74 490.4 283.14 555.2 283.54 537.5 283.94 544.3 284.34 526.0 284.74 560.5 285.14 541.2 285.54 549.4 285.94 539.6 286.34 544.4 286.74 542.8 287.14 562.2 287.54 547.3 287.94 550.1 288.34 554.8 288.74 526.6 289.14 555.6 289.54 556.2 289.94 542.6 290.34 543.9 290.74 532.5 291.14 493.2 291.54 560.5 291.94 529.1 292.34 566.4 292.74 559.9 293.14 565.9 293.54 528.0 293.94 561.6 294.34 524.9 294.74 519.1 295.14 519.0 295.54 548.7 295.94 534.1 296.34 547.0 296.74 559.8 297.14 554.9 297.54 542.0 297.94 554.3 298.34 548.6 298.74 536.7 299.14 556.9 299.54 549.1 299.94 556.0 300.34 486.5 300.74 556.1 301.14 546.9 301.54 552.6 301.94 558.3 302.34 519.0 302.74 555.8 303.14 531.2 303.54 557.6 303.94 557.6 304.34 558.4 304.74 485.6 305.14 510.9 305.54 534.1 305.94 506.5 306.34 542.0 306.74 555.2 307.14 529.1 307.54 555.8 307.94 549.4 308.34 529.9 308.74 552.7 309.14 513.1 309.54 515.1 309.94 513.1 310.34 557.8 310.74 535.4 311.14 557.9 311.54 550.1 311.94 519.6 312.34 519.6 312.74 509.6 313.14 533.2 313.54 546.0 313.94 551.0 314.34 543.2 314.74 530.6 315.14 492.1 315.54 522.3 315.93 532.1 316.33 532.1 316.71 558.2 317.09 526.0 317.47 545.9 317.85 543.4 318.22 507.0 318.59 502.9 318.95 512.2 319.31 556.2 319.67 541.4 320.02 511.2 320.37 546.2 320.72 542.3 321.06 551.8 321.40 549.2 321.74 549.7 322.07 511.7 322.40 568.2 322.73 548.6 323.05 530.3 323.37 529.6 323.68 549.2 324 566.9 324.31 549.9 324.61 566.8 324.92 564.6 325.22 540.4 325.52 545.1 325.82 551.5 326.12 557.2 326.42 523.9 326.72 565.2 327.02 558.6 327.32 552.2 327.62 543.1 327.92 508.8 328.22 558.6 328.52 543.3 328.82 511.4 329.12 481.6 329.42 504.8 329.72 508.9 330.02 540.9 330.32 535.3 330.62 525.0 330.92 507.5 331.22 558.2 331.52 559.0 331.82 511.5 332.12 543.8 332.42 555.4 332.72 524.8 333.02 563.3 333.32 562.5 333.62 558.6 333.92 534.3 334.22 541.8 334.52 534.3 334.82 553.9 335.12 561.5 335.42 556.1 335.72 526.9 336.02 520.5 336.32 540.6 336.62 508.0 336.92 556.1 337.22 543.6 337.52 507.3 337.82 504.9 338.12 532.4 338.42 530.8 338.72 554.7 339.02 561.9 339.32 558.9 339.62 543.0 339.92 528.2 340.22 533.6 340.52 525.2 340.82 511.6 341.12 544.3 341.42 567.0 341.72 545.3 342.02 518.1 342.32 498.1 342.62 535.4 342.92 563.0 343.22 519.4 343.52 453.5 343.82 533.9 344.12 505.6 344.42 548.2 344.72 511.5 345.02 536.3 345.32 438.1 345.62 557.3 345.92 542.8 346.22 551.3 346.52 527.2 346.82 559.5 347.12 556.1 347.42 544.4 347.72 555.7 348.02 492.0 348.32 526.1 348.62 502.0 348.92 536.5 349.22 516.5 349.52 501.9 349.82 556.9 350.12 542.8 350.42 453.2 350.72 530.4 351.02 560.8 351.32 501.9 351.62 502.9 351.92 540.6 352.22 522.8 352.52 542.8 352.82 520.8 353.12 565.4 353.42 563.4 353.72 548.0 354.02 535.6 354.32 441.7 354.62 507.7 354.92 556.9 355.22 525.1 355.52 514.6 355.82 563.1 356.12 541.2 356.42 494.1 356.72 528.3 357.02 526.5 357.32 524.3 357.62 519.7 357.92 519.4 358.22 518.7 358.52 496.8 358.82 536.9 359.12 513.8 359.42 409.7 359.72 511.6 360.02 511.8 360.32 551.9 360.62 492.2 360.92 509.2 361.22 442.3 361.52 413.0 361.82 540.9 362.12 537.1 362.42 534.5 362.72 551.6 363.02 496.3 363.32 538.9 363.62 497.2 363.92 552.8 364.22 520.4 364.52 481.5 364.82 479.6 365.12 444.4 365.42 516.7 365.72 502.2 366.02 472.2 366.32 531.3 366.62 515.0 366.92 473.5 367.22 477.9 367.52 556.6 367.82 502.3 368.12 473.2 368.42 528.8 368.72 495.1 369.02 532.7 369.32 533.5 369.62 534.9 369.92 490.3 370.22 377.9 370.52 513.7 370.82 474.0 371.12 505.5 371.42 433.1 371.72 499.7 372.02 482.1 372.32 485.1 372.62 532.5 372.92 518.8 373.22 528.5 373.52 493.5 373.82 470.9 374.12 503.9 374.42 514.0 374.72 523.8 375.02 523.5 375.32 485.3 375.62 516.6 375.92 487.6 376.22 528.0 376.52 466.4 376.82 524.1 377.12 503.0 377.42 469.0 377.72 503.2 378.02 473.5 378.32 507.4 378.62 512.4 378.92 482.5 379.22 475.2 379.52 512.5 379.82 473.0 380.12 498.6 380.42 462.8 380.72 514.7 381.02 476.0 381.32 472.9 381.62 511.6 381.92 476.7 382.22 506.9 382.52 486.3 382.82 464.2 383.12 465.3 383.42 486.9 383.72 457.1 384.02 486.0 384.32 509.8 384.62 475.1 384.92 477.4 385.22 469.3 385.52 502.1 385.82 471.6 386.12 417.6 386.42 507.7 386.72 502.8 387.02 490.3 387.32 458.7 387.62 507.1 387.92 486.5 388.22 485.3 388.52 487.5 388.82 504.5 389.12 414.9 389.42 507.3 389.72 495.7 390.02 458.0 390.32 455.9 390.62 506.2 390.92 471.0 391.22 456.6 391.52 475.5 391.82 477.8 392.12 472.7 392.42 503.1 392.72 454.4 393.02 479.3 393.32 498.9 393.62 462.1 393.92 459.2 394.22 493.5 394.52 475.9 394.82 471.4 395.12 453.5 395.42 469.2 395.72 462.4 396.02 470.7 396.32 472.2 396.62 401.5 396.92 446.9 397.22 468.9 397.52 460.8 397.82 457.2 398.12 452.1 398.42 479.9 398.72 477.8 399.02 455.3 399.32 433.7 399.62 464.6 399.92 434.7 400.22 477.1 400.52 445.9 400.82 451.0 401.12 461.7 401.42 477.9 401.72 475.2 402.02 462.0 402.32 438.7 402.62 441.8 402.92 434.3 403.22 475.3 403.52 430.9 403.82 477.8 404.12 444.6 404.42 452.0 404.72 446.4 405.02 456.5 405.32 454.2 405.62 458.7 405.92 462.7 406.22 444.1 406.52 434.6 406.82 389.4 407.12 456.7 407.42 449.7 407.72 455.9 408.02 423.7 408.32 446.3 408.62 452.6 408.92 449.7 409.22 430.3 409.52 462.3 409.82 428.1 410.12 436.0 410.42 448.1 410.72 420.3 411.02 387.7 411.32 456.9 411.62 426.7 411.92 418.8 412.22 461.4 412.52 424.3 412.82 456.3 413.12 440.7 413.42 422.6 413.72 452.1 414.02 454.0 414.32 416.0 414.62 457.3 414.92 407.0 415.22 444.6 415.52 419.2 415.82 440.8 416.12 435.6 416.42 440.0 416.72 431.4 417.02 438.3 417.32 439.5 417.62 377.1 417.92 429.1 418.22 439.9 418.52 437.4 418.82 413.4 419.12 415.0 419.42 420.5 419.72 424.0 420.02 413.0 420.32 429.9 420.62 423.0 420.92 416.0 421.22 443.1 421.52 383.4 421.82 433.9 422.12 453.8 422.42 411.3 422.72 420.1 423.02 438.3 423.32 438.2 423.62 441.3 423.92 403.0 424.22 398.0 424.52 423.3 424.82 420.5 425.12 411.9 425.42 381.2 425.72 397.0 426.02 434.2 426.32 423.3 426.62 443.1 426.92 436.9 427.22 424.7 427.52 410.8 427.82 449.8 428.12 403.1 428.42 402.0 428.72 382.6 429.02 407.4 429.32 441.6 429.62 409.2 429.92 427.0 430.22 447.8 430.52 447.1 430.82 404.0 431.12 407.5 431.42 411.9 431.72 420.4 432.02 381.0 432.32 364.3 432.62 402.3 432.92 389.2 433.22 431.7 433.52 456.4 433.82 391.4 434.12 425.2 434.42 404.6 434.72 401.9 435.02 407.1 435.32 365.5 435.62 432.0 435.92 429.4 436.22 434.3 436.52 422.3 436.82 407.8 437.12 419.2 437.42 398.5 437.72 417.6 438.02 420.8 438.32 386.7 438.62 409.1 438.92 412.3 439.22 392.6 439.52 360.7 439.82 398.4 440.12 386.2 440.42 420.5 440.71 409.0 441 417.3 441.28 397.7 441.56 369.6 441.84 394.3 442.11 406.9 442.37 419.5 442.64 422.0 442.89 358.6 443.15 387.7 443.40 418.2 443.64 410.3 443.88 393.5 444.12 395.3 444.36 382.8 444.59 409.6 444.81 410.5 445.04 383.0 445.26 383.7 445.48 401.0 445.70 400.8 445.92 350.4 446.14 394.6 446.36 414.7 446.58 384.8 446.80 409.4 447.02 411.5 447.24 402.6 447.46 410.0 447.68 382.1 447.90 393.7 448.12 406.5 448.34 405.9 448.56 383.4 448.78 402.5 449 381.7 449.22 402.2 449.44 393.9 449.66 388.0 449.88 384.9 450.10 346.6 450.32 400.8 450.54 387.9 450.76 384.5 450.98 393.2 451.20 384.9 451.42 383.3 451.64 375.0 451.86 390.1 452.08 389.0 452.30 397.3 452.52 379.5 452.74 400.6 452.96 351.3 453.18 383.9 453.40 379.2 453.62 382.9 453.84 392.4 454.06 397.2 454.28 382.9 454.50 383.6 454.72 390.3 454.94 357.9 455.16 393.9 455.38 383.1 455.60 396.6 455.82 385.3 456.04 391.3 456.26 395.7 456.48 377.1 456.70 377.1 456.92 356.6 457.14 377.3 457.36 379.6 457.58 379.4 457.80 397.2 458.02 383.2 458.24 393.8 458.46 395.5 458.68 379.0 458.90 391.8 459.12 385.1 459.34 380.7 459.56 383.4 459.78 388.2 460 389.0 460.22 387.4 460.44 353.1 460.66 377.4 460.88 394.8 461.10 384.0 461.32 377.5 461.54 393.2 461.76 376.1 461.98 391.6 462.20 376.5 462.42 390.6 462.64 387.6 462.86 394.0 463.08 383.2 463.30 390.2 463.52 386.3 463.74 389.0 463.96 382.8 464.18 349.6 464.40 386.4 464.62 381.2 464.84 384.1 465.06 385.7 465.28 377.6 465.50 383.2 465.72 386.6 465.94 385.0 466.16 396.3 466.38 392.6 466.60 389.1 466.82 383.2 467.04 390.7 467.26 380.7 467.48 343.8 467.70 394.7 467.92 387.0 468.14 393.8 468.36 378.5 468.58 394.6 468.80 422.0 469.02 394.8 469.24 394.1 469.46 387.1 469.68 387.1 469.90 383.4 470.12 392.4 470.34 386.8 470.56 379.6 470.78 387.4 471 378.9 471.22 351.5 471.44 387.0 471.66 378.5 471.88 386.8 472.10 389.3 472.32 377.2 472.54 376.5 472.76 380.8 472.98 387.8 473.20 377.3 473.42 391.4 473.64 387.2 473.86 381.3 474.08 383.5 474.30 356.7 474.52 390.8 474.74 378.3 474.96 385.8 475.18 387.6 475.40 376.8 475.62 385.3 475.84 382.9 476.06 384.1 476.28 388.0 476.50 385.4 476.72 377.9 476.94 380.6 477.16 375.2 477.38 390.7 477.60 389.4 477.82 381.6 478.04 391.6 478.26 382.5 478.48 352.9 478.70 390.6 478.92 389.2 479.14 390.0 479.36 381.6 479.58 385.2 479.80 390.9 480.02 382.5 480.24 388.2 480.46 386.0 480.68 379.6 480.90 375.7 481.12 378.7 481.34 355.5 481.56 376.6 481.78 389.2 482 383.8 482.22 388.3 482.44 391.1 482.66 377.3 482.88 381.1 483.10 392.7 483.32 382.0 483.54 387.8 483.76 389.8 483.98 388.5 484.20 385.2 484.42 381.3 484.64 394.3 484.86 379.6 485.08 380.2 485.30 388.2 485.52 354.4 485.74 387.2 485.96 391.9 486.18 384.7 486.40 394.0 486.62 378.4 486.84 387.1 487.06 382.5 487.28 389.5 487.50 380.0 487.72 387.6 487.94 380.2 488.16 382.8 488.38 383.4 488.60 409.0 488.82 352.8 489.04 386.4 489.26 387.1 489.48 392.2 489.70 384.7 489.92 391.2 490.14 385.2 490.36 388.8 490.58 392.2 490.80 377.7 491.02 378.7 491.24 378.2 491.46 379.3 491.68 390.8 491.90 388.4 492.12 389.0 492.34 380.6 492.56 392.9 492.78 350.7 493 378.7 493.22 386.7 493.44 377.8 493.66 376.9 493.88 381.2 494.10 388.7 494.32 388.2 494.54 387.0 494.76 380.9 494.98 381.0 495.20 379.6 495.42 377.0 495.64 355.7 495.86 386.8 496.08 388.7 496.30 390.1 496.52 378.2 496.74 388.7 496.96 376.1 497.18 386.5 497.40 385.2 497.62 378.9 497.84 376.5 498.06 376.8 498.28 386.6 498.50 379.0 498.72 390.3 498.94 382.8 499.16 392.0 499.38 346.8 499.60 389.2 499.82 387.2 500.04 375.9 500.26 385.3 500.48 419.7 500.70 384.8 500.92 389.2 501.14 377.2 501.36 375.3 501.58 385.6 501.80 385.1 502.02 375.5 502.24 380.2 502.46 375.5 502.68 351.1 502.90 383.0 503.12 380.6 503.34 376.9 503.56 380.7 503.78 377.3 504 376.6 504.22 382.0 504.44 376.1 504.66 389.3 504.88 388.7 505.10 384.7 505.32 378.1 505.54 380.3 505.76 384.1 505.98 382.5 506.20 383.4 506.42 377.4 506.64 389.4 506.86 349.0 507.08 388.3 507.30 382.5 507.52 382.5 507.74 380.3 507.96 389.2 508.18 379.3 508.40 381.0 508.62 388.7 508.84 382.6 509.06 384.6 509.28 377.7 509.50 391.3 509.72 379.1 509.94 355.5 510.16 390.1 510.38 384.8 510.60 380.0 510.82 381.8 511.04 380.2 511.26 387.1 511.48 384.3 511.70 388.0 511.92 380.7 512.14 381.1 512.36 378.4 512.58 388.4 512.80 388.7 513.02 382.5 513.24 394.6 513.46 386.5 513.68 354.7 513.90 387.4 514.12 387.8 514.34 382.9 514.56 393.0 514.78 380.5 515 379.7 515.22 382.9 515.44 393.1 515.66 388.3 515.88 393.3 516.10 390.2 516.32 387.0 516.54 384.8 516.76 381.2 516.98 381.9 517.20 344.6 517.42 381.4 517.64 381.3 517.86 393.8 518.08 388.0 518.30 378.9 518.52 387.7 518.74 393.6 518.96 394.2 519.18 380.5 519.40 388.6 519.62 388.4 519.84 380.0 520.06 379.8 520.28 386.4 520.50 353.9 520.72 391.7 520.94 378.9 521.16 379.6 521.38 379.7 521.60 378.5 521.82 385.5 522.04 377.2 522.26 386.0 522.48 381.8 522.70 388.3 522.92 391.9 523.14 389.9 523.36 393.0 523.58 384.7 523.80 379.0 524.02 377.9 524.24 377.3 524.46 384.0 524.68 343.6 524.90 391.5 525.12 386.1 525.34 377.9 525.56 381.2 525.78 387.7 526 382.1 526.22 384.0 526.44 379.1 526.66 384.4 526.88 387.5 527.10 379.5 527.32 386.4 527.54 347.4 527.76 393.0 527.98 381.0 528.20 386.0 528.42 386.0 528.64 379.1 528.86 390.6 529.08 386.7 529.30 384.9 529.52 388.2 529.74 393.1 529.96 379.7 530.18 388.2 530.40 389.4 530.62 387.2 530.84 380.1 531.06 393.4 531.28 390.0 531.50 347.8 531.72 384.5 531.94 391.3 532.16 389.0 532.38 391.7 532.60 392.6 532.82 387.4 533.04 392.8 533.26 385.5 533.48 381.1 533.70 380.1 533.92 379.0 534.14 391.7 534.36 391.6 534.58 381.6 534.80 386.2 535.02 387.1 535.24 351.6 535.46 385.1 535.68 385.4 535.90 376.5 536.12 377.2 536.34 389.3 536.56 383.2 536.78 391.2 537 389.7 537.22 386.8 537.44 382.6 537.66 389.0 537.88 378.4 538.10 387.4 538.32 383.5 538.54 413.0 538.76 378.1 538.98 343.0 539.20 381.5 539.42 378.8 539.64 386.9 539.86 383.0 540.08 378.9 540.30 383.2 540.52 379.5 540.74 383.4 540.96 377.5 541.18 391.8 541.40 392.1 541.62 386.5 541.84 379.4 542.06 392.3 542.28 346.2 542.50 391.3 542.72 377.8 542.94 377.1 543.16 391.8 543.38 380.6 543.60 388.8 543.82 390.0 544.04 390.3 544.26 379.6 544.48 381.6 544.70 374.1 544.92 377.2 545.14 384.1 545.36 387.1 545.58 377.3 545.80 343.2 546.02 390.0 546.24 383.5 546.46 380.3 546.68 383.4 546.90 377.5 547.12 380.0 547.34 374.9 547.56 377.0 547.78 382.7 548 380.8 548.22 378.1 548.44 378.8 548.66 386.5 548.88 375.4 549.10 374.9 549.32 381.7 549.54 343.5 549.76 389.6 549.98 373.3 550.20 381.3 550.42 383.3 550.64 386.5 550.86 382.0 551.08 375.7 551.30 380.4 551.52 386.9 551.74 376.0 551.96 386.7 552.18 376.4 552.40 381.3 552.62 343.0 552.84 377.7 553.06 380.4 553.28 381.9 553.50 382.9 553.72 377.7 553.94 380.8 554.16 376.8 554.38 372.3 554.60 388.2 554.82 385.3 555.04 387.5 555.26 371.7 555.48 383.8 555.70 382.0 555.92 373.7 556.14 383.1 556.36 386.4 556.58 343.4 556.80 383.8 557.02 384.6 557.24 385.9 557.46 378.2 557.68 370.6 557.90 373.5 558.12 371.9 558.34 382.2 558.56 379.8 558.78 372.8 559 379.8 559.22 373.9 559.44 371.1 559.66 371.7 559.88 342.4 560.10 371.3 560.32 373.7 560.54 375.4 560.76 375.7 560.98 372.8 561.20 378.6 561.42 380.6 561.64 381.7 561.86 380.2 562.08 381.9 562.30 384.5 562.52 371.6 562.74 375.2 562.96 374.7 563.18 348.5 563.40 371.0 563.62 371.4 563.84 386.5 564.06 375.0 564.28 383.8 564.50 379.9 564.72 378.6 564.94 385.8 565.16 375.9 565.38 371.3 565.60 377.7 565.82 383.1 566.04 379.5 566.26 380.5 566.48 381.2 566.70 382.9 566.92 384.1 567.14 377.2 567.36 346.9 567.58 386.0 567.80 373.4 568.02 381.5 568.24 376.9 568.46 386.6 568.68 386.4 568.90 373.2 569.12 383.0 569.34 380.1 569.56 379.1 569.78 372.3 570 379.5 570.22 373.7 570.44 381.3 570.66 344.0 570.88 384.3 571.10 376.7 571.32 374.2 571.54 385.7 571.76 376.9 571.98 382.9 572.20 378.6 572.42 379.7 572.64 373.1 572.86 387.4 573.08 380.4 573.30 385.8 573.52 386.7 573.74 337.1 573.96 377.3 574.18 386.2 574.40 379.0 574.62 374.6 574.84 376.3 575.06 385.4 575.28 384.9 575.50 377.0 575.72 380.8 575.94 379.3 576.16 377.2 576.38 391.9 576.60 386.4 576.82 391.5 577.04 384.0 577.26 342.2 577.48 383.7 577.70 388.9 577.92 381.7 578.14 387.3 578.36 384.5 578.58 387.3 578.80 390.9 579.02 379.3 579.24 393.9 579.46 384.9 579.68 390.1 579.90 390.1 580.12 388.6 580.34 387.0 580.56 388.7 580.78 385.3 581 359.6 581.22 396.1 581.44 390.7 581.66 395.2 581.88 392.5 582.10 394.3 582.32 393.0 582.54 391.1 582.76 395.9 582.98 390.7 583.20 382.4 583.42 379.5 583.64 393.9 583.86 392.9 584.08 391.3 584.30 389.3 584.52 390.0 584.74 361.2 584.96 382.3 585.18 393.2 585.40 391.7 585.62 388.8 585.84 386.9 586.06 381.5 586.28 385.8 586.50 393.0 586.72 385.9 586.94 385.9 587.16 395.7 587.38 394.9 587.60 390.6 587.82 389.8 588.04 382.4 588.26 394.4 588.48 351.5 588.70 385.1 588.92 393.8 589.14 381.2 589.36 384.9 589.58 382.4 589.80 382.9 590.02 382.9 590.24 384.1 590.46 385.7 590.68 384.6 590.90 396.0 591.12 380.4 591.34 384.0 591.56 383.8 591.78 354.9 592 385.6 592.22 387.3 592.44 391.0 592.66 388.5 592.88 394.8 593.10 386.0 593.32 381.6 593.54 393.2 593.76 381.8 593.98 392.5 594.20 394.7 594.42 386.6 594.64 382.2 594.86 393.0 595.08 385.4 595.30 381.6 595.52 382.2 595.74 360.4 595.96 387.7 596.18 392.3 596.40 386.0 596.62 394.3 596.84 380.7 597.06 387.9 597.28 397.1 597.50 391.3 597.72 393.7 597.94 397.0 598.16 392.2 598.38 383.8 598.60 355.5 598.82 385.6 599.04 396.9 599.26 385.4 599.48 389.3 599.70 389.1 599.92 396.3 600.14 382.4 600.36 385.5 600.58 385.6 600.80 382.6 601.02 392.6 601.24 391.4 601.46 388.4 601.68 395.8 601.90 383.3 602.12 356.1 602.34 380.3 602.56 385.5 602.78 388.3 603 380.3 603.22 390.6 603.44 386.7 603.66 394.1 603.88 392.2 604.10 381.2 604.32 393.4 604.54 383.0 604.76 391.7 604.98 385.0 605.20 392.2 605.42 386.2 605.64 386.8 605.86 355.1 606.08 394.3 606.30 381.6 606.52 381.5 606.74 378.8 606.96 383.4 607.18 381.7 607.40 388.5 607.62 385.2 607.84 382.8 608.06 386.2 608.28 378.4 608.50 384.8 608.72 393.3 608.94 392.6 609.16 390.9 609.38 388.4 609.60 379.5 609.82 355.6 610.04 388.8 610.26 390.2 610.48 386.4 610.70 378.6 610.92 377.1 611.14 387.3 611.36 379.3 611.58 381.4 611.80 383.8 612.02 388.0 612.24 376.6 612.46 381.3 612.68 388.6 612.90 384.9 613.12 349.2 613.34 381.4 613.56 383.2 613.78 382.6 614 383.4 614.22 380.1 614.44 381.2 614.66 389.2 614.88 377.7 615.10 382.6 615.32 387.9 615.54 384.6 615.76 377.2 615.98 390.0 616.20 387.0 616.42 343.6 616.64 389.7 616.86 388.3 617.08 382.2 617.30 391.2 617.52 381.4 617.74 391.1 617.96 385.7 618.18 388.7 618.40 383.5 618.62 383.6 618.84 379.2 619.06 380.2 619.28 384.4 619.50 375.4 619.72 381.1 619.94 346.6 620.16 378.2 620.38 383.0 620.60 375.3 620.82 382.4 621.04 378.6 621.26 383.5 621.48 378.7 621.70 380.3 621.92 380.8 622.14 376.0 622.36 384.8 622.58 390.2 622.80 379.4 623.02 386.4 623.24 382.2 623.46 344.7 623.68 391.6 623.90 376.0 624.12 390.2 624.34 391.4 624.56 390.1 624.78 376.6 625 376.8 625.22 389.8 625.44 378.0 625.66 385.8 625.88 384.8 626.10 381.4 626.32 391.5 626.54 378.8 626.76 376.8 626.98 379.9 627.20 347.6 627.42 380.0 627.64 378.7 627.86 376.5 628.08 379.0 628.30 389.1 628.52 378.4 628.74 387.3 628.96 376.6 629.18 386.0 629.40 390.2 629.62 385.5 629.84 390.8 630.06 387.8 630.28 377.9 630.50 383.0 630.72 344.2 630.94 389.3 631.16 383.0 631.38 418.0 631.60 376.6 631.82 378.8 632.04 378.6 632.26 396.3 632.48 375.2 632.70 387.6 632.92 378.7 633.14 379.4 633.36 378.2 633.58 330.2 633.80 379.8 634.02 383.5 634.24 350.9 634.46 382.6 634.68 388.1 634.90 388.0 635.12 376.9 635.34 383.7 635.56 382.8 635.78 385.5 636 376.6 636.22 389.4 636.44 379.4 636.66 376.0 636.88 386.4 637.10 383.2 637.32 392.0 637.54 351.9 637.76 391.9 637.98 386.5 638.20 385.0 638.42 378.4 638.64 391.4 638.86 385.1 639.08 377.2 639.30 380.6 639.52 389.9 639.74 382.7 639.96 377.4 640.18 392.0 640.40 380.6 640.62 377.9 640.84 380.7 641.06 383.2 641.28 385.7 641.50 384.7 641.72 386.9 641.94 357.3 642.16 380.7 642.38 377.1 642.60 390.2 642.82 391.2 643.04 389.7 643.26 387.8 643.48 391.7 643.70 387.8 643.92 386.0 644.14 381.0 644.36 385.6 644.58 388.5 644.80 381.0 645.02 383.0 645.24 347.2 645.46 391.0 645.68 383.7 645.90 379.5 646.12 390.1 646.34 391.3 646.56 380.2 646.78 378.6 647 380.3 647.22 384.6 647.44 393.0 647.66 395.3 647.88 384.0 648.10 386.3 648.32 392.9 648.54 345.1 648.76 380.9 648.98 382.5 649.20 382.0 649.42 390.9 649.64 382.5 649.86 382.4 650.08 389.9 650.30 381.7 650.52 392.7 650.74 378.9 650.96 378.5 651.18 394.2 651.40 393.5 651.62 391.7 651.84 394.1 652.06 388.5 652.28 344.9 652.50 388.8 652.72 389.9 652.94 384.8 653.16 383.9 653.38 392.5 653.60 381.5 653.82 389.3 654.04 388.2 654.26 380.2 654.48 392.6 654.70 389.6 654.92 391.8 655.14 390.4 655.36 386.4 655.58 349.6 655.80 378.4 656.02 390.5 656.24 387.5 656.46 389.6 656.68 388.2 656.90 393.0 657.12 393.0 657.34 387.2 657.56 392.8 657.78 394.1 658 384.9 658.22 392.4 658.44 386.9 658.66 381.0 658.88 349.0 659.10 382.3 659.32 384.6 659.54 380.5 659.76 385.1 659.98 382.1 660.20 382.7 660.42 378.1 660.64 390.3 660.86 388.5 661.08 382.4 661.30 391.4 661.52 390.5 661.74 391.9 661.96 377.0 662.18 380.5 662.40 385.1 662.62 391.9 662.84 382.5 663.06 383.1 663.28 351.1 663.50 378.3 663.72 377.3 663.94 382.6 664.16 382.5 664.38 375.8 664.60 380.1 664.82 382.4 665.04 386.8 665.26 382.2 665.48 375.4 665.70 379.8 665.92 377.2 666.14 382.4 666.36 381.3 666.58 358.1 666.80 392.7 667.02 379.2 667.24 385.4 667.46 389.4 667.68 382.8 667.90 378.8 668.12 383.3 668.34 378.2 668.56 388.6 668.78 393.6 669 379.9 669.22 386.1 669.44 380.7 669.66 387.6 669.88 358.4 670.10 386.5 670.32 379.7 670.54 376.9 670.76 381.6 670.98 390.3 671.20 383.0 671.42 393.7 671.64 389.2 671.86 378.0 672.08 390.6 672.30 384.5 672.52 390.1 672.74 387.5 672.96 394.2 673.18 378.3 673.40 392.3 673.62 354.0 673.84 393.4 674.06 389.1 674.28 381.7 674.50 379.9 674.72 386.4 674.94 378.0 675.16 381.9 675.38 381.5" fill="none" stroke="#ee3333" stroke-width="1" stroke-linejoin="bevel"/></g>
<path d="M47.34 270.0v-7.5M47.34 30.0v7.5M83.21 270.0v-4M83.21 30.0v4M119.07 270.0v-4M119.07 30.0v4M154.94 270.0v-4M154.94 30.0v4M190.8 270.0v-4M190.8 30.0v4M226.67 270.0v-7.5M226.67 30.0v7.5M262.54 270.0v-4M262.54 30.0v4M298.4 270.0v-4M298.4 30.0v4M334.27 270.0v-4M334.27 30.0v4M370.13 270.0v-4M370.13 30.0v4M406.0 270.0v-7.5M406.0 30.0v7.5M441.87 270.0v-4M441.87 30.0v4M477.73 270.0v-4M477.73 30.0v4M513.6 270.0v-4M513.6 30.0v4M549.46 270.0v-4M549.46 30.0v4M585.33 270.0v-7.5M585.33 30.0v7.5M621.2 270.0v-4M621.2 30.0v4M657.06 270.0v-4M657.06 30.0v4M37.5 264.99h4M675.0 264.99h-4M37.5 255.25h4M675.0 255.25h-4M37.5 245.5h7.5M675.0 245.5h-7.5M37.5 235.75h4M675.0 235.75h-4M37.5 226.01h4M675.0 226.01h-4M37.5 216.26h4M675.0 216.26h-4M37.5 206.52h4M675.0 206.52h-4M37.5 196.78h7.5M675.0 196.78h-7.5M37.5 187.03h4M675.0 187.03h-4M37.5 177.29h4M675.0 177.29h-4M37.5 167.54h4M675.0 167.54h-4M37.5 157.8h4M675.0 157.8h-4M37.5 148.05h7.5M675.0 148.05h-7.5M37.5 138.31h4M675.0 138.31h-4M37.5 128.56h4M675.0 128.56h-4M37.5 118.82h4M675.0 118.82h-4M37.5 109.07h4M675.0 109.07h-4M37.5 99.33h7.5M675.0 99.33h-7.5M37.5 89.58h4M675.0 89.58h-4M37.5 79.84h4M675.0 79.84h-4M37.5 70.09h4M675.0 70.09h-4M37.5 60.35h4M675.0 60.35h-4M37.5 50.6h7.5M675.0 50.6h-7.5M37.5 40.86h4M675.0 40.86h-4M37.5 31.11h4M675.0 31.11h-4" stroke="#000" stroke-width="1" fill="none"/>
<path d="M37.5 30.0H675.0M37.5 270.0H675.0M675.0 30.0V270.0" stroke="#000" stroke-width="1.1" fill="none"/>
<path d="M37.5 29.5V270.5" stroke="#000" stroke-width="1" fill="none"/>
<text x="47.3" y="284.5" text-anchor="middle">-200</text>
<text x="226.7" y="284.5" text-anchor="middle">-100</text>
<text x="406.0" y="284.5" text-anchor="middle">0</text>
<text x="585.3" y="284.5" text-anchor="middle">100</text>
<text transform="translate(30.2,245.5) rotate(-90)" text-anchor="middle">-20</text>
<text transform="translate(30.2,196.8) rotate(-90)" text-anchor="middle">-10</text>
<text transform="translate(30.2,148.1) rotate(-90)" text-anchor="middle">0</text>
<text transform="translate(30.2,99.3) rotate(-90)" text-anchor="middle">10</text>
<text transform="translate(30.2,50.6) rotate(-90)" text-anchor="middle">20</text>
<text x="356" y="293.0" text-anchor="middle" style="font-size:10.2px">Height of straight line (km)</text>
<text transform="translate(16.5,150) rotate(-90)" text-anchor="middle">Frequency (Hz)</text>
<path d="M47.34 570.0v-7.5M47.34 330.0v7.5M83.21 570.0v-4M83.21 330.0v4M119.07 570.0v-4M119.07 330.0v4M154.94 570.0v-4M154.94 330.0v4M190.8 570.0v-4M190.8 330.0v4M226.67 570.0v-7.5M226.67 330.0v7.5M262.54 570.0v-4M262.54 330.0v4M298.4 570.0v-4M298.4 330.0v4M334.27 570.0v-4M334.27 330.0v4M370.13 570.0v-4M370.13 330.0v4M406.0 570.0v-7.5M406.0 330.0v7.5M441.87 570.0v-4M441.87 330.0v4M477.73 570.0v-4M477.73 330.0v4M513.6 570.0v-4M513.6 330.0v4M549.46 570.0v-4M549.46 330.0v4M585.33 570.0v-7.5M585.33 330.0v7.5M621.2 570.0v-4M621.2 330.0v4M657.06 570.0v-4M657.06 330.0v4M37.5 570.0h7.5M675.0 570.0h-7.5M37.5 553.3h4M675.0 553.3h-4M37.5 536.6h4M675.0 536.6h-4M37.5 519.9h4M675.0 519.9h-4M37.5 503.2h7.5M675.0 503.2h-7.5M37.5 486.5h4M675.0 486.5h-4M37.5 469.8h4M675.0 469.8h-4M37.5 453.1h4M675.0 453.1h-4M37.5 436.4h7.5M675.0 436.4h-7.5M37.5 419.7h4M675.0 419.7h-4M37.5 403.0h4M675.0 403.0h-4M37.5 386.3h4M675.0 386.3h-4M37.5 369.6h7.5M675.0 369.6h-7.5M37.5 352.9h4M675.0 352.9h-4M37.5 336.2h4M675.0 336.2h-4" stroke="#000" stroke-width="1" fill="none"/>
<path d="M37.5 330.0H675.0M37.5 570.0H675.0M675.0 330.0V570.0" stroke="#000" stroke-width="1.1" fill="none"/>
<path d="M37.5 329.5V570.5" stroke="#000" stroke-width="1" fill="none"/>
<text x="47.3" y="584.5" text-anchor="middle">-200</text>
<text x="226.7" y="584.5" text-anchor="middle">-100</text>
<text x="406.0" y="584.5" text-anchor="middle">0</text>
<text x="585.3" y="584.5" text-anchor="middle">100</text>
<text transform="translate(30.2,570.0) rotate(-90)" text-anchor="middle">0</text>
<text transform="translate(30.2,503.2) rotate(-90)" text-anchor="middle">200</text>
<text transform="translate(30.2,436.4) rotate(-90)" text-anchor="middle">400</text>
<text transform="translate(30.2,369.6) rotate(-90)" text-anchor="middle">600</text>
<text x="356" y="593.0" text-anchor="middle" style="font-size:10.2px">Height of straight line (km)</text>
<text transform="translate(16.5,450) rotate(-90)" text-anchor="middle">SNR (10 * v/v)</text>
<defs><linearGradient id="cb" gradientUnits="userSpaceOnUse" x1="0" y1="269.5" x2="0" y2="29.5"><stop offset="0.042" stop-color="#8c20f0"/><stop offset="0.050" stop-color="#7a08f0"/><stop offset="0.069" stop-color="#6808f0"/><stop offset="0.080" stop-color="#5008f0"/><stop offset="0.098" stop-color="#4008f0"/><stop offset="0.123" stop-color="#2a08f0"/><stop offset="0.146" stop-color="#1010f0"/><stop offset="0.231" stop-color="#1070f0"/><stop offset="0.285" stop-color="#10b0f0"/><stop offset="0.333" stop-color="#10f0f0"/><stop offset="0.410" stop-color="#10f0a0"/><stop offset="0.515" stop-color="#10f010"/><stop offset="0.594" stop-color="#70f010"/><stop offset="0.646" stop-color="#b0f010"/><stop offset="0.713" stop-color="#f0f010"/><stop offset="0.744" stop-color="#f0c010"/><stop offset="0.785" stop-color="#f08c10"/><stop offset="0.828" stop-color="#f0501a"/><stop offset="0.904" stop-color="#f01010"/><stop offset="1.000" stop-color="#f00a82"/></linearGradient></defs>
<rect x="712" y="29.5" width="24" height="229.5" fill="url(#cb)"/>
<rect x="712" y="268.54" width="24" height="0.96" fill="#f0e8fd"/>
<rect x="712" y="266.50" width="24" height="2.04" fill="#e8dcfc"/>
<rect x="712" y="264.94" width="24" height="1.56" fill="#d8c0f8"/>
<rect x="712" y="263.50" width="24" height="1.44" fill="#c8a8f4"/>
<rect x="712" y="262.06" width="24" height="1.44" fill="#c090f4"/>
<rect x="712" y="261.10" width="24" height="0.96" fill="#b47cf2"/>
<rect x="712" y="259.42" width="24" height="1.68" fill="#a060f0"/>
<path d="M712 270.5h8M728 270.5h8" stroke="#aaa" stroke-width="1"/>
<text transform="translate(705.2,270.0) rotate(-90)" text-anchor="middle">0.0</text>
<text transform="translate(705.2,221.8) rotate(-90)" text-anchor="middle">0.2</text>
<text transform="translate(705.2,173.6) rotate(-90)" text-anchor="middle">0.4</text>
<text transform="translate(705.2,125.4) rotate(-90)" text-anchor="middle">0.6</text>
<text transform="translate(705.2,77.2) rotate(-90)" text-anchor="middle">0.8</text>
<text transform="translate(745.4,150) rotate(-90)" text-anchor="middle" style="font-size:10.2px">Normalized spectral amplitude</text>
<defs><clipPath id="c1"><rect x="37.5" y="30" width="637.5" height="240"/></clipPath><clipPath id="c2"><rect x="37.5" y="330" width="637.5" height="240"/></clipPath></defs>
</svg></body></html>
